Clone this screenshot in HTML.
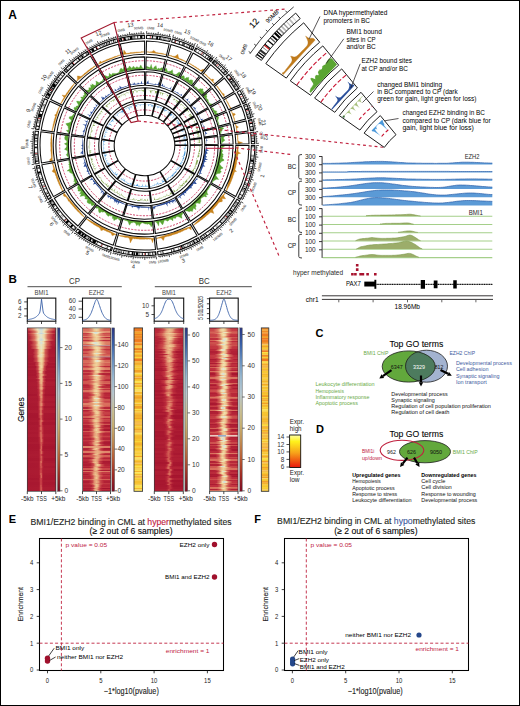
<!DOCTYPE html><html><head><meta charset="utf-8"><style>html,body{margin:0;padding:0;background:#fff}svg{display:block}</style></head><body><svg width="520" height="706" viewBox="0 0 520 706" font-family="'Liberation Sans', sans-serif"><defs><linearGradient id="a0"><stop offset="0.00" stop-color="#c0313f"/><stop offset="0.18" stop-color="#df856a"/><stop offset="0.35" stop-color="#ece3be"/><stop offset="0.48" stop-color="#c6d8de"/><stop offset="0.62" stop-color="#ece3be"/><stop offset="0.79" stop-color="#df856a"/><stop offset="1.00" stop-color="#be2e3d"/></linearGradient><linearGradient id="a1"><stop offset="0.00" stop-color="#b9293a"/><stop offset="0.01" stop-color="#ba293a"/><stop offset="0.22" stop-color="#dd7c65"/><stop offset="0.37" stop-color="#f1e2b1"/><stop offset="0.49" stop-color="#d4e0dc"/><stop offset="0.61" stop-color="#f1e2b2"/><stop offset="0.75" stop-color="#dd7e66"/><stop offset="0.97" stop-color="#bb2b3b"/><stop offset="1.00" stop-color="#ba2a3a"/></linearGradient><linearGradient id="a2"><stop offset="0.00" stop-color="#b22236"/><stop offset="0.08" stop-color="#b52437"/><stop offset="0.27" stop-color="#db7561"/><stop offset="0.39" stop-color="#f2e2b0"/><stop offset="0.49" stop-color="#d4e0dc"/><stop offset="0.59" stop-color="#f2e2b1"/><stop offset="0.71" stop-color="#db7762"/><stop offset="0.90" stop-color="#b62538"/><stop offset="1.00" stop-color="#b32336"/></linearGradient><linearGradient id="a3"><stop offset="0.00" stop-color="#b42437"/><stop offset="0.20" stop-color="#dc7a63"/><stop offset="0.36" stop-color="#ebe3bf"/><stop offset="0.49" stop-color="#c1d5df"/><stop offset="0.62" stop-color="#ebe3bf"/><stop offset="0.77" stop-color="#dc7b64"/><stop offset="1.00" stop-color="#b32336"/><stop offset="1.00" stop-color="#b32336"/></linearGradient><linearGradient id="a4"><stop offset="0.00" stop-color="#b01f35"/><stop offset="0.04" stop-color="#b12135"/><stop offset="0.23" stop-color="#d86b5a"/><stop offset="0.37" stop-color="#f1daa6"/><stop offset="0.48" stop-color="#e1e6d6"/><stop offset="0.59" stop-color="#f1d9a5"/><stop offset="0.72" stop-color="#d76859"/><stop offset="0.92" stop-color="#b01f34"/><stop offset="1.00" stop-color="#ad1d33"/></linearGradient><linearGradient id="a5"><stop offset="0.00" stop-color="#ae1e34"/><stop offset="0.07" stop-color="#b02035"/><stop offset="0.25" stop-color="#d76859"/><stop offset="0.38" stop-color="#f1d8a4"/><stop offset="0.48" stop-color="#e2e5d4"/><stop offset="0.59" stop-color="#f1d9a5"/><stop offset="0.71" stop-color="#d86b5b"/><stop offset="0.90" stop-color="#b22236"/><stop offset="1.00" stop-color="#b01f34"/></linearGradient><linearGradient id="a6"><stop offset="0.00" stop-color="#af1e34"/><stop offset="0.08" stop-color="#b12135"/><stop offset="0.26" stop-color="#d9705d"/><stop offset="0.38" stop-color="#f2e1af"/><stop offset="0.49" stop-color="#d5e0dc"/><stop offset="0.59" stop-color="#f2e1ae"/><stop offset="0.71" stop-color="#d96f5d"/><stop offset="0.90" stop-color="#b12035"/><stop offset="1.00" stop-color="#ae1e33"/></linearGradient><linearGradient id="a7"><stop offset="0.00" stop-color="#ae1d33"/><stop offset="0.04" stop-color="#af1e34"/><stop offset="0.24" stop-color="#da705e"/><stop offset="0.38" stop-color="#f0e2b4"/><stop offset="0.49" stop-color="#ccdcdd"/><stop offset="0.60" stop-color="#f0e2b5"/><stop offset="0.74" stop-color="#da725f"/><stop offset="0.94" stop-color="#b02035"/><stop offset="1.00" stop-color="#ae1d33"/></linearGradient><linearGradient id="a8"><stop offset="0.00" stop-color="#ac1b32"/><stop offset="0.12" stop-color="#ae1e33"/><stop offset="0.28" stop-color="#d56457"/><stop offset="0.39" stop-color="#f0d7a2"/><stop offset="0.48" stop-color="#e3e5d1"/><stop offset="0.57" stop-color="#f0d7a2"/><stop offset="0.67" stop-color="#d66658"/><stop offset="0.83" stop-color="#b01f34"/><stop offset="1.00" stop-color="#ad1c33"/></linearGradient><linearGradient id="a9"><stop offset="0.00" stop-color="#ab1b32"/><stop offset="0.14" stop-color="#ae1e33"/><stop offset="0.30" stop-color="#d86b5a"/><stop offset="0.40" stop-color="#f2dfac"/><stop offset="0.49" stop-color="#d7e1db"/><stop offset="0.58" stop-color="#f2dfad"/><stop offset="0.69" stop-color="#d96d5c"/><stop offset="0.85" stop-color="#b01f35"/><stop offset="1.00" stop-color="#ad1d33"/></linearGradient><linearGradient id="a10"><stop offset="0.00" stop-color="#a91830"/><stop offset="0.09" stop-color="#ab1b32"/><stop offset="0.27" stop-color="#d35d54"/><stop offset="0.38" stop-color="#f0d39d"/><stop offset="0.48" stop-color="#e6e4ca"/><stop offset="0.58" stop-color="#f0d39e"/><stop offset="0.70" stop-color="#d46155"/><stop offset="0.88" stop-color="#ae1d33"/><stop offset="1.00" stop-color="#ab1b32"/></linearGradient><linearGradient id="a11"><stop offset="0.00" stop-color="#aa1a31"/><stop offset="0.13" stop-color="#ad1c33"/><stop offset="0.29" stop-color="#d25c53"/><stop offset="0.40" stop-color="#efcf99"/><stop offset="0.49" stop-color="#eae4c2"/><stop offset="0.58" stop-color="#efcf98"/><stop offset="0.68" stop-color="#d15a52"/><stop offset="0.84" stop-color="#ac1b32"/><stop offset="1.00" stop-color="#a91830"/></linearGradient><linearGradient id="a12"><stop offset="0.00" stop-color="#a91830"/><stop offset="0.11" stop-color="#ab1a32"/><stop offset="0.28" stop-color="#d25b53"/><stop offset="0.39" stop-color="#efd19b"/><stop offset="0.49" stop-color="#e8e4c6"/><stop offset="0.58" stop-color="#efd09a"/><stop offset="0.70" stop-color="#d05851"/><stop offset="0.87" stop-color="#a91830"/><stop offset="1.00" stop-color="#a6152f"/></linearGradient><linearGradient id="a13"><stop offset="0.00" stop-color="#a91830"/><stop offset="0.21" stop-color="#ab1b32"/><stop offset="0.34" stop-color="#d05751"/><stop offset="0.42" stop-color="#eecb94"/><stop offset="0.49" stop-color="#ede3ba"/><stop offset="0.56" stop-color="#eecb93"/><stop offset="0.64" stop-color="#cf544f"/><stop offset="0.77" stop-color="#aa1931"/><stop offset="1.00" stop-color="#a7162f"/></linearGradient><linearGradient id="a14"><stop offset="0.00" stop-color="#aa1a31"/><stop offset="0.21" stop-color="#ad1c33"/><stop offset="0.33" stop-color="#d25c53"/><stop offset="0.42" stop-color="#efcf98"/><stop offset="0.49" stop-color="#eae4c1"/><stop offset="0.56" stop-color="#efce98"/><stop offset="0.64" stop-color="#d15952"/><stop offset="0.77" stop-color="#ab1a32"/><stop offset="1.00" stop-color="#a81830"/></linearGradient><linearGradient id="a15"><stop offset="0.00" stop-color="#ab1a31"/><stop offset="0.19" stop-color="#ad1c33"/><stop offset="0.32" stop-color="#d05650"/><stop offset="0.41" stop-color="#eec78f"/><stop offset="0.48" stop-color="#f1e2b2"/><stop offset="0.55" stop-color="#eec78f"/><stop offset="0.64" stop-color="#cf544f"/><stop offset="0.77" stop-color="#ac1b32"/><stop offset="1.00" stop-color="#a91931"/></linearGradient><linearGradient id="a16"><stop offset="0.00" stop-color="#ac1c32"/><stop offset="0.22" stop-color="#af1e34"/><stop offset="0.34" stop-color="#d46055"/><stop offset="0.42" stop-color="#efd19b"/><stop offset="0.49" stop-color="#e9e4c5"/><stop offset="0.56" stop-color="#efd09a"/><stop offset="0.64" stop-color="#d35e54"/><stop offset="0.76" stop-color="#ad1d33"/><stop offset="1.00" stop-color="#ab1a31"/></linearGradient><linearGradient id="a17"><stop offset="0.00" stop-color="#a91830"/><stop offset="0.19" stop-color="#ac1b32"/><stop offset="0.32" stop-color="#d15a52"/><stop offset="0.40" stop-color="#efcf98"/><stop offset="0.48" stop-color="#eae4c2"/><stop offset="0.55" stop-color="#efcf99"/><stop offset="0.64" stop-color="#d35e54"/><stop offset="0.77" stop-color="#ae1e33"/><stop offset="1.00" stop-color="#ac1b32"/></linearGradient><linearGradient id="a18"><stop offset="0.00" stop-color="#a81730"/><stop offset="0.19" stop-color="#aa1a31"/><stop offset="0.32" stop-color="#cd4e4d"/><stop offset="0.41" stop-color="#ecc08c"/><stop offset="0.48" stop-color="#f1deab"/><stop offset="0.55" stop-color="#ecc08b"/><stop offset="0.64" stop-color="#cc4d4c"/><stop offset="0.77" stop-color="#a91831"/><stop offset="1.00" stop-color="#a7162f"/></linearGradient><linearGradient id="a19"><stop offset="0.00" stop-color="#a7162f"/><stop offset="0.21" stop-color="#a91931"/><stop offset="0.33" stop-color="#ca494a"/><stop offset="0.41" stop-color="#ebb887"/><stop offset="0.48" stop-color="#f0d8a3"/><stop offset="0.55" stop-color="#ebb887"/><stop offset="0.63" stop-color="#cb4a4a"/><stop offset="0.75" stop-color="#aa1931"/><stop offset="1.00" stop-color="#a81730"/></linearGradient><linearGradient id="a20"><stop offset="0.00" stop-color="#a91830"/><stop offset="0.20" stop-color="#ab1a32"/><stop offset="0.33" stop-color="#cd4e4d"/><stop offset="0.41" stop-color="#ecbf8b"/><stop offset="0.48" stop-color="#f1dda9"/><stop offset="0.55" stop-color="#ecbf8b"/><stop offset="0.64" stop-color="#cd4f4d"/><stop offset="0.77" stop-color="#ab1b32"/><stop offset="1.00" stop-color="#a91830"/></linearGradient><linearGradient id="a21"><stop offset="0.00" stop-color="#ab1b32"/><stop offset="0.28" stop-color="#ad1d33"/><stop offset="0.37" stop-color="#cc4d4c"/><stop offset="0.44" stop-color="#eab586"/><stop offset="0.49" stop-color="#f0d49f"/><stop offset="0.55" stop-color="#eab686"/><stop offset="0.61" stop-color="#cd4f4d"/><stop offset="0.71" stop-color="#af1e34"/><stop offset="1.00" stop-color="#ad1c33"/></linearGradient><linearGradient id="a22"><stop offset="0.00" stop-color="#a81730"/><stop offset="0.25" stop-color="#aa1931"/><stop offset="0.36" stop-color="#c94649"/><stop offset="0.43" stop-color="#e9b183"/><stop offset="0.49" stop-color="#f0d29c"/><stop offset="0.55" stop-color="#e9b183"/><stop offset="0.63" stop-color="#c84447"/><stop offset="0.74" stop-color="#a81830"/><stop offset="1.00" stop-color="#a6152f"/></linearGradient><linearGradient id="a23"><stop offset="0.00" stop-color="#ac1b32"/><stop offset="0.26" stop-color="#ae1d33"/><stop offset="0.36" stop-color="#cf534f"/><stop offset="0.43" stop-color="#ecc08c"/><stop offset="0.48" stop-color="#f1ddaa"/><stop offset="0.54" stop-color="#ecc08b"/><stop offset="0.61" stop-color="#cd504e"/><stop offset="0.71" stop-color="#ac1b32"/><stop offset="1.00" stop-color="#aa1931"/></linearGradient><linearGradient id="a24"><stop offset="0.00" stop-color="#a7162f"/><stop offset="0.29" stop-color="#a91830"/><stop offset="0.38" stop-color="#cb4b4b"/><stop offset="0.44" stop-color="#ecbe8a"/><stop offset="0.49" stop-color="#f1dca9"/><stop offset="0.54" stop-color="#ecbd8a"/><stop offset="0.60" stop-color="#ca494a"/><stop offset="0.68" stop-color="#a81730"/><stop offset="1.00" stop-color="#a5142e"/></linearGradient><linearGradient id="a25"><stop offset="0.00" stop-color="#ab1a32"/><stop offset="0.28" stop-color="#ad1c33"/><stop offset="0.37" stop-color="#cb4b4b"/><stop offset="0.43" stop-color="#eab384"/><stop offset="0.48" stop-color="#f0d29c"/><stop offset="0.53" stop-color="#eab384"/><stop offset="0.59" stop-color="#cc4d4c"/><stop offset="0.67" stop-color="#ae1d33"/><stop offset="1.00" stop-color="#ac1b32"/></linearGradient><linearGradient id="a26"><stop offset="0.00" stop-color="#a7162f"/><stop offset="0.28" stop-color="#a91830"/><stop offset="0.38" stop-color="#c63e45"/><stop offset="0.44" stop-color="#e7a57d"/><stop offset="0.49" stop-color="#eec890"/><stop offset="0.54" stop-color="#e7a57d"/><stop offset="0.60" stop-color="#c63f45"/><stop offset="0.70" stop-color="#a91931"/><stop offset="1.00" stop-color="#a7172f"/></linearGradient><linearGradient id="a27"><stop offset="0.00" stop-color="#a81730"/><stop offset="0.30" stop-color="#aa1931"/><stop offset="0.38" stop-color="#ca4749"/><stop offset="0.43" stop-color="#eab385"/><stop offset="0.48" stop-color="#f0d39e"/><stop offset="0.52" stop-color="#eab384"/><stop offset="0.57" stop-color="#c94548"/><stop offset="0.65" stop-color="#a91830"/><stop offset="1.00" stop-color="#a7162f"/></linearGradient><linearGradient id="a28"><stop offset="0.00" stop-color="#a91830"/><stop offset="0.31" stop-color="#ab1a31"/><stop offset="0.39" stop-color="#c53b43"/><stop offset="0.44" stop-color="#e49976"/><stop offset="0.48" stop-color="#ebba88"/><stop offset="0.52" stop-color="#e49976"/><stop offset="0.58" stop-color="#c53b44"/><stop offset="0.65" stop-color="#ab1a32"/><stop offset="1.00" stop-color="#a91830"/></linearGradient><linearGradient id="a29"><stop offset="0.00" stop-color="#a7162f"/><stop offset="0.29" stop-color="#a91830"/><stop offset="0.38" stop-color="#c43b43"/><stop offset="0.44" stop-color="#e69e79"/><stop offset="0.49" stop-color="#ecc08b"/><stop offset="0.54" stop-color="#e69f79"/><stop offset="0.61" stop-color="#c53c44"/><stop offset="0.70" stop-color="#aa1931"/><stop offset="1.00" stop-color="#a81730"/></linearGradient><linearGradient id="a30"><stop offset="0.00" stop-color="#aa1931"/><stop offset="0.32" stop-color="#ac1b32"/><stop offset="0.39" stop-color="#c74146"/><stop offset="0.44" stop-color="#e6a27b"/><stop offset="0.48" stop-color="#edc28d"/><stop offset="0.52" stop-color="#e6a17b"/><stop offset="0.56" stop-color="#c53d44"/><stop offset="0.64" stop-color="#a91931"/><stop offset="1.00" stop-color="#a8172f"/></linearGradient><linearGradient id="a31"><stop offset="0.00" stop-color="#ab1b32"/><stop offset="0.28" stop-color="#ad1c33"/><stop offset="0.37" stop-color="#c74247"/><stop offset="0.43" stop-color="#e6a27b"/><stop offset="0.48" stop-color="#edc28d"/><stop offset="0.53" stop-color="#e6a27b"/><stop offset="0.58" stop-color="#c84347"/><stop offset="0.67" stop-color="#ae1d33"/><stop offset="1.00" stop-color="#ac1b32"/></linearGradient><linearGradient id="a32"><stop offset="0.00" stop-color="#a91830"/><stop offset="0.33" stop-color="#ab1a31"/><stop offset="0.41" stop-color="#c53d44"/><stop offset="0.45" stop-color="#e69e79"/><stop offset="0.49" stop-color="#ecbf8b"/><stop offset="0.53" stop-color="#e59d78"/><stop offset="0.58" stop-color="#c43a43"/><stop offset="0.65" stop-color="#a91830"/><stop offset="1.00" stop-color="#a7162f"/></linearGradient><linearGradient id="a33"><stop offset="0.00" stop-color="#a91831"/><stop offset="0.31" stop-color="#ab1a32"/><stop offset="0.39" stop-color="#c53c44"/><stop offset="0.44" stop-color="#e59a77"/><stop offset="0.49" stop-color="#ebbb89"/><stop offset="0.53" stop-color="#e59b77"/><stop offset="0.59" stop-color="#c63e45"/><stop offset="0.67" stop-color="#ac1b32"/><stop offset="1.00" stop-color="#aa1a31"/></linearGradient><linearGradient id="a34"><stop offset="0.00" stop-color="#ab1a31"/><stop offset="0.34" stop-color="#ac1c32"/><stop offset="0.40" stop-color="#c63f45"/><stop offset="0.45" stop-color="#e59d78"/><stop offset="0.49" stop-color="#ecbc8a"/><stop offset="0.52" stop-color="#e59e79"/><stop offset="0.57" stop-color="#c74247"/><stop offset="0.64" stop-color="#af1e34"/><stop offset="1.00" stop-color="#ad1c33"/></linearGradient><linearGradient id="a35"><stop offset="0.00" stop-color="#ab1a32"/><stop offset="0.33" stop-color="#ad1c32"/><stop offset="0.40" stop-color="#c33741"/><stop offset="0.45" stop-color="#e0886c"/><stop offset="0.49" stop-color="#e8a87f"/><stop offset="0.53" stop-color="#e0886c"/><stop offset="0.58" stop-color="#c33742"/><stop offset="0.66" stop-color="#ad1c33"/><stop offset="1.00" stop-color="#ab1b32"/></linearGradient><linearGradient id="a36"><stop offset="0.00" stop-color="#aa1931"/><stop offset="0.34" stop-color="#ab1a32"/><stop offset="0.40" stop-color="#c1333f"/><stop offset="0.45" stop-color="#de8268"/><stop offset="0.49" stop-color="#e7a47c"/><stop offset="0.52" stop-color="#de8168"/><stop offset="0.57" stop-color="#c0303e"/><stop offset="0.64" stop-color="#a91830"/><stop offset="1.00" stop-color="#a7172f"/></linearGradient><linearGradient id="a37"><stop offset="0.00" stop-color="#aa1931"/><stop offset="0.33" stop-color="#ab1b32"/><stop offset="0.40" stop-color="#c43a43"/><stop offset="0.45" stop-color="#e39473"/><stop offset="0.49" stop-color="#eab585"/><stop offset="0.53" stop-color="#e39473"/><stop offset="0.58" stop-color="#c43942"/><stop offset="0.65" stop-color="#ab1a31"/><stop offset="1.00" stop-color="#a91830"/></linearGradient><linearGradient id="a38"><stop offset="0.00" stop-color="#aa1a31"/><stop offset="0.35" stop-color="#ac1b32"/><stop offset="0.41" stop-color="#c23440"/><stop offset="0.45" stop-color="#df8369"/><stop offset="0.49" stop-color="#e7a57d"/><stop offset="0.53" stop-color="#de8269"/><stop offset="0.57" stop-color="#c0313e"/><stop offset="0.63" stop-color="#aa1931"/><stop offset="1.00" stop-color="#a81730"/></linearGradient><linearGradient id="a39"><stop offset="0.00" stop-color="#aa1a31"/><stop offset="0.34" stop-color="#ac1b32"/><stop offset="0.40" stop-color="#be2e3d"/><stop offset="0.45" stop-color="#d96e5c"/><stop offset="0.48" stop-color="#e18b6e"/><stop offset="0.52" stop-color="#d96e5c"/><stop offset="0.56" stop-color="#bd2d3c"/><stop offset="0.63" stop-color="#aa1931"/><stop offset="1.00" stop-color="#a91830"/></linearGradient><linearGradient id="a40"><stop offset="0.00" stop-color="#aa1931"/><stop offset="0.35" stop-color="#ab1b32"/><stop offset="0.41" stop-color="#c0303e"/><stop offset="0.46" stop-color="#dc7b64"/><stop offset="0.49" stop-color="#e59c77"/><stop offset="0.53" stop-color="#dc7a64"/><stop offset="0.57" stop-color="#bf2f3e"/><stop offset="0.64" stop-color="#aa1931"/><stop offset="1.00" stop-color="#a91830"/></linearGradient><linearGradient id="a41"><stop offset="0.00" stop-color="#a6152f"/><stop offset="0.33" stop-color="#a81730"/><stop offset="0.40" stop-color="#bc2c3b"/><stop offset="0.44" stop-color="#da705e"/><stop offset="0.48" stop-color="#e29070"/><stop offset="0.52" stop-color="#d96f5d"/><stop offset="0.56" stop-color="#ba2a3b"/><stop offset="0.62" stop-color="#a6152f"/><stop offset="1.00" stop-color="#a5142e"/></linearGradient><linearGradient id="a42"><stop offset="0.00" stop-color="#ab1a32"/><stop offset="0.36" stop-color="#ad1c32"/><stop offset="0.42" stop-color="#c1313f"/><stop offset="0.46" stop-color="#dc7a64"/><stop offset="0.49" stop-color="#e49a76"/><stop offset="0.52" stop-color="#dc7a63"/><stop offset="0.56" stop-color="#c0303e"/><stop offset="0.62" stop-color="#ac1b32"/><stop offset="1.00" stop-color="#aa1a31"/></linearGradient><linearGradient id="a43"><stop offset="0.00" stop-color="#aa1931"/><stop offset="0.36" stop-color="#ab1a32"/><stop offset="0.42" stop-color="#bc2c3c"/><stop offset="0.46" stop-color="#d66658"/><stop offset="0.49" stop-color="#de8167"/><stop offset="0.52" stop-color="#d76758"/><stop offset="0.56" stop-color="#be2d3d"/><stop offset="0.62" stop-color="#ad1d33"/><stop offset="1.00" stop-color="#ac1b32"/></linearGradient><linearGradient id="a44"><stop offset="0.00" stop-color="#ab1a32"/><stop offset="0.35" stop-color="#ac1b32"/><stop offset="0.41" stop-color="#bd2d3c"/><stop offset="0.45" stop-color="#d76959"/><stop offset="0.48" stop-color="#df8369"/><stop offset="0.51" stop-color="#d76859"/><stop offset="0.55" stop-color="#bc2c3c"/><stop offset="0.61" stop-color="#aa1931"/><stop offset="1.00" stop-color="#a91830"/></linearGradient><linearGradient id="a45"><stop offset="0.00" stop-color="#a91830"/><stop offset="0.35" stop-color="#aa1a31"/><stop offset="0.41" stop-color="#be2e3d"/><stop offset="0.45" stop-color="#da735f"/><stop offset="0.49" stop-color="#e29272"/><stop offset="0.52" stop-color="#db7460"/><stop offset="0.57" stop-color="#c0303e"/><stop offset="0.63" stop-color="#ad1c33"/><stop offset="1.00" stop-color="#ab1b32"/></linearGradient><linearGradient id="a46"><stop offset="0.00" stop-color="#a81730"/><stop offset="0.36" stop-color="#a91830"/><stop offset="0.41" stop-color="#b82839"/><stop offset="0.45" stop-color="#d05751"/><stop offset="0.48" stop-color="#da715e"/><stop offset="0.51" stop-color="#d05751"/><stop offset="0.55" stop-color="#b72739"/><stop offset="0.60" stop-color="#a7162f"/><stop offset="1.00" stop-color="#a6152f"/></linearGradient><linearGradient id="a47"><stop offset="0.00" stop-color="#a91830"/><stop offset="0.36" stop-color="#aa1931"/><stop offset="0.41" stop-color="#bb2b3b"/><stop offset="0.45" stop-color="#d76758"/><stop offset="0.48" stop-color="#de8369"/><stop offset="0.51" stop-color="#d76859"/><stop offset="0.55" stop-color="#bd2c3c"/><stop offset="0.60" stop-color="#ac1b32"/><stop offset="1.00" stop-color="#aa1a31"/></linearGradient><linearGradient id="a48"><stop offset="0.00" stop-color="#ac1b32"/><stop offset="0.37" stop-color="#ad1c33"/><stop offset="0.42" stop-color="#bc2c3c"/><stop offset="0.45" stop-color="#d46055"/><stop offset="0.48" stop-color="#dc7a63"/><stop offset="0.50" stop-color="#d46156"/><stop offset="0.53" stop-color="#bd2d3d"/><stop offset="0.58" stop-color="#af1e34"/><stop offset="1.00" stop-color="#ae1d33"/></linearGradient><linearGradient id="a49"><stop offset="0.00" stop-color="#a7162f"/><stop offset="0.36" stop-color="#a81730"/><stop offset="0.41" stop-color="#ba2a3a"/><stop offset="0.45" stop-color="#d66658"/><stop offset="0.48" stop-color="#de8369"/><stop offset="0.51" stop-color="#d76758"/><stop offset="0.55" stop-color="#bb2b3b"/><stop offset="0.60" stop-color="#a91831"/><stop offset="1.00" stop-color="#a81730"/></linearGradient><linearGradient id="a50"><stop offset="0.00" stop-color="#a6162f"/><stop offset="0.36" stop-color="#a7162f"/><stop offset="0.41" stop-color="#b62638"/><stop offset="0.45" stop-color="#cd504d"/><stop offset="0.48" stop-color="#d76859"/><stop offset="0.50" stop-color="#cd514e"/><stop offset="0.54" stop-color="#b72739"/><stop offset="0.59" stop-color="#a91830"/><stop offset="1.00" stop-color="#a81730"/></linearGradient><linearGradient id="a51"><stop offset="0.00" stop-color="#a81730"/><stop offset="0.39" stop-color="#a91830"/><stop offset="0.43" stop-color="#b62638"/><stop offset="0.46" stop-color="#cd4f4d"/><stop offset="0.49" stop-color="#d76758"/><stop offset="0.51" stop-color="#cd4f4d"/><stop offset="0.54" stop-color="#b62638"/><stop offset="0.59" stop-color="#a81730"/><stop offset="1.00" stop-color="#a7162f"/></linearGradient><linearGradient id="a52"><stop offset="0.00" stop-color="#aa1931"/><stop offset="0.37" stop-color="#ab1a31"/><stop offset="0.42" stop-color="#bb2b3b"/><stop offset="0.46" stop-color="#d46156"/><stop offset="0.49" stop-color="#dd7b64"/><stop offset="0.52" stop-color="#d56256"/><stop offset="0.56" stop-color="#bc2c3b"/><stop offset="0.61" stop-color="#ac1b32"/><stop offset="1.00" stop-color="#ab1a31"/></linearGradient><linearGradient id="a53"><stop offset="0.00" stop-color="#a7172f"/><stop offset="0.38" stop-color="#a81830"/><stop offset="0.42" stop-color="#b82839"/><stop offset="0.45" stop-color="#d15851"/><stop offset="0.48" stop-color="#da725f"/><stop offset="0.50" stop-color="#d15851"/><stop offset="0.53" stop-color="#b82839"/><stop offset="0.57" stop-color="#a81730"/><stop offset="1.00" stop-color="#a7162f"/></linearGradient><linearGradient id="a54"><stop offset="0.00" stop-color="#aa1931"/><stop offset="0.38" stop-color="#ab1a32"/><stop offset="0.43" stop-color="#b82739"/><stop offset="0.46" stop-color="#cc4d4c"/><stop offset="0.48" stop-color="#d56357"/><stop offset="0.51" stop-color="#cc4e4c"/><stop offset="0.54" stop-color="#b9283a"/><stop offset="0.58" stop-color="#ac1b32"/><stop offset="1.00" stop-color="#ab1b32"/></linearGradient><linearGradient id="a55"><stop offset="0.00" stop-color="#a91830"/><stop offset="0.37" stop-color="#aa1931"/><stop offset="0.42" stop-color="#ba293a"/><stop offset="0.45" stop-color="#d25b53"/><stop offset="0.48" stop-color="#db7460"/><stop offset="0.51" stop-color="#d25c53"/><stop offset="0.54" stop-color="#bb2a3b"/><stop offset="0.60" stop-color="#ac1b32"/><stop offset="1.00" stop-color="#ab1a31"/></linearGradient><linearGradient id="a56"><stop offset="0.00" stop-color="#ab1a32"/><stop offset="0.37" stop-color="#ac1b32"/><stop offset="0.42" stop-color="#b72739"/><stop offset="0.46" stop-color="#ca4849"/><stop offset="0.49" stop-color="#d25b53"/><stop offset="0.52" stop-color="#c94749"/><stop offset="0.55" stop-color="#b62638"/><stop offset="0.60" stop-color="#aa1931"/><stop offset="1.00" stop-color="#a91831"/></linearGradient><linearGradient id="a57"><stop offset="0.00" stop-color="#a91830"/><stop offset="0.37" stop-color="#aa1931"/><stop offset="0.42" stop-color="#b9293a"/><stop offset="0.45" stop-color="#d15852"/><stop offset="0.48" stop-color="#da715e"/><stop offset="0.51" stop-color="#d15952"/><stop offset="0.54" stop-color="#b9293a"/><stop offset="0.60" stop-color="#aa1931"/><stop offset="1.00" stop-color="#a91830"/></linearGradient><linearGradient id="a58"><stop offset="0.00" stop-color="#ab1a32"/><stop offset="0.37" stop-color="#ac1b32"/><stop offset="0.42" stop-color="#bb2b3b"/><stop offset="0.46" stop-color="#d35e54"/><stop offset="0.48" stop-color="#db7762"/><stop offset="0.51" stop-color="#d35f55"/><stop offset="0.55" stop-color="#bc2c3c"/><stop offset="0.60" stop-color="#ad1c33"/><stop offset="1.00" stop-color="#ac1b32"/></linearGradient><linearGradient id="a59"><stop offset="0.00" stop-color="#a7172f"/><stop offset="0.38" stop-color="#a81830"/><stop offset="0.43" stop-color="#b82839"/><stop offset="0.46" stop-color="#d15851"/><stop offset="0.49" stop-color="#da725f"/><stop offset="0.51" stop-color="#d15952"/><stop offset="0.54" stop-color="#b9293a"/><stop offset="0.59" stop-color="#aa1931"/><stop offset="1.00" stop-color="#a91830"/></linearGradient><linearGradient id="a60"><stop offset="0.00" stop-color="#a8172f"/><stop offset="0.38" stop-color="#a91830"/><stop offset="0.43" stop-color="#b9293a"/><stop offset="0.47" stop-color="#d35d54"/><stop offset="0.49" stop-color="#dc7862"/><stop offset="0.52" stop-color="#d35d54"/><stop offset="0.55" stop-color="#b9293a"/><stop offset="0.60" stop-color="#a91830"/><stop offset="1.00" stop-color="#a81730"/></linearGradient><linearGradient id="a61"><stop offset="0.00" stop-color="#ab1a31"/><stop offset="0.39" stop-color="#ab1b32"/><stop offset="0.43" stop-color="#b72739"/><stop offset="0.46" stop-color="#ca484a"/><stop offset="0.49" stop-color="#d25c53"/><stop offset="0.52" stop-color="#ca484a"/><stop offset="0.55" stop-color="#b72638"/><stop offset="0.59" stop-color="#ab1a31"/><stop offset="1.00" stop-color="#aa1931"/></linearGradient><linearGradient id="a62"><stop offset="0.00" stop-color="#a7162f"/><stop offset="0.40" stop-color="#a81730"/><stop offset="0.44" stop-color="#b52538"/><stop offset="0.47" stop-color="#cb4a4b"/><stop offset="0.49" stop-color="#d46156"/><stop offset="0.51" stop-color="#cb4a4b"/><stop offset="0.54" stop-color="#b52538"/><stop offset="0.58" stop-color="#a81730"/><stop offset="1.00" stop-color="#a7162f"/></linearGradient><linearGradient id="a63"><stop offset="0.00" stop-color="#a7162f"/><stop offset="0.41" stop-color="#a8172f"/><stop offset="0.45" stop-color="#b72739"/><stop offset="0.47" stop-color="#d05751"/><stop offset="0.49" stop-color="#da715e"/><stop offset="0.51" stop-color="#d05650"/><stop offset="0.53" stop-color="#b62638"/><stop offset="0.57" stop-color="#a6152e"/><stop offset="1.00" stop-color="#a5142e"/></linearGradient><linearGradient id="a64"><stop offset="0.00" stop-color="#a81730"/><stop offset="0.40" stop-color="#a91830"/><stop offset="0.43" stop-color="#b82839"/><stop offset="0.46" stop-color="#d05751"/><stop offset="0.48" stop-color="#d9705d"/><stop offset="0.50" stop-color="#d05751"/><stop offset="0.52" stop-color="#b82839"/><stop offset="0.56" stop-color="#a91831"/><stop offset="1.00" stop-color="#a81730"/></linearGradient><linearGradient id="a65"><stop offset="0.00" stop-color="#aa1931"/><stop offset="0.40" stop-color="#ab1a32"/><stop offset="0.44" stop-color="#ba2a3a"/><stop offset="0.47" stop-color="#d15952"/><stop offset="0.49" stop-color="#da715e"/><stop offset="0.52" stop-color="#d15952"/><stop offset="0.54" stop-color="#ba2a3a"/><stop offset="0.59" stop-color="#ab1a32"/><stop offset="1.00" stop-color="#aa1931"/></linearGradient><linearGradient id="a66"><stop offset="0.00" stop-color="#ab1b32"/><stop offset="0.40" stop-color="#ac1b32"/><stop offset="0.44" stop-color="#b62538"/><stop offset="0.46" stop-color="#c63e45"/><stop offset="0.48" stop-color="#cd4e4d"/><stop offset="0.50" stop-color="#c63d44"/><stop offset="0.53" stop-color="#b52537"/><stop offset="0.57" stop-color="#ab1a32"/><stop offset="1.00" stop-color="#aa1a31"/></linearGradient><linearGradient id="a67"><stop offset="0.00" stop-color="#aa1931"/><stop offset="0.40" stop-color="#ab1a32"/><stop offset="0.44" stop-color="#b8283a"/><stop offset="0.47" stop-color="#ce514e"/><stop offset="0.49" stop-color="#d76759"/><stop offset="0.51" stop-color="#ce514e"/><stop offset="0.54" stop-color="#b9283a"/><stop offset="0.58" stop-color="#ab1b32"/><stop offset="1.00" stop-color="#ab1a31"/></linearGradient><linearGradient id="a68"><stop offset="0.00" stop-color="#a81730"/><stop offset="0.40" stop-color="#a91830"/><stop offset="0.44" stop-color="#b52538"/><stop offset="0.47" stop-color="#c94649"/><stop offset="0.49" stop-color="#d25b53"/><stop offset="0.52" stop-color="#c94548"/><stop offset="0.54" stop-color="#b42437"/><stop offset="0.59" stop-color="#a7162f"/><stop offset="1.00" stop-color="#a6162f"/></linearGradient><linearGradient id="a69"><stop offset="0.00" stop-color="#ab1a32"/><stop offset="0.40" stop-color="#ac1b32"/><stop offset="0.44" stop-color="#bb2b3b"/><stop offset="0.46" stop-color="#d25c53"/><stop offset="0.49" stop-color="#db7560"/><stop offset="0.51" stop-color="#d25b53"/><stop offset="0.53" stop-color="#ba2a3a"/><stop offset="0.57" stop-color="#aa1a31"/><stop offset="1.00" stop-color="#a91831"/></linearGradient><linearGradient id="a70"><stop offset="0.00" stop-color="#a91831"/><stop offset="0.39" stop-color="#aa1931"/><stop offset="0.43" stop-color="#b72638"/><stop offset="0.45" stop-color="#cb4a4b"/><stop offset="0.48" stop-color="#d45f55"/><stop offset="0.50" stop-color="#cb4a4b"/><stop offset="0.52" stop-color="#b82839"/><stop offset="0.56" stop-color="#ad1c32"/><stop offset="1.00" stop-color="#ac1b32"/></linearGradient><linearGradient id="a71"><stop offset="0.00" stop-color="#a91830"/><stop offset="0.39" stop-color="#aa1931"/><stop offset="0.43" stop-color="#b62538"/><stop offset="0.46" stop-color="#c94649"/><stop offset="0.49" stop-color="#d15a52"/><stop offset="0.51" stop-color="#c94649"/><stop offset="0.54" stop-color="#b62538"/><stop offset="0.58" stop-color="#aa1931"/><stop offset="1.00" stop-color="#a91830"/></linearGradient><linearGradient id="a72"><stop offset="0.00" stop-color="#aa1931"/><stop offset="0.40" stop-color="#ab1a31"/><stop offset="0.44" stop-color="#b42437"/><stop offset="0.46" stop-color="#c43a43"/><stop offset="0.48" stop-color="#cb4a4b"/><stop offset="0.50" stop-color="#c53b43"/><stop offset="0.53" stop-color="#b62638"/><stop offset="0.57" stop-color="#ad1c33"/><stop offset="1.00" stop-color="#ad1c32"/></linearGradient><linearGradient id="a73"><stop offset="0.00" stop-color="#ab1b32"/><stop offset="0.40" stop-color="#ac1b32"/><stop offset="0.43" stop-color="#b62638"/><stop offset="0.46" stop-color="#c74146"/><stop offset="0.48" stop-color="#ce534f"/><stop offset="0.50" stop-color="#c74146"/><stop offset="0.52" stop-color="#b62638"/><stop offset="0.56" stop-color="#ac1b32"/><stop offset="1.00" stop-color="#ab1a32"/></linearGradient><linearGradient id="a74"><stop offset="0.00" stop-color="#ab1a31"/><stop offset="0.40" stop-color="#ac1b32"/><stop offset="0.44" stop-color="#ba2a3a"/><stop offset="0.46" stop-color="#d05751"/><stop offset="0.48" stop-color="#d96f5d"/><stop offset="0.50" stop-color="#d05751"/><stop offset="0.53" stop-color="#b9283a"/><stop offset="0.56" stop-color="#aa1931"/><stop offset="1.00" stop-color="#a91830"/></linearGradient><linearGradient id="a75"><stop offset="0.00" stop-color="#aa1931"/><stop offset="0.42" stop-color="#ab1a31"/><stop offset="0.45" stop-color="#b9293a"/><stop offset="0.47" stop-color="#d05751"/><stop offset="0.49" stop-color="#d9705d"/><stop offset="0.51" stop-color="#d05650"/><stop offset="0.53" stop-color="#b72739"/><stop offset="0.56" stop-color="#a81730"/><stop offset="1.00" stop-color="#a7162f"/></linearGradient><linearGradient id="a76"><stop offset="0.00" stop-color="#a7162f"/><stop offset="0.40" stop-color="#a81730"/><stop offset="0.43" stop-color="#b32336"/><stop offset="0.46" stop-color="#c53d44"/><stop offset="0.48" stop-color="#cd4f4d"/><stop offset="0.50" stop-color="#c53c44"/><stop offset="0.53" stop-color="#b32236"/><stop offset="0.57" stop-color="#a7162f"/><stop offset="1.00" stop-color="#a7162f"/></linearGradient><linearGradient id="a77"><stop offset="0.00" stop-color="#aa1931"/><stop offset="0.39" stop-color="#aa1a31"/><stop offset="0.43" stop-color="#b42337"/><stop offset="0.46" stop-color="#c43942"/><stop offset="0.48" stop-color="#ca494a"/><stop offset="0.50" stop-color="#c43942"/><stop offset="0.52" stop-color="#b42337"/><stop offset="0.56" stop-color="#aa1a31"/><stop offset="1.00" stop-color="#aa1931"/></linearGradient><linearGradient id="a78"><stop offset="0.00" stop-color="#a81730"/><stop offset="0.40" stop-color="#a81830"/><stop offset="0.44" stop-color="#b32236"/><stop offset="0.46" stop-color="#c43b43"/><stop offset="0.48" stop-color="#cc4d4c"/><stop offset="0.50" stop-color="#c43a43"/><stop offset="0.53" stop-color="#b22236"/><stop offset="0.56" stop-color="#a81730"/><stop offset="1.00" stop-color="#a7162f"/></linearGradient><linearGradient id="a79"><stop offset="0.00" stop-color="#a91830"/><stop offset="0.41" stop-color="#a91931"/><stop offset="0.44" stop-color="#b62538"/><stop offset="0.46" stop-color="#c94749"/><stop offset="0.48" stop-color="#d25c53"/><stop offset="0.50" stop-color="#c94749"/><stop offset="0.52" stop-color="#b62638"/><stop offset="0.55" stop-color="#aa1931"/><stop offset="1.00" stop-color="#a91831"/></linearGradient><linearGradient id="a80"><stop offset="0.00" stop-color="#aa1931"/><stop offset="0.40" stop-color="#ab1a31"/><stop offset="0.44" stop-color="#b62638"/><stop offset="0.46" stop-color="#c94749"/><stop offset="0.49" stop-color="#d25b53"/><stop offset="0.51" stop-color="#ca484a"/><stop offset="0.53" stop-color="#b82739"/><stop offset="0.57" stop-color="#ac1c32"/><stop offset="1.00" stop-color="#ac1b32"/></linearGradient><linearGradient id="a81"><stop offset="0.00" stop-color="#a81730"/><stop offset="0.41" stop-color="#a81830"/><stop offset="0.44" stop-color="#b62638"/><stop offset="0.47" stop-color="#cc4d4c"/><stop offset="0.49" stop-color="#d66457"/><stop offset="0.51" stop-color="#cc4d4c"/><stop offset="0.54" stop-color="#b52538"/><stop offset="0.58" stop-color="#a8172f"/><stop offset="1.00" stop-color="#a7162f"/></linearGradient><linearGradient id="b0"><stop offset="0.00" stop-color="#d35f55"/><stop offset="0.17" stop-color="#d56357"/><stop offset="0.31" stop-color="#e59d78"/><stop offset="0.41" stop-color="#f1dca9"/><stop offset="0.48" stop-color="#e6e4ca"/><stop offset="0.56" stop-color="#f1ddaa"/><stop offset="0.66" stop-color="#e7a57d"/><stop offset="0.80" stop-color="#da715e"/><stop offset="1.00" stop-color="#d96d5c"/></linearGradient><linearGradient id="b1"><stop offset="0.00" stop-color="#d96f5d"/><stop offset="0.21" stop-color="#da715e"/><stop offset="0.34" stop-color="#e39574"/><stop offset="0.42" stop-color="#eec68f"/><stop offset="0.50" stop-color="#f0d49f"/><stop offset="0.57" stop-color="#edc38d"/><stop offset="0.65" stop-color="#e18b6d"/><stop offset="0.78" stop-color="#d56256"/><stop offset="1.00" stop-color="#d45f55"/></linearGradient><linearGradient id="b2"><stop offset="0.00" stop-color="#de8167"/><stop offset="0.18" stop-color="#de8268"/><stop offset="0.32" stop-color="#e49875"/><stop offset="0.42" stop-color="#eab686"/><stop offset="0.49" stop-color="#edc38d"/><stop offset="0.57" stop-color="#ebb988"/><stop offset="0.66" stop-color="#e6a27b"/><stop offset="0.80" stop-color="#e29171"/><stop offset="1.00" stop-color="#e28f70"/></linearGradient><linearGradient id="b3"><stop offset="0.00" stop-color="#df866b"/><stop offset="0.10" stop-color="#e08a6d"/><stop offset="0.27" stop-color="#ebbb89"/><stop offset="0.38" stop-color="#e8e4c6"/><stop offset="0.47" stop-color="#d0dddc"/><stop offset="0.57" stop-color="#e8e4c6"/><stop offset="0.68" stop-color="#ebb988"/><stop offset="0.85" stop-color="#df866b"/><stop offset="1.00" stop-color="#de8369"/></linearGradient><linearGradient id="b4"><stop offset="0.00" stop-color="#c43942"/><stop offset="0.20" stop-color="#c63e45"/><stop offset="0.33" stop-color="#e18d6f"/><stop offset="0.41" stop-color="#f1e2b2"/><stop offset="0.48" stop-color="#d9e3db"/><stop offset="0.55" stop-color="#f0e2b4"/><stop offset="0.63" stop-color="#e39674"/><stop offset="0.75" stop-color="#cc4c4c"/><stop offset="1.00" stop-color="#ca4749"/></linearGradient><linearGradient id="b5"><stop offset="0.00" stop-color="#cc4d4c"/><stop offset="0.15" stop-color="#cd504e"/><stop offset="0.30" stop-color="#dd7f67"/><stop offset="0.39" stop-color="#edc18c"/><stop offset="0.47" stop-color="#f0d59f"/><stop offset="0.54" stop-color="#edc38d"/><stop offset="0.64" stop-color="#df866b"/><stop offset="0.78" stop-color="#d25b53"/><stop offset="1.00" stop-color="#d05851"/></linearGradient><linearGradient id="b6"><stop offset="0.00" stop-color="#dc7a64"/><stop offset="0.21" stop-color="#dd7c65"/><stop offset="0.34" stop-color="#e69e79"/><stop offset="0.44" stop-color="#eeca92"/><stop offset="0.51" stop-color="#f0d7a2"/><stop offset="0.59" stop-color="#eeca93"/><stop offset="0.68" stop-color="#e7a37c"/><stop offset="0.82" stop-color="#df8469"/><stop offset="1.00" stop-color="#de8268"/></linearGradient><linearGradient id="b7"><stop offset="0.00" stop-color="#c1323f"/><stop offset="0.14" stop-color="#c23540"/><stop offset="0.30" stop-color="#d76859"/><stop offset="0.41" stop-color="#eab485"/><stop offset="0.50" stop-color="#efcd96"/><stop offset="0.59" stop-color="#e9b083"/><stop offset="0.70" stop-color="#d15952"/><stop offset="0.86" stop-color="#b82839"/><stop offset="1.00" stop-color="#b72638"/></linearGradient><linearGradient id="b8"><stop offset="0.00" stop-color="#d86b5b"/><stop offset="0.18" stop-color="#d96d5c"/><stop offset="0.32" stop-color="#e29171"/><stop offset="0.41" stop-color="#edc28d"/><stop offset="0.49" stop-color="#efd29c"/><stop offset="0.57" stop-color="#edc48e"/><stop offset="0.66" stop-color="#e49976"/><stop offset="0.81" stop-color="#dc7963"/><stop offset="1.00" stop-color="#db7762"/></linearGradient><linearGradient id="b9"><stop offset="0.00" stop-color="#bf2f3d"/><stop offset="0.21" stop-color="#c0313e"/><stop offset="0.34" stop-color="#d46156"/><stop offset="0.42" stop-color="#e8ac80"/><stop offset="0.48" stop-color="#eec68f"/><stop offset="0.55" stop-color="#e8ab80"/><stop offset="0.63" stop-color="#d25c53"/><stop offset="0.75" stop-color="#bd2d3c"/><stop offset="1.00" stop-color="#bb2b3b"/></linearGradient><linearGradient id="b10"><stop offset="0.00" stop-color="#d96d5c"/><stop offset="0.21" stop-color="#d96f5d"/><stop offset="0.36" stop-color="#e18c6e"/><stop offset="0.45" stop-color="#eab686"/><stop offset="0.53" stop-color="#eec790"/><stop offset="0.61" stop-color="#eab686"/><stop offset="0.71" stop-color="#e18c6e"/><stop offset="0.85" stop-color="#d96e5d"/><stop offset="1.00" stop-color="#d96c5b"/></linearGradient><linearGradient id="b11"><stop offset="0.00" stop-color="#df876b"/><stop offset="0.10" stop-color="#e08a6d"/><stop offset="0.26" stop-color="#ebb988"/><stop offset="0.37" stop-color="#ebe4c0"/><stop offset="0.46" stop-color="#d7e2db"/><stop offset="0.56" stop-color="#ebe3be"/><stop offset="0.67" stop-color="#eab485"/><stop offset="0.83" stop-color="#de8067"/><stop offset="1.00" stop-color="#dd7c65"/></linearGradient><linearGradient id="b12"><stop offset="0.00" stop-color="#d46155"/><stop offset="0.20" stop-color="#d66557"/><stop offset="0.35" stop-color="#e69e79"/><stop offset="0.45" stop-color="#f1dda9"/><stop offset="0.53" stop-color="#e6e5cb"/><stop offset="0.62" stop-color="#f2dfac"/><stop offset="0.72" stop-color="#e8aa7f"/><stop offset="0.87" stop-color="#dc7a64"/><stop offset="1.00" stop-color="#db7762"/></linearGradient><linearGradient id="b13"><stop offset="0.00" stop-color="#d66658"/><stop offset="0.15" stop-color="#d76859"/><stop offset="0.30" stop-color="#e29272"/><stop offset="0.40" stop-color="#eec992"/><stop offset="0.48" stop-color="#f1d9a5"/><stop offset="0.56" stop-color="#eeca92"/><stop offset="0.66" stop-color="#e39372"/><stop offset="0.81" stop-color="#d86a5a"/><stop offset="1.00" stop-color="#d76758"/></linearGradient><linearGradient id="b14"><stop offset="0.00" stop-color="#c94649"/><stop offset="0.11" stop-color="#ca494a"/><stop offset="0.28" stop-color="#da735f"/><stop offset="0.39" stop-color="#eab284"/><stop offset="0.48" stop-color="#eec991"/><stop offset="0.57" stop-color="#e9b083"/><stop offset="0.67" stop-color="#d96d5c"/><stop offset="0.84" stop-color="#c63f45"/><stop offset="1.00" stop-color="#c53c44"/></linearGradient><linearGradient id="b15"><stop offset="0.00" stop-color="#d66557"/><stop offset="0.18" stop-color="#d76859"/><stop offset="0.33" stop-color="#e39473"/><stop offset="0.43" stop-color="#efcd96"/><stop offset="0.51" stop-color="#f1deab"/><stop offset="0.60" stop-color="#efcc94"/><stop offset="0.70" stop-color="#e18c6e"/><stop offset="0.85" stop-color="#d25b53"/><stop offset="1.00" stop-color="#d05851"/></linearGradient><linearGradient id="b16"><stop offset="0.00" stop-color="#c23440"/><stop offset="0.25" stop-color="#c33842"/><stop offset="0.38" stop-color="#d96f5d"/><stop offset="0.46" stop-color="#ecbe8b"/><stop offset="0.53" stop-color="#f0d5a1"/><stop offset="0.60" stop-color="#ecbe8a"/><stop offset="0.68" stop-color="#d96d5c"/><stop offset="0.80" stop-color="#c23440"/><stop offset="1.00" stop-color="#c0313e"/></linearGradient><linearGradient id="b17"><stop offset="0.00" stop-color="#c0303e"/><stop offset="0.20" stop-color="#c23440"/><stop offset="0.35" stop-color="#da725f"/><stop offset="0.45" stop-color="#eec890"/><stop offset="0.53" stop-color="#f1dfac"/><stop offset="0.61" stop-color="#eeca93"/><stop offset="0.71" stop-color="#de8067"/><stop offset="0.86" stop-color="#ca494a"/><stop offset="1.00" stop-color="#c94548"/></linearGradient><linearGradient id="b18"><stop offset="0.00" stop-color="#d15851"/><stop offset="0.16" stop-color="#d25b53"/><stop offset="0.32" stop-color="#df856a"/><stop offset="0.42" stop-color="#ecc08b"/><stop offset="0.51" stop-color="#f0d29d"/><stop offset="0.59" stop-color="#ecbf8b"/><stop offset="0.70" stop-color="#de8067"/><stop offset="0.85" stop-color="#cf544f"/><stop offset="1.00" stop-color="#ce514e"/></linearGradient><linearGradient id="b19"><stop offset="0.00" stop-color="#c33842"/><stop offset="0.16" stop-color="#c63d45"/><stop offset="0.32" stop-color="#e18d6e"/><stop offset="0.43" stop-color="#f1e2b2"/><stop offset="0.52" stop-color="#d8e2db"/><stop offset="0.61" stop-color="#f0e3b5"/><stop offset="0.72" stop-color="#e49976"/><stop offset="0.88" stop-color="#cd504d"/><stop offset="1.00" stop-color="#cb4b4b"/></linearGradient><linearGradient id="b20"><stop offset="0.00" stop-color="#d56256"/><stop offset="0.22" stop-color="#d66558"/><stop offset="0.34" stop-color="#e28f70"/><stop offset="0.42" stop-color="#eec890"/><stop offset="0.49" stop-color="#f0d8a4"/><stop offset="0.56" stop-color="#eec78f"/><stop offset="0.64" stop-color="#e0896c"/><stop offset="0.76" stop-color="#d25c53"/><stop offset="1.00" stop-color="#d15952"/></linearGradient><linearGradient id="b21"><stop offset="0.00" stop-color="#d56356"/><stop offset="0.23" stop-color="#d66558"/><stop offset="0.35" stop-color="#e08b6d"/><stop offset="0.43" stop-color="#ecbf8b"/><stop offset="0.50" stop-color="#efd09a"/><stop offset="0.57" stop-color="#ecc08c"/><stop offset="0.65" stop-color="#e29171"/><stop offset="0.77" stop-color="#d96e5c"/><stop offset="1.00" stop-color="#d86c5b"/></linearGradient><linearGradient id="b22"><stop offset="0.00" stop-color="#c33842"/><stop offset="0.14" stop-color="#c43b43"/><stop offset="0.29" stop-color="#d86c5b"/><stop offset="0.39" stop-color="#eab385"/><stop offset="0.47" stop-color="#efcc95"/><stop offset="0.56" stop-color="#e9b083"/><stop offset="0.66" stop-color="#d35e54"/><stop offset="0.81" stop-color="#bc2c3c"/><stop offset="1.00" stop-color="#bb2b3b"/></linearGradient><linearGradient id="b23"><stop offset="0.00" stop-color="#c0313e"/><stop offset="0.13" stop-color="#c23440"/><stop offset="0.29" stop-color="#d96e5c"/><stop offset="0.40" stop-color="#ecbf8b"/><stop offset="0.49" stop-color="#f0d7a2"/><stop offset="0.58" stop-color="#ecbc89"/><stop offset="0.69" stop-color="#d35f55"/><stop offset="0.85" stop-color="#b82839"/><stop offset="1.00" stop-color="#b62638"/></linearGradient><linearGradient id="b24"><stop offset="0.00" stop-color="#c63d44"/><stop offset="0.19" stop-color="#c74046"/><stop offset="0.32" stop-color="#d86b5a"/><stop offset="0.41" stop-color="#e8ab80"/><stop offset="0.48" stop-color="#edc28d"/><stop offset="0.55" stop-color="#e8aa7f"/><stop offset="0.64" stop-color="#d66558"/><stop offset="0.77" stop-color="#c33842"/><stop offset="1.00" stop-color="#c23541"/></linearGradient><linearGradient id="b25"><stop offset="0.00" stop-color="#d76859"/><stop offset="0.25" stop-color="#d86c5b"/><stop offset="0.38" stop-color="#e7a67d"/><stop offset="0.46" stop-color="#f1e2b3"/><stop offset="0.53" stop-color="#e0e6d8"/><stop offset="0.60" stop-color="#f1e2b3"/><stop offset="0.68" stop-color="#e7a67d"/><stop offset="0.81" stop-color="#d86c5b"/><stop offset="1.00" stop-color="#d76859"/></linearGradient><linearGradient id="b26"><stop offset="0.00" stop-color="#d96d5c"/><stop offset="0.22" stop-color="#d9705d"/><stop offset="0.34" stop-color="#e29272"/><stop offset="0.43" stop-color="#edc28d"/><stop offset="0.50" stop-color="#efd19c"/><stop offset="0.57" stop-color="#edc58e"/><stop offset="0.65" stop-color="#e59d78"/><stop offset="0.78" stop-color="#dd7f66"/><stop offset="1.00" stop-color="#dd7d65"/></linearGradient><linearGradient id="b27"><stop offset="0.00" stop-color="#cf5550"/><stop offset="0.22" stop-color="#d15851"/><stop offset="0.35" stop-color="#de8168"/><stop offset="0.44" stop-color="#ecbc89"/><stop offset="0.51" stop-color="#efcf99"/><stop offset="0.59" stop-color="#ecbd8a"/><stop offset="0.68" stop-color="#df866b"/><stop offset="0.81" stop-color="#d45f55"/><stop offset="1.00" stop-color="#d35d54"/></linearGradient><linearGradient id="b28"><stop offset="0.00" stop-color="#d35f55"/><stop offset="0.16" stop-color="#d56256"/><stop offset="0.31" stop-color="#e08a6d"/><stop offset="0.40" stop-color="#edc28d"/><stop offset="0.49" stop-color="#f0d39e"/><stop offset="0.57" stop-color="#edc28d"/><stop offset="0.67" stop-color="#e08a6d"/><stop offset="0.82" stop-color="#d56256"/><stop offset="1.00" stop-color="#d35f55"/></linearGradient><linearGradient id="b29"><stop offset="0.00" stop-color="#c0303e"/><stop offset="0.17" stop-color="#c13340"/><stop offset="0.31" stop-color="#d46055"/><stop offset="0.40" stop-color="#e7a77e"/><stop offset="0.48" stop-color="#ecbf8b"/><stop offset="0.56" stop-color="#e7a37c"/><stop offset="0.65" stop-color="#ce514e"/><stop offset="0.79" stop-color="#b82839"/><stop offset="1.00" stop-color="#b62638"/></linearGradient><linearGradient id="b30"><stop offset="0.00" stop-color="#ce514e"/><stop offset="0.23" stop-color="#cf544f"/><stop offset="0.37" stop-color="#df856a"/><stop offset="0.45" stop-color="#eec991"/><stop offset="0.53" stop-color="#f1dba7"/><stop offset="0.60" stop-color="#eecb93"/><stop offset="0.69" stop-color="#e29271"/><stop offset="0.82" stop-color="#d66658"/><stop offset="1.00" stop-color="#d56357"/></linearGradient><linearGradient id="b31"><stop offset="0.00" stop-color="#db7762"/><stop offset="0.16" stop-color="#dc7963"/><stop offset="0.31" stop-color="#e59d78"/><stop offset="0.41" stop-color="#eeca93"/><stop offset="0.49" stop-color="#f0d8a4"/><stop offset="0.58" stop-color="#eecb94"/><stop offset="0.68" stop-color="#e6a17a"/><stop offset="0.83" stop-color="#dd7e66"/><stop offset="1.00" stop-color="#dd7c65"/></linearGradient><linearGradient id="b32"><stop offset="0.00" stop-color="#bc2c3c"/><stop offset="0.23" stop-color="#be2d3d"/><stop offset="0.36" stop-color="#d35f55"/><stop offset="0.45" stop-color="#e9ae82"/><stop offset="0.52" stop-color="#eec992"/><stop offset="0.60" stop-color="#e8ab80"/><stop offset="0.68" stop-color="#cf544f"/><stop offset="0.81" stop-color="#b72638"/><stop offset="1.00" stop-color="#b52437"/></linearGradient><linearGradient id="b33"><stop offset="0.00" stop-color="#ba2a3a"/><stop offset="0.27" stop-color="#bc2c3b"/><stop offset="0.38" stop-color="#d76859"/><stop offset="0.46" stop-color="#edc38d"/><stop offset="0.52" stop-color="#f1dca8"/><stop offset="0.59" stop-color="#eec68f"/><stop offset="0.66" stop-color="#da735f"/><stop offset="0.78" stop-color="#c33842"/><stop offset="1.00" stop-color="#c23440"/></linearGradient><linearGradient id="b34"><stop offset="0.00" stop-color="#cd4f4d"/><stop offset="0.26" stop-color="#ce524e"/><stop offset="0.38" stop-color="#de8067"/><stop offset="0.46" stop-color="#edc18c"/><stop offset="0.53" stop-color="#f0d49f"/><stop offset="0.59" stop-color="#edc38d"/><stop offset="0.67" stop-color="#e08a6d"/><stop offset="0.79" stop-color="#d46156"/><stop offset="1.00" stop-color="#d35f54"/></linearGradient><linearGradient id="b35"><stop offset="0.00" stop-color="#ba293a"/><stop offset="0.23" stop-color="#bb2b3b"/><stop offset="0.34" stop-color="#cf534f"/><stop offset="0.41" stop-color="#e69f79"/><stop offset="0.48" stop-color="#ebb887"/><stop offset="0.54" stop-color="#e59c77"/><stop offset="0.61" stop-color="#ca484a"/><stop offset="0.73" stop-color="#b42337"/><stop offset="1.00" stop-color="#b22236"/></linearGradient><linearGradient id="b36"><stop offset="0.00" stop-color="#c94649"/><stop offset="0.17" stop-color="#cb4b4b"/><stop offset="0.32" stop-color="#e29171"/><stop offset="0.42" stop-color="#f1deac"/><stop offset="0.51" stop-color="#e2e5d4"/><stop offset="0.59" stop-color="#f1dda9"/><stop offset="0.69" stop-color="#df846a"/><stop offset="0.85" stop-color="#c43942"/><stop offset="1.00" stop-color="#c23440"/></linearGradient><linearGradient id="b37"><stop offset="0.00" stop-color="#c84347"/><stop offset="0.21" stop-color="#c94649"/><stop offset="0.35" stop-color="#da735f"/><stop offset="0.44" stop-color="#eab485"/><stop offset="0.52" stop-color="#eecb93"/><stop offset="0.60" stop-color="#eab485"/><stop offset="0.69" stop-color="#da735f"/><stop offset="0.84" stop-color="#c94649"/><stop offset="1.00" stop-color="#c84347"/></linearGradient><linearGradient id="b38"><stop offset="0.00" stop-color="#c63f45"/><stop offset="0.21" stop-color="#c84247"/><stop offset="0.34" stop-color="#da7360"/><stop offset="0.43" stop-color="#ebba88"/><stop offset="0.50" stop-color="#efd09a"/><stop offset="0.57" stop-color="#ebbb89"/><stop offset="0.66" stop-color="#dc7a63"/><stop offset="0.79" stop-color="#cc4c4c"/><stop offset="1.00" stop-color="#ca494a"/></linearGradient><linearGradient id="b39"><stop offset="0.00" stop-color="#bb2b3b"/><stop offset="0.21" stop-color="#bd2c3c"/><stop offset="0.36" stop-color="#d35f55"/><stop offset="0.45" stop-color="#e9b083"/><stop offset="0.53" stop-color="#efcc95"/><stop offset="0.61" stop-color="#eab284"/><stop offset="0.71" stop-color="#d66557"/><stop offset="0.85" stop-color="#c0313e"/><stop offset="1.00" stop-color="#bf2f3d"/></linearGradient><linearGradient id="b40"><stop offset="0.00" stop-color="#c0303e"/><stop offset="0.14" stop-color="#c1333f"/><stop offset="0.29" stop-color="#d76859"/><stop offset="0.39" stop-color="#eab686"/><stop offset="0.47" stop-color="#efcf99"/><stop offset="0.56" stop-color="#eab384"/><stop offset="0.66" stop-color="#d15a52"/><stop offset="0.81" stop-color="#b82839"/><stop offset="1.00" stop-color="#b62638"/></linearGradient><linearGradient id="b41"><stop offset="0.00" stop-color="#d05650"/><stop offset="0.26" stop-color="#d15851"/><stop offset="0.37" stop-color="#db7661"/><stop offset="0.45" stop-color="#e7a57d"/><stop offset="0.51" stop-color="#eab686"/><stop offset="0.58" stop-color="#e7a67d"/><stop offset="0.65" stop-color="#dc7963"/><stop offset="0.77" stop-color="#d35d54"/><stop offset="1.00" stop-color="#d25b53"/></linearGradient><linearGradient id="b42"><stop offset="0.00" stop-color="#cf544f"/><stop offset="0.23" stop-color="#d05751"/><stop offset="0.34" stop-color="#de8369"/><stop offset="0.42" stop-color="#ecc08c"/><stop offset="0.48" stop-color="#f0d39e"/><stop offset="0.54" stop-color="#edc38d"/><stop offset="0.62" stop-color="#e28f70"/><stop offset="0.73" stop-color="#d86a5a"/><stop offset="1.00" stop-color="#d76759"/></linearGradient><linearGradient id="b43"><stop offset="0.00" stop-color="#c0313f"/><stop offset="0.19" stop-color="#c23540"/><stop offset="0.32" stop-color="#d96c5b"/><stop offset="0.41" stop-color="#ebbb89"/><stop offset="0.49" stop-color="#f0d39e"/><stop offset="0.56" stop-color="#ebb988"/><stop offset="0.65" stop-color="#d56457"/><stop offset="0.79" stop-color="#bd2d3c"/><stop offset="1.00" stop-color="#bb2b3b"/></linearGradient><linearGradient id="b44"><stop offset="0.00" stop-color="#b42337"/><stop offset="0.21" stop-color="#b62638"/><stop offset="0.35" stop-color="#d35d54"/><stop offset="0.45" stop-color="#ecbe8b"/><stop offset="0.53" stop-color="#f1d9a5"/><stop offset="0.61" stop-color="#ecbd8a"/><stop offset="0.71" stop-color="#d15952"/><stop offset="0.85" stop-color="#b32236"/><stop offset="1.00" stop-color="#b12035"/></linearGradient><linearGradient id="b45"><stop offset="0.00" stop-color="#ba2a3b"/><stop offset="0.24" stop-color="#bc2c3c"/><stop offset="0.35" stop-color="#d46055"/><stop offset="0.42" stop-color="#eab384"/><stop offset="0.48" stop-color="#efce97"/><stop offset="0.54" stop-color="#eab384"/><stop offset="0.61" stop-color="#d35f55"/><stop offset="0.72" stop-color="#bc2c3b"/><stop offset="1.00" stop-color="#ba2a3a"/></linearGradient><linearGradient id="b46"><stop offset="0.00" stop-color="#c74146"/><stop offset="0.25" stop-color="#c84448"/><stop offset="0.37" stop-color="#db7661"/><stop offset="0.46" stop-color="#ecbd8a"/><stop offset="0.53" stop-color="#f0d39d"/><stop offset="0.60" stop-color="#ecc08c"/><stop offset="0.68" stop-color="#df856a"/><stop offset="0.81" stop-color="#d25b53"/><stop offset="1.00" stop-color="#d05851"/></linearGradient><linearGradient id="b47"><stop offset="0.00" stop-color="#c0303e"/><stop offset="0.20" stop-color="#c13340"/><stop offset="0.33" stop-color="#d76859"/><stop offset="0.41" stop-color="#eab586"/><stop offset="0.48" stop-color="#efcf98"/><stop offset="0.55" stop-color="#eab485"/><stop offset="0.63" stop-color="#d66457"/><stop offset="0.76" stop-color="#bf2f3d"/><stop offset="1.00" stop-color="#bd2d3c"/></linearGradient><linearGradient id="b48"><stop offset="0.00" stop-color="#da725f"/><stop offset="0.23" stop-color="#db7460"/><stop offset="0.35" stop-color="#e49a76"/><stop offset="0.43" stop-color="#eeca93"/><stop offset="0.49" stop-color="#f1d9a4"/><stop offset="0.56" stop-color="#eec890"/><stop offset="0.64" stop-color="#e18e6f"/><stop offset="0.76" stop-color="#d56356"/><stop offset="1.00" stop-color="#d46055"/></linearGradient><linearGradient id="b49"><stop offset="0.00" stop-color="#c64046"/><stop offset="0.21" stop-color="#c84247"/><stop offset="0.34" stop-color="#d86a5a"/><stop offset="0.43" stop-color="#e7a67d"/><stop offset="0.51" stop-color="#ecbc89"/><stop offset="0.58" stop-color="#e7a57d"/><stop offset="0.67" stop-color="#d66658"/><stop offset="0.81" stop-color="#c53d44"/><stop offset="1.00" stop-color="#c43a43"/></linearGradient><linearGradient id="b50"><stop offset="0.00" stop-color="#ba2a3a"/><stop offset="0.21" stop-color="#bc2c3c"/><stop offset="0.34" stop-color="#d66658"/><stop offset="0.42" stop-color="#edc18c"/><stop offset="0.50" stop-color="#f1daa6"/><stop offset="0.57" stop-color="#ecbe8b"/><stop offset="0.66" stop-color="#d25c53"/><stop offset="0.79" stop-color="#b52437"/><stop offset="1.00" stop-color="#b32236"/></linearGradient><linearGradient id="b51"><stop offset="0.00" stop-color="#bc2c3c"/><stop offset="0.26" stop-color="#be2e3d"/><stop offset="0.38" stop-color="#d25c53"/><stop offset="0.46" stop-color="#e8a87e"/><stop offset="0.53" stop-color="#edc28d"/><stop offset="0.60" stop-color="#e7a77e"/><stop offset="0.68" stop-color="#d05550"/><stop offset="0.80" stop-color="#ba293a"/><stop offset="1.00" stop-color="#b82839"/></linearGradient><linearGradient id="b52"><stop offset="0.00" stop-color="#ba2a3b"/><stop offset="0.17" stop-color="#bc2c3b"/><stop offset="0.30" stop-color="#d15a52"/><stop offset="0.39" stop-color="#e8aa7f"/><stop offset="0.47" stop-color="#eec68f"/><stop offset="0.55" stop-color="#e8ab80"/><stop offset="0.64" stop-color="#d46055"/><stop offset="0.77" stop-color="#bf2f3e"/><stop offset="1.00" stop-color="#be2e3d"/></linearGradient><linearGradient id="b53"><stop offset="0.00" stop-color="#b32336"/><stop offset="0.17" stop-color="#b52537"/><stop offset="0.31" stop-color="#d05851"/><stop offset="0.40" stop-color="#ebb786"/><stop offset="0.48" stop-color="#f0d39e"/><stop offset="0.55" stop-color="#eab686"/><stop offset="0.64" stop-color="#d05650"/><stop offset="0.78" stop-color="#b42337"/><stop offset="1.00" stop-color="#b22136"/></linearGradient><linearGradient id="b54"><stop offset="0.00" stop-color="#b82839"/><stop offset="0.21" stop-color="#bb2b3b"/><stop offset="0.34" stop-color="#dd7c64"/><stop offset="0.43" stop-color="#f2e0ad"/><stop offset="0.51" stop-color="#dbe4db"/><stop offset="0.58" stop-color="#f2e0ad"/><stop offset="0.67" stop-color="#dc7b64"/><stop offset="0.81" stop-color="#bb2a3b"/><stop offset="1.00" stop-color="#b82839"/></linearGradient><linearGradient id="b55"><stop offset="0.00" stop-color="#cb4b4b"/><stop offset="0.21" stop-color="#cc4e4c"/><stop offset="0.33" stop-color="#dd7f66"/><stop offset="0.42" stop-color="#edc38d"/><stop offset="0.49" stop-color="#f0d7a2"/><stop offset="0.56" stop-color="#edc58e"/><stop offset="0.65" stop-color="#df856a"/><stop offset="0.77" stop-color="#d05851"/><stop offset="1.00" stop-color="#cf5450"/></linearGradient><linearGradient id="b56"><stop offset="0.00" stop-color="#c53d44"/><stop offset="0.23" stop-color="#c64046"/><stop offset="0.35" stop-color="#d96e5c"/><stop offset="0.44" stop-color="#eab284"/><stop offset="0.51" stop-color="#eeca92"/><stop offset="0.58" stop-color="#eab384"/><stop offset="0.67" stop-color="#da715e"/><stop offset="0.80" stop-color="#c94548"/><stop offset="1.00" stop-color="#c74247"/></linearGradient><linearGradient id="b57"><stop offset="0.00" stop-color="#c43a43"/><stop offset="0.18" stop-color="#c63f45"/><stop offset="0.32" stop-color="#e29070"/><stop offset="0.41" stop-color="#efe3b7"/><stop offset="0.49" stop-color="#d3dfdc"/><stop offset="0.57" stop-color="#ede3bb"/><stop offset="0.66" stop-color="#e59e79"/><stop offset="0.80" stop-color="#cf5450"/><stop offset="1.00" stop-color="#cd4f4d"/></linearGradient><linearGradient id="b58"><stop offset="0.00" stop-color="#de8268"/><stop offset="0.23" stop-color="#de8369"/><stop offset="0.35" stop-color="#e49a76"/><stop offset="0.43" stop-color="#ebb887"/><stop offset="0.49" stop-color="#edc58f"/><stop offset="0.56" stop-color="#eab586"/><stop offset="0.64" stop-color="#e18c6e"/><stop offset="0.75" stop-color="#da705e"/><stop offset="1.00" stop-color="#d96e5c"/></linearGradient><linearGradient id="b59"><stop offset="0.00" stop-color="#d66557"/><stop offset="0.23" stop-color="#d8695a"/><stop offset="0.35" stop-color="#e8a87f"/><stop offset="0.43" stop-color="#ece3bd"/><stop offset="0.50" stop-color="#d5e0dc"/><stop offset="0.57" stop-color="#ece3bd"/><stop offset="0.65" stop-color="#e8ab80"/><stop offset="0.77" stop-color="#d96e5c"/><stop offset="1.00" stop-color="#d8695a"/></linearGradient><linearGradient id="b60"><stop offset="0.00" stop-color="#d46055"/><stop offset="0.18" stop-color="#d56357"/><stop offset="0.32" stop-color="#e18b6e"/><stop offset="0.42" stop-color="#edc38d"/><stop offset="0.50" stop-color="#f0d49e"/><stop offset="0.58" stop-color="#edc28d"/><stop offset="0.68" stop-color="#df876b"/><stop offset="0.83" stop-color="#d35d54"/><stop offset="1.00" stop-color="#d15a52"/></linearGradient><linearGradient id="b61"><stop offset="0.00" stop-color="#b42437"/><stop offset="0.17" stop-color="#b62638"/><stop offset="0.31" stop-color="#d15851"/><stop offset="0.41" stop-color="#eab485"/><stop offset="0.48" stop-color="#efd19b"/><stop offset="0.56" stop-color="#eab485"/><stop offset="0.65" stop-color="#d15952"/><stop offset="0.79" stop-color="#b72739"/><stop offset="1.00" stop-color="#b52538"/></linearGradient><linearGradient id="b62"><stop offset="0.00" stop-color="#db7661"/><stop offset="0.20" stop-color="#db7762"/><stop offset="0.34" stop-color="#e18c6e"/><stop offset="0.43" stop-color="#e9ad81"/><stop offset="0.51" stop-color="#ebb988"/><stop offset="0.59" stop-color="#e8ac81"/><stop offset="0.68" stop-color="#e08b6d"/><stop offset="0.82" stop-color="#db7460"/><stop offset="1.00" stop-color="#da735f"/></linearGradient><linearGradient id="b63"><stop offset="0.00" stop-color="#af1f34"/><stop offset="0.20" stop-color="#b12135"/><stop offset="0.32" stop-color="#ca484a"/><stop offset="0.40" stop-color="#e7a37b"/><stop offset="0.47" stop-color="#edc18c"/><stop offset="0.54" stop-color="#e7a67d"/><stop offset="0.62" stop-color="#d05650"/><stop offset="0.74" stop-color="#ba2a3a"/><stop offset="1.00" stop-color="#b8283a"/></linearGradient><linearGradient id="b64"><stop offset="0.00" stop-color="#bd2d3c"/><stop offset="0.19" stop-color="#bf2f3d"/><stop offset="0.33" stop-color="#d76759"/><stop offset="0.42" stop-color="#ebb988"/><stop offset="0.50" stop-color="#f0d29d"/><stop offset="0.58" stop-color="#ebb988"/><stop offset="0.68" stop-color="#d76859"/><stop offset="0.82" stop-color="#c0303e"/><stop offset="1.00" stop-color="#be2e3d"/></linearGradient><linearGradient id="b65"><stop offset="0.00" stop-color="#c63d44"/><stop offset="0.29" stop-color="#c74146"/><stop offset="0.39" stop-color="#db7560"/><stop offset="0.46" stop-color="#ecbe8b"/><stop offset="0.52" stop-color="#f0d49f"/><stop offset="0.58" stop-color="#ecbe8b"/><stop offset="0.65" stop-color="#db7561"/><stop offset="0.75" stop-color="#c74247"/><stop offset="1.00" stop-color="#c63f45"/></linearGradient><linearGradient id="b66"><stop offset="0.00" stop-color="#c0303e"/><stop offset="0.25" stop-color="#c1323f"/><stop offset="0.37" stop-color="#d35d54"/><stop offset="0.45" stop-color="#e6a27b"/><stop offset="0.52" stop-color="#ebba88"/><stop offset="0.59" stop-color="#e7a47c"/><stop offset="0.67" stop-color="#d66558"/><stop offset="0.79" stop-color="#c63d45"/><stop offset="1.00" stop-color="#c43b43"/></linearGradient><linearGradient id="b67"><stop offset="0.00" stop-color="#bd2d3c"/><stop offset="0.20" stop-color="#be2e3d"/><stop offset="0.34" stop-color="#d56256"/><stop offset="0.43" stop-color="#eab284"/><stop offset="0.51" stop-color="#efcd96"/><stop offset="0.59" stop-color="#e9b183"/><stop offset="0.68" stop-color="#d35e54"/><stop offset="0.82" stop-color="#bc2b3b"/><stop offset="1.00" stop-color="#ba2a3a"/></linearGradient><linearGradient id="b68"><stop offset="0.00" stop-color="#d15a52"/><stop offset="0.15" stop-color="#d25c53"/><stop offset="0.30" stop-color="#db7661"/><stop offset="0.39" stop-color="#e6a27b"/><stop offset="0.47" stop-color="#e9b183"/><stop offset="0.55" stop-color="#e6a27b"/><stop offset="0.65" stop-color="#dc7963"/><stop offset="0.80" stop-color="#d46055"/><stop offset="1.00" stop-color="#d35f55"/></linearGradient><linearGradient id="b69"><stop offset="0.00" stop-color="#b22136"/><stop offset="0.28" stop-color="#b42337"/><stop offset="0.39" stop-color="#cd4e4d"/><stop offset="0.46" stop-color="#e8a97f"/><stop offset="0.52" stop-color="#eec890"/><stop offset="0.58" stop-color="#e8ab80"/><stop offset="0.66" stop-color="#d15a52"/><stop offset="0.77" stop-color="#bb2b3b"/><stop offset="1.00" stop-color="#ba293a"/></linearGradient><linearGradient id="b70"><stop offset="0.00" stop-color="#c74247"/><stop offset="0.20" stop-color="#c94548"/><stop offset="0.33" stop-color="#d96d5c"/><stop offset="0.41" stop-color="#e8ab80"/><stop offset="0.48" stop-color="#edc28c"/><stop offset="0.56" stop-color="#e8ac80"/><stop offset="0.64" stop-color="#d9705d"/><stop offset="0.77" stop-color="#ca484a"/><stop offset="1.00" stop-color="#c94548"/></linearGradient><linearGradient id="b71"><stop offset="0.00" stop-color="#c1323f"/><stop offset="0.19" stop-color="#c23540"/><stop offset="0.32" stop-color="#d86b5a"/><stop offset="0.41" stop-color="#ebb887"/><stop offset="0.48" stop-color="#efd19b"/><stop offset="0.56" stop-color="#ebba88"/><stop offset="0.65" stop-color="#da725f"/><stop offset="0.78" stop-color="#c74146"/><stop offset="1.00" stop-color="#c63d44"/></linearGradient><linearGradient id="b72"><stop offset="0.00" stop-color="#b9293a"/><stop offset="0.21" stop-color="#bb2a3b"/><stop offset="0.33" stop-color="#cd4f4d"/><stop offset="0.42" stop-color="#e39573"/><stop offset="0.49" stop-color="#e9af82"/><stop offset="0.56" stop-color="#e29171"/><stop offset="0.65" stop-color="#c74247"/><stop offset="0.77" stop-color="#b22236"/><stop offset="1.00" stop-color="#b12035"/></linearGradient><linearGradient id="b73"><stop offset="0.00" stop-color="#bb2a3b"/><stop offset="0.23" stop-color="#bc2c3c"/><stop offset="0.35" stop-color="#d05751"/><stop offset="0.43" stop-color="#e7a37c"/><stop offset="0.50" stop-color="#ecbd8a"/><stop offset="0.57" stop-color="#e7a37c"/><stop offset="0.66" stop-color="#d15851"/><stop offset="0.78" stop-color="#bd2d3c"/><stop offset="1.00" stop-color="#bb2b3b"/></linearGradient><linearGradient id="b74"><stop offset="0.00" stop-color="#c74046"/><stop offset="0.18" stop-color="#c84347"/><stop offset="0.32" stop-color="#d86a5a"/><stop offset="0.41" stop-color="#e7a67d"/><stop offset="0.49" stop-color="#ebbb89"/><stop offset="0.56" stop-color="#e8a97f"/><stop offset="0.65" stop-color="#db7762"/><stop offset="0.79" stop-color="#d05751"/><stop offset="1.00" stop-color="#cf5450"/></linearGradient><linearGradient id="b75"><stop offset="0.00" stop-color="#af1e34"/><stop offset="0.23" stop-color="#b12035"/><stop offset="0.36" stop-color="#ce524e"/><stop offset="0.44" stop-color="#eab686"/><stop offset="0.51" stop-color="#f0d39e"/><stop offset="0.59" stop-color="#eab485"/><stop offset="0.67" stop-color="#ca484a"/><stop offset="0.80" stop-color="#ab1a31"/><stop offset="1.00" stop-color="#a91830"/></linearGradient><linearGradient id="b76"><stop offset="0.00" stop-color="#b12035"/><stop offset="0.26" stop-color="#b22136"/><stop offset="0.36" stop-color="#c74247"/><stop offset="0.44" stop-color="#e29272"/><stop offset="0.50" stop-color="#e9b083"/><stop offset="0.55" stop-color="#e39573"/><stop offset="0.63" stop-color="#cc4d4c"/><stop offset="0.73" stop-color="#b9293a"/><stop offset="1.00" stop-color="#b72739"/></linearGradient><linearGradient id="b77"><stop offset="0.00" stop-color="#bf2f3d"/><stop offset="0.27" stop-color="#c0313e"/><stop offset="0.39" stop-color="#d66658"/><stop offset="0.46" stop-color="#eab585"/><stop offset="0.53" stop-color="#efce98"/><stop offset="0.59" stop-color="#eab385"/><stop offset="0.67" stop-color="#d46055"/><stop offset="0.79" stop-color="#bc2c3c"/><stop offset="1.00" stop-color="#bb2b3b"/></linearGradient><linearGradient id="b78"><stop offset="0.00" stop-color="#ae1e34"/><stop offset="0.22" stop-color="#b02035"/><stop offset="0.34" stop-color="#cd504d"/><stop offset="0.43" stop-color="#eab384"/><stop offset="0.50" stop-color="#efd19c"/><stop offset="0.57" stop-color="#e9b183"/><stop offset="0.65" stop-color="#c94649"/><stop offset="0.78" stop-color="#aa1931"/><stop offset="1.00" stop-color="#a81730"/></linearGradient><linearGradient id="b79"><stop offset="0.00" stop-color="#d15851"/><stop offset="0.23" stop-color="#d25b53"/><stop offset="0.36" stop-color="#dd7d65"/><stop offset="0.46" stop-color="#e9b083"/><stop offset="0.53" stop-color="#edc38d"/><stop offset="0.61" stop-color="#e9b083"/><stop offset="0.70" stop-color="#dd7d65"/><stop offset="0.83" stop-color="#d25b53"/><stop offset="1.00" stop-color="#d15952"/></linearGradient><linearGradient id="b80"><stop offset="0.00" stop-color="#be2e3d"/><stop offset="0.25" stop-color="#bf2f3e"/><stop offset="0.38" stop-color="#d66457"/><stop offset="0.46" stop-color="#eab485"/><stop offset="0.53" stop-color="#efce97"/><stop offset="0.61" stop-color="#eab686"/><stop offset="0.69" stop-color="#d96f5d"/><stop offset="0.82" stop-color="#c63f45"/><stop offset="1.00" stop-color="#c53b43"/></linearGradient><linearGradient id="b81"><stop offset="0.00" stop-color="#be2e3d"/><stop offset="0.23" stop-color="#bf2f3d"/><stop offset="0.35" stop-color="#d05851"/><stop offset="0.43" stop-color="#e59c77"/><stop offset="0.50" stop-color="#eab385"/><stop offset="0.56" stop-color="#e49875"/><stop offset="0.64" stop-color="#cc4c4c"/><stop offset="0.76" stop-color="#b82739"/><stop offset="1.00" stop-color="#b62638"/></linearGradient><linearGradient id="b82"><stop offset="0.00" stop-color="#b22136"/><stop offset="0.21" stop-color="#b32336"/><stop offset="0.34" stop-color="#c94648"/><stop offset="0.42" stop-color="#e49674"/><stop offset="0.49" stop-color="#eab485"/><stop offset="0.56" stop-color="#e59b77"/><stop offset="0.64" stop-color="#cf5550"/><stop offset="0.76" stop-color="#be2d3d"/><stop offset="1.00" stop-color="#bc2c3c"/></linearGradient><linearGradient id="b83"><stop offset="0.00" stop-color="#bd2d3c"/><stop offset="0.23" stop-color="#bf2f3d"/><stop offset="0.34" stop-color="#d25c53"/><stop offset="0.42" stop-color="#e7a67d"/><stop offset="0.48" stop-color="#ecc08b"/><stop offset="0.54" stop-color="#e8a97f"/><stop offset="0.62" stop-color="#d86b5b"/><stop offset="0.73" stop-color="#c84347"/><stop offset="1.00" stop-color="#c74046"/></linearGradient><linearGradient id="b84"><stop offset="0.00" stop-color="#c23641"/><stop offset="0.27" stop-color="#c43942"/><stop offset="0.38" stop-color="#d76959"/><stop offset="0.45" stop-color="#e9b083"/><stop offset="0.50" stop-color="#eec991"/><stop offset="0.56" stop-color="#e9ad81"/><stop offset="0.63" stop-color="#d35e54"/><stop offset="0.73" stop-color="#bd2d3c"/><stop offset="1.00" stop-color="#bc2b3b"/></linearGradient><linearGradient id="b85"><stop offset="0.00" stop-color="#b42437"/><stop offset="0.28" stop-color="#b62538"/><stop offset="0.39" stop-color="#ca494a"/><stop offset="0.46" stop-color="#e49674"/><stop offset="0.52" stop-color="#eab384"/><stop offset="0.58" stop-color="#e39674"/><stop offset="0.65" stop-color="#ca484a"/><stop offset="0.75" stop-color="#b52538"/><stop offset="1.00" stop-color="#b42337"/></linearGradient><linearGradient id="b86"><stop offset="0.00" stop-color="#c13340"/><stop offset="0.21" stop-color="#c23641"/><stop offset="0.34" stop-color="#d25b53"/><stop offset="0.43" stop-color="#e49875"/><stop offset="0.51" stop-color="#e9ae82"/><stop offset="0.58" stop-color="#e49a76"/><stop offset="0.67" stop-color="#d46156"/><stop offset="0.81" stop-color="#c63f45"/><stop offset="1.00" stop-color="#c53c44"/></linearGradient><linearGradient id="b87"><stop offset="0.00" stop-color="#b9293a"/><stop offset="0.27" stop-color="#bb2b3b"/><stop offset="0.39" stop-color="#d46156"/><stop offset="0.46" stop-color="#ebb887"/><stop offset="0.53" stop-color="#f0d39d"/><stop offset="0.59" stop-color="#eab686"/><stop offset="0.67" stop-color="#d05650"/><stop offset="0.79" stop-color="#b42337"/><stop offset="1.00" stop-color="#b22136"/></linearGradient><linearGradient id="b88"><stop offset="0.00" stop-color="#b32236"/><stop offset="0.19" stop-color="#b42437"/><stop offset="0.32" stop-color="#ca4849"/><stop offset="0.41" stop-color="#e49976"/><stop offset="0.48" stop-color="#eab586"/><stop offset="0.56" stop-color="#e39573"/><stop offset="0.64" stop-color="#c43a43"/><stop offset="0.77" stop-color="#ab1a32"/><stop offset="1.00" stop-color="#aa1931"/></linearGradient><linearGradient id="b89"><stop offset="0.00" stop-color="#b01f34"/><stop offset="0.22" stop-color="#b22136"/><stop offset="0.35" stop-color="#ce524e"/><stop offset="0.44" stop-color="#eab485"/><stop offset="0.51" stop-color="#efd29c"/><stop offset="0.59" stop-color="#eab385"/><stop offset="0.67" stop-color="#cd504d"/><stop offset="0.80" stop-color="#b02035"/><stop offset="1.00" stop-color="#ae1e33"/></linearGradient><linearGradient id="b90"><stop offset="0.00" stop-color="#ad1c33"/><stop offset="0.26" stop-color="#ae1e34"/><stop offset="0.37" stop-color="#c53c44"/><stop offset="0.44" stop-color="#e29070"/><stop offset="0.50" stop-color="#e9af82"/><stop offset="0.55" stop-color="#e39372"/><stop offset="0.62" stop-color="#ca484a"/><stop offset="0.73" stop-color="#b62638"/><stop offset="1.00" stop-color="#b52437"/></linearGradient><linearGradient id="b91"><stop offset="0.00" stop-color="#df856a"/><stop offset="0.20" stop-color="#df866b"/><stop offset="0.32" stop-color="#e29171"/><stop offset="0.40" stop-color="#e7a37c"/><stop offset="0.47" stop-color="#e8a97f"/><stop offset="0.54" stop-color="#e6a17b"/><stop offset="0.63" stop-color="#e18b6e"/><stop offset="0.75" stop-color="#dd7e66"/><stop offset="1.00" stop-color="#dd7d65"/></linearGradient><linearGradient id="b92"><stop offset="0.00" stop-color="#b02035"/><stop offset="0.22" stop-color="#b22236"/><stop offset="0.34" stop-color="#ce524e"/><stop offset="0.43" stop-color="#eab284"/><stop offset="0.50" stop-color="#efd09a"/><stop offset="0.57" stop-color="#e9af82"/><stop offset="0.66" stop-color="#c84548"/><stop offset="0.79" stop-color="#aa1931"/><stop offset="1.00" stop-color="#a81730"/></linearGradient><linearGradient id="b93"><stop offset="0.00" stop-color="#b01f34"/><stop offset="0.17" stop-color="#b12135"/><stop offset="0.31" stop-color="#cc4e4c"/><stop offset="0.39" stop-color="#e9ad81"/><stop offset="0.47" stop-color="#efcc95"/><stop offset="0.54" stop-color="#e8ac81"/><stop offset="0.63" stop-color="#ca494a"/><stop offset="0.76" stop-color="#ae1d33"/><stop offset="1.00" stop-color="#ac1b32"/></linearGradient><linearGradient id="b94"><stop offset="0.00" stop-color="#c1323f"/><stop offset="0.29" stop-color="#c23440"/><stop offset="0.40" stop-color="#d15952"/><stop offset="0.47" stop-color="#e39574"/><stop offset="0.53" stop-color="#e8ac81"/><stop offset="0.59" stop-color="#e39372"/><stop offset="0.66" stop-color="#ce514e"/><stop offset="0.76" stop-color="#bd2d3c"/><stop offset="1.00" stop-color="#bc2c3c"/></linearGradient><linearGradient id="b95"><stop offset="0.00" stop-color="#dc7862"/><stop offset="0.25" stop-color="#dc7963"/><stop offset="0.37" stop-color="#e08a6d"/><stop offset="0.45" stop-color="#e7a67d"/><stop offset="0.52" stop-color="#e9b083"/><stop offset="0.58" stop-color="#e8a97f"/><stop offset="0.66" stop-color="#e39674"/><stop offset="0.78" stop-color="#e0896c"/><stop offset="1.00" stop-color="#e0886c"/></linearGradient><linearGradient id="b96"><stop offset="0.00" stop-color="#b52437"/><stop offset="0.24" stop-color="#b62638"/><stop offset="0.37" stop-color="#cc4e4c"/><stop offset="0.46" stop-color="#e6a07a"/><stop offset="0.53" stop-color="#ebbb89"/><stop offset="0.60" stop-color="#e7a37c"/><stop offset="0.69" stop-color="#d35e54"/><stop offset="0.82" stop-color="#c1323f"/><stop offset="1.00" stop-color="#c0303e"/></linearGradient><linearGradient id="b97"><stop offset="0.00" stop-color="#ae1d33"/><stop offset="0.20" stop-color="#af1f34"/><stop offset="0.33" stop-color="#ca484a"/><stop offset="0.41" stop-color="#e8a87e"/><stop offset="0.48" stop-color="#eec891"/><stop offset="0.55" stop-color="#e8aa7f"/><stop offset="0.64" stop-color="#ce514e"/><stop offset="0.77" stop-color="#b52537"/><stop offset="1.00" stop-color="#b32336"/></linearGradient><linearGradient id="b98"><stop offset="0.00" stop-color="#d05851"/><stop offset="0.30" stop-color="#d15952"/><stop offset="0.41" stop-color="#da715e"/><stop offset="0.47" stop-color="#e49875"/><stop offset="0.53" stop-color="#e7a77e"/><stop offset="0.59" stop-color="#e49a76"/><stop offset="0.66" stop-color="#db7761"/><stop offset="0.76" stop-color="#d46156"/><stop offset="1.00" stop-color="#d46055"/></linearGradient><linearGradient id="b99"><stop offset="0.00" stop-color="#bd2d3c"/><stop offset="0.24" stop-color="#bf2f3d"/><stop offset="0.36" stop-color="#d15a52"/><stop offset="0.44" stop-color="#e6a17b"/><stop offset="0.51" stop-color="#ebba88"/><stop offset="0.58" stop-color="#e7a37c"/><stop offset="0.66" stop-color="#d46055"/><stop offset="0.78" stop-color="#c33641"/><stop offset="1.00" stop-color="#c13340"/></linearGradient><linearGradient id="b100"><stop offset="0.00" stop-color="#ad1c33"/><stop offset="0.27" stop-color="#ae1e34"/><stop offset="0.38" stop-color="#c53c44"/><stop offset="0.45" stop-color="#e18e70"/><stop offset="0.51" stop-color="#e9ae82"/><stop offset="0.57" stop-color="#e29171"/><stop offset="0.65" stop-color="#c84448"/><stop offset="0.76" stop-color="#b42337"/><stop offset="1.00" stop-color="#b22236"/></linearGradient><linearGradient id="b101"><stop offset="0.00" stop-color="#bc2c3c"/><stop offset="0.20" stop-color="#bd2d3c"/><stop offset="0.32" stop-color="#d05650"/><stop offset="0.40" stop-color="#e59c78"/><stop offset="0.47" stop-color="#eab585"/><stop offset="0.53" stop-color="#e6a07a"/><stop offset="0.62" stop-color="#d56256"/><stop offset="0.74" stop-color="#c53c44"/><stop offset="1.00" stop-color="#c43942"/></linearGradient><linearGradient id="b102"><stop offset="0.00" stop-color="#b12135"/><stop offset="0.21" stop-color="#b32236"/><stop offset="0.33" stop-color="#c94548"/><stop offset="0.41" stop-color="#e49875"/><stop offset="0.48" stop-color="#eab586"/><stop offset="0.54" stop-color="#e39473"/><stop offset="0.62" stop-color="#c43a43"/><stop offset="0.74" stop-color="#ab1a32"/><stop offset="1.00" stop-color="#a91931"/></linearGradient><linearGradient id="b103"><stop offset="0.00" stop-color="#ac1b32"/><stop offset="0.17" stop-color="#ae1d33"/><stop offset="0.31" stop-color="#c84448"/><stop offset="0.39" stop-color="#e7a47c"/><stop offset="0.46" stop-color="#edc48e"/><stop offset="0.54" stop-color="#e7a37c"/><stop offset="0.62" stop-color="#c84347"/><stop offset="0.75" stop-color="#ad1c33"/><stop offset="1.00" stop-color="#ab1a32"/></linearGradient><linearGradient id="b104"><stop offset="0.00" stop-color="#b22136"/><stop offset="0.28" stop-color="#b32336"/><stop offset="0.38" stop-color="#c94749"/><stop offset="0.44" stop-color="#e49976"/><stop offset="0.49" stop-color="#eab686"/><stop offset="0.55" stop-color="#e49774"/><stop offset="0.61" stop-color="#c63f45"/><stop offset="0.71" stop-color="#ae1e34"/><stop offset="1.00" stop-color="#ad1c33"/></linearGradient><linearGradient id="b105"><stop offset="0.00" stop-color="#ac1b32"/><stop offset="0.27" stop-color="#ae1d33"/><stop offset="0.39" stop-color="#ca494a"/><stop offset="0.47" stop-color="#e9ae82"/><stop offset="0.53" stop-color="#efce98"/><stop offset="0.60" stop-color="#e9b183"/><stop offset="0.68" stop-color="#cf544f"/><stop offset="0.80" stop-color="#b42437"/><stop offset="1.00" stop-color="#b22236"/></linearGradient><linearGradient id="b106"><stop offset="0.00" stop-color="#b9293a"/><stop offset="0.23" stop-color="#ba2a3b"/><stop offset="0.36" stop-color="#cc4d4c"/><stop offset="0.44" stop-color="#e29070"/><stop offset="0.51" stop-color="#e8aa80"/><stop offset="0.58" stop-color="#e29272"/><stop offset="0.67" stop-color="#cf544f"/><stop offset="0.80" stop-color="#bf2f3d"/><stop offset="1.00" stop-color="#be2e3d"/></linearGradient><linearGradient id="b107"><stop offset="0.00" stop-color="#ad1c33"/><stop offset="0.27" stop-color="#af1e34"/><stop offset="0.36" stop-color="#c84347"/><stop offset="0.43" stop-color="#e6a07a"/><stop offset="0.48" stop-color="#ecbe8b"/><stop offset="0.53" stop-color="#e7a37c"/><stop offset="0.59" stop-color="#ce524f"/><stop offset="0.69" stop-color="#b9283a"/><stop offset="1.00" stop-color="#b72739"/></linearGradient><linearGradient id="b108"><stop offset="0.00" stop-color="#d05751"/><stop offset="0.27" stop-color="#d15a52"/><stop offset="0.37" stop-color="#dd7e66"/><stop offset="0.44" stop-color="#eab485"/><stop offset="0.50" stop-color="#eec890"/><stop offset="0.56" stop-color="#e9b184"/><stop offset="0.63" stop-color="#da7360"/><stop offset="0.73" stop-color="#cb494a"/><stop offset="1.00" stop-color="#c94749"/></linearGradient><linearGradient id="b109"><stop offset="0.00" stop-color="#ad1d33"/><stop offset="0.26" stop-color="#af1e34"/><stop offset="0.36" stop-color="#c74146"/><stop offset="0.42" stop-color="#e49a76"/><stop offset="0.48" stop-color="#ebb988"/><stop offset="0.53" stop-color="#e49976"/><stop offset="0.59" stop-color="#c63f45"/><stop offset="0.69" stop-color="#ae1d33"/><stop offset="1.00" stop-color="#ac1c32"/></linearGradient><linearGradient id="b110"><stop offset="0.00" stop-color="#d96e5c"/><stop offset="0.26" stop-color="#d96f5d"/><stop offset="0.38" stop-color="#de7f67"/><stop offset="0.45" stop-color="#e59c77"/><stop offset="0.52" stop-color="#e7a67e"/><stop offset="0.58" stop-color="#e59e79"/><stop offset="0.66" stop-color="#df866a"/><stop offset="0.78" stop-color="#dc7862"/><stop offset="1.00" stop-color="#db7762"/></linearGradient><linearGradient id="b111"><stop offset="0.00" stop-color="#bc2c3c"/><stop offset="0.24" stop-color="#bd2d3c"/><stop offset="0.34" stop-color="#d05751"/><stop offset="0.41" stop-color="#e6a07a"/><stop offset="0.47" stop-color="#ebb887"/><stop offset="0.53" stop-color="#e6a27b"/><stop offset="0.60" stop-color="#d56256"/><stop offset="0.70" stop-color="#c43a43"/><stop offset="1.00" stop-color="#c33842"/></linearGradient><linearGradient id="b112"><stop offset="0.00" stop-color="#aa1a31"/><stop offset="0.19" stop-color="#ac1c32"/><stop offset="0.31" stop-color="#c74246"/><stop offset="0.40" stop-color="#e7a37c"/><stop offset="0.47" stop-color="#edc48e"/><stop offset="0.54" stop-color="#e7a67d"/><stop offset="0.62" stop-color="#cd4e4d"/><stop offset="0.75" stop-color="#b52437"/><stop offset="1.00" stop-color="#b32236"/></linearGradient><linearGradient id="b113"><stop offset="0.00" stop-color="#bc2b3b"/><stop offset="0.25" stop-color="#bd2d3c"/><stop offset="0.36" stop-color="#d15952"/><stop offset="0.44" stop-color="#e7a57d"/><stop offset="0.50" stop-color="#ecbf8b"/><stop offset="0.56" stop-color="#e8a87e"/><stop offset="0.64" stop-color="#d66557"/><stop offset="0.75" stop-color="#c43a43"/><stop offset="1.00" stop-color="#c33741"/></linearGradient><linearGradient id="b114"><stop offset="0.00" stop-color="#b42437"/><stop offset="0.26" stop-color="#b62538"/><stop offset="0.37" stop-color="#cb4a4b"/><stop offset="0.44" stop-color="#e59a77"/><stop offset="0.51" stop-color="#eab686"/><stop offset="0.57" stop-color="#e69f79"/><stop offset="0.64" stop-color="#d15952"/><stop offset="0.76" stop-color="#bf2f3d"/><stop offset="1.00" stop-color="#be2e3d"/></linearGradient><linearGradient id="b115"><stop offset="0.00" stop-color="#b72739"/><stop offset="0.28" stop-color="#b9293a"/><stop offset="0.38" stop-color="#d05650"/><stop offset="0.44" stop-color="#e8a97f"/><stop offset="0.50" stop-color="#edc58f"/><stop offset="0.55" stop-color="#e8a97f"/><stop offset="0.62" stop-color="#d05751"/><stop offset="0.71" stop-color="#ba293a"/><stop offset="1.00" stop-color="#b82839"/></linearGradient><linearGradient id="b116"><stop offset="0.00" stop-color="#d25b53"/><stop offset="0.23" stop-color="#d35d54"/><stop offset="0.34" stop-color="#db7561"/><stop offset="0.41" stop-color="#e59d78"/><stop offset="0.48" stop-color="#e8ab80"/><stop offset="0.54" stop-color="#e59d78"/><stop offset="0.61" stop-color="#db7762"/><stop offset="0.72" stop-color="#d46055"/><stop offset="1.00" stop-color="#d35e54"/></linearGradient><linearGradient id="b117"><stop offset="0.00" stop-color="#b9293a"/><stop offset="0.25" stop-color="#ba2a3b"/><stop offset="0.36" stop-color="#cc4d4c"/><stop offset="0.43" stop-color="#e39372"/><stop offset="0.49" stop-color="#e9ad81"/><stop offset="0.55" stop-color="#e29272"/><stop offset="0.63" stop-color="#cb4b4b"/><stop offset="0.74" stop-color="#b9293a"/><stop offset="1.00" stop-color="#b82739"/></linearGradient><linearGradient id="b118"><stop offset="0.00" stop-color="#ac1b32"/><stop offset="0.22" stop-color="#ae1d33"/><stop offset="0.35" stop-color="#c53d44"/><stop offset="0.43" stop-color="#e39372"/><stop offset="0.50" stop-color="#eab384"/><stop offset="0.57" stop-color="#e39573"/><stop offset="0.65" stop-color="#c84347"/><stop offset="0.78" stop-color="#b22135"/><stop offset="1.00" stop-color="#b02035"/></linearGradient><linearGradient id="b119"><stop offset="0.00" stop-color="#b9293a"/><stop offset="0.20" stop-color="#ba2a3b"/><stop offset="0.32" stop-color="#ca494a"/><stop offset="0.40" stop-color="#e0886c"/><stop offset="0.47" stop-color="#e7a37b"/><stop offset="0.54" stop-color="#e18c6e"/><stop offset="0.62" stop-color="#d15851"/><stop offset="0.74" stop-color="#c33842"/><stop offset="1.00" stop-color="#c23641"/></linearGradient><linearGradient id="b120"><stop offset="0.00" stop-color="#b62638"/><stop offset="0.26" stop-color="#b82839"/><stop offset="0.36" stop-color="#cf544f"/><stop offset="0.44" stop-color="#e7a77e"/><stop offset="0.50" stop-color="#edc48e"/><stop offset="0.56" stop-color="#e8a87e"/><stop offset="0.63" stop-color="#d05851"/><stop offset="0.74" stop-color="#bb2b3b"/><stop offset="1.00" stop-color="#b9293a"/></linearGradient><linearGradient id="b121"><stop offset="0.00" stop-color="#b12035"/><stop offset="0.32" stop-color="#b22236"/><stop offset="0.40" stop-color="#cb4a4b"/><stop offset="0.46" stop-color="#e7a47c"/><stop offset="0.51" stop-color="#edc38d"/><stop offset="0.56" stop-color="#e7a67d"/><stop offset="0.62" stop-color="#ce514e"/><stop offset="0.70" stop-color="#b72638"/><stop offset="1.00" stop-color="#b52537"/></linearGradient><linearGradient id="b122"><stop offset="0.00" stop-color="#b72739"/><stop offset="0.27" stop-color="#b9283a"/><stop offset="0.37" stop-color="#ce514e"/><stop offset="0.43" stop-color="#e6a07a"/><stop offset="0.48" stop-color="#ebbb89"/><stop offset="0.53" stop-color="#e7a37c"/><stop offset="0.59" stop-color="#d35e54"/><stop offset="0.68" stop-color="#c1323f"/><stop offset="1.00" stop-color="#c0303e"/></linearGradient><linearGradient id="b123"><stop offset="0.00" stop-color="#aa1931"/><stop offset="0.29" stop-color="#ab1a32"/><stop offset="0.39" stop-color="#c13440"/><stop offset="0.45" stop-color="#df856a"/><stop offset="0.51" stop-color="#e7a77e"/><stop offset="0.56" stop-color="#de8167"/><stop offset="0.63" stop-color="#bb2a3b"/><stop offset="0.73" stop-color="#a5142e"/><stop offset="1.00" stop-color="#a5142e"/></linearGradient><linearGradient id="b124"><stop offset="0.00" stop-color="#b01f34"/><stop offset="0.26" stop-color="#b12135"/><stop offset="0.36" stop-color="#c84247"/><stop offset="0.42" stop-color="#e39573"/><stop offset="0.47" stop-color="#eab384"/><stop offset="0.52" stop-color="#e49976"/><stop offset="0.58" stop-color="#ce514e"/><stop offset="0.67" stop-color="#bb2b3b"/><stop offset="1.00" stop-color="#b9293a"/></linearGradient><linearGradient id="b125"><stop offset="0.00" stop-color="#aa1931"/><stop offset="0.29" stop-color="#ac1b32"/><stop offset="0.39" stop-color="#c63f45"/><stop offset="0.45" stop-color="#e69f79"/><stop offset="0.50" stop-color="#ecbf8b"/><stop offset="0.56" stop-color="#e6a07a"/><stop offset="0.62" stop-color="#c94548"/><stop offset="0.72" stop-color="#b01f34"/><stop offset="1.00" stop-color="#ae1d33"/></linearGradient><linearGradient id="c0"><stop offset="0.00" stop-color="#b9293a"/><stop offset="0.05" stop-color="#ba2a3a"/><stop offset="0.27" stop-color="#d46055"/><stop offset="0.42" stop-color="#ebba88"/><stop offset="0.54" stop-color="#f0d5a0"/><stop offset="0.67" stop-color="#ebb988"/><stop offset="0.82" stop-color="#d25c53"/><stop offset="1.00" stop-color="#b9293a"/></linearGradient><linearGradient id="c1"><stop offset="0.00" stop-color="#b62638"/><stop offset="0.17" stop-color="#b82839"/><stop offset="0.33" stop-color="#ce514e"/><stop offset="0.44" stop-color="#e7a37b"/><stop offset="0.54" stop-color="#ecbe8b"/><stop offset="0.63" stop-color="#e6a27b"/><stop offset="0.74" stop-color="#cc4d4c"/><stop offset="0.91" stop-color="#b52538"/><stop offset="1.00" stop-color="#b42337"/></linearGradient><linearGradient id="c2"><stop offset="0.00" stop-color="#b9283a"/><stop offset="0.13" stop-color="#ba2a3a"/><stop offset="0.30" stop-color="#cf5550"/><stop offset="0.42" stop-color="#e7a57d"/><stop offset="0.51" stop-color="#ecc08c"/><stop offset="0.61" stop-color="#e7a67d"/><stop offset="0.72" stop-color="#d15952"/><stop offset="0.90" stop-color="#bd2d3c"/><stop offset="1.00" stop-color="#bb2b3b"/></linearGradient><linearGradient id="c3"><stop offset="0.00" stop-color="#b82839"/><stop offset="0.12" stop-color="#ba293a"/><stop offset="0.29" stop-color="#cd504d"/><stop offset="0.40" stop-color="#e49a76"/><stop offset="0.49" stop-color="#eab485"/><stop offset="0.59" stop-color="#e59b77"/><stop offset="0.70" stop-color="#cf544f"/><stop offset="0.87" stop-color="#bd2d3c"/><stop offset="1.00" stop-color="#bb2b3b"/></linearGradient><linearGradient id="c4"><stop offset="0.00" stop-color="#bb2b3b"/><stop offset="0.03" stop-color="#bb2b3b"/><stop offset="0.26" stop-color="#d56356"/><stop offset="0.41" stop-color="#ebbb89"/><stop offset="0.54" stop-color="#f0d5a0"/><stop offset="0.66" stop-color="#ecbc89"/><stop offset="0.82" stop-color="#d76859"/><stop offset="1.00" stop-color="#c1323f"/></linearGradient><linearGradient id="c5"><stop offset="0.00" stop-color="#ba2a3a"/><stop offset="0.01" stop-color="#ba2a3a"/><stop offset="0.24" stop-color="#cf544f"/><stop offset="0.39" stop-color="#e7a37b"/><stop offset="0.52" stop-color="#ecbd8a"/><stop offset="0.65" stop-color="#e7a37c"/><stop offset="0.80" stop-color="#d05751"/><stop offset="1.00" stop-color="#bd2d3c"/></linearGradient><linearGradient id="c6"><stop offset="0.00" stop-color="#b52538"/><stop offset="0.13" stop-color="#b72639"/><stop offset="0.30" stop-color="#ce524e"/><stop offset="0.42" stop-color="#e7a77e"/><stop offset="0.51" stop-color="#edc58e"/><stop offset="0.61" stop-color="#e7a77e"/><stop offset="0.72" stop-color="#cd504d"/><stop offset="0.90" stop-color="#b52538"/><stop offset="1.00" stop-color="#b42337"/></linearGradient><linearGradient id="c7"><stop offset="0.00" stop-color="#b02035"/><stop offset="0.07" stop-color="#b22135"/><stop offset="0.29" stop-color="#ce524e"/><stop offset="0.43" stop-color="#eab485"/><stop offset="0.55" stop-color="#f0d29c"/><stop offset="0.67" stop-color="#eab585"/><stop offset="0.82" stop-color="#cf544f"/><stop offset="1.00" stop-color="#b52437"/></linearGradient><linearGradient id="c8"><stop offset="0.00" stop-color="#b42337"/><stop offset="0.22" stop-color="#b52538"/><stop offset="0.36" stop-color="#d05650"/><stop offset="0.45" stop-color="#e9b184"/><stop offset="0.53" stop-color="#efcf98"/><stop offset="0.61" stop-color="#e9b183"/><stop offset="0.71" stop-color="#cf5550"/><stop offset="0.85" stop-color="#b52537"/><stop offset="1.00" stop-color="#b32336"/></linearGradient><linearGradient id="c9"><stop offset="0.00" stop-color="#af1e34"/><stop offset="0.10" stop-color="#b02035"/><stop offset="0.28" stop-color="#c74146"/><stop offset="0.40" stop-color="#e39674"/><stop offset="0.50" stop-color="#eab485"/><stop offset="0.60" stop-color="#e39674"/><stop offset="0.72" stop-color="#c74146"/><stop offset="0.91" stop-color="#b01f35"/><stop offset="1.00" stop-color="#af1e34"/></linearGradient><linearGradient id="c10"><stop offset="0.00" stop-color="#b32236"/><stop offset="0.21" stop-color="#b42437"/><stop offset="0.35" stop-color="#cb4b4b"/><stop offset="0.44" stop-color="#e6a07a"/><stop offset="0.52" stop-color="#ecbd8a"/><stop offset="0.59" stop-color="#e69f7a"/><stop offset="0.69" stop-color="#ca484a"/><stop offset="0.82" stop-color="#b22236"/><stop offset="1.00" stop-color="#b12035"/></linearGradient><linearGradient id="c11"><stop offset="0.00" stop-color="#ae1e34"/><stop offset="0.13" stop-color="#b01f34"/><stop offset="0.29" stop-color="#c63f45"/><stop offset="0.40" stop-color="#e29272"/><stop offset="0.49" stop-color="#e9b183"/><stop offset="0.58" stop-color="#e29272"/><stop offset="0.68" stop-color="#c74146"/><stop offset="0.84" stop-color="#b12035"/><stop offset="1.00" stop-color="#b01f34"/></linearGradient><linearGradient id="c12"><stop offset="0.00" stop-color="#b62538"/><stop offset="0.12" stop-color="#b72739"/><stop offset="0.31" stop-color="#cc4e4c"/><stop offset="0.44" stop-color="#e59e79"/><stop offset="0.55" stop-color="#ebb988"/><stop offset="0.66" stop-color="#e59c78"/><stop offset="0.79" stop-color="#ca484a"/><stop offset="0.98" stop-color="#b32337"/><stop offset="1.00" stop-color="#b32236"/></linearGradient><linearGradient id="c13"><stop offset="0.00" stop-color="#ad1c33"/><stop offset="0.07" stop-color="#ae1e33"/><stop offset="0.28" stop-color="#ca484a"/><stop offset="0.42" stop-color="#e8ab80"/><stop offset="0.53" stop-color="#efcb94"/><stop offset="0.64" stop-color="#e8aa80"/><stop offset="0.78" stop-color="#c84448"/><stop offset="0.98" stop-color="#ab1b32"/><stop offset="1.00" stop-color="#ab1a32"/></linearGradient><linearGradient id="c14"><stop offset="0.00" stop-color="#af1f34"/><stop offset="0.08" stop-color="#b12035"/><stop offset="0.29" stop-color="#cc4d4c"/><stop offset="0.43" stop-color="#e9ad81"/><stop offset="0.54" stop-color="#efcd96"/><stop offset="0.66" stop-color="#e9ad81"/><stop offset="0.79" stop-color="#cb494a"/><stop offset="1.00" stop-color="#ae1e34"/></linearGradient><linearGradient id="c15"><stop offset="0.00" stop-color="#b32337"/><stop offset="0.08" stop-color="#b52437"/><stop offset="0.26" stop-color="#ca484a"/><stop offset="0.39" stop-color="#e49775"/><stop offset="0.49" stop-color="#eab485"/><stop offset="0.60" stop-color="#e49976"/><stop offset="0.72" stop-color="#cc4e4c"/><stop offset="0.91" stop-color="#b82839"/><stop offset="1.00" stop-color="#b72739"/></linearGradient><linearGradient id="c16"><stop offset="0.00" stop-color="#b01f35"/><stop offset="0.23" stop-color="#b22136"/><stop offset="0.36" stop-color="#cb4a4b"/><stop offset="0.45" stop-color="#e7a67d"/><stop offset="0.53" stop-color="#edc58e"/><stop offset="0.60" stop-color="#e7a67d"/><stop offset="0.69" stop-color="#cb4b4b"/><stop offset="0.83" stop-color="#b22236"/><stop offset="1.00" stop-color="#b12035"/></linearGradient><linearGradient id="c17"><stop offset="0.00" stop-color="#b01f34"/><stop offset="0.10" stop-color="#b12135"/><stop offset="0.28" stop-color="#c74146"/><stop offset="0.40" stop-color="#e29272"/><stop offset="0.51" stop-color="#e9b083"/><stop offset="0.61" stop-color="#e29171"/><stop offset="0.73" stop-color="#c63e45"/><stop offset="0.92" stop-color="#af1f34"/><stop offset="1.00" stop-color="#ae1e33"/></linearGradient><linearGradient id="c18"><stop offset="0.00" stop-color="#ab1a31"/><stop offset="0.23" stop-color="#ac1c32"/><stop offset="0.35" stop-color="#c74046"/><stop offset="0.43" stop-color="#e6a07a"/><stop offset="0.50" stop-color="#ecc08b"/><stop offset="0.57" stop-color="#e69f79"/><stop offset="0.65" stop-color="#c53b43"/><stop offset="0.77" stop-color="#a91830"/><stop offset="1.00" stop-color="#a7162f"/></linearGradient><linearGradient id="c19"><stop offset="0.00" stop-color="#b01f34"/><stop offset="0.12" stop-color="#b12135"/><stop offset="0.29" stop-color="#c84448"/><stop offset="0.40" stop-color="#e49a76"/><stop offset="0.49" stop-color="#ebb887"/><stop offset="0.58" stop-color="#e49a76"/><stop offset="0.68" stop-color="#c84347"/><stop offset="0.85" stop-color="#b12035"/><stop offset="1.00" stop-color="#af1e34"/></linearGradient><linearGradient id="c20"><stop offset="0.00" stop-color="#ac1b32"/><stop offset="0.31" stop-color="#ad1d33"/><stop offset="0.42" stop-color="#c23440"/><stop offset="0.49" stop-color="#dd7d65"/><stop offset="0.56" stop-color="#e59e79"/><stop offset="0.62" stop-color="#dd7c65"/><stop offset="0.69" stop-color="#c0303e"/><stop offset="0.80" stop-color="#aa1a31"/><stop offset="1.00" stop-color="#a91830"/></linearGradient><linearGradient id="c21"><stop offset="0.00" stop-color="#ab1b32"/><stop offset="0.12" stop-color="#ad1c33"/><stop offset="0.29" stop-color="#c23641"/><stop offset="0.40" stop-color="#df856a"/><stop offset="0.49" stop-color="#e7a67d"/><stop offset="0.58" stop-color="#df856a"/><stop offset="0.69" stop-color="#c23641"/><stop offset="0.85" stop-color="#ad1c32"/><stop offset="1.00" stop-color="#ab1a32"/></linearGradient><linearGradient id="c22"><stop offset="0.00" stop-color="#ac1b32"/><stop offset="0.27" stop-color="#ae1d33"/><stop offset="0.38" stop-color="#c84347"/><stop offset="0.45" stop-color="#e6a27b"/><stop offset="0.51" stop-color="#edc28d"/><stop offset="0.57" stop-color="#e6a27b"/><stop offset="0.64" stop-color="#c84347"/><stop offset="0.75" stop-color="#ae1d33"/><stop offset="1.00" stop-color="#ac1b32"/></linearGradient><linearGradient id="c23"><stop offset="0.00" stop-color="#b22236"/><stop offset="0.20" stop-color="#b42337"/><stop offset="0.35" stop-color="#c84448"/><stop offset="0.45" stop-color="#e39372"/><stop offset="0.53" stop-color="#e9b083"/><stop offset="0.61" stop-color="#e29272"/><stop offset="0.71" stop-color="#c74247"/><stop offset="0.86" stop-color="#b22136"/><stop offset="1.00" stop-color="#b02035"/></linearGradient><linearGradient id="c24"><stop offset="0.00" stop-color="#a81730"/><stop offset="0.12" stop-color="#a91931"/><stop offset="0.31" stop-color="#c23440"/><stop offset="0.43" stop-color="#e18c6e"/><stop offset="0.54" stop-color="#e9ae82"/><stop offset="0.64" stop-color="#e18b6e"/><stop offset="0.76" stop-color="#c0313e"/><stop offset="0.95" stop-color="#a7172f"/><stop offset="1.00" stop-color="#a6152f"/></linearGradient><linearGradient id="c25"><stop offset="0.00" stop-color="#af1e34"/><stop offset="0.24" stop-color="#b02035"/><stop offset="0.37" stop-color="#c94548"/><stop offset="0.46" stop-color="#e6a07a"/><stop offset="0.53" stop-color="#ecbe8b"/><stop offset="0.60" stop-color="#e6a07a"/><stop offset="0.68" stop-color="#c84448"/><stop offset="0.81" stop-color="#af1f34"/><stop offset="1.00" stop-color="#ad1d33"/></linearGradient><linearGradient id="c26"><stop offset="0.00" stop-color="#aa1931"/><stop offset="0.24" stop-color="#ab1a32"/><stop offset="0.36" stop-color="#c0313e"/><stop offset="0.44" stop-color="#dd7e66"/><stop offset="0.51" stop-color="#e6a07a"/><stop offset="0.57" stop-color="#dd7c65"/><stop offset="0.65" stop-color="#be2e3d"/><stop offset="0.77" stop-color="#a7162f"/><stop offset="1.00" stop-color="#a6152f"/></linearGradient><linearGradient id="c27"><stop offset="0.00" stop-color="#ab1a32"/><stop offset="0.16" stop-color="#ac1c32"/><stop offset="0.32" stop-color="#bf2f3d"/><stop offset="0.43" stop-color="#da725f"/><stop offset="0.53" stop-color="#e29070"/><stop offset="0.62" stop-color="#da705e"/><stop offset="0.73" stop-color="#bc2c3c"/><stop offset="0.90" stop-color="#a81830"/><stop offset="1.00" stop-color="#a7162f"/></linearGradient><linearGradient id="c28"><stop offset="0.00" stop-color="#af1e34"/><stop offset="0.21" stop-color="#b02035"/><stop offset="0.35" stop-color="#c23641"/><stop offset="0.44" stop-color="#dc7862"/><stop offset="0.52" stop-color="#e39573"/><stop offset="0.60" stop-color="#db7762"/><stop offset="0.69" stop-color="#c13440"/><stop offset="0.84" stop-color="#af1e34"/><stop offset="1.00" stop-color="#ae1d33"/></linearGradient><linearGradient id="c29"><stop offset="0.00" stop-color="#aa1931"/><stop offset="0.30" stop-color="#ab1a32"/><stop offset="0.41" stop-color="#c1323f"/><stop offset="0.48" stop-color="#de8268"/><stop offset="0.55" stop-color="#e7a37c"/><stop offset="0.61" stop-color="#de8067"/><stop offset="0.68" stop-color="#bf2f3d"/><stop offset="0.79" stop-color="#a81730"/><stop offset="1.00" stop-color="#a7162f"/></linearGradient><linearGradient id="c30"><stop offset="0.00" stop-color="#af1f34"/><stop offset="0.24" stop-color="#b12035"/><stop offset="0.36" stop-color="#c23541"/><stop offset="0.44" stop-color="#db7761"/><stop offset="0.51" stop-color="#e39372"/><stop offset="0.58" stop-color="#db7561"/><stop offset="0.66" stop-color="#c0303e"/><stop offset="0.78" stop-color="#ad1c33"/><stop offset="1.00" stop-color="#ac1b32"/></linearGradient><linearGradient id="c31"><stop offset="0.00" stop-color="#a81730"/><stop offset="0.25" stop-color="#a91830"/><stop offset="0.39" stop-color="#be2e3d"/><stop offset="0.47" stop-color="#dc7a63"/><stop offset="0.55" stop-color="#e59b77"/><stop offset="0.62" stop-color="#dc7b64"/><stop offset="0.71" stop-color="#c1323f"/><stop offset="0.84" stop-color="#ad1c33"/><stop offset="1.00" stop-color="#ac1b32"/></linearGradient><linearGradient id="c32"><stop offset="0.00" stop-color="#a7162f"/><stop offset="0.31" stop-color="#a81730"/><stop offset="0.41" stop-color="#bf2f3e"/><stop offset="0.48" stop-color="#de8168"/><stop offset="0.54" stop-color="#e7a47c"/><stop offset="0.60" stop-color="#de8167"/><stop offset="0.67" stop-color="#be2e3d"/><stop offset="0.77" stop-color="#a7162f"/><stop offset="1.00" stop-color="#a5142e"/></linearGradient><linearGradient id="c33"><stop offset="0.00" stop-color="#b01f34"/><stop offset="0.25" stop-color="#b12135"/><stop offset="0.36" stop-color="#c53c44"/><stop offset="0.43" stop-color="#df846a"/><stop offset="0.48" stop-color="#e7a37c"/><stop offset="0.54" stop-color="#df8369"/><stop offset="0.61" stop-color="#c43842"/><stop offset="0.71" stop-color="#af1f34"/><stop offset="1.00" stop-color="#ae1d33"/></linearGradient><linearGradient id="c34"><stop offset="0.00" stop-color="#af1f34"/><stop offset="0.22" stop-color="#b12035"/><stop offset="0.35" stop-color="#c1313f"/><stop offset="0.44" stop-color="#d96d5c"/><stop offset="0.51" stop-color="#df866b"/><stop offset="0.58" stop-color="#d96c5b"/><stop offset="0.67" stop-color="#c0303e"/><stop offset="0.80" stop-color="#af1f34"/><stop offset="1.00" stop-color="#ae1e33"/></linearGradient><linearGradient id="c35"><stop offset="0.00" stop-color="#af1e34"/><stop offset="0.21" stop-color="#b01f34"/><stop offset="0.35" stop-color="#c0313f"/><stop offset="0.45" stop-color="#d96f5d"/><stop offset="0.53" stop-color="#e0896c"/><stop offset="0.61" stop-color="#da705e"/><stop offset="0.71" stop-color="#c33641"/><stop offset="0.86" stop-color="#b32336"/><stop offset="1.00" stop-color="#b22236"/></linearGradient><linearGradient id="c36"><stop offset="0.00" stop-color="#ac1b32"/><stop offset="0.25" stop-color="#ad1c33"/><stop offset="0.37" stop-color="#c53c44"/><stop offset="0.46" stop-color="#e29272"/><stop offset="0.52" stop-color="#eab284"/><stop offset="0.59" stop-color="#e39372"/><stop offset="0.67" stop-color="#c53d44"/><stop offset="0.80" stop-color="#ae1d33"/><stop offset="1.00" stop-color="#ad1c32"/></linearGradient><linearGradient id="c37"><stop offset="0.00" stop-color="#af1e34"/><stop offset="0.28" stop-color="#b02035"/><stop offset="0.37" stop-color="#c64046"/><stop offset="0.44" stop-color="#e29171"/><stop offset="0.49" stop-color="#e9b083"/><stop offset="0.55" stop-color="#e29171"/><stop offset="0.61" stop-color="#c74046"/><stop offset="0.71" stop-color="#b12035"/><stop offset="1.00" stop-color="#af1f34"/></linearGradient><linearGradient id="c38"><stop offset="0.00" stop-color="#af1e34"/><stop offset="0.31" stop-color="#b01f34"/><stop offset="0.42" stop-color="#c33641"/><stop offset="0.49" stop-color="#dd7c64"/><stop offset="0.55" stop-color="#e49a76"/><stop offset="0.61" stop-color="#dc7b64"/><stop offset="0.69" stop-color="#c23440"/><stop offset="0.79" stop-color="#ae1e33"/><stop offset="1.00" stop-color="#ad1c33"/></linearGradient><linearGradient id="c39"><stop offset="0.00" stop-color="#a7162f"/><stop offset="0.34" stop-color="#a81730"/><stop offset="0.43" stop-color="#b82839"/><stop offset="0.49" stop-color="#d25c53"/><stop offset="0.54" stop-color="#db7762"/><stop offset="0.58" stop-color="#d25a52"/><stop offset="0.64" stop-color="#b62638"/><stop offset="0.73" stop-color="#a5142e"/><stop offset="1.00" stop-color="#a5142e"/></linearGradient><linearGradient id="c40"><stop offset="0.00" stop-color="#ad1d33"/><stop offset="0.19" stop-color="#af1e34"/><stop offset="0.35" stop-color="#c53b43"/><stop offset="0.45" stop-color="#e18b6e"/><stop offset="0.54" stop-color="#e8ab80"/><stop offset="0.63" stop-color="#e18b6e"/><stop offset="0.73" stop-color="#c43a43"/><stop offset="0.89" stop-color="#ae1e33"/><stop offset="1.00" stop-color="#ad1c33"/></linearGradient><linearGradient id="c41"><stop offset="0.00" stop-color="#ac1c32"/><stop offset="0.20" stop-color="#ae1d33"/><stop offset="0.34" stop-color="#c43842"/><stop offset="0.43" stop-color="#e0886c"/><stop offset="0.50" stop-color="#e8a87e"/><stop offset="0.58" stop-color="#e0896c"/><stop offset="0.67" stop-color="#c53c44"/><stop offset="0.81" stop-color="#b01f34"/><stop offset="1.00" stop-color="#ae1e34"/></linearGradient><linearGradient id="c42"><stop offset="0.00" stop-color="#a7162f"/><stop offset="0.17" stop-color="#a81730"/><stop offset="0.33" stop-color="#ba2a3b"/><stop offset="0.43" stop-color="#d76859"/><stop offset="0.52" stop-color="#df856a"/><stop offset="0.60" stop-color="#d76758"/><stop offset="0.71" stop-color="#b9293a"/><stop offset="0.86" stop-color="#a6152f"/><stop offset="1.00" stop-color="#a5142e"/></linearGradient><linearGradient id="c43"><stop offset="0.00" stop-color="#ae1d33"/><stop offset="0.30" stop-color="#af1f34"/><stop offset="0.38" stop-color="#c1323f"/><stop offset="0.44" stop-color="#da725f"/><stop offset="0.48" stop-color="#e18e6f"/><stop offset="0.53" stop-color="#da715e"/><stop offset="0.59" stop-color="#bf2f3e"/><stop offset="0.67" stop-color="#ad1d33"/><stop offset="1.00" stop-color="#ac1b32"/></linearGradient><linearGradient id="c44"><stop offset="0.00" stop-color="#a91830"/><stop offset="0.32" stop-color="#ab1a31"/><stop offset="0.42" stop-color="#c23540"/><stop offset="0.49" stop-color="#e0896d"/><stop offset="0.54" stop-color="#e8ab80"/><stop offset="0.60" stop-color="#e08b6d"/><stop offset="0.67" stop-color="#c43942"/><stop offset="0.76" stop-color="#ad1d33"/><stop offset="1.00" stop-color="#ac1b32"/></linearGradient><linearGradient id="c45"><stop offset="0.00" stop-color="#aa1931"/><stop offset="0.22" stop-color="#ab1b32"/><stop offset="0.35" stop-color="#c33741"/><stop offset="0.44" stop-color="#e18c6e"/><stop offset="0.52" stop-color="#e9ad81"/><stop offset="0.59" stop-color="#e18b6d"/><stop offset="0.68" stop-color="#c23440"/><stop offset="0.82" stop-color="#aa1931"/><stop offset="1.00" stop-color="#a81730"/></linearGradient><linearGradient id="c46"><stop offset="0.00" stop-color="#aa1a31"/><stop offset="0.24" stop-color="#ac1b32"/><stop offset="0.35" stop-color="#c23540"/><stop offset="0.43" stop-color="#df866b"/><stop offset="0.50" stop-color="#e7a77e"/><stop offset="0.56" stop-color="#df856a"/><stop offset="0.64" stop-color="#c13440"/><stop offset="0.76" stop-color="#ab1a31"/><stop offset="1.00" stop-color="#a91931"/></linearGradient><linearGradient id="c47"><stop offset="0.00" stop-color="#ab1a31"/><stop offset="0.22" stop-color="#ac1b32"/><stop offset="0.34" stop-color="#bb2b3b"/><stop offset="0.42" stop-color="#d35d54"/><stop offset="0.49" stop-color="#db7661"/><stop offset="0.55" stop-color="#d35e54"/><stop offset="0.63" stop-color="#bd2d3c"/><stop offset="0.75" stop-color="#ae1d33"/><stop offset="1.00" stop-color="#ad1c33"/></linearGradient><linearGradient id="c48"><stop offset="0.00" stop-color="#a7162f"/><stop offset="0.24" stop-color="#a81730"/><stop offset="0.36" stop-color="#b72739"/><stop offset="0.44" stop-color="#cf5550"/><stop offset="0.51" stop-color="#d96f5d"/><stop offset="0.57" stop-color="#d05751"/><stop offset="0.65" stop-color="#ba293a"/><stop offset="0.77" stop-color="#ab1b32"/><stop offset="1.00" stop-color="#aa1a31"/></linearGradient><linearGradient id="c49"><stop offset="0.00" stop-color="#ab1a31"/><stop offset="0.20" stop-color="#ac1b32"/><stop offset="0.34" stop-color="#be2e3d"/><stop offset="0.42" stop-color="#d96e5c"/><stop offset="0.50" stop-color="#e18b6d"/><stop offset="0.57" stop-color="#d96f5d"/><stop offset="0.66" stop-color="#bf2f3e"/><stop offset="0.79" stop-color="#ae1d33"/><stop offset="1.00" stop-color="#ad1c33"/></linearGradient><linearGradient id="c50"><stop offset="0.00" stop-color="#ac1c32"/><stop offset="0.17" stop-color="#ad1d33"/><stop offset="0.31" stop-color="#be2e3d"/><stop offset="0.41" stop-color="#d76959"/><stop offset="0.48" stop-color="#de8369"/><stop offset="0.56" stop-color="#d86a5a"/><stop offset="0.66" stop-color="#c0303e"/><stop offset="0.80" stop-color="#b02035"/><stop offset="1.00" stop-color="#af1f34"/></linearGradient><linearGradient id="c51"><stop offset="0.00" stop-color="#a7162f"/><stop offset="0.30" stop-color="#a81730"/><stop offset="0.38" stop-color="#be2e3d"/><stop offset="0.44" stop-color="#dd7c65"/><stop offset="0.49" stop-color="#e69f79"/><stop offset="0.53" stop-color="#dd7c65"/><stop offset="0.59" stop-color="#be2e3d"/><stop offset="0.68" stop-color="#a81730"/><stop offset="1.00" stop-color="#a7162f"/></linearGradient><linearGradient id="c52"><stop offset="0.00" stop-color="#af1f34"/><stop offset="0.29" stop-color="#b02035"/><stop offset="0.40" stop-color="#be2e3d"/><stop offset="0.47" stop-color="#d35e54"/><stop offset="0.53" stop-color="#db7460"/><stop offset="0.59" stop-color="#d35d54"/><stop offset="0.66" stop-color="#bc2c3c"/><stop offset="0.76" stop-color="#ae1d33"/><stop offset="1.00" stop-color="#ad1c33"/></linearGradient><linearGradient id="c53"><stop offset="0.00" stop-color="#ab1a32"/><stop offset="0.31" stop-color="#ac1b32"/><stop offset="0.41" stop-color="#b82839"/><stop offset="0.48" stop-color="#cc4c4c"/><stop offset="0.54" stop-color="#d46156"/><stop offset="0.60" stop-color="#cb4c4b"/><stop offset="0.66" stop-color="#b72739"/><stop offset="0.77" stop-color="#aa1a31"/><stop offset="1.00" stop-color="#aa1931"/></linearGradient><linearGradient id="c54"><stop offset="0.00" stop-color="#a81730"/><stop offset="0.25" stop-color="#a81830"/><stop offset="0.37" stop-color="#b62638"/><stop offset="0.45" stop-color="#cc4c4c"/><stop offset="0.51" stop-color="#d56357"/><stop offset="0.58" stop-color="#cc4e4c"/><stop offset="0.66" stop-color="#b82839"/><stop offset="0.78" stop-color="#ac1b32"/><stop offset="1.00" stop-color="#ab1a32"/></linearGradient><linearGradient id="c55"><stop offset="0.00" stop-color="#ad1d33"/><stop offset="0.26" stop-color="#ae1d33"/><stop offset="0.39" stop-color="#ba2a3b"/><stop offset="0.48" stop-color="#cd514e"/><stop offset="0.55" stop-color="#d66558"/><stop offset="0.62" stop-color="#ce524e"/><stop offset="0.71" stop-color="#bc2c3c"/><stop offset="0.84" stop-color="#b12035"/><stop offset="1.00" stop-color="#b01f34"/></linearGradient><linearGradient id="c56"><stop offset="0.00" stop-color="#ae1e33"/><stop offset="0.27" stop-color="#af1f34"/><stop offset="0.39" stop-color="#c1323f"/><stop offset="0.47" stop-color="#da715e"/><stop offset="0.53" stop-color="#e18d6f"/><stop offset="0.60" stop-color="#da725f"/><stop offset="0.67" stop-color="#c1333f"/><stop offset="0.79" stop-color="#b01f35"/><stop offset="1.00" stop-color="#af1e34"/></linearGradient><linearGradient id="c57"><stop offset="0.00" stop-color="#a81730"/><stop offset="0.27" stop-color="#a91830"/><stop offset="0.38" stop-color="#b62638"/><stop offset="0.46" stop-color="#cc4e4c"/><stop offset="0.53" stop-color="#d66558"/><stop offset="0.59" stop-color="#cc4c4c"/><stop offset="0.67" stop-color="#b42437"/><stop offset="0.78" stop-color="#a5142e"/><stop offset="1.00" stop-color="#a5142e"/></linearGradient><linearGradient id="c58"><stop offset="0.00" stop-color="#ac1b32"/><stop offset="0.31" stop-color="#ad1d33"/><stop offset="0.41" stop-color="#be2e3d"/><stop offset="0.48" stop-color="#d86b5a"/><stop offset="0.54" stop-color="#df856a"/><stop offset="0.60" stop-color="#d96c5b"/><stop offset="0.66" stop-color="#c0313e"/><stop offset="0.76" stop-color="#b02035"/><stop offset="1.00" stop-color="#af1f34"/></linearGradient><linearGradient id="c59"><stop offset="0.00" stop-color="#a91831"/><stop offset="0.30" stop-color="#ab1a31"/><stop offset="0.40" stop-color="#be2e3d"/><stop offset="0.47" stop-color="#da7460"/><stop offset="0.52" stop-color="#e39372"/><stop offset="0.58" stop-color="#da735f"/><stop offset="0.65" stop-color="#be2e3d"/><stop offset="0.75" stop-color="#aa1931"/><stop offset="1.00" stop-color="#a91830"/></linearGradient><linearGradient id="c60"><stop offset="0.00" stop-color="#af1f34"/><stop offset="0.23" stop-color="#b02035"/><stop offset="0.35" stop-color="#be2e3d"/><stop offset="0.44" stop-color="#d46055"/><stop offset="0.51" stop-color="#db7762"/><stop offset="0.58" stop-color="#d46156"/><stop offset="0.66" stop-color="#bf2f3e"/><stop offset="0.79" stop-color="#b22135"/><stop offset="1.00" stop-color="#b12035"/></linearGradient><linearGradient id="c61"><stop offset="0.00" stop-color="#af1e34"/><stop offset="0.29" stop-color="#b01f35"/><stop offset="0.38" stop-color="#c0313e"/><stop offset="0.44" stop-color="#d96d5c"/><stop offset="0.49" stop-color="#df876b"/><stop offset="0.54" stop-color="#d96d5c"/><stop offset="0.60" stop-color="#c0313e"/><stop offset="0.69" stop-color="#b01f34"/><stop offset="1.00" stop-color="#af1e34"/></linearGradient><linearGradient id="c62"><stop offset="0.00" stop-color="#aa1931"/><stop offset="0.30" stop-color="#ab1a31"/><stop offset="0.42" stop-color="#be2e3d"/><stop offset="0.49" stop-color="#da715e"/><stop offset="0.55" stop-color="#e18f70"/><stop offset="0.62" stop-color="#da705e"/><stop offset="0.69" stop-color="#bd2d3d"/><stop offset="0.80" stop-color="#aa1a31"/><stop offset="1.00" stop-color="#a91830"/></linearGradient><linearGradient id="c63"><stop offset="0.00" stop-color="#aa1931"/><stop offset="0.25" stop-color="#ab1a31"/><stop offset="0.36" stop-color="#bb2b3b"/><stop offset="0.43" stop-color="#d46156"/><stop offset="0.49" stop-color="#dd7c65"/><stop offset="0.55" stop-color="#d46055"/><stop offset="0.62" stop-color="#b9293a"/><stop offset="0.73" stop-color="#a81730"/><stop offset="1.00" stop-color="#a7162f"/></linearGradient><linearGradient id="c64"><stop offset="0.00" stop-color="#a7162f"/><stop offset="0.37" stop-color="#a81730"/><stop offset="0.45" stop-color="#b62638"/><stop offset="0.51" stop-color="#cd4f4d"/><stop offset="0.55" stop-color="#d8695a"/><stop offset="0.60" stop-color="#cd4f4d"/><stop offset="0.65" stop-color="#b42437"/><stop offset="0.74" stop-color="#a5142e"/><stop offset="1.00" stop-color="#a5142e"/></linearGradient><linearGradient id="c65"><stop offset="0.00" stop-color="#af1f34"/><stop offset="0.39" stop-color="#b01f34"/><stop offset="0.46" stop-color="#bc2b3b"/><stop offset="0.51" stop-color="#cd504d"/><stop offset="0.55" stop-color="#d66558"/><stop offset="0.60" stop-color="#cd504d"/><stop offset="0.65" stop-color="#b9293a"/><stop offset="0.72" stop-color="#ad1c33"/><stop offset="1.00" stop-color="#ac1b32"/></linearGradient><linearGradient id="c66"><stop offset="0.00" stop-color="#a6152f"/><stop offset="0.36" stop-color="#a7162f"/><stop offset="0.43" stop-color="#b32336"/><stop offset="0.47" stop-color="#c74247"/><stop offset="0.51" stop-color="#d05751"/><stop offset="0.55" stop-color="#c74146"/><stop offset="0.59" stop-color="#b22136"/><stop offset="0.66" stop-color="#a5142e"/><stop offset="1.00" stop-color="#a5142e"/></linearGradient><linearGradient id="c67"><stop offset="0.00" stop-color="#a7162f"/><stop offset="0.27" stop-color="#a7172f"/><stop offset="0.37" stop-color="#b22236"/><stop offset="0.43" stop-color="#c43a43"/><stop offset="0.49" stop-color="#cc4c4c"/><stop offset="0.54" stop-color="#c43942"/><stop offset="0.61" stop-color="#b12035"/><stop offset="0.71" stop-color="#a5142e"/><stop offset="1.00" stop-color="#a5142e"/></linearGradient><linearGradient id="c68"><stop offset="0.00" stop-color="#ab1a32"/><stop offset="0.32" stop-color="#ac1c32"/><stop offset="0.42" stop-color="#be2e3d"/><stop offset="0.48" stop-color="#d96d5c"/><stop offset="0.53" stop-color="#e0896d"/><stop offset="0.59" stop-color="#d96e5c"/><stop offset="0.65" stop-color="#bf2f3e"/><stop offset="0.75" stop-color="#ae1d33"/><stop offset="1.00" stop-color="#ad1c33"/></linearGradient><linearGradient id="c69"><stop offset="0.00" stop-color="#ae1d33"/><stop offset="0.34" stop-color="#af1e34"/><stop offset="0.40" stop-color="#bf2f3e"/><stop offset="0.45" stop-color="#d86b5b"/><stop offset="0.49" stop-color="#df856a"/><stop offset="0.52" stop-color="#d86c5b"/><stop offset="0.57" stop-color="#c0303e"/><stop offset="0.64" stop-color="#b01f34"/><stop offset="1.00" stop-color="#af1e34"/></linearGradient><linearGradient id="c70"><stop offset="0.00" stop-color="#ab1a31"/><stop offset="0.28" stop-color="#ac1b32"/><stop offset="0.38" stop-color="#b9293a"/><stop offset="0.44" stop-color="#cf5550"/><stop offset="0.50" stop-color="#d96c5b"/><stop offset="0.55" stop-color="#d05650"/><stop offset="0.62" stop-color="#bb2a3b"/><stop offset="0.71" stop-color="#ad1d33"/><stop offset="1.00" stop-color="#ac1c32"/></linearGradient><linearGradient id="c71"><stop offset="0.00" stop-color="#aa1931"/><stop offset="0.35" stop-color="#aa1a31"/><stop offset="0.42" stop-color="#b72739"/><stop offset="0.46" stop-color="#cc4d4c"/><stop offset="0.50" stop-color="#d56357"/><stop offset="0.54" stop-color="#cc4d4c"/><stop offset="0.59" stop-color="#b82839"/><stop offset="0.66" stop-color="#ab1a32"/><stop offset="1.00" stop-color="#aa1931"/></linearGradient><linearGradient id="c72"><stop offset="0.00" stop-color="#ab1a32"/><stop offset="0.38" stop-color="#ac1b32"/><stop offset="0.45" stop-color="#bd2d3c"/><stop offset="0.50" stop-color="#d86959"/><stop offset="0.53" stop-color="#df8469"/><stop offset="0.57" stop-color="#d76759"/><stop offset="0.62" stop-color="#bb2b3b"/><stop offset="0.69" stop-color="#a91830"/><stop offset="1.00" stop-color="#a81730"/></linearGradient><linearGradient id="c73"><stop offset="0.00" stop-color="#ac1b32"/><stop offset="0.34" stop-color="#ad1c33"/><stop offset="0.43" stop-color="#b62638"/><stop offset="0.50" stop-color="#c53d44"/><stop offset="0.55" stop-color="#cc4d4c"/><stop offset="0.61" stop-color="#c53c44"/><stop offset="0.67" stop-color="#b52437"/><stop offset="0.77" stop-color="#ab1a31"/><stop offset="1.00" stop-color="#aa1931"/></linearGradient><linearGradient id="c74"><stop offset="0.00" stop-color="#ae1d33"/><stop offset="0.33" stop-color="#ae1e34"/><stop offset="0.40" stop-color="#b82739"/><stop offset="0.45" stop-color="#c74146"/><stop offset="0.49" stop-color="#cd504e"/><stop offset="0.53" stop-color="#c74046"/><stop offset="0.58" stop-color="#b72739"/><stop offset="0.65" stop-color="#ae1d33"/><stop offset="1.00" stop-color="#ad1d33"/></linearGradient><linearGradient id="c75"><stop offset="0.00" stop-color="#a6152f"/><stop offset="0.33" stop-color="#a7162f"/><stop offset="0.41" stop-color="#b72739"/><stop offset="0.47" stop-color="#d15952"/><stop offset="0.51" stop-color="#da7360"/><stop offset="0.56" stop-color="#d15a52"/><stop offset="0.61" stop-color="#b9283a"/><stop offset="0.70" stop-color="#a91830"/><stop offset="1.00" stop-color="#a81730"/></linearGradient><linearGradient id="c76"><stop offset="0.00" stop-color="#a81730"/><stop offset="0.32" stop-color="#a81730"/><stop offset="0.40" stop-color="#b42437"/><stop offset="0.44" stop-color="#c84347"/><stop offset="0.48" stop-color="#d05751"/><stop offset="0.52" stop-color="#c84448"/><stop offset="0.57" stop-color="#b62638"/><stop offset="0.64" stop-color="#ab1b32"/><stop offset="1.00" stop-color="#ab1a31"/></linearGradient><linearGradient id="c77"><stop offset="0.00" stop-color="#a6152f"/><stop offset="0.34" stop-color="#a7162f"/><stop offset="0.43" stop-color="#b12035"/><stop offset="0.49" stop-color="#c23440"/><stop offset="0.54" stop-color="#c94548"/><stop offset="0.59" stop-color="#c23440"/><stop offset="0.65" stop-color="#b02035"/><stop offset="0.74" stop-color="#a6152f"/><stop offset="1.00" stop-color="#a6152e"/></linearGradient><linearGradient id="c78"><stop offset="0.00" stop-color="#aa1931"/><stop offset="0.40" stop-color="#aa1931"/><stop offset="0.46" stop-color="#b32337"/><stop offset="0.49" stop-color="#c33742"/><stop offset="0.52" stop-color="#ca4749"/><stop offset="0.55" stop-color="#c33641"/><stop offset="0.59" stop-color="#b22136"/><stop offset="0.64" stop-color="#a81730"/><stop offset="1.00" stop-color="#a7172f"/></linearGradient><linearGradient id="c79"><stop offset="0.00" stop-color="#a7162f"/><stop offset="0.39" stop-color="#a81730"/><stop offset="0.44" stop-color="#b9293a"/><stop offset="0.48" stop-color="#d56256"/><stop offset="0.51" stop-color="#dd7f66"/><stop offset="0.54" stop-color="#d56357"/><stop offset="0.57" stop-color="#bb2b3b"/><stop offset="0.63" stop-color="#aa1931"/><stop offset="1.00" stop-color="#a91830"/></linearGradient><linearGradient id="c80"><stop offset="0.00" stop-color="#ad1c33"/><stop offset="0.33" stop-color="#ae1d33"/><stop offset="0.42" stop-color="#b52538"/><stop offset="0.48" stop-color="#c23641"/><stop offset="0.52" stop-color="#c84347"/><stop offset="0.57" stop-color="#c33641"/><stop offset="0.63" stop-color="#b62638"/><stop offset="0.71" stop-color="#af1e34"/><stop offset="1.00" stop-color="#ae1d33"/></linearGradient><linearGradient id="c81"><stop offset="0.00" stop-color="#af1f34"/><stop offset="0.36" stop-color="#b02035"/><stop offset="0.44" stop-color="#be2e3d"/><stop offset="0.50" stop-color="#d35f55"/><stop offset="0.54" stop-color="#db7661"/><stop offset="0.58" stop-color="#d35f55"/><stop offset="0.63" stop-color="#be2e3d"/><stop offset="0.71" stop-color="#b01f35"/><stop offset="1.00" stop-color="#af1f34"/></linearGradient><linearGradient id="c82"><stop offset="0.00" stop-color="#ab1a32"/><stop offset="0.34" stop-color="#ac1b32"/><stop offset="0.41" stop-color="#bb2b3b"/><stop offset="0.47" stop-color="#d35d54"/><stop offset="0.51" stop-color="#db7661"/><stop offset="0.55" stop-color="#d25b53"/><stop offset="0.61" stop-color="#b82839"/><stop offset="0.68" stop-color="#a81730"/><stop offset="1.00" stop-color="#a7162f"/></linearGradient><linearGradient id="c83"><stop offset="0.00" stop-color="#ae1d33"/><stop offset="0.35" stop-color="#ae1e33"/><stop offset="0.42" stop-color="#b82739"/><stop offset="0.47" stop-color="#c74247"/><stop offset="0.50" stop-color="#ce524f"/><stop offset="0.54" stop-color="#c74247"/><stop offset="0.59" stop-color="#b82839"/><stop offset="0.66" stop-color="#af1e34"/><stop offset="1.00" stop-color="#ae1d33"/></linearGradient><linearGradient id="c84"><stop offset="0.00" stop-color="#a91931"/><stop offset="0.36" stop-color="#aa1a31"/><stop offset="0.43" stop-color="#ba2a3a"/><stop offset="0.48" stop-color="#d25c53"/><stop offset="0.52" stop-color="#db7661"/><stop offset="0.57" stop-color="#d35d54"/><stop offset="0.62" stop-color="#bc2b3b"/><stop offset="0.69" stop-color="#ad1c33"/><stop offset="1.00" stop-color="#ac1b32"/></linearGradient><linearGradient id="c85"><stop offset="0.00" stop-color="#aa1931"/><stop offset="0.35" stop-color="#ab1a31"/><stop offset="0.44" stop-color="#b72739"/><stop offset="0.49" stop-color="#cb4a4b"/><stop offset="0.54" stop-color="#d45f55"/><stop offset="0.58" stop-color="#cb4b4b"/><stop offset="0.63" stop-color="#b82839"/><stop offset="0.72" stop-color="#ad1c32"/><stop offset="1.00" stop-color="#ac1b32"/></linearGradient><linearGradient id="c86"><stop offset="0.00" stop-color="#af1e34"/><stop offset="0.34" stop-color="#af1f34"/><stop offset="0.41" stop-color="#bb2a3b"/><stop offset="0.46" stop-color="#cc4d4c"/><stop offset="0.50" stop-color="#d46055"/><stop offset="0.54" stop-color="#cc4c4c"/><stop offset="0.58" stop-color="#b9293a"/><stop offset="0.66" stop-color="#ad1d33"/><stop offset="1.00" stop-color="#ad1c32"/></linearGradient><linearGradient id="c87"><stop offset="0.00" stop-color="#aa1931"/><stop offset="0.30" stop-color="#aa1a31"/><stop offset="0.38" stop-color="#b62638"/><stop offset="0.44" stop-color="#c94749"/><stop offset="0.49" stop-color="#d25b53"/><stop offset="0.53" stop-color="#c94649"/><stop offset="0.59" stop-color="#b52538"/><stop offset="0.68" stop-color="#a91831"/><stop offset="1.00" stop-color="#a81830"/></linearGradient><linearGradient id="c88"><stop offset="0.00" stop-color="#ad1c33"/><stop offset="0.31" stop-color="#ae1d33"/><stop offset="0.39" stop-color="#b82839"/><stop offset="0.45" stop-color="#c94648"/><stop offset="0.49" stop-color="#d05751"/><stop offset="0.54" stop-color="#c94749"/><stop offset="0.60" stop-color="#ba293a"/><stop offset="0.68" stop-color="#b01f34"/><stop offset="1.00" stop-color="#af1f34"/></linearGradient><linearGradient id="c89"><stop offset="0.00" stop-color="#aa1931"/><stop offset="0.40" stop-color="#aa1a31"/><stop offset="0.45" stop-color="#b72639"/><stop offset="0.48" stop-color="#cb4a4a"/><stop offset="0.51" stop-color="#d35f54"/><stop offset="0.54" stop-color="#cb4b4b"/><stop offset="0.57" stop-color="#b9283a"/><stop offset="0.62" stop-color="#ad1c33"/><stop offset="1.00" stop-color="#ac1b32"/></linearGradient><linearGradient id="c90"><stop offset="0.00" stop-color="#ad1c33"/><stop offset="0.34" stop-color="#ae1d33"/><stop offset="0.41" stop-color="#b9293a"/><stop offset="0.45" stop-color="#cb4a4b"/><stop offset="0.49" stop-color="#d35e54"/><stop offset="0.52" stop-color="#cb4b4b"/><stop offset="0.56" stop-color="#ba2a3a"/><stop offset="0.63" stop-color="#af1f34"/><stop offset="1.00" stop-color="#af1e34"/></linearGradient><linearGradient id="c91"><stop offset="0.00" stop-color="#aa1931"/><stop offset="0.36" stop-color="#ab1a31"/><stop offset="0.43" stop-color="#b82839"/><stop offset="0.47" stop-color="#ce524e"/><stop offset="0.51" stop-color="#d86959"/><stop offset="0.55" stop-color="#cf534f"/><stop offset="0.60" stop-color="#ba2a3b"/><stop offset="0.67" stop-color="#ae1d33"/><stop offset="1.00" stop-color="#ad1c33"/></linearGradient><linearGradient id="c92"><stop offset="0.00" stop-color="#a6152f"/><stop offset="0.44" stop-color="#a8172f"/><stop offset="0.49" stop-color="#b82839"/><stop offset="0.53" stop-color="#d35e54"/><stop offset="0.55" stop-color="#dc7963"/><stop offset="0.58" stop-color="#d35e54"/><stop offset="0.61" stop-color="#b9293a"/><stop offset="0.66" stop-color="#a81730"/><stop offset="1.00" stop-color="#a7162f"/></linearGradient><linearGradient id="c93"><stop offset="0.00" stop-color="#aa1931"/><stop offset="0.38" stop-color="#ab1a31"/><stop offset="0.44" stop-color="#ba2a3b"/><stop offset="0.48" stop-color="#d35d54"/><stop offset="0.52" stop-color="#db7661"/><stop offset="0.56" stop-color="#d25b53"/><stop offset="0.60" stop-color="#b82839"/><stop offset="0.66" stop-color="#a7162f"/><stop offset="1.00" stop-color="#a6152f"/></linearGradient><linearGradient id="c94"><stop offset="0.00" stop-color="#ae1d33"/><stop offset="0.37" stop-color="#ae1e34"/><stop offset="0.43" stop-color="#ba2a3a"/><stop offset="0.46" stop-color="#cc4d4c"/><stop offset="0.49" stop-color="#d46055"/><stop offset="0.52" stop-color="#cc4c4c"/><stop offset="0.56" stop-color="#b9293a"/><stop offset="0.61" stop-color="#ae1d33"/><stop offset="1.00" stop-color="#ad1c33"/></linearGradient><linearGradient id="c95"><stop offset="0.00" stop-color="#af1e34"/><stop offset="0.35" stop-color="#b01f34"/><stop offset="0.41" stop-color="#bd2d3c"/><stop offset="0.45" stop-color="#d25a52"/><stop offset="0.49" stop-color="#da705e"/><stop offset="0.52" stop-color="#d25c53"/><stop offset="0.56" stop-color="#bf2f3d"/><stop offset="0.62" stop-color="#b32236"/><stop offset="1.00" stop-color="#b22136"/></linearGradient><linearGradient id="c96"><stop offset="0.00" stop-color="#a7162f"/><stop offset="0.41" stop-color="#a81730"/><stop offset="0.48" stop-color="#b62638"/><stop offset="0.52" stop-color="#cc4c4c"/><stop offset="0.55" stop-color="#d66558"/><stop offset="0.59" stop-color="#cc4c4c"/><stop offset="0.63" stop-color="#b42437"/><stop offset="0.69" stop-color="#a5142e"/><stop offset="1.00" stop-color="#a5142e"/></linearGradient><linearGradient id="c97"><stop offset="0.00" stop-color="#ae1d33"/><stop offset="0.43" stop-color="#ae1e34"/><stop offset="0.47" stop-color="#ba2a3b"/><stop offset="0.50" stop-color="#cd504d"/><stop offset="0.52" stop-color="#d56457"/><stop offset="0.55" stop-color="#cd4f4d"/><stop offset="0.58" stop-color="#b9293a"/><stop offset="0.62" stop-color="#ad1c33"/><stop offset="1.00" stop-color="#ac1b32"/></linearGradient><linearGradient id="c98"><stop offset="0.00" stop-color="#ad1c32"/><stop offset="0.37" stop-color="#ad1d33"/><stop offset="0.44" stop-color="#bc2c3c"/><stop offset="0.48" stop-color="#d25d54"/><stop offset="0.52" stop-color="#db7460"/><stop offset="0.56" stop-color="#d35d54"/><stop offset="0.60" stop-color="#bd2c3c"/><stop offset="0.67" stop-color="#ae1e34"/><stop offset="1.00" stop-color="#ad1d33"/></linearGradient><linearGradient id="c99"><stop offset="0.00" stop-color="#a81730"/><stop offset="0.43" stop-color="#a81830"/><stop offset="0.48" stop-color="#b32336"/><stop offset="0.51" stop-color="#c53b43"/><stop offset="0.53" stop-color="#cd4f4d"/><stop offset="0.56" stop-color="#c53b43"/><stop offset="0.59" stop-color="#b12035"/><stop offset="0.64" stop-color="#a5142e"/><stop offset="1.00" stop-color="#a5142e"/></linearGradient><linearGradient id="c100"><stop offset="0.00" stop-color="#ab1a31"/><stop offset="0.35" stop-color="#ab1a32"/><stop offset="0.41" stop-color="#b22236"/><stop offset="0.45" stop-color="#be2e3d"/><stop offset="0.49" stop-color="#c43942"/><stop offset="0.52" stop-color="#be2d3d"/><stop offset="0.56" stop-color="#b01f34"/><stop offset="0.62" stop-color="#a7162f"/><stop offset="1.00" stop-color="#a7162f"/></linearGradient><linearGradient id="c101"><stop offset="0.00" stop-color="#ac1b32"/><stop offset="0.37" stop-color="#ad1c32"/><stop offset="0.44" stop-color="#b9283a"/><stop offset="0.49" stop-color="#cc4c4c"/><stop offset="0.53" stop-color="#d46055"/><stop offset="0.57" stop-color="#cc4e4c"/><stop offset="0.62" stop-color="#bb2b3b"/><stop offset="0.69" stop-color="#b02035"/><stop offset="1.00" stop-color="#b01f34"/></linearGradient><linearGradient id="c102"><stop offset="0.00" stop-color="#a7162f"/><stop offset="0.36" stop-color="#a7162f"/><stop offset="0.42" stop-color="#b42337"/><stop offset="0.46" stop-color="#c84448"/><stop offset="0.50" stop-color="#d15952"/><stop offset="0.53" stop-color="#c84247"/><stop offset="0.57" stop-color="#b22136"/><stop offset="0.63" stop-color="#a5142e"/><stop offset="1.00" stop-color="#a5142e"/></linearGradient><linearGradient id="c103"><stop offset="0.00" stop-color="#a81730"/><stop offset="0.39" stop-color="#a81730"/><stop offset="0.45" stop-color="#b32336"/><stop offset="0.50" stop-color="#c63d44"/><stop offset="0.53" stop-color="#cd504d"/><stop offset="0.57" stop-color="#c63e45"/><stop offset="0.62" stop-color="#b42337"/><stop offset="0.68" stop-color="#a91830"/><stop offset="1.00" stop-color="#a81730"/></linearGradient><linearGradient id="c104"><stop offset="0.00" stop-color="#a6152e"/><stop offset="0.37" stop-color="#a7162f"/><stop offset="0.43" stop-color="#b42437"/><stop offset="0.46" stop-color="#ca4849"/><stop offset="0.50" stop-color="#d35e54"/><stop offset="0.53" stop-color="#ca484a"/><stop offset="0.56" stop-color="#b52437"/><stop offset="0.62" stop-color="#a81730"/><stop offset="1.00" stop-color="#a7162f"/></linearGradient><linearGradient id="c105"><stop offset="0.00" stop-color="#a81730"/><stop offset="0.42" stop-color="#a81730"/><stop offset="0.47" stop-color="#b12035"/><stop offset="0.51" stop-color="#bf2f3d"/><stop offset="0.54" stop-color="#c63e45"/><stop offset="0.57" stop-color="#bf2f3d"/><stop offset="0.60" stop-color="#af1e34"/><stop offset="0.66" stop-color="#a5142e"/><stop offset="1.00" stop-color="#a5142e"/></linearGradient><linearGradient id="c106"><stop offset="0.00" stop-color="#aa1931"/><stop offset="0.41" stop-color="#aa1931"/><stop offset="0.47" stop-color="#b22135"/><stop offset="0.51" stop-color="#be2d3d"/><stop offset="0.54" stop-color="#c33842"/><stop offset="0.58" stop-color="#be2d3d"/><stop offset="0.62" stop-color="#b02035"/><stop offset="0.68" stop-color="#a81830"/><stop offset="1.00" stop-color="#a81730"/></linearGradient><linearGradient id="c107"><stop offset="0.00" stop-color="#ad1c33"/><stop offset="0.40" stop-color="#ad1d33"/><stop offset="0.45" stop-color="#b62638"/><stop offset="0.48" stop-color="#c43a43"/><stop offset="0.50" stop-color="#ca484a"/><stop offset="0.53" stop-color="#c43a43"/><stop offset="0.56" stop-color="#b62638"/><stop offset="0.60" stop-color="#ae1d33"/><stop offset="1.00" stop-color="#ad1c33"/></linearGradient><linearGradient id="c108"><stop offset="0.00" stop-color="#ae1d33"/><stop offset="0.46" stop-color="#ae1e34"/><stop offset="0.49" stop-color="#b82839"/><stop offset="0.52" stop-color="#c74247"/><stop offset="0.54" stop-color="#ce524e"/><stop offset="0.56" stop-color="#c74247"/><stop offset="0.58" stop-color="#b82839"/><stop offset="0.62" stop-color="#af1e34"/><stop offset="1.00" stop-color="#ae1e34"/></linearGradient><linearGradient id="d0"><stop offset="0.00" stop-color="#bb2b3b"/><stop offset="0.21" stop-color="#bd2d3c"/><stop offset="0.33" stop-color="#d86a5a"/><stop offset="0.41" stop-color="#edc48e"/><stop offset="0.48" stop-color="#f1dca9"/><stop offset="0.54" stop-color="#edc58e"/><stop offset="0.63" stop-color="#d96e5d"/><stop offset="0.75" stop-color="#c0303e"/><stop offset="1.00" stop-color="#be2e3d"/></linearGradient><linearGradient id="d1"><stop offset="0.00" stop-color="#c94548"/><stop offset="0.14" stop-color="#ca494a"/><stop offset="0.29" stop-color="#de7f67"/><stop offset="0.38" stop-color="#eec992"/><stop offset="0.47" stop-color="#f1ddaa"/><stop offset="0.55" stop-color="#eec890"/><stop offset="0.64" stop-color="#db7661"/><stop offset="0.79" stop-color="#c53b43"/><stop offset="1.00" stop-color="#c33741"/></linearGradient><linearGradient id="d2"><stop offset="0.00" stop-color="#ce524e"/><stop offset="0.16" stop-color="#cf5550"/><stop offset="0.30" stop-color="#de7f67"/><stop offset="0.39" stop-color="#ecbc8a"/><stop offset="0.47" stop-color="#efd09a"/><stop offset="0.54" stop-color="#ecbc8a"/><stop offset="0.64" stop-color="#dd7f66"/><stop offset="0.77" stop-color="#cf544f"/><stop offset="1.00" stop-color="#ce514e"/></linearGradient><linearGradient id="d3"><stop offset="0.00" stop-color="#d46156"/><stop offset="0.28" stop-color="#d66558"/><stop offset="0.40" stop-color="#e6a07a"/><stop offset="0.48" stop-color="#f1deab"/><stop offset="0.54" stop-color="#e5e5cd"/><stop offset="0.61" stop-color="#f1ddaa"/><stop offset="0.69" stop-color="#e59b77"/><stop offset="0.80" stop-color="#d35f55"/><stop offset="1.00" stop-color="#d25b53"/></linearGradient><linearGradient id="d4"><stop offset="0.00" stop-color="#ce524f"/><stop offset="0.15" stop-color="#d05650"/><stop offset="0.29" stop-color="#df876b"/><stop offset="0.39" stop-color="#eec991"/><stop offset="0.46" stop-color="#f1dba7"/><stop offset="0.54" stop-color="#eec991"/><stop offset="0.63" stop-color="#e0876b"/><stop offset="0.77" stop-color="#d05651"/><stop offset="1.00" stop-color="#cf534f"/></linearGradient><linearGradient id="d5"><stop offset="0.00" stop-color="#c74146"/><stop offset="0.24" stop-color="#c94548"/><stop offset="0.35" stop-color="#de8067"/><stop offset="0.43" stop-color="#efce97"/><stop offset="0.50" stop-color="#f1e2b2"/><stop offset="0.56" stop-color="#efcc95"/><stop offset="0.64" stop-color="#db7762"/><stop offset="0.75" stop-color="#c33741"/><stop offset="1.00" stop-color="#c1333f"/></linearGradient><linearGradient id="d6"><stop offset="0.00" stop-color="#c74247"/><stop offset="0.23" stop-color="#c94548"/><stop offset="0.34" stop-color="#da725f"/><stop offset="0.42" stop-color="#eab485"/><stop offset="0.48" stop-color="#eecb94"/><stop offset="0.54" stop-color="#e9b183"/><stop offset="0.62" stop-color="#d56357"/><stop offset="0.73" stop-color="#c0303e"/><stop offset="1.00" stop-color="#be2e3d"/></linearGradient><linearGradient id="d7"><stop offset="0.00" stop-color="#d15a52"/><stop offset="0.19" stop-color="#d25d54"/><stop offset="0.33" stop-color="#de8268"/><stop offset="0.43" stop-color="#ebb787"/><stop offset="0.50" stop-color="#eecb94"/><stop offset="0.58" stop-color="#ebb786"/><stop offset="0.67" stop-color="#dd7f66"/><stop offset="0.81" stop-color="#d15851"/><stop offset="1.00" stop-color="#cf5550"/></linearGradient><linearGradient id="d8"><stop offset="0.00" stop-color="#bd2d3c"/><stop offset="0.27" stop-color="#c0303e"/><stop offset="0.39" stop-color="#de8268"/><stop offset="0.47" stop-color="#f2e0ae"/><stop offset="0.53" stop-color="#dce4da"/><stop offset="0.60" stop-color="#f2e2b0"/><stop offset="0.68" stop-color="#e18c6e"/><stop offset="0.79" stop-color="#c63f45"/><stop offset="1.00" stop-color="#c43943"/></linearGradient><linearGradient id="d9"><stop offset="0.00" stop-color="#d66457"/><stop offset="0.16" stop-color="#d8695a"/><stop offset="0.31" stop-color="#e8a97f"/><stop offset="0.41" stop-color="#ece3be"/><stop offset="0.49" stop-color="#d3dfdc"/><stop offset="0.58" stop-color="#ece3bc"/><stop offset="0.68" stop-color="#e7a47c"/><stop offset="0.83" stop-color="#d46055"/><stop offset="1.00" stop-color="#d25b53"/></linearGradient><linearGradient id="d10"><stop offset="0.00" stop-color="#bf2f3d"/><stop offset="0.20" stop-color="#c1323f"/><stop offset="0.33" stop-color="#dd7f67"/><stop offset="0.42" stop-color="#f1dba7"/><stop offset="0.50" stop-color="#e3e5d1"/><stop offset="0.57" stop-color="#f1d9a5"/><stop offset="0.66" stop-color="#db7762"/><stop offset="0.80" stop-color="#bb2b3b"/><stop offset="1.00" stop-color="#b9283a"/></linearGradient><linearGradient id="d11"><stop offset="0.00" stop-color="#cc4e4c"/><stop offset="0.28" stop-color="#ce524e"/><stop offset="0.39" stop-color="#e08b6d"/><stop offset="0.47" stop-color="#efd29c"/><stop offset="0.54" stop-color="#efe3b8"/><stop offset="0.61" stop-color="#efd19b"/><stop offset="0.69" stop-color="#df856a"/><stop offset="0.80" stop-color="#ca494a"/><stop offset="1.00" stop-color="#c94548"/></linearGradient><linearGradient id="d12"><stop offset="0.00" stop-color="#c84448"/><stop offset="0.21" stop-color="#cb4a4a"/><stop offset="0.33" stop-color="#e49976"/><stop offset="0.41" stop-color="#ece3be"/><stop offset="0.48" stop-color="#cddcdd"/><stop offset="0.54" stop-color="#ebe3be"/><stop offset="0.62" stop-color="#e49a77"/><stop offset="0.74" stop-color="#cb4b4b"/><stop offset="1.00" stop-color="#c94548"/></linearGradient><linearGradient id="d13"><stop offset="0.00" stop-color="#c74046"/><stop offset="0.22" stop-color="#c84448"/><stop offset="0.35" stop-color="#dd7d65"/><stop offset="0.44" stop-color="#eecb93"/><stop offset="0.51" stop-color="#f2e0ad"/><stop offset="0.58" stop-color="#efcc95"/><stop offset="0.67" stop-color="#e0876b"/><stop offset="0.80" stop-color="#ce534f"/><stop offset="1.00" stop-color="#cd4f4d"/></linearGradient><linearGradient id="d14"><stop offset="0.00" stop-color="#c23540"/><stop offset="0.27" stop-color="#c43942"/><stop offset="0.39" stop-color="#dc7862"/><stop offset="0.47" stop-color="#efcc95"/><stop offset="0.54" stop-color="#f2e2b0"/><stop offset="0.61" stop-color="#efcc94"/><stop offset="0.69" stop-color="#db7762"/><stop offset="0.82" stop-color="#c33842"/><stop offset="1.00" stop-color="#c23440"/></linearGradient><linearGradient id="d15"><stop offset="0.00" stop-color="#c23540"/><stop offset="0.28" stop-color="#c43942"/><stop offset="0.40" stop-color="#dc7963"/><stop offset="0.47" stop-color="#efcd97"/><stop offset="0.54" stop-color="#f0e2b4"/><stop offset="0.60" stop-color="#efcd96"/><stop offset="0.68" stop-color="#db7761"/><stop offset="0.80" stop-color="#c23540"/><stop offset="1.00" stop-color="#c0313e"/></linearGradient><linearGradient id="d16"><stop offset="0.00" stop-color="#b52538"/><stop offset="0.23" stop-color="#b82839"/><stop offset="0.34" stop-color="#dc7a63"/><stop offset="0.42" stop-color="#f1e2b1"/><stop offset="0.48" stop-color="#d4e0dc"/><stop offset="0.54" stop-color="#f2e2b1"/><stop offset="0.61" stop-color="#db7761"/><stop offset="0.73" stop-color="#b62538"/><stop offset="1.00" stop-color="#b32236"/></linearGradient><linearGradient id="d17"><stop offset="0.00" stop-color="#bb2b3b"/><stop offset="0.19" stop-color="#bd2d3c"/><stop offset="0.31" stop-color="#dd7d65"/><stop offset="0.40" stop-color="#f1deaa"/><stop offset="0.47" stop-color="#e0e6d9"/><stop offset="0.54" stop-color="#f1dca9"/><stop offset="0.62" stop-color="#da7460"/><stop offset="0.74" stop-color="#b72739"/><stop offset="1.00" stop-color="#b42437"/></linearGradient><linearGradient id="d18"><stop offset="0.00" stop-color="#af1e34"/><stop offset="0.26" stop-color="#b12035"/><stop offset="0.37" stop-color="#cc4d4c"/><stop offset="0.45" stop-color="#e9ad81"/><stop offset="0.51" stop-color="#efcd96"/><stop offset="0.58" stop-color="#e9ae82"/><stop offset="0.65" stop-color="#cd4f4d"/><stop offset="0.77" stop-color="#b22236"/><stop offset="1.00" stop-color="#b02035"/></linearGradient><linearGradient id="d19"><stop offset="0.00" stop-color="#b52437"/><stop offset="0.25" stop-color="#b72639"/><stop offset="0.36" stop-color="#d46055"/><stop offset="0.43" stop-color="#edc28d"/><stop offset="0.49" stop-color="#f1dca9"/><stop offset="0.55" stop-color="#ecc08c"/><stop offset="0.62" stop-color="#d05851"/><stop offset="0.73" stop-color="#b12135"/><stop offset="1.00" stop-color="#af1e34"/></linearGradient><linearGradient id="d20"><stop offset="0.00" stop-color="#b82839"/><stop offset="0.18" stop-color="#bb2a3b"/><stop offset="0.32" stop-color="#dd7e66"/><stop offset="0.42" stop-color="#f1e2b2"/><stop offset="0.50" stop-color="#d4e0dc"/><stop offset="0.59" stop-color="#f2e1af"/><stop offset="0.68" stop-color="#da715e"/><stop offset="0.83" stop-color="#b22136"/><stop offset="1.00" stop-color="#af1e34"/></linearGradient><linearGradient id="d21"><stop offset="0.00" stop-color="#c33742"/><stop offset="0.22" stop-color="#c53c44"/><stop offset="0.37" stop-color="#dd7c65"/><stop offset="0.46" stop-color="#efcf99"/><stop offset="0.54" stop-color="#efe3b7"/><stop offset="0.62" stop-color="#efcd96"/><stop offset="0.71" stop-color="#d96f5d"/><stop offset="0.86" stop-color="#bc2c3c"/><stop offset="1.00" stop-color="#ba2a3a"/></linearGradient><linearGradient id="d22"><stop offset="0.00" stop-color="#c1323f"/><stop offset="0.16" stop-color="#c23641"/><stop offset="0.29" stop-color="#d76859"/><stop offset="0.38" stop-color="#eab384"/><stop offset="0.45" stop-color="#efcc95"/><stop offset="0.53" stop-color="#eab284"/><stop offset="0.61" stop-color="#d66558"/><stop offset="0.75" stop-color="#c0313e"/><stop offset="1.00" stop-color="#bf2f3d"/></linearGradient><linearGradient id="d23"><stop offset="0.00" stop-color="#c1313f"/><stop offset="0.26" stop-color="#c33742"/><stop offset="0.38" stop-color="#e18f70"/><stop offset="0.45" stop-color="#ebe3be"/><stop offset="0.52" stop-color="#c9d9dd"/><stop offset="0.58" stop-color="#ebe3bf"/><stop offset="0.66" stop-color="#e29171"/><stop offset="0.77" stop-color="#c43a43"/><stop offset="1.00" stop-color="#c23440"/></linearGradient><linearGradient id="d24"><stop offset="0.00" stop-color="#a91830"/><stop offset="0.21" stop-color="#ab1a32"/><stop offset="0.36" stop-color="#c94649"/><stop offset="0.46" stop-color="#e9af82"/><stop offset="0.54" stop-color="#efcf99"/><stop offset="0.62" stop-color="#e9b183"/><stop offset="0.72" stop-color="#cd4e4d"/><stop offset="0.86" stop-color="#b12035"/><stop offset="1.00" stop-color="#af1e34"/></linearGradient><linearGradient id="d25"><stop offset="0.00" stop-color="#b52437"/><stop offset="0.23" stop-color="#b72639"/><stop offset="0.34" stop-color="#d15a52"/><stop offset="0.41" stop-color="#ebb787"/><stop offset="0.47" stop-color="#f0d39d"/><stop offset="0.52" stop-color="#ebb988"/><stop offset="0.59" stop-color="#d66558"/><stop offset="0.70" stop-color="#be2e3d"/><stop offset="1.00" stop-color="#bc2c3c"/></linearGradient><linearGradient id="d26"><stop offset="0.00" stop-color="#c1323f"/><stop offset="0.18" stop-color="#c33641"/><stop offset="0.32" stop-color="#dc7862"/><stop offset="0.42" stop-color="#efce98"/><stop offset="0.49" stop-color="#efe3b7"/><stop offset="0.57" stop-color="#efd09a"/><stop offset="0.67" stop-color="#de8168"/><stop offset="0.81" stop-color="#c84347"/><stop offset="1.00" stop-color="#c63f45"/></linearGradient><linearGradient id="d27"><stop offset="0.00" stop-color="#ab1a31"/><stop offset="0.24" stop-color="#ad1c33"/><stop offset="0.37" stop-color="#cd504d"/><stop offset="0.45" stop-color="#ecbc89"/><stop offset="0.52" stop-color="#f1daa6"/><stop offset="0.58" stop-color="#ecbf8b"/><stop offset="0.67" stop-color="#d25b53"/><stop offset="0.79" stop-color="#b42437"/><stop offset="1.00" stop-color="#b22236"/></linearGradient><linearGradient id="d28"><stop offset="0.00" stop-color="#c63d44"/><stop offset="0.23" stop-color="#c74146"/><stop offset="0.35" stop-color="#dd7e66"/><stop offset="0.43" stop-color="#efcd96"/><stop offset="0.50" stop-color="#f1e2b1"/><stop offset="0.57" stop-color="#eecb94"/><stop offset="0.65" stop-color="#da725f"/><stop offset="0.77" stop-color="#c0303e"/><stop offset="1.00" stop-color="#be2e3d"/></linearGradient><linearGradient id="d29"><stop offset="0.00" stop-color="#af1f34"/><stop offset="0.21" stop-color="#b12135"/><stop offset="0.32" stop-color="#cd504d"/><stop offset="0.40" stop-color="#e9b184"/><stop offset="0.46" stop-color="#efd09a"/><stop offset="0.53" stop-color="#eab385"/><stop offset="0.60" stop-color="#d15851"/><stop offset="0.72" stop-color="#b72638"/><stop offset="1.00" stop-color="#b52437"/></linearGradient><linearGradient id="d30"><stop offset="0.00" stop-color="#d56357"/><stop offset="0.19" stop-color="#d66658"/><stop offset="0.32" stop-color="#e39372"/><stop offset="0.42" stop-color="#efcc95"/><stop offset="0.49" stop-color="#f1ddaa"/><stop offset="0.57" stop-color="#eecb94"/><stop offset="0.66" stop-color="#e08a6d"/><stop offset="0.80" stop-color="#d15851"/><stop offset="1.00" stop-color="#cf5550"/></linearGradient><linearGradient id="d31"><stop offset="0.00" stop-color="#bf2e3d"/><stop offset="0.19" stop-color="#c1323f"/><stop offset="0.33" stop-color="#de8268"/><stop offset="0.42" stop-color="#f1deac"/><stop offset="0.49" stop-color="#e0e6d9"/><stop offset="0.56" stop-color="#f1dfac"/><stop offset="0.65" stop-color="#de8369"/><stop offset="0.79" stop-color="#c13340"/><stop offset="1.00" stop-color="#bf2f3d"/></linearGradient><linearGradient id="d32"><stop offset="0.00" stop-color="#b62638"/><stop offset="0.17" stop-color="#b82839"/><stop offset="0.31" stop-color="#d25d54"/><stop offset="0.41" stop-color="#ebb787"/><stop offset="0.48" stop-color="#f0d39d"/><stop offset="0.56" stop-color="#eab585"/><stop offset="0.65" stop-color="#ce514e"/><stop offset="0.79" stop-color="#b12035"/><stop offset="1.00" stop-color="#af1e34"/></linearGradient><linearGradient id="d33"><stop offset="0.00" stop-color="#d96d5c"/><stop offset="0.19" stop-color="#d96f5d"/><stop offset="0.31" stop-color="#e29272"/><stop offset="0.40" stop-color="#edc18c"/><stop offset="0.47" stop-color="#efd19b"/><stop offset="0.54" stop-color="#edc18c"/><stop offset="0.62" stop-color="#e29071"/><stop offset="0.75" stop-color="#d96d5c"/><stop offset="1.00" stop-color="#d86b5b"/></linearGradient><linearGradient id="d34"><stop offset="0.00" stop-color="#bd2c3c"/><stop offset="0.15" stop-color="#be2e3d"/><stop offset="0.29" stop-color="#d86c5b"/><stop offset="0.39" stop-color="#edc48e"/><stop offset="0.47" stop-color="#f1dca8"/><stop offset="0.55" stop-color="#edc58f"/><stop offset="0.65" stop-color="#da725f"/><stop offset="0.79" stop-color="#c23641"/><stop offset="1.00" stop-color="#c1323f"/></linearGradient><linearGradient id="d35"><stop offset="0.00" stop-color="#a91830"/><stop offset="0.17" stop-color="#ac1b32"/><stop offset="0.31" stop-color="#d76759"/><stop offset="0.40" stop-color="#f1deab"/><stop offset="0.48" stop-color="#d8e2db"/><stop offset="0.56" stop-color="#f1ddaa"/><stop offset="0.66" stop-color="#d56256"/><stop offset="0.80" stop-color="#a91830"/><stop offset="1.00" stop-color="#a6152e"/></linearGradient><linearGradient id="d36"><stop offset="0.00" stop-color="#b62638"/><stop offset="0.19" stop-color="#b82839"/><stop offset="0.33" stop-color="#d25d53"/><stop offset="0.43" stop-color="#ebb787"/><stop offset="0.51" stop-color="#f0d39d"/><stop offset="0.58" stop-color="#eab686"/><stop offset="0.68" stop-color="#d05650"/><stop offset="0.82" stop-color="#b42437"/><stop offset="1.00" stop-color="#b22236"/></linearGradient><linearGradient id="d37"><stop offset="0.00" stop-color="#c0313e"/><stop offset="0.16" stop-color="#c33641"/><stop offset="0.30" stop-color="#df8469"/><stop offset="0.39" stop-color="#f1ddaa"/><stop offset="0.47" stop-color="#e1e6d6"/><stop offset="0.55" stop-color="#f1dca9"/><stop offset="0.64" stop-color="#dc7a63"/><stop offset="0.78" stop-color="#bc2c3c"/><stop offset="1.00" stop-color="#b9293a"/></linearGradient><linearGradient id="d38"><stop offset="0.00" stop-color="#d96d5c"/><stop offset="0.18" stop-color="#d96f5d"/><stop offset="0.31" stop-color="#e29071"/><stop offset="0.39" stop-color="#ecbf8b"/><stop offset="0.46" stop-color="#efcf99"/><stop offset="0.54" stop-color="#ecc08c"/><stop offset="0.62" stop-color="#e39674"/><stop offset="0.75" stop-color="#db7661"/><stop offset="1.00" stop-color="#db7460"/></linearGradient><linearGradient id="d39"><stop offset="0.00" stop-color="#b52538"/><stop offset="0.17" stop-color="#b82839"/><stop offset="0.31" stop-color="#dd7c65"/><stop offset="0.40" stop-color="#efe3b6"/><stop offset="0.48" stop-color="#cfdddd"/><stop offset="0.55" stop-color="#efe3b6"/><stop offset="0.64" stop-color="#dd7c65"/><stop offset="0.78" stop-color="#b82839"/><stop offset="1.00" stop-color="#b52538"/></linearGradient><linearGradient id="d40"><stop offset="0.00" stop-color="#ae1d33"/><stop offset="0.19" stop-color="#b02035"/><stop offset="0.31" stop-color="#d15952"/><stop offset="0.40" stop-color="#edc48e"/><stop offset="0.47" stop-color="#f2dfad"/><stop offset="0.54" stop-color="#eec68f"/><stop offset="0.62" stop-color="#d46156"/><stop offset="0.74" stop-color="#b62538"/><stop offset="1.00" stop-color="#b42337"/></linearGradient><linearGradient id="d41"><stop offset="0.00" stop-color="#bb2a3b"/><stop offset="0.27" stop-color="#bc2c3c"/><stop offset="0.38" stop-color="#d35d54"/><stop offset="0.45" stop-color="#e9af82"/><stop offset="0.51" stop-color="#eecb93"/><stop offset="0.56" stop-color="#e9ad81"/><stop offset="0.63" stop-color="#cf544f"/><stop offset="0.74" stop-color="#b62638"/><stop offset="1.00" stop-color="#b42437"/></linearGradient><linearGradient id="d42"><stop offset="0.00" stop-color="#d05751"/><stop offset="0.29" stop-color="#d15a52"/><stop offset="0.39" stop-color="#df876b"/><stop offset="0.46" stop-color="#edc58e"/><stop offset="0.52" stop-color="#f0d7a2"/><stop offset="0.57" stop-color="#eec790"/><stop offset="0.64" stop-color="#e29271"/><stop offset="0.75" stop-color="#d86a5a"/><stop offset="1.00" stop-color="#d76759"/></linearGradient><linearGradient id="d43"><stop offset="0.00" stop-color="#b32236"/><stop offset="0.21" stop-color="#b52538"/><stop offset="0.35" stop-color="#da735f"/><stop offset="0.45" stop-color="#f1deaa"/><stop offset="0.53" stop-color="#dde5da"/><stop offset="0.61" stop-color="#f1deab"/><stop offset="0.70" stop-color="#db7460"/><stop offset="0.84" stop-color="#b72638"/><stop offset="1.00" stop-color="#b42337"/></linearGradient><linearGradient id="d44"><stop offset="0.00" stop-color="#a91830"/><stop offset="0.22" stop-color="#ac1b32"/><stop offset="0.33" stop-color="#d56457"/><stop offset="0.40" stop-color="#f1daa6"/><stop offset="0.46" stop-color="#dfe6d9"/><stop offset="0.53" stop-color="#f1daa6"/><stop offset="0.60" stop-color="#d56256"/><stop offset="0.71" stop-color="#ab1a31"/><stop offset="1.00" stop-color="#a81730"/></linearGradient><linearGradient id="d45"><stop offset="0.00" stop-color="#bf2f3d"/><stop offset="0.30" stop-color="#c1333f"/><stop offset="0.41" stop-color="#db7560"/><stop offset="0.48" stop-color="#efcd96"/><stop offset="0.54" stop-color="#f0e2b4"/><stop offset="0.60" stop-color="#efcc95"/><stop offset="0.67" stop-color="#da715e"/><stop offset="0.78" stop-color="#be2e3d"/><stop offset="1.00" stop-color="#bc2c3c"/></linearGradient><linearGradient id="d46"><stop offset="0.00" stop-color="#b22236"/><stop offset="0.25" stop-color="#b42437"/><stop offset="0.38" stop-color="#d25a52"/><stop offset="0.47" stop-color="#ecbe8a"/><stop offset="0.54" stop-color="#f1d9a5"/><stop offset="0.61" stop-color="#ebbb89"/><stop offset="0.70" stop-color="#cd4f4d"/><stop offset="0.83" stop-color="#ac1c32"/><stop offset="1.00" stop-color="#aa1931"/></linearGradient><linearGradient id="d47"><stop offset="0.00" stop-color="#c33842"/><stop offset="0.24" stop-color="#c53c44"/><stop offset="0.35" stop-color="#db7762"/><stop offset="0.42" stop-color="#eec891"/><stop offset="0.48" stop-color="#f1deab"/><stop offset="0.54" stop-color="#eec68f"/><stop offset="0.62" stop-color="#d96d5c"/><stop offset="0.73" stop-color="#be2e3d"/><stop offset="1.00" stop-color="#bc2c3c"/></linearGradient><linearGradient id="d48"><stop offset="0.00" stop-color="#cb4a4a"/><stop offset="0.23" stop-color="#cd4e4d"/><stop offset="0.34" stop-color="#e29272"/><stop offset="0.41" stop-color="#f1deab"/><stop offset="0.48" stop-color="#e3e5d2"/><stop offset="0.54" stop-color="#f1dca8"/><stop offset="0.61" stop-color="#df8369"/><stop offset="0.72" stop-color="#c33842"/><stop offset="1.00" stop-color="#c1333f"/></linearGradient><linearGradient id="d49"><stop offset="0.00" stop-color="#be2e3d"/><stop offset="0.20" stop-color="#c02f3e"/><stop offset="0.32" stop-color="#d76759"/><stop offset="0.41" stop-color="#ebb887"/><stop offset="0.47" stop-color="#efd29c"/><stop offset="0.54" stop-color="#ebbb89"/><stop offset="0.63" stop-color="#da725f"/><stop offset="0.75" stop-color="#c63f45"/><stop offset="1.00" stop-color="#c53b43"/></linearGradient><linearGradient id="d50"><stop offset="0.00" stop-color="#af1e34"/><stop offset="0.24" stop-color="#b22135"/><stop offset="0.36" stop-color="#da7360"/><stop offset="0.43" stop-color="#f0e2b4"/><stop offset="0.50" stop-color="#cedcdd"/><stop offset="0.57" stop-color="#efe3b7"/><stop offset="0.64" stop-color="#dd7d65"/><stop offset="0.76" stop-color="#b9283a"/><stop offset="1.00" stop-color="#b62538"/></linearGradient><linearGradient id="d51"><stop offset="0.00" stop-color="#b52538"/><stop offset="0.26" stop-color="#b72739"/><stop offset="0.37" stop-color="#cf5550"/><stop offset="0.45" stop-color="#e8ac80"/><stop offset="0.52" stop-color="#eeca92"/><stop offset="0.59" stop-color="#e8ac81"/><stop offset="0.66" stop-color="#d05751"/><stop offset="0.78" stop-color="#b82839"/><stop offset="1.00" stop-color="#b72638"/></linearGradient><linearGradient id="d52"><stop offset="0.00" stop-color="#c43b43"/><stop offset="0.17" stop-color="#c63f45"/><stop offset="0.31" stop-color="#dd7d65"/><stop offset="0.41" stop-color="#efcf98"/><stop offset="0.48" stop-color="#f0e2b5"/><stop offset="0.56" stop-color="#efcd96"/><stop offset="0.65" stop-color="#da715e"/><stop offset="0.79" stop-color="#bf2e3d"/><stop offset="1.00" stop-color="#bc2c3c"/></linearGradient><linearGradient id="d53"><stop offset="0.00" stop-color="#da7360"/><stop offset="0.24" stop-color="#db7561"/><stop offset="0.35" stop-color="#e49775"/><stop offset="0.42" stop-color="#edc48e"/><stop offset="0.48" stop-color="#f0d29c"/><stop offset="0.55" stop-color="#edc48e"/><stop offset="0.62" stop-color="#e39674"/><stop offset="0.73" stop-color="#db7460"/><stop offset="1.00" stop-color="#da725f"/></linearGradient><linearGradient id="d54"><stop offset="0.00" stop-color="#cd504d"/><stop offset="0.23" stop-color="#ce524f"/><stop offset="0.35" stop-color="#dd7e66"/><stop offset="0.43" stop-color="#ebbb89"/><stop offset="0.49" stop-color="#efd099"/><stop offset="0.56" stop-color="#ecbe8a"/><stop offset="0.64" stop-color="#e0876b"/><stop offset="0.76" stop-color="#d46156"/><stop offset="1.00" stop-color="#d35e54"/></linearGradient><linearGradient id="d55"><stop offset="0.00" stop-color="#b32336"/><stop offset="0.25" stop-color="#b62638"/><stop offset="0.37" stop-color="#dc7862"/><stop offset="0.44" stop-color="#f1e2b1"/><stop offset="0.50" stop-color="#d3dfdc"/><stop offset="0.56" stop-color="#f1e2b1"/><stop offset="0.64" stop-color="#dc7862"/><stop offset="0.75" stop-color="#b62638"/><stop offset="1.00" stop-color="#b32336"/></linearGradient><linearGradient id="d56"><stop offset="0.00" stop-color="#bf2e3d"/><stop offset="0.23" stop-color="#c0313e"/><stop offset="0.37" stop-color="#d86c5b"/><stop offset="0.46" stop-color="#ecbf8b"/><stop offset="0.54" stop-color="#f0d7a2"/><stop offset="0.62" stop-color="#ecc08c"/><stop offset="0.71" stop-color="#d96f5d"/><stop offset="0.85" stop-color="#c33641"/><stop offset="1.00" stop-color="#c1333f"/></linearGradient><linearGradient id="d57"><stop offset="0.00" stop-color="#b52538"/><stop offset="0.20" stop-color="#b72739"/><stop offset="0.33" stop-color="#d66658"/><stop offset="0.42" stop-color="#eec992"/><stop offset="0.49" stop-color="#f1e2b1"/><stop offset="0.56" stop-color="#eec991"/><stop offset="0.65" stop-color="#d46055"/><stop offset="0.78" stop-color="#b42337"/><stop offset="1.00" stop-color="#b12135"/></linearGradient><linearGradient id="d58"><stop offset="0.00" stop-color="#a81730"/><stop offset="0.24" stop-color="#aa1a31"/><stop offset="0.37" stop-color="#c94649"/><stop offset="0.46" stop-color="#e9b183"/><stop offset="0.53" stop-color="#efd19b"/><stop offset="0.60" stop-color="#eab384"/><stop offset="0.69" stop-color="#ce514e"/><stop offset="0.82" stop-color="#b12135"/><stop offset="1.00" stop-color="#af1f34"/></linearGradient><linearGradient id="d59"><stop offset="0.00" stop-color="#bb2b3b"/><stop offset="0.23" stop-color="#be2e3d"/><stop offset="0.36" stop-color="#dd7e66"/><stop offset="0.46" stop-color="#f1dfac"/><stop offset="0.53" stop-color="#dfe6da"/><stop offset="0.61" stop-color="#f1dfac"/><stop offset="0.70" stop-color="#dd7f66"/><stop offset="0.84" stop-color="#be2e3d"/><stop offset="1.00" stop-color="#bc2c3c"/></linearGradient><linearGradient id="d60"><stop offset="0.00" stop-color="#c63e45"/><stop offset="0.26" stop-color="#c74146"/><stop offset="0.36" stop-color="#da735f"/><stop offset="0.43" stop-color="#ebbb89"/><stop offset="0.48" stop-color="#efd19b"/><stop offset="0.54" stop-color="#ebba88"/><stop offset="0.61" stop-color="#da715e"/><stop offset="0.70" stop-color="#c63f45"/><stop offset="1.00" stop-color="#c53b43"/></linearGradient><linearGradient id="d61"><stop offset="0.00" stop-color="#ae1d33"/><stop offset="0.26" stop-color="#b12035"/><stop offset="0.36" stop-color="#db7560"/><stop offset="0.42" stop-color="#eee3b9"/><stop offset="0.47" stop-color="#c8d9de"/><stop offset="0.53" stop-color="#eee3b8"/><stop offset="0.59" stop-color="#da705e"/><stop offset="0.69" stop-color="#ae1d33"/><stop offset="1.00" stop-color="#ab1a31"/></linearGradient><linearGradient id="d62"><stop offset="0.00" stop-color="#c23440"/><stop offset="0.26" stop-color="#c33842"/><stop offset="0.38" stop-color="#da725f"/><stop offset="0.46" stop-color="#edc38d"/><stop offset="0.53" stop-color="#f1daa6"/><stop offset="0.60" stop-color="#ecc08c"/><stop offset="0.68" stop-color="#d56356"/><stop offset="0.80" stop-color="#b9293a"/><stop offset="1.00" stop-color="#b72739"/></linearGradient><linearGradient id="d63"><stop offset="0.00" stop-color="#d96d5c"/><stop offset="0.18" stop-color="#da715e"/><stop offset="0.30" stop-color="#e8aa7f"/><stop offset="0.39" stop-color="#efe3b6"/><stop offset="0.46" stop-color="#dee5da"/><stop offset="0.52" stop-color="#efe3b7"/><stop offset="0.61" stop-color="#e8ab80"/><stop offset="0.73" stop-color="#da7360"/><stop offset="1.00" stop-color="#d96f5d"/></linearGradient><linearGradient id="d64"><stop offset="0.00" stop-color="#ab1a31"/><stop offset="0.23" stop-color="#ad1c33"/><stop offset="0.36" stop-color="#c94548"/><stop offset="0.45" stop-color="#e8a87e"/><stop offset="0.52" stop-color="#eec992"/><stop offset="0.60" stop-color="#e7a77e"/><stop offset="0.69" stop-color="#c63e45"/><stop offset="0.82" stop-color="#a81730"/><stop offset="1.00" stop-color="#a6152f"/></linearGradient><linearGradient id="d65"><stop offset="0.00" stop-color="#af1f34"/><stop offset="0.28" stop-color="#b12135"/><stop offset="0.40" stop-color="#d25b53"/><stop offset="0.47" stop-color="#eec68f"/><stop offset="0.53" stop-color="#f2e1af"/><stop offset="0.60" stop-color="#eec790"/><stop offset="0.67" stop-color="#d35e54"/><stop offset="0.79" stop-color="#b32337"/><stop offset="1.00" stop-color="#b12135"/></linearGradient><linearGradient id="d66"><stop offset="0.00" stop-color="#bf2f3d"/><stop offset="0.26" stop-color="#c1323f"/><stop offset="0.37" stop-color="#da725f"/><stop offset="0.44" stop-color="#eeca92"/><stop offset="0.50" stop-color="#f2e0ae"/><stop offset="0.56" stop-color="#eec790"/><stop offset="0.63" stop-color="#d56457"/><stop offset="0.74" stop-color="#b72739"/><stop offset="1.00" stop-color="#b52538"/></linearGradient><linearGradient id="d67"><stop offset="0.00" stop-color="#bc2c3b"/><stop offset="0.22" stop-color="#bd2d3c"/><stop offset="0.34" stop-color="#d46156"/><stop offset="0.42" stop-color="#eab384"/><stop offset="0.48" stop-color="#efce97"/><stop offset="0.55" stop-color="#eab586"/><stop offset="0.63" stop-color="#d86b5b"/><stop offset="0.75" stop-color="#c33842"/><stop offset="1.00" stop-color="#c23540"/></linearGradient><linearGradient id="d68"><stop offset="0.00" stop-color="#c33842"/><stop offset="0.19" stop-color="#c53d44"/><stop offset="0.33" stop-color="#e0896c"/><stop offset="0.42" stop-color="#f2dfac"/><stop offset="0.50" stop-color="#e0e6d8"/><stop offset="0.58" stop-color="#f2e1af"/><stop offset="0.67" stop-color="#e39473"/><stop offset="0.81" stop-color="#cc4e4c"/><stop offset="1.00" stop-color="#ca494a"/></linearGradient><linearGradient id="d69"><stop offset="0.00" stop-color="#c63f45"/><stop offset="0.22" stop-color="#c84247"/><stop offset="0.36" stop-color="#d9705d"/><stop offset="0.45" stop-color="#eab384"/><stop offset="0.52" stop-color="#eeca93"/><stop offset="0.60" stop-color="#eab384"/><stop offset="0.69" stop-color="#da715e"/><stop offset="0.83" stop-color="#c84447"/><stop offset="1.00" stop-color="#c74146"/></linearGradient><linearGradient id="d70"><stop offset="0.00" stop-color="#b32336"/><stop offset="0.30" stop-color="#b52437"/><stop offset="0.41" stop-color="#cf534f"/><stop offset="0.47" stop-color="#e9ae82"/><stop offset="0.53" stop-color="#efcc95"/><stop offset="0.58" stop-color="#e9ae82"/><stop offset="0.65" stop-color="#ce524e"/><stop offset="0.75" stop-color="#b42437"/><stop offset="1.00" stop-color="#b22236"/></linearGradient><linearGradient id="d71"><stop offset="0.00" stop-color="#b32236"/><stop offset="0.23" stop-color="#b52437"/><stop offset="0.36" stop-color="#d05651"/><stop offset="0.44" stop-color="#eab485"/><stop offset="0.51" stop-color="#efd19c"/><stop offset="0.58" stop-color="#eab585"/><stop offset="0.67" stop-color="#d05751"/><stop offset="0.79" stop-color="#b52538"/><stop offset="1.00" stop-color="#b32337"/></linearGradient><linearGradient id="d72"><stop offset="0.00" stop-color="#bb2a3b"/><stop offset="0.17" stop-color="#bd2d3c"/><stop offset="0.31" stop-color="#da705d"/><stop offset="0.40" stop-color="#efce97"/><stop offset="0.48" stop-color="#eee3b8"/><stop offset="0.55" stop-color="#efcf99"/><stop offset="0.64" stop-color="#dc7963"/><stop offset="0.78" stop-color="#c33741"/><stop offset="1.00" stop-color="#c1333f"/></linearGradient><linearGradient id="d73"><stop offset="0.00" stop-color="#c23440"/><stop offset="0.24" stop-color="#c33742"/><stop offset="0.35" stop-color="#d8695a"/><stop offset="0.42" stop-color="#eab284"/><stop offset="0.48" stop-color="#efcb94"/><stop offset="0.55" stop-color="#eab585"/><stop offset="0.62" stop-color="#da735f"/><stop offset="0.73" stop-color="#c94749"/><stop offset="1.00" stop-color="#c84447"/></linearGradient><linearGradient id="d74"><stop offset="0.00" stop-color="#aa1a31"/><stop offset="0.23" stop-color="#ac1c32"/><stop offset="0.34" stop-color="#ca484a"/><stop offset="0.41" stop-color="#e9af82"/><stop offset="0.46" stop-color="#efcf99"/><stop offset="0.52" stop-color="#e9ae82"/><stop offset="0.59" stop-color="#c94548"/><stop offset="0.70" stop-color="#ab1a31"/><stop offset="1.00" stop-color="#a91830"/></linearGradient><linearGradient id="d75"><stop offset="0.00" stop-color="#b52538"/><stop offset="0.27" stop-color="#b72739"/><stop offset="0.37" stop-color="#d15a52"/><stop offset="0.45" stop-color="#eab485"/><stop offset="0.50" stop-color="#efd19b"/><stop offset="0.56" stop-color="#eab284"/><stop offset="0.64" stop-color="#cc4d4c"/><stop offset="0.74" stop-color="#af1e34"/><stop offset="1.00" stop-color="#ad1c33"/></linearGradient><linearGradient id="d76"><stop offset="0.00" stop-color="#b82839"/><stop offset="0.21" stop-color="#ba2a3b"/><stop offset="0.32" stop-color="#d76758"/><stop offset="0.40" stop-color="#edc58e"/><stop offset="0.46" stop-color="#f1ddaa"/><stop offset="0.53" stop-color="#edc48e"/><stop offset="0.60" stop-color="#d56457"/><stop offset="0.72" stop-color="#b9283a"/><stop offset="1.00" stop-color="#b62638"/></linearGradient><linearGradient id="d77"><stop offset="0.00" stop-color="#d46156"/><stop offset="0.28" stop-color="#d66557"/><stop offset="0.38" stop-color="#e39674"/><stop offset="0.46" stop-color="#f0d29c"/><stop offset="0.52" stop-color="#f0e2b4"/><stop offset="0.58" stop-color="#efd09a"/><stop offset="0.65" stop-color="#e18b6e"/><stop offset="0.76" stop-color="#cf544f"/><stop offset="1.00" stop-color="#cd504e"/></linearGradient><linearGradient id="d78"><stop offset="0.00" stop-color="#b01f34"/><stop offset="0.28" stop-color="#b22236"/><stop offset="0.39" stop-color="#d86a5a"/><stop offset="0.47" stop-color="#f0d8a3"/><stop offset="0.53" stop-color="#e3e5d2"/><stop offset="0.60" stop-color="#f0d6a1"/><stop offset="0.67" stop-color="#d46055"/><stop offset="0.79" stop-color="#ab1b32"/><stop offset="1.00" stop-color="#a91830"/></linearGradient><linearGradient id="d79"><stop offset="0.00" stop-color="#bc2c3c"/><stop offset="0.18" stop-color="#be2e3d"/><stop offset="0.31" stop-color="#d56457"/><stop offset="0.39" stop-color="#ebb786"/><stop offset="0.46" stop-color="#efd19b"/><stop offset="0.53" stop-color="#eab686"/><stop offset="0.62" stop-color="#d56357"/><stop offset="0.75" stop-color="#bd2d3c"/><stop offset="1.00" stop-color="#bc2b3b"/></linearGradient><linearGradient id="d80"><stop offset="0.00" stop-color="#cf544f"/><stop offset="0.29" stop-color="#d05651"/><stop offset="0.39" stop-color="#dd7f66"/><stop offset="0.45" stop-color="#ebb988"/><stop offset="0.51" stop-color="#efcd97"/><stop offset="0.56" stop-color="#ebbb89"/><stop offset="0.62" stop-color="#df856a"/><stop offset="0.72" stop-color="#d46055"/><stop offset="1.00" stop-color="#d35d54"/></linearGradient><linearGradient id="d81"><stop offset="0.00" stop-color="#c13440"/><stop offset="0.28" stop-color="#c33741"/><stop offset="0.39" stop-color="#d86b5b"/><stop offset="0.46" stop-color="#ebb787"/><stop offset="0.52" stop-color="#efd09a"/><stop offset="0.58" stop-color="#ebb787"/><stop offset="0.65" stop-color="#d76959"/><stop offset="0.76" stop-color="#c1333f"/><stop offset="1.00" stop-color="#c0303e"/></linearGradient><linearGradient id="d82"><stop offset="0.00" stop-color="#be2e3d"/><stop offset="0.19" stop-color="#c0303e"/><stop offset="0.32" stop-color="#db7460"/><stop offset="0.40" stop-color="#efce97"/><stop offset="0.47" stop-color="#efe3b6"/><stop offset="0.54" stop-color="#efce98"/><stop offset="0.63" stop-color="#dc7862"/><stop offset="0.75" stop-color="#c23641"/><stop offset="1.00" stop-color="#c1323f"/></linearGradient><linearGradient id="d83"><stop offset="0.00" stop-color="#ae1d33"/><stop offset="0.22" stop-color="#b01f35"/><stop offset="0.34" stop-color="#cd514e"/><stop offset="0.41" stop-color="#eab686"/><stop offset="0.48" stop-color="#f0d49f"/><stop offset="0.54" stop-color="#ebb887"/><stop offset="0.62" stop-color="#d25b53"/><stop offset="0.74" stop-color="#b72638"/><stop offset="1.00" stop-color="#b52437"/></linearGradient><linearGradient id="d84"><stop offset="0.00" stop-color="#a91830"/><stop offset="0.16" stop-color="#ac1b32"/><stop offset="0.29" stop-color="#d46155"/><stop offset="0.38" stop-color="#f0d7a2"/><stop offset="0.46" stop-color="#e2e5d2"/><stop offset="0.53" stop-color="#f0d7a3"/><stop offset="0.62" stop-color="#d66557"/><stop offset="0.75" stop-color="#ae1e34"/><stop offset="1.00" stop-color="#ac1b32"/></linearGradient><linearGradient id="d85"><stop offset="0.00" stop-color="#b9293a"/><stop offset="0.25" stop-color="#bc2c3b"/><stop offset="0.34" stop-color="#de8369"/><stop offset="0.41" stop-color="#ede3ba"/><stop offset="0.47" stop-color="#cbdadd"/><stop offset="0.52" stop-color="#eee3b8"/><stop offset="0.59" stop-color="#dc7a64"/><stop offset="0.69" stop-color="#b62538"/><stop offset="1.00" stop-color="#b32236"/></linearGradient><linearGradient id="d86"><stop offset="0.00" stop-color="#bc2c3c"/><stop offset="0.31" stop-color="#bf2f3d"/><stop offset="0.41" stop-color="#de8167"/><stop offset="0.48" stop-color="#f2e0ae"/><stop offset="0.54" stop-color="#dce4da"/><stop offset="0.60" stop-color="#f2e0ae"/><stop offset="0.67" stop-color="#de8167"/><stop offset="0.78" stop-color="#bf2f3d"/><stop offset="1.00" stop-color="#bc2c3c"/></linearGradient><linearGradient id="d87"><stop offset="0.00" stop-color="#bc2c3c"/><stop offset="0.20" stop-color="#bf2f3d"/><stop offset="0.32" stop-color="#dd7d65"/><stop offset="0.40" stop-color="#f1dba7"/><stop offset="0.47" stop-color="#e2e5d3"/><stop offset="0.54" stop-color="#f1dba7"/><stop offset="0.62" stop-color="#dc7a64"/><stop offset="0.75" stop-color="#bd2d3c"/><stop offset="1.00" stop-color="#bb2b3b"/></linearGradient><linearGradient id="d88"><stop offset="0.00" stop-color="#ce514e"/><stop offset="0.22" stop-color="#cf5450"/><stop offset="0.34" stop-color="#df8369"/><stop offset="0.42" stop-color="#edc58e"/><stop offset="0.49" stop-color="#f0d7a3"/><stop offset="0.56" stop-color="#edc38d"/><stop offset="0.65" stop-color="#dd7c65"/><stop offset="0.77" stop-color="#ca494a"/><stop offset="1.00" stop-color="#c94649"/></linearGradient><linearGradient id="d89"><stop offset="0.00" stop-color="#af1e34"/><stop offset="0.26" stop-color="#b12035"/><stop offset="0.35" stop-color="#cf5550"/><stop offset="0.42" stop-color="#ecbc89"/><stop offset="0.47" stop-color="#f1d9a4"/><stop offset="0.52" stop-color="#ebbb89"/><stop offset="0.59" stop-color="#cd504d"/><stop offset="0.68" stop-color="#ae1d33"/><stop offset="1.00" stop-color="#ab1b32"/></linearGradient><linearGradient id="d90"><stop offset="0.00" stop-color="#c53d44"/><stop offset="0.23" stop-color="#c84247"/><stop offset="0.35" stop-color="#e39473"/><stop offset="0.43" stop-color="#ede3bb"/><stop offset="0.50" stop-color="#cedddd"/><stop offset="0.56" stop-color="#ece3be"/><stop offset="0.64" stop-color="#e69f79"/><stop offset="0.76" stop-color="#cf534f"/><stop offset="1.00" stop-color="#cc4e4d"/></linearGradient><linearGradient id="d91"><stop offset="0.00" stop-color="#b62638"/><stop offset="0.26" stop-color="#b9283a"/><stop offset="0.38" stop-color="#db7762"/><stop offset="0.45" stop-color="#f1ddaa"/><stop offset="0.52" stop-color="#dee6da"/><stop offset="0.58" stop-color="#f1dca8"/><stop offset="0.65" stop-color="#d86b5b"/><stop offset="0.77" stop-color="#b02035"/><stop offset="1.00" stop-color="#ae1d33"/></linearGradient><linearGradient id="d92"><stop offset="0.00" stop-color="#bd2d3c"/><stop offset="0.18" stop-color="#bf2f3d"/><stop offset="0.31" stop-color="#da725f"/><stop offset="0.39" stop-color="#efcd96"/><stop offset="0.46" stop-color="#efe3b6"/><stop offset="0.53" stop-color="#eecb94"/><stop offset="0.61" stop-color="#d66457"/><stop offset="0.73" stop-color="#b52538"/><stop offset="1.00" stop-color="#b32336"/></linearGradient><linearGradient id="d93"><stop offset="0.00" stop-color="#a91830"/><stop offset="0.20" stop-color="#ab1b32"/><stop offset="0.34" stop-color="#d35d54"/><stop offset="0.42" stop-color="#f0d39e"/><stop offset="0.50" stop-color="#e6e5cc"/><stop offset="0.57" stop-color="#f0d39d"/><stop offset="0.66" stop-color="#d05851"/><stop offset="0.79" stop-color="#a81730"/><stop offset="1.00" stop-color="#a5142e"/></linearGradient><linearGradient id="d94"><stop offset="0.00" stop-color="#ac1b32"/><stop offset="0.24" stop-color="#ae1d33"/><stop offset="0.37" stop-color="#ca484a"/><stop offset="0.46" stop-color="#e8ab80"/><stop offset="0.53" stop-color="#efcb94"/><stop offset="0.60" stop-color="#e8a97f"/><stop offset="0.69" stop-color="#c63d44"/><stop offset="0.82" stop-color="#a7162f"/><stop offset="1.00" stop-color="#a5142e"/></linearGradient><linearGradient id="d95"><stop offset="0.00" stop-color="#ba293a"/><stop offset="0.30" stop-color="#bc2b3b"/><stop offset="0.39" stop-color="#d56356"/><stop offset="0.45" stop-color="#ebba88"/><stop offset="0.50" stop-color="#f0d49f"/><stop offset="0.55" stop-color="#ebbb89"/><stop offset="0.61" stop-color="#d76859"/><stop offset="0.71" stop-color="#bf2f3d"/><stop offset="1.00" stop-color="#bd2d3c"/></linearGradient><linearGradient id="d96"><stop offset="0.00" stop-color="#da735f"/><stop offset="0.20" stop-color="#db7661"/><stop offset="0.32" stop-color="#e6a07a"/><stop offset="0.40" stop-color="#efd19b"/><stop offset="0.47" stop-color="#f2e1af"/><stop offset="0.54" stop-color="#efd19c"/><stop offset="0.62" stop-color="#e6a17b"/><stop offset="0.74" stop-color="#dc7862"/><stop offset="1.00" stop-color="#db7560"/></linearGradient><linearGradient id="d97"><stop offset="0.00" stop-color="#bd2d3c"/><stop offset="0.22" stop-color="#bf2f3d"/><stop offset="0.33" stop-color="#d76859"/><stop offset="0.40" stop-color="#ecbd8a"/><stop offset="0.46" stop-color="#f0d6a1"/><stop offset="0.52" stop-color="#ebba88"/><stop offset="0.59" stop-color="#d25c53"/><stop offset="0.70" stop-color="#b72739"/><stop offset="1.00" stop-color="#b52537"/></linearGradient><linearGradient id="d98"><stop offset="0.00" stop-color="#ac1b32"/><stop offset="0.21" stop-color="#ae1d33"/><stop offset="0.32" stop-color="#ca4749"/><stop offset="0.40" stop-color="#e8a97f"/><stop offset="0.46" stop-color="#eeca92"/><stop offset="0.52" stop-color="#e8ac80"/><stop offset="0.60" stop-color="#ce524e"/><stop offset="0.71" stop-color="#b52537"/><stop offset="1.00" stop-color="#b32336"/></linearGradient><linearGradient id="d99"><stop offset="0.00" stop-color="#c53b43"/><stop offset="0.25" stop-color="#c63f45"/><stop offset="0.34" stop-color="#db7661"/><stop offset="0.41" stop-color="#edc48e"/><stop offset="0.46" stop-color="#f1daa6"/><stop offset="0.51" stop-color="#eec68f"/><stop offset="0.58" stop-color="#dd7f66"/><stop offset="0.67" stop-color="#cb4b4b"/><stop offset="1.00" stop-color="#ca4849"/></linearGradient><linearGradient id="d100"><stop offset="0.00" stop-color="#c94649"/><stop offset="0.25" stop-color="#ca494a"/><stop offset="0.35" stop-color="#dc7862"/><stop offset="0.42" stop-color="#ebbb89"/><stop offset="0.47" stop-color="#efd19b"/><stop offset="0.53" stop-color="#ebb887"/><stop offset="0.59" stop-color="#d86a5a"/><stop offset="0.69" stop-color="#c23440"/><stop offset="1.00" stop-color="#c0313e"/></linearGradient><linearGradient id="d101"><stop offset="0.00" stop-color="#d86b5b"/><stop offset="0.29" stop-color="#d96e5c"/><stop offset="0.39" stop-color="#e59d78"/><stop offset="0.47" stop-color="#f0d39e"/><stop offset="0.53" stop-color="#f0e3b5"/><stop offset="0.59" stop-color="#f0d39e"/><stop offset="0.66" stop-color="#e59b77"/><stop offset="0.77" stop-color="#d86b5b"/><stop offset="1.00" stop-color="#d76859"/></linearGradient><linearGradient id="d102"><stop offset="0.00" stop-color="#b12135"/><stop offset="0.18" stop-color="#b32337"/><stop offset="0.31" stop-color="#d56256"/><stop offset="0.39" stop-color="#efcc95"/><stop offset="0.46" stop-color="#eee3b8"/><stop offset="0.53" stop-color="#efcd96"/><stop offset="0.61" stop-color="#d8695a"/><stop offset="0.73" stop-color="#b82839"/><stop offset="1.00" stop-color="#b62638"/></linearGradient><linearGradient id="d103"><stop offset="0.00" stop-color="#b22136"/><stop offset="0.26" stop-color="#b42337"/><stop offset="0.37" stop-color="#cd4f4d"/><stop offset="0.44" stop-color="#e8aa7f"/><stop offset="0.50" stop-color="#eec991"/><stop offset="0.56" stop-color="#e8ab80"/><stop offset="0.63" stop-color="#cf5550"/><stop offset="0.74" stop-color="#b72739"/><stop offset="1.00" stop-color="#b62538"/></linearGradient><linearGradient id="d104"><stop offset="0.00" stop-color="#cb4a4a"/><stop offset="0.23" stop-color="#cc4c4c"/><stop offset="0.34" stop-color="#db7762"/><stop offset="0.41" stop-color="#eab586"/><stop offset="0.47" stop-color="#eecb94"/><stop offset="0.53" stop-color="#eab485"/><stop offset="0.61" stop-color="#da705e"/><stop offset="0.72" stop-color="#c84347"/><stop offset="1.00" stop-color="#c63f45"/></linearGradient><linearGradient id="d105"><stop offset="0.00" stop-color="#b01f34"/><stop offset="0.30" stop-color="#b22135"/><stop offset="0.40" stop-color="#ce524e"/><stop offset="0.46" stop-color="#eab485"/><stop offset="0.52" stop-color="#f0d29c"/><stop offset="0.57" stop-color="#eab686"/><stop offset="0.64" stop-color="#d25c53"/><stop offset="0.74" stop-color="#b82839"/><stop offset="1.00" stop-color="#b62638"/></linearGradient><linearGradient id="d106"><stop offset="0.00" stop-color="#d05751"/><stop offset="0.26" stop-color="#d25d54"/><stop offset="0.35" stop-color="#e7a57d"/><stop offset="0.41" stop-color="#e9e4c3"/><stop offset="0.46" stop-color="#cadadd"/><stop offset="0.52" stop-color="#ebe4c0"/><stop offset="0.58" stop-color="#e49875"/><stop offset="0.67" stop-color="#c94649"/><stop offset="1.00" stop-color="#c74146"/></linearGradient><linearGradient id="d107"><stop offset="0.00" stop-color="#d05751"/><stop offset="0.22" stop-color="#d15a52"/><stop offset="0.35" stop-color="#e0896c"/><stop offset="0.44" stop-color="#eec991"/><stop offset="0.51" stop-color="#f1daa7"/><stop offset="0.58" stop-color="#eec68f"/><stop offset="0.67" stop-color="#dc7a64"/><stop offset="0.79" stop-color="#c84447"/><stop offset="1.00" stop-color="#c74046"/></linearGradient><linearGradient id="d108"><stop offset="0.00" stop-color="#d96f5d"/><stop offset="0.26" stop-color="#da715e"/><stop offset="0.36" stop-color="#e29272"/><stop offset="0.43" stop-color="#ecc08b"/><stop offset="0.49" stop-color="#efcf99"/><stop offset="0.55" stop-color="#ecbf8b"/><stop offset="0.62" stop-color="#e29171"/><stop offset="0.73" stop-color="#da705d"/><stop offset="1.00" stop-color="#d96e5c"/></linearGradient><linearGradient id="d109"><stop offset="0.00" stop-color="#af1f34"/><stop offset="0.19" stop-color="#b12135"/><stop offset="0.32" stop-color="#d05751"/><stop offset="0.40" stop-color="#ecbe8b"/><stop offset="0.46" stop-color="#f1dba7"/><stop offset="0.53" stop-color="#ecc08c"/><stop offset="0.61" stop-color="#d35e54"/><stop offset="0.73" stop-color="#b62638"/><stop offset="1.00" stop-color="#b42437"/></linearGradient><linearGradient id="d110"><stop offset="0.00" stop-color="#b12135"/><stop offset="0.26" stop-color="#b42437"/><stop offset="0.37" stop-color="#da725f"/><stop offset="0.44" stop-color="#f1dfac"/><stop offset="0.50" stop-color="#dae3db"/><stop offset="0.56" stop-color="#f1deab"/><stop offset="0.64" stop-color="#d96d5c"/><stop offset="0.75" stop-color="#b12035"/><stop offset="1.00" stop-color="#ae1d33"/></linearGradient><linearGradient id="d111"><stop offset="0.00" stop-color="#b9293a"/><stop offset="0.22" stop-color="#bb2b3b"/><stop offset="0.32" stop-color="#d86a5a"/><stop offset="0.40" stop-color="#eec991"/><stop offset="0.46" stop-color="#f2e1af"/><stop offset="0.51" stop-color="#eec992"/><stop offset="0.59" stop-color="#d96f5d"/><stop offset="0.69" stop-color="#be2e3d"/><stop offset="1.00" stop-color="#bc2c3c"/></linearGradient><linearGradient id="d112"><stop offset="0.00" stop-color="#a91931"/><stop offset="0.27" stop-color="#ac1b32"/><stop offset="0.38" stop-color="#cc4d4c"/><stop offset="0.45" stop-color="#ebb988"/><stop offset="0.50" stop-color="#f0d8a4"/><stop offset="0.56" stop-color="#ebb887"/><stop offset="0.63" stop-color="#c94649"/><stop offset="0.74" stop-color="#a7162f"/><stop offset="1.00" stop-color="#a5142e"/></linearGradient><linearGradient id="d113"><stop offset="0.00" stop-color="#ac1c32"/><stop offset="0.30" stop-color="#ae1e34"/><stop offset="0.41" stop-color="#cc4c4c"/><stop offset="0.48" stop-color="#eab284"/><stop offset="0.54" stop-color="#efd19b"/><stop offset="0.60" stop-color="#eab384"/><stop offset="0.68" stop-color="#cd4f4d"/><stop offset="0.78" stop-color="#b01f34"/><stop offset="1.00" stop-color="#ae1d33"/></linearGradient><linearGradient id="d114"><stop offset="0.00" stop-color="#a81730"/><stop offset="0.25" stop-color="#ab1a32"/><stop offset="0.38" stop-color="#d56256"/><stop offset="0.46" stop-color="#f1d9a5"/><stop offset="0.53" stop-color="#e0e6d9"/><stop offset="0.60" stop-color="#f1d9a5"/><stop offset="0.68" stop-color="#d35f55"/><stop offset="0.80" stop-color="#a91830"/><stop offset="1.00" stop-color="#a6152f"/></linearGradient><linearGradient id="d115"><stop offset="0.00" stop-color="#c1333f"/><stop offset="0.25" stop-color="#c33641"/><stop offset="0.37" stop-color="#d86959"/><stop offset="0.45" stop-color="#eab385"/><stop offset="0.52" stop-color="#efcd96"/><stop offset="0.58" stop-color="#eab284"/><stop offset="0.67" stop-color="#d46156"/><stop offset="0.79" stop-color="#be2e3d"/><stop offset="1.00" stop-color="#bc2c3c"/></linearGradient><linearGradient id="d116"><stop offset="0.00" stop-color="#cb4a4a"/><stop offset="0.24" stop-color="#cc4d4c"/><stop offset="0.36" stop-color="#db7661"/><stop offset="0.43" stop-color="#eab485"/><stop offset="0.50" stop-color="#eeca93"/><stop offset="0.56" stop-color="#eab585"/><stop offset="0.64" stop-color="#dc7963"/><stop offset="0.76" stop-color="#ce514e"/><stop offset="1.00" stop-color="#cd4e4d"/></linearGradient><linearGradient id="d117"><stop offset="0.00" stop-color="#bc2c3c"/><stop offset="0.25" stop-color="#be2e3d"/><stop offset="0.36" stop-color="#d56457"/><stop offset="0.43" stop-color="#eab686"/><stop offset="0.49" stop-color="#efd09a"/><stop offset="0.55" stop-color="#eab485"/><stop offset="0.62" stop-color="#d15a52"/><stop offset="0.73" stop-color="#b82739"/><stop offset="1.00" stop-color="#b62538"/></linearGradient><linearGradient id="d118"><stop offset="0.00" stop-color="#b9293a"/><stop offset="0.24" stop-color="#bc2c3c"/><stop offset="0.37" stop-color="#de8067"/><stop offset="0.45" stop-color="#f0e2b5"/><stop offset="0.52" stop-color="#d1dedc"/><stop offset="0.59" stop-color="#efe3b6"/><stop offset="0.67" stop-color="#e0876b"/><stop offset="0.80" stop-color="#c0313e"/><stop offset="1.00" stop-color="#be2e3d"/></linearGradient><linearGradient id="d119"><stop offset="0.00" stop-color="#bd2d3c"/><stop offset="0.19" stop-color="#bf2f3d"/><stop offset="0.31" stop-color="#d86c5b"/><stop offset="0.39" stop-color="#edc28d"/><stop offset="0.46" stop-color="#f1daa6"/><stop offset="0.53" stop-color="#edc58e"/><stop offset="0.62" stop-color="#db7762"/><stop offset="0.74" stop-color="#c63f45"/><stop offset="1.00" stop-color="#c53b43"/></linearGradient><linearGradient id="d120"><stop offset="0.00" stop-color="#ac1b32"/><stop offset="0.25" stop-color="#ae1d33"/><stop offset="0.38" stop-color="#ce514e"/><stop offset="0.46" stop-color="#ecbc89"/><stop offset="0.52" stop-color="#f1daa6"/><stop offset="0.59" stop-color="#ecbd8a"/><stop offset="0.67" stop-color="#ce534f"/><stop offset="0.79" stop-color="#af1e34"/><stop offset="1.00" stop-color="#ad1c33"/></linearGradient><linearGradient id="d121"><stop offset="0.00" stop-color="#be2e3d"/><stop offset="0.28" stop-color="#c0303e"/><stop offset="0.38" stop-color="#d56256"/><stop offset="0.44" stop-color="#e9af82"/><stop offset="0.50" stop-color="#eec992"/><stop offset="0.55" stop-color="#e9b083"/><stop offset="0.61" stop-color="#d76859"/><stop offset="0.71" stop-color="#c33741"/><stop offset="1.00" stop-color="#c23440"/></linearGradient><linearGradient id="d122"><stop offset="0.00" stop-color="#da715e"/><stop offset="0.26" stop-color="#da735f"/><stop offset="0.37" stop-color="#e39372"/><stop offset="0.45" stop-color="#ecc08c"/><stop offset="0.52" stop-color="#efcf99"/><stop offset="0.58" stop-color="#ecbf8b"/><stop offset="0.66" stop-color="#e18e6f"/><stop offset="0.78" stop-color="#d86c5b"/><stop offset="1.00" stop-color="#d8695a"/></linearGradient><linearGradient id="d123"><stop offset="0.00" stop-color="#d86b5b"/><stop offset="0.29" stop-color="#d96e5d"/><stop offset="0.38" stop-color="#e69e79"/><stop offset="0.44" stop-color="#f0d5a0"/><stop offset="0.49" stop-color="#efe3b8"/><stop offset="0.54" stop-color="#f0d39d"/><stop offset="0.60" stop-color="#e29271"/><stop offset="0.69" stop-color="#d25c53"/><stop offset="1.00" stop-color="#d15851"/></linearGradient><linearGradient id="d124"><stop offset="0.00" stop-color="#b22136"/><stop offset="0.25" stop-color="#b42337"/><stop offset="0.37" stop-color="#ce524e"/><stop offset="0.45" stop-color="#e9af82"/><stop offset="0.51" stop-color="#efcd96"/><stop offset="0.58" stop-color="#e9ad81"/><stop offset="0.66" stop-color="#cb4a4b"/><stop offset="0.78" stop-color="#af1e34"/><stop offset="1.00" stop-color="#ad1c33"/></linearGradient><linearGradient id="d125"><stop offset="0.00" stop-color="#d86b5a"/><stop offset="0.31" stop-color="#d96d5c"/><stop offset="0.40" stop-color="#e29070"/><stop offset="0.47" stop-color="#ecc08c"/><stop offset="0.52" stop-color="#efd09a"/><stop offset="0.57" stop-color="#ecbd8a"/><stop offset="0.63" stop-color="#de8369"/><stop offset="0.73" stop-color="#d15a52"/><stop offset="1.00" stop-color="#d05751"/></linearGradient><linearGradient id="cb1" x1="0" y1="1" x2="0" y2="0"><stop offset="0" stop-color="#7a0a22"/><stop offset="0.1" stop-color="#a02a22"/><stop offset="0.2" stop-color="#b85a32"/><stop offset="0.3" stop-color="#c08a50"/><stop offset="0.4" stop-color="#c8b070"/><stop offset="0.5" stop-color="#c8c098"/><stop offset="0.6" stop-color="#b8c8d0"/><stop offset="0.7" stop-color="#98b8d0"/><stop offset="0.8" stop-color="#6890c0"/><stop offset="0.9" stop-color="#3860a8"/><stop offset="1" stop-color="#283480"/></linearGradient><linearGradient id="cb2" x1="0" y1="1" x2="0" y2="0"><stop offset="0" stop-color="#7a0a22"/><stop offset="0.1" stop-color="#a02a22"/><stop offset="0.2" stop-color="#b85a32"/><stop offset="0.3" stop-color="#c08a50"/><stop offset="0.4" stop-color="#c8b070"/><stop offset="0.5" stop-color="#c8c098"/><stop offset="0.6" stop-color="#b8c8d0"/><stop offset="0.7" stop-color="#98b8d0"/><stop offset="0.8" stop-color="#6890c0"/><stop offset="0.9" stop-color="#3860a8"/><stop offset="1" stop-color="#283480"/></linearGradient><linearGradient id="cb3" x1="0" y1="1" x2="0" y2="0"><stop offset="0" stop-color="#7a0a22"/><stop offset="0.1" stop-color="#a02a22"/><stop offset="0.2" stop-color="#b85a32"/><stop offset="0.3" stop-color="#c08a50"/><stop offset="0.4" stop-color="#c8b070"/><stop offset="0.5" stop-color="#c8c098"/><stop offset="0.6" stop-color="#b8c8d0"/><stop offset="0.7" stop-color="#98b8d0"/><stop offset="0.8" stop-color="#6890c0"/><stop offset="0.9" stop-color="#3860a8"/><stop offset="1" stop-color="#283480"/></linearGradient><linearGradient id="cb4" x1="0" y1="1" x2="0" y2="0"><stop offset="0" stop-color="#7a0a22"/><stop offset="0.1" stop-color="#a02a22"/><stop offset="0.2" stop-color="#b85a32"/><stop offset="0.3" stop-color="#c08a50"/><stop offset="0.4" stop-color="#c8b070"/><stop offset="0.5" stop-color="#c8c098"/><stop offset="0.6" stop-color="#b8c8d0"/><stop offset="0.7" stop-color="#98b8d0"/><stop offset="0.8" stop-color="#6890c0"/><stop offset="0.9" stop-color="#3860a8"/><stop offset="1" stop-color="#283480"/></linearGradient><linearGradient id="exl" x1="0" y1="0" x2="0" y2="1"><stop offset="0" stop-color="#ffffa8"/><stop offset=".2" stop-color="#fff21c"/><stop offset=".55" stop-color="#f7a21a"/><stop offset="1" stop-color="#e8160c"/></linearGradient><clipPath id="cg"><ellipse cx="408.7" cy="366.5" rx="26.5" ry="15.6"/></clipPath></defs><rect x="0.5" y="0.5" width="519" height="705" fill="#fff" stroke="#000" stroke-width="1"/><text x="8.3" y="18.8" font-size="12" fill="#000" font-weight="bold">A</text><path d="M237.9,145.7L238.3,145.7L238.2,146.7L238.3,147.6L238.1,148.5L238.1,149.4L238.2,150.3L238.2,151.2L238.4,152.1L240.7,153.2L238,153.9L238,154.8L237.8,155.7L237.6,156.6L237.7,157.6L237.3,158.4L237.4,159.4L237.1,160.2L236.9,161.1L236.7,162L236.6,162.9L236.6,163.9L236.2,164.7L236.1,165.6L236,166.5L235.7,167.4L235.5,168.3L235.1,169.1L235.1,170.1L236.6,171.4L234.6,171.8L234.3,172.7L234,173.5L233.8,174.4L233.4,175.3L233.1,176.1L232.9,177L232.6,177.9L232.2,178.7L231.9,179.5L231.6,180.4L231.3,181.3L230.9,182.1L230.5,182.9L230.3,183.8L229.7,184.5L229.4,185.4L229.1,186.2L228.5,187L228.2,187.8L227.7,188.6L227.4,189.5L227,190.3L226.5,191.1L226.1,190.9ZM225.1,192.7L225.4,192.9L225,193.8L224.6,194.6L223.9,195.3L224.1,196.5L225.7,198.7L224.3,198.8L222.1,198.5L222.2,199.7L222.5,201.1L221.9,201.8L220.4,201.9L219.4,202.3L218.6,202.8L218.1,203.5L217.5,204.3L217.1,205.1L216.5,205.8L215.8,206.5L215.1,207.1L214.5,207.8L213.9,208.5L213.3,209.2L212.6,209.8L213.4,211.9L213.8,213.6L211.4,212.5L210.2,212.6L209.5,213.2L208.7,213.8L208.2,214.5L207.4,215L206.7,215.6L205.9,216.2L205.3,216.9L204.6,217.5L203.9,218.1L203.2,218.6L202.5,219.2L201.7,219.7L201,220.3L200.2,220.8L199.5,221.4L198.7,221.9L198,222.4L197.2,223L196.5,223.5L195.7,224.1L195,224.6L194.2,225.1L193.4,225.6L193.2,225.2ZM191.3,226.3L191.6,226.8L191.1,227.7L191.3,229.9L189.6,228.8L188.3,228.3L187.5,228.8L186.8,229.4L185.9,229.7L185,229.9L184.2,230.3L183.4,230.7L182.6,231.3L181.7,231.5L180.9,232L180.1,232.4L179.2,232.6L178.3,232.9L177.5,233.4L176.7,233.7L175.8,233.9L174.9,234.3L174,234.5L173.2,234.7L172.3,234.9L171.5,235.4L170.6,235.7L169.7,235.9L168.8,236.2L167.9,236.2L167,236.5L166.1,236.8L165.3,237.1L164.4,237.4L163.9,239.4L163.2,240.6L161.8,238.4L160.8,237.9L159.9,238.2L158.9,238.1L158.1,238.4L157.2,238.5L156.3,238.7L156.2,238.2ZM154.1,238.4L154.1,238.7L153.3,239.9L152.6,242.8L151.4,239.6L150.4,239.1L149.5,239.3L148.5,239.1L147.6,239.2L146.7,239.3L145.8,239.1L144.8,239.2L143.9,239.3L143,239.2L142,239.2L141.1,239.2L140.2,239.2L139.3,239.2L138.3,239L137.4,239.1L136.5,238.9L135.6,238.8L134.6,238.9L133.7,238.6L132.8,238.6L131.6,240.4L130.3,243L129.8,240.1L129.1,238.2L128.2,237.8L127.3,237.6L126.4,237.4L125.5,237.4L124.6,237.2L123.7,236.9L122.8,236.8L121.9,236.5L120.9,236.4L120,236.1L119.2,235.7L118.2,235.7L118.4,235.2ZM116.3,234.6L116.2,235L115.3,234.7L114.3,234.8L113,235.6L112,235.6L111.5,234.2L111,233.1L110.1,232.8L109.2,232.5L108.4,232L107.5,231.8L106.7,231.4L105.9,230.9L105,230.6L104.1,230.3L103.3,229.8L102,230.4L100.9,230.5L100.5,229.2L100,228.2L99.2,227.7L98.5,227.1L97.6,226.8L96.8,226.3L96,225.9L95.2,225.3L94.4,224.9L93.6,224.4L92.9,223.8L92.1,223.3L91.3,222.9L90.7,222.2L89.8,221.8L89.1,221.2L88.3,220.7L87.7,220L86.8,219.6L86.2,218.9L86.4,218.6ZM84.7,217.3L84.5,217.6L83.7,217.1L83.2,216.3L82.4,215.7L81.6,215.2L81.1,214.5L80.3,214L79.7,213.3L79.1,212.5L78.4,212L77.7,211.4L77.1,210.7L76.4,210L75.9,209.3L75.1,208.7L74.6,207.9L73.9,207.3L73.3,206.6L72.7,205.9L72.2,205.1L71.5,204.5L70.9,203.8L70.3,203.1L69.8,202.3L69.3,201.5L68.2,201.1L68,200.1L67.6,199.3L67,198.6L66.6,197.7L66,197L65,196.6L63.9,196.2L63.3,195.5L63.6,194.2L63.5,193.1L64,192.9ZM62.9,191L62.7,191.1L62,190.4L61.7,189.5L61.2,188.8L60.7,187.9L60.4,187L60.1,186.1L59.5,185.4L59.2,184.5L58.7,183.7L58.5,182.8L58.1,181.9L57.6,181.1L57.4,180.2L57.1,179.3L56.7,178.4L56.3,177.6L56.2,176.6L55.7,175.8L55.4,174.9L55.1,174L55,173.1L53.9,172.4L52.4,171.8L52.3,170.9L53.3,169.6L53.5,168.6L53.4,167.7L53.1,166.8L53.1,165.8L52.6,164.9L52.4,164L52.4,163.1L52.8,163ZM52.4,160.9L51.4,161.1L49.6,160.4L49.8,159.4L51.1,158.3L51.4,157.3L51.3,156.4L51.2,155.5L51.2,154.6L51.1,153.7L51,152.7L51,151.8L50.7,150.9L50.8,150L50.8,149.1L50.9,148.1L50.8,147.2L50.7,146.3L50.7,145.4L50.7,144.5L50.6,143.5L50.6,142.6L50.8,141.7L50.8,140.8L50.8,139.9L50.8,138.9L51,138L51.1,137.1L51.1,136.2L51.4,135.3L51.4,134.4L51.3,133.4L51.9,133.5ZM52.2,131.4L51.7,131.3L51.9,130.4L52,129.5L52.4,128.6L52.5,127.7L52.7,126.8L52.9,125.9L53,125L53.2,124.1L53.5,123.3L53.7,122.4L53.8,121.4L54.2,120.6L54.2,119.7L54.6,118.8L54.8,117.9L55.2,117.1L55.4,116.2L54.6,114.9L55.7,114.3L56.4,113.6L56.5,112.7L56.9,111.8L57.3,111L57.7,110.2L57.9,109.3L58.3,108.4L58.8,107.7L59.1,106.8L59.6,106L59.8,106.1ZM60.7,104.2L60.5,104L60.8,103.1L61.2,102.3L61.8,101.5L62.1,100.6L62.6,99.8L63,99L63.5,98.2L64,97.4L62,95L64.3,95.4L65.6,95L66.1,94.2L66.4,93.3L67,92.6L67.7,91.9L68,91L68.7,90.3L69.3,89.6L69.8,88.8L70.4,88.1L71,87.3L71.5,86.5L72.2,85.8L72.7,85.1L73.5,84.4L74,83.6L74.6,82.9L74.9,83.2ZM76.4,81.6L76.1,81.4L76.7,80.6L77.4,80L77.4,78.7L77.4,77.3L77.3,75.9L78.9,76.1L80.5,76.4L81.5,76.1L82.2,75.5L82.9,74.9L83.6,74.2L84.2,73.5L85.1,73L85.8,72.4L86.5,71.9L87.2,71.2L87.9,70.6L88.7,70.1L89.5,69.6L90.2,68.9L90.9,68.3L91.8,67.9L92.6,67.5L93.3,66.8L94.1,66.3L95,65.9L95.8,65.5L96,65.7ZM97.8,64.6L97.6,64.2L98.5,63.9L99.2,63.3L99.6,62.1L100.1,61.1L101.7,62.1L102.5,61.6L103.3,61.1L104.2,60.8L105.1,60.5L105.8,59.9L106.7,59.5L107.6,59.2L108.5,59L109.4,58.6L110.2,58.3L111.1,58L112,57.7L112.8,57.2L113.7,56.9L114.6,56.6L115.5,56.3L116.4,56.2L117.2,55.7L118.1,55.4L119,55.2L119.9,55L120.8,54.7L120.9,55.1ZM123,54.6L123,54.3L123.5,52.5L123.9,49.9L125.4,52.1L126.6,53.5L127.5,53.2L128.5,53.1L129.4,52.9L130.3,52.6L131.2,52.5L132.2,52.4L133.1,52.5L134,52.3L135,52.2L135.9,52.2L136.8,51.9L137.8,52L138.7,51.9L139.7,51.9L140.6,51.9L141.5,51.6L142.5,51.7L143.4,51.7L144.4,51.7L144.4,52.1ZM146.5,52.1L146.5,51.8L147.5,51.8L148.4,51.7L149.4,51.9L150.3,51.8L151.3,51.8L152.3,51.4L153.4,50.4L154.3,50.8L155.2,51.8L156,52.5L157,52.5L158,52.7L158.9,52.9L159.9,53L160.8,53.2L161.7,53.3L162.7,53.5L163.6,53.7L164.5,54L165.5,54.1L166.4,54.4L166.3,54.7ZM168.4,55.2L168.5,54.9L169.5,55L170.3,55.5L171.3,55.5L172.2,56L173.1,56.2L174.1,56.3L175.1,56.3L176.5,55.3L177.9,54.2L178.2,56.3L178.7,57.7L179.4,58.5L180.3,58.8L181.3,59.1L182.1,59.6L183,59.8L183.8,60.4L184.7,60.7L185.5,61.3L186.4,61.6L186.2,61.9ZM188.2,62.9L188.4,62.5L189.2,63L190.1,63.4L190.8,63.9L191.6,64.4L192.4,64.9L193.3,65.3L194,65.9L194.8,66.4L195.7,66.7L196.4,67.3L197.2,67.9L198,68.4L198.8,68.8L199.4,69.6L200.2,70.1L201.4,70L203.3,69.1L203.8,70L202.2,72.1ZM203.9,73.4L204.1,73.1L204.8,73.8L205.6,74.3L206.4,74.8L207,75.6L207.6,76.3L208.3,76.9L209,77.5L209.8,78L210.5,78.7L211.1,79.5L212.9,79L213.8,79.5L213,81.5L213.8,82.1L214.3,82.9L215.1,83.5L214.7,83.8ZM216.1,85.5L216.3,85.3L217.1,85.9L217.7,86.6L218.3,87.4L218.7,88.3L219.5,88.9L220,89.8L220.6,90.5L221.1,91.3L221.7,92.1L222.2,92.9L223.2,93.4L224.3,93.9L224.2,95.1L224.3,96.2L224.7,97L224.4,97.2ZM225.5,99.1L225.8,98.9L226.5,99.7L226.7,100.7L227.3,101.5L227.8,102.3L228.4,103.1L228.6,104.1L229.1,105L229.6,105.8L230,106.7L230.8,107.4L231.5,108.2L230.4,108.7ZM231.2,110.7L231.5,110.6L231.8,111.5L232.2,112.4L232.6,113.3L234.7,113.5L235.5,114.3L233.7,116L233.7,117L234.2,117.8L234.5,118.7L234.6,119.7L234.8,120.7L235.2,121.6L234.8,121.7ZM235.3,123.8L235.9,123.6L235.9,124.6L236.1,125.6L237.3,126.3L238.5,127.1L236.7,128.4L237,129.3L237.1,130.3L237.1,131.3L237.5,132.2L237,132.3ZM237.2,134.4L237.5,134.4L237.9,135.4L237.9,136.4L237.9,137.5L238.1,138.5L238,139.6L238.1,140.6L238.7,141.6L242.6,142.5L239.3,143.7L237.9,143.7Z" fill="#c8841e" stroke="#c8841e" stroke-width="0.3"/><path d="M221.5,145.7L222.3,145.7L224.5,146.5L223.3,147.2L221.8,148L222.1,148.7L222,149.5L222.5,150.2L222.7,151L222.4,151.8L221.9,152.5L222.2,153.3L222.7,154.1L223.5,155L222.6,155.6L223.1,156.5L223,157.2L221.8,157.8L222.8,158.7L224.1,159.8L224,160.5L222.7,161.1L221.5,161.6L221.1,162.3L220.3,162.9L219.7,163.5L219.9,164.4L220.6,165.3L221,166.2L222.9,167.6L222.8,168.4L221.1,168.7L220.9,169.4L219.9,169.9L220.8,171L221.4,172.1L220.2,172.5L220.2,173.3L218.5,173.5L217.1,173.8L216.3,174.2L216.2,175L215.9,175.7L217,177L217.7,178.2L218.9,179.6L216.4,179.3L215.6,179.8L214.8,180.2L213.9,180.6L213.4,181.2L212.8,181.7L212.4,182.4L212.2,183.1L211.8,182.9ZM210.9,184.4L211.2,184.6L210.9,185.3L210.5,185.9L210,186.5L209.7,187.3L209.2,187.9L208.8,188.5L208.4,189.2L208,189.8L207.5,190.3L207.1,191L207.1,192L207.1,192.9L208.1,194.7L206.9,194.8L205.6,194.7L206.8,196.7L205.8,196.9L204,196.3L203.5,197L202.7,197.3L202.1,197.8L201.2,198L201,198.9L200.6,199.5L200.9,200.9L200.7,201.8L200.3,202.5L200.2,203.6L199.1,203.5L197.7,203.1L196.7,203.2L195.8,203.3L195.7,204.4L196.3,206.3L195.6,206.7L195.5,207.7L196,209.7L194.1,208.5L193,208.5L193.1,209.8L192.7,210.6L192.4,211.6L190.9,210.9L190.2,211.3L189.6,211.7L188.5,211.5L187.2,210.9L186.3,211L185.4,211.1L184.8,211.5L184.6,211.2ZM183.1,212.1L183.3,212.5L182.9,213.2L182.4,214L182.1,215L181.5,215.4L182.1,218.3L181.1,218.1L179.8,217.3L178.7,216.8L177.7,216.6L177,216.8L176.1,216.7L175.9,218.1L175.2,218.5L174.3,218.3L173.4,218L173,219.1L172.9,221L171.6,219.7L170.7,219.5L169.7,219.1L169.2,220L168.6,220.4L167.9,221L167.2,221.2L166.2,220.4L165.4,220.3L164.5,220.2L164,221.3L163.6,222.8L163.1,223.9L162.5,224.9L161.4,223.5L160.3,221.9L159.4,221.5L159,223.2L158.7,226.1L157.5,223.8L156.5,222.6L155.7,222L154.9,222.1L154.2,222.2L154.1,221.9ZM152.4,222.1L152.7,224.8L151.9,225.8L151.2,226.9L150.3,225L149.5,224.6L148.7,223.9L147.9,224L147.1,224.6L146.3,223.7L145.6,224L144.8,223.7L144,223.5L143.2,223.1L142.5,222.8L141.7,222.9L140.9,223.8L140.1,224.5L139.2,226.4L138.5,224.6L137.7,224.4L136.8,225.8L136.1,224.6L135.5,223.3L134.8,222.8L134.1,222.4L133.3,222.3L132.4,222.8L131.7,222.7L130.8,223.3L129.6,225.2L129,224.3L128.5,222.8L128,221.5L127.3,220.9L126.6,220.7L125.8,220.5L125.1,220.5L124.4,220.1L123.6,219.9L122.9,219.8L123,219.4ZM121.3,218.9L120.7,220.7L119.9,220.6L119.3,220.1L118.7,219.4L118.1,218.6L117.4,218.5L116.2,219.4L115.3,219.5L114,220.8L113.6,219.5L113.3,218.3L112.3,218.6L112.4,216.6L112,215.6L110.8,216.3L110.2,215.6L109.4,215.6L108.1,216.4L107.6,215.8L107.1,215L106.4,214.6L106.1,213.6L105.6,213L105,212.4L104.5,211.8L103.5,212L102.4,212.3L101.9,211.6L100.4,212.5L99.2,212.8L98.9,211.9L98.5,211L98.5,209.7L98.4,208.5L97.8,208L96.6,208.4L96,207.8L95.5,207.1L96.6,205.8ZM95.2,204.7L94.6,205.5L93.9,205.1L92.3,205.7L91.5,205.5L91.1,204.7L91.1,203.6L89.9,203.7L88.8,203.7L88.4,203L87.6,202.7L87,202.2L87.2,200.8L87.7,199.3L86.7,199.2L85.8,199L84.8,198.8L85.3,197.3L84.7,196.8L84.8,195.7L83.5,195.8L82,196L80.1,196.5L80.8,194.9L81.5,193.4L79.5,193.9L80.5,192.2L81,190.9L79.1,191.2L78.1,191L77.9,190.2L78.4,188.9L77.5,188.5L77.5,187.6L78,186.4L77.8,185.6L77.9,184.7L78.1,184.5ZM77.3,183L74.4,184.6L73.5,184.2L75.1,182.4L74.9,181.6L73.6,181.4L74.3,180.2L74.1,179.4L74.2,178.5L74,177.7L73.7,177L73.6,176.2L73,175.6L73,174.8L72.6,174.1L72,173.5L70.9,173.1L69.8,172.6L69.5,171.9L69.4,171.1L66.9,171.1L68.5,169.7L69.8,168.5L69.4,167.8L69.3,167L69.2,166.2L69.5,165.4L68.6,164.8L69.2,163.8L69.2,163L68.8,162.3L68.9,161.5L68.7,160.8L68.6,160L68.9,159.9ZM68.6,158.2L68.3,158.2L68.1,157.5L67.9,156.8L67.1,156.1L66.8,155.4L66.1,154.7L67.1,153.8L67.3,153L67.4,152.2L67.4,151.5L67.1,150.7L66,150L64.4,149.3L65.1,148.5L66.2,147.7L66,146.9L66.8,146.2L66.6,145.4L65.3,144.6L64.3,143.8L65.7,143.1L66.7,142.4L66.8,141.6L66.5,140.8L65.5,140L64.5,139.1L64.9,138.4L64.6,137.5L65.2,136.8L64.8,136L64.6,135.2L68.1,135.6ZM68.4,133.9L67.8,133.8L68.2,133.1L68.3,132.3L66.9,131.3L66.2,130.4L68.3,130L68.6,129.3L68.4,128.5L68,127.6L68.5,126.9L67.5,125.9L66.7,124.9L65.7,123.8L66.9,123.3L68.4,122.9L69.6,122.5L70.7,122L71.1,121.3L71.3,120.6L70.7,119.6L68.8,118.1L69.3,117.5L69.5,116.7L71.4,116.6L71.8,115.9L72.8,115.5L72.9,114.7L73.8,114.3L74.1,113.6L74.4,112.9L74.7,113ZM75.4,111.4L75.2,111.3L75,110.3L73.8,108.8L74.3,108.2L74.2,107.2L76.5,107.6L75.9,106.3L77,106.1L77.9,105.7L78.5,105.2L78,103.9L76.9,102.2L76.6,101.1L78.3,101.3L80,101.4L80.4,100.8L80.7,100L81.3,99.5L82,99L80.6,97L82.1,97.1L83.5,97.2L82.9,95.7L83.9,95.5L84.7,95.1L84.1,93.6L84.2,92.6L84.8,92L87.1,94.1ZM88.3,92.8L85.2,89.9L86.7,90.2L88,90.3L88.9,90.1L88.9,89L88.8,87.7L89.9,87.7L91,87.7L90.8,86.4L90.5,84.8L92.2,85.6L91.8,83.8L93.9,85L95.3,85.6L95.9,85.1L96,83.9L96.2,82.8L95.8,81L97.4,81.8L99,82.7L99.8,82.4L100.3,81.8L101.1,81.6L101.6,81L102.4,80.7L102.7,79.9L103.2,79.1L103.9,78.7L104.5,79.7ZM106,78.8L104.2,75.8L105,75.5L106.2,75.9L107.4,76.6L108.3,76.6L108.9,76.1L109.1,74.7L109.2,73.2L110.6,74.3L111.8,74.9L112.1,73.8L112.7,73.2L113.7,73.4L114.5,73.4L115.4,73.5L116.2,73.6L116.9,73.3L117.7,73L118.4,72.7L119,72L119.5,71.2L119.8,69.8L120.4,68.9L121,68L122.1,68.9L123,69.4L123.5,68L124,67L125.1,71ZM126.8,70.6L126.4,69L127.1,68.3L127.9,68.3L128.6,67.8L129.1,66.2L129.9,66.3L131,67.5L131.9,68.5L132.5,67.3L133.2,66.3L134.1,66.7L135,67.9L135.8,67.7L136.5,66.8L137.3,66.7L138.1,67.7L138.9,67.5L139.7,67.2L140.4,65.2L141.2,65.5L142,67.4L142.8,68L143.6,68.2L144.4,68.2L144.4,68.5ZM146.2,68.5L146.2,66.7L147,66.1L147.8,67.1L148.6,66.9L149.4,67.5L150.2,67.3L151.2,64.3L151.8,66.8L152.5,68.6L153.2,68.7L154.3,66.8L155.1,66.4L156.1,65.6L156.6,67.9L157.2,69.2L158.1,68.4L159,68.1L159.6,69.1L160.6,68.3L161.5,67.8L162.3,67.8L163,68.4L162.5,70.6ZM164.2,71.1L164.6,69.4L165.7,68.5L166.6,68.5L167,70L167.5,71.2L168.2,71.6L169.1,71.4L170,71.1L170.8,71.3L172.2,69.7L172.7,70.9L172.7,73.1L173.3,73.8L174.1,73.9L174.7,74.4L175.5,74.5L176.7,74L178.1,72.7L179.3,72.2L180,72.6L180.1,74.2L178.9,76.6ZM180.5,77.4L180.9,76.7L182.1,76L183.2,75.7L184,75.8L184.4,76.9L184.4,78.4L185.2,78.6L187,77.2L187.6,77.7L188.8,77.3L188.7,78.9L188.9,80.1L189.5,80.6L191.2,79.6L191.6,80.3L192.7,80.3L192.7,81.6L192.6,83L192.7,84.1L192.1,85ZM193.5,86.1L193.8,85.7L194.5,86.1L194.9,86.7L195.6,87.1L196.5,87.3L197,87.9L197.4,88.6L198,89.2L198.9,89.3L200.7,88.6L201.6,88.9L202.9,88.8L203.1,89.6L202.6,91.3L203.6,91.4L204.2,91.9L203.9,93.3L202.3,94.7ZM203.5,96L206.3,93.7L207.1,94L206.1,96L207,96.3L206.4,97.8L206.8,98.5L207,99.3L208.1,99.6L208.2,100.4L208.3,101.4L208.7,102.1L209.1,102.8L209.6,103.4L210.6,103.7L211.8,103.9L212.9,104.2L210.4,105.7ZM211.3,107.2L211.6,107.1L212,107.8L212.8,108.3L213.8,108.6L213.5,109.7L214.4,110.2L215.1,110.8L216.6,110.9L216.7,111.8L216,113.1L217.7,113.2L218.1,114L215.3,115.2ZM216,116.8L217.7,116.1L218.4,116.7L218.7,117.5L218.4,118.4L218.1,119.4L217.9,120.3L217.9,121.2L218.3,121.9L218.4,122.7L218.8,123.4L219,124.2L219,125L219.2,125.8L219,125.9ZM219.4,127.6L220.7,127.3L222.7,127.6L223.9,128.2L222.3,129.4L222.3,130.2L221.3,131.3L221.4,132.1L220.8,133L221,133.8L221,134.6L220.7,134.6ZM221,136.4L224.3,136L224.6,136.8L223.3,137.9L223.8,138.7L224.4,139.5L224.8,140.4L223.3,141.4L222.5,142.3L221.8,143.2L221.8,144L221.5,144Z" fill="#5aa532" stroke="#5aa532" stroke-width="0.3"/><path d="M206.5,145.7L206.7,145.7L206.7,146.1L206.7,146.5L206.7,147L206.7,147.4L206.7,147.8L206.7,148.3L206.7,148.7L206.8,149.2L207.2,149.6L208.8,150.2L208.8,150.6L207,150.9L206.5,151.3L206.5,151.8L207.6,152.3L206.7,152.7L208,153.3L207.1,153.6L206.2,153.9L206.1,154.4L206.1,154.8L206,155.2L205.9,155.7L205.9,156.1L207.1,156.7L206.9,157.2L205.6,157.4L205.5,157.8L205.7,158.3L206.4,158.9L208.1,159.7L206.7,159.9L205.1,159.9L205,160.4L205.2,160.9L206.9,161.8L205.3,161.8L204.5,162L204.4,162.5L204.3,162.9L204.2,163.3L204,163.7L203.9,164.1L203.8,164.5L203.7,165L204.6,165.7L205.3,166.5L204,166.5L203.1,166.6L202.9,167L202.8,167.4L202.6,167.8L202.4,168.2L202.3,168.7L202.1,169.1L202,169.5L201.8,169.9L201.6,170.3L201.4,170.7L201.3,171.1L201.1,171.5L200.9,171.9L200.7,172.2L201,172.9L202.1,173.9L200.9,173.8L199.9,173.8L199.7,174.2L199.5,174.6L199.3,175L199.1,175.4L198.9,175.7L198.7,175.6ZM198,176.9L198.2,177L198,177.4L197.8,177.7L197.5,178.1L197.3,178.5L197.1,178.9L197.7,179.8L197,179.9L196.3,180L196.1,180.3L195.9,180.7L195.6,181L195.4,181.4L195.1,181.8L196.3,183.2L196.7,184L196.1,184.1L195,183.9L193.9,183.6L193.5,183.9L193.3,184.2L193,184.5L192.7,184.9L192.7,185.4L192.6,186L191.9,185.9L191.6,186.2L191.6,186.8L191.5,187.4L192.5,188.8L190.7,187.7L190.5,188.2L190.2,188.5L189.5,188.5L189.2,188.8L188.9,189.1L188.6,189.4L188.3,189.7L188,190L187.7,190.4L187.4,190.7L187,191L186.7,191.3L186.4,191.5L186.1,191.8L186,192.5L186.5,193.6L185.3,192.9L184.7,193L184.4,193.3L184.1,193.6L184.4,194.7L185.1,196.2L183.1,194.4L182.7,194.6L182.4,194.9L182,195.2L181.7,195.4L181.3,195.7L181,196L180.6,196.2L180.4,196.7L181.5,199.1L179.9,197.6L179.2,197.2L178.8,197.5L178.4,197.7L178.1,197.9L177.7,198.2L177.3,198.4L176.9,198.6L176.8,198.4ZM175.6,199.1L175.7,199.4L175.3,199.6L175.2,200.2L176.3,203.1L174.5,200.8L174,200.8L174.3,202.4L173.5,201.7L172.7,201.1L173.5,203.7L172.2,202.2L171.8,202.2L171.1,201.8L170.7,202L170.3,202.2L170.1,202.9L170.4,204.5L169.5,203.6L168.7,202.9L168.3,203L167.9,203.2L167.5,203.4L167.4,204.4L167.9,206.8L166.7,204.9L165.8,204L165.4,204.1L165,204.3L164.6,204.4L164.2,204.6L163.8,204.7L163.4,204.8L162.9,205L162.5,205.1L162.1,205.2L161.7,205.3L161.3,205.4L160.8,205.6L160.4,205.7L160,205.8L159.6,205.9L159.2,206L158.7,206.1L158.3,206.2L157.9,206.3L157.5,206.4L157,206.5L156.6,206.6L156.2,206.6L155.7,206.7L155.3,207L155.2,208.5L154.7,208.7L154.2,208.3L154,210L153.3,208.4L152.7,207.3L152.3,207.3L152.3,207ZM150.8,207.2L151,208.8L150.5,208.2L150.1,209L149.6,207.6L149.1,207.8L148.9,211L148.3,207.8L147.8,207.7L147.4,207.7L146.9,207.7L146.5,207.7L146.1,207.7L145.6,207.7L145.2,207.7L144.8,207.7L144.3,207.7L143.9,207.7L143.5,207.7L143,207.7L142.6,207.7L142.1,207.7L141.7,207.7L141.3,207.7L140.8,207.6L140.4,207.6L140,207.6L139.5,207.9L138.8,210.7L138.6,208.3L138.1,208.3L137.7,208.4L137.3,207.5L136.9,207.3L136.5,207.2L136.1,207.2L135.6,207.1L135.2,207.1L134.8,207L134.3,206.9L133.9,206.8L133.5,206.8L133,206.8L132.4,207.7L132,207.7L131.7,206.5L131.3,206.3L130.9,206.2L130.5,206.1L130.1,206.1L129.6,205.9L129.2,205.8L128.8,205.7L128.4,205.6L127.9,205.8L127.3,206L127.1,205.3L127.2,205ZM125.8,204.6L125.7,204.9L125.3,204.7L124.9,204.6L124.5,204.4L124.1,204.3L123.7,204.2L123.2,204L122.8,203.9L122.4,203.7L122,203.5L121.6,203.4L121.2,203.2L120.8,203.1L120.4,202.9L120,202.7L119.6,202.6L119,202.7L117.5,205.2L117.9,203.1L118,201.8L117.5,201.9L116.2,203.6L116.4,202.1L115.8,202.3L116,200.9L114.4,203L115.1,200.8L113.9,202L114,200.9L114.1,199.8L113.7,199.6L113.4,199.4L113,199.2L112.6,199L112.2,198.7L111.9,198.5L111.5,198.3L110.2,199.6L110.2,198.7L110.4,197.6L110,197.3L109.7,197.1L109,197.3L108,198L108.2,196.8L107.3,197.4L107.8,196L107.5,195.6L107.2,195.3L106.8,195.1L106.5,194.8L106.1,194.5L105.8,194.2L105.9,194.1ZM104.8,193.2L104.7,193.3L104.1,193.4L102.4,194.7L102.7,193.6L103.3,192.2L103,191.9L102.1,192.3L100.3,193.5L101.2,191.9L101.7,190.7L101.4,190.4L101.1,190.1L100.4,190.2L99.9,190L100.2,189.2L99.9,188.9L99.6,188.6L99.2,188.2L99,187.9L98.7,187.6L98.4,187.3L98.1,187L97.8,186.6L97.5,186.3L97.2,186L96.9,185.6L96.6,185.3L96.4,185L96.1,184.6L95.8,184.3L95.5,183.9L94.6,184.1L93.1,184.7L93.5,183.8L94,182.9L94.2,182.2L93.9,181.9L92.9,182L93.3,181.3L93.2,180.8L93,180.4L92.7,180L92.5,179.7L91.6,179.7L89.5,180.6L90.4,179.4L91.5,178.2L91.3,177.8L91.1,177.4L90.8,177.1L91.1,176.9ZM90.4,175.7L90.1,175.8L89.9,175.4L89.7,175L89.5,174.7L89.3,174.3L88.8,174L87.5,174.2L88.5,173.2L88.5,172.7L88.3,172.3L87.8,172L86.7,172L87.6,171.2L86.2,171.3L87.4,170.3L87.2,169.9L87,169.5L86.9,169L86.7,168.6L86.5,168.2L86.4,167.8L86.2,167.4L86.1,167L85.9,166.6L84.1,166.7L83.5,166.4L83.8,165.9L84.4,165.2L84,164.9L85.1,164L84.9,163.6L84.3,163.3L82.6,163.4L84.2,162.5L84.5,161.9L84.3,161.5L84.2,161.1L84.1,160.6L84,160.2L83.9,159.8L83.8,159.3L83.7,158.9L83.6,158.5L83.5,158L83.4,157.6L83.4,157.2L83.6,157.1ZM83.3,155.7L83.1,155.8L83,155.3L83,154.9L82.9,154.4L82.5,154L79.6,154L82.2,153.2L81.3,152.8L80.2,152.5L82.2,151.8L81.2,151.5L82.3,150.9L82.4,150.4L82.4,150L82.4,149.5L82.1,149.1L80.8,148.7L82.3,148.2L82.3,147.8L82.3,147.3L82.3,146.9L82.3,146.4L82,146L81.1,145.5L82,145.1L82.3,144.6L82.3,144.2L82.3,143.7L82.3,143.3L82.3,142.9L82.3,142.4L82.4,142L82.4,141.5L82.4,141.1L82.4,140.6L82.5,140.2L82.5,139.7L82.6,139.3L82.6,138.8L82.7,138.4L82.7,138L82.8,137.5L83,137.5ZM83.2,136.1L80.3,135.7L80.1,135.2L81.9,135L83.2,134.8L83.3,134.4L83.3,133.9L83.4,133.5L83.5,133.1L83.6,132.6L83.7,132.2L82.4,131.4L83.4,131.2L82.8,130.6L83.9,130.4L84.2,130L84.3,129.6L84.4,129.2L84.5,128.8L84.7,128.3L84.8,127.9L84.9,127.5L85,127.1L85.2,126.6L85.3,126.2L84.8,125.6L82.4,124.3L84.6,124.6L85.9,124.6L86,124.1L86.2,123.7L86.3,123.3L86.5,122.9L86.7,122.5L86.3,121.9L84.2,120.5L87.2,121.3L87.3,120.9L87.5,120.5L87.7,120.1L87.9,119.7L88.1,119.2L88.3,119.4ZM88.9,118.1L88.7,118L88.9,117.6L89.1,117.2L89.3,116.8L89.5,116.4L89.3,115.7L86.9,113.9L89.6,114.9L90.3,114.8L90.6,114.4L90.8,114L90.9,113.6L90.4,112.8L90.7,112.4L90.3,111.6L91.8,112L92.2,111.8L92.4,111.4L92.7,111L92.9,110.6L93.2,110.3L93.4,109.9L93.3,109.2L93.7,109L94.2,108.8L94,108.1L93.4,107.1L94.9,107.6L95.3,107.4L95.5,107L95.8,106.7L96.1,106.3L96.4,106L95,104.3L96.7,105.1L97.2,105L97.5,104.6L97.8,104.3L98.1,104L98.3,104.1ZM99.3,103.1L99.1,102.9L99.4,102.6L99.7,102.3L100,102L100.3,101.6L100.6,101.3L101,101L101.3,100.7L101.6,100.4L101.9,100.1L102.2,99.8L102.6,99.5L101.4,97.5L101.2,96.6L103.1,98L102.4,96.6L103.8,97.6L104.6,97.7L104.9,97.5L105.3,97.2L105.4,96.7L105.1,95.5L105.5,95.4L106.5,95.9L107,95.8L107.4,95.5L107.7,95.3L107.9,94.8L107.9,94L108.7,94.4L109.2,94.2L109.5,94L109.9,93.8L110.3,93.5L110.6,93.3L110.8,92.7L110.1,90.7L111.7,92.5L112.1,92.3L112.3,92.5ZM113.5,91.8L113.4,91.6L113.8,91.4L114.1,91.2L114.5,90.9L114.9,90.7L114.8,89.6L114.7,88.5L116.1,90.1L116.5,89.9L116.9,89.7L117.3,89.5L117.7,89.3L118,89.1L117.7,87.3L118.9,88.8L119.3,88.6L119.6,88.4L119.7,87.5L119.4,85.4L120.4,86.7L120.8,86.6L121.7,87.5L122.1,87.4L122.5,87.3L122.9,87.1L123.3,87L123.8,86.8L124.2,86.7L124.6,86.5L125,86.4L125.4,86.2L125.8,86.1L126.3,86L126.7,85.9L127.1,85.7L127.5,85.6L127.9,85.5L128.2,84.7L128.1,82.7L128.9,85.5ZM130.2,85.2L130.1,84.5L130.2,82.9L130.9,84.2L131.5,84.6L131.9,84.5L132.4,84.4L132.8,84.4L132.9,82.3L133.7,83.9L134.1,84.1L134.3,82.2L134.9,82.9L135.5,83.9L135.9,83.8L136.4,83.8L136.8,83.7L137.2,83.7L137.6,83.2L138,82.4L138.6,83.1L139,83.5L139.5,83.5L139.9,83.4L140.4,83.4L140.8,83.4L141.2,81.6L141.6,81L142.2,83.3L142.6,83.3L143.1,83.3L143.5,83.3L144,83.3L144.4,83.3L144.4,83.5ZM145.8,83.5L145.8,83.3L146.3,83.3L146.8,82.4L147.3,81L147.7,82L148.3,79.9L148.6,82.7L148.9,83.4L149.4,83.4L149.8,83.5L150.3,83.5L150.7,83.6L151.2,83.6L151.6,83.7L152,83.7L152.5,83.8L152.9,83.8L153.4,83.9L153.8,84L154.2,84L154.7,84.1L155.2,84L155.7,83.4L156.1,83.7L156.4,84.4L156.9,84.5L157.3,84.6L157.9,83.9L158.9,81.5L158.9,83.6L159,85L159,85.2ZM160.4,85.6L160.4,85.3L160.9,85.4L161.3,85.6L161.9,85L162.8,83.6L163.1,84L163,86.1L163.5,85.9L164.2,85.1L164.3,86.1L164.6,86.6L165.1,86.7L165.5,86.9L165.9,87L166.3,87.2L166.7,87.3L167.1,87.5L167.5,87.7L167.9,87.8L168.3,88L168.7,88.2L169.1,88.3L169.5,88.5L170.2,88.2L171.7,86L170.9,88.7L171.1,89.2L171.5,89.4L171.9,89.6L172.3,89.8L172.2,90ZM173.5,90.7L173.6,90.5L174,90.7L174.4,90.9L174.8,91.1L175.2,91.3L175.6,91.5L175.9,91.8L176.3,92L176.7,92.2L177.1,92.5L177.7,92.3L178.2,92.4L178.3,93.1L178.6,93.4L179,93.7L179.3,93.9L179.7,94.2L180.1,94.4L180.5,94.7L181.2,94.5L182.2,93.8L181.7,95.2L181.9,95.7L182.3,96L182.6,96.3L183,96.6L182.8,96.7ZM183.9,97.6L184.1,97.4L184.4,97.7L184.8,98L185.1,98.3L185.5,98.6L185.8,98.9L186.1,99.2L186.5,99.5L187.6,99L188.8,98.4L187.8,100.1L187.8,100.8L188.1,101.1L188.5,101.4L188.8,101.7L189.6,101.6L190.1,101.7L189.8,102.6L190,103.1L190.3,103.4L190.7,103.7L191,104.1L191.3,104.4L191.1,104.6ZM192,105.7L192.2,105.5L192.5,105.8L192.8,106.2L193.1,106.6L193.4,106.9L193.6,107.3L194.9,106.9L194.7,107.6L194.5,108.4L196.4,107.5L195.7,108.6L195.3,109.5L195.5,109.9L195.8,110.2L196.1,110.6L196.3,111L196.6,111.4L197,111.7L197.8,111.6L198,112.1L197.6,112.9L197.8,113.3L197.6,113.4ZM198.3,114.7L198.5,114.6L198.7,114.9L199,115.3L199.2,115.7L199.4,116.1L199.6,116.5L199.8,116.9L200,117.3L200.2,117.7L200.4,118.1L200.6,118.5L200.8,118.9L201.5,119.1L203.4,118.7L202,119.9L201.6,120.6L201.7,121L201.5,121.1ZM202,122.4L202.3,122.3L202.4,122.7L202.6,123.2L202.8,123.6L202.9,124L203.1,124.4L203.2,124.9L203.4,125.3L203.5,125.7L203.7,126.1L203.8,126.6L205.2,126.6L204.5,127.3L204.2,127.9L204.3,128.3L204.5,128.7L205.1,129L206.2,129.2L204.4,129.7ZM204.8,131.1L205,131L205.1,131.4L205.5,131.8L206.6,132L205.8,132.7L206.3,133L207.5,133.3L206.2,134L205.8,134.5L205.8,134.9L205.9,135.4L206,135.8L206.1,136.3L206.1,136.7L205.9,136.7ZM206.1,138.2L206.3,138.1L206.4,138.6L206.4,139L206.7,139.4L207.1,139.8L207,140.3L207.8,140.7L206.6,141.2L206.6,141.7L206.7,142.1L206.7,142.5L206.7,143L206.7,143.4L206.7,143.9L206.7,144.3L206.5,144.3Z" fill="#2f4f9a"/><path d="M200.3,145.6L198,145.6L198.9,146L199.6,146.4L200.3,146.8L200.3,147.2L200.3,147.6L200.2,148L200.2,148.4L199.8,148.8L198.6,149.1L200.2,149.6L200.1,149.9L200.1,150.3L200.1,150.7L200,151.1L200,151.5L199.8,151.9L199.1,152.2L198.3,152.5L199.4,153L199.7,153.4L199.7,153.8L199.6,154.2L198.1,154.4L198.1,154.8L199.4,155.4L199.3,155.8L199.3,156.1L199.2,156.5L199.1,156.9L198.8,157.2L196.7,157.2L197.6,157.8L197.3,158.1L195.8,158.1L197.7,159L196.9,159.1L196.7,159.5L198.1,160.3L198.2,160.7L198.1,161.1L198,161.5L197.9,161.8L197.7,162.2L197.6,162.6L197.5,162.9L197.4,163.3L197.3,163.7L197.1,164.1L197,164.4L196.9,164.8L195.7,164.8L195.2,165L196.4,165.9L196.3,166.3L196.1,166.6L194.3,166.3L194.5,166.8L195.7,167.7L195.5,168.1L195.4,168.4L195.2,168.8L195.1,169.1L193.4,168.8L192.8,168.9L193.7,169.7L192.9,169.8L192.9,170.2L191.1,169.7L192.7,171L193.6,171.9L191.3,171.1L192.6,172.2L193.3,172.6ZM192.6,173.7L192.6,173.7L192.4,174.1L191.6,174L189.9,173.4L191.8,175.1L191.6,175.4L191.4,175.7L191.2,176.1L190.6,176.1L189.4,175.8L189.7,176.5L188.6,176.1L189.8,177.4L189.9,178L189.6,178.3L188.9,178.3L188,178L188.1,178.7L188.5,179.4L187.2,178.9L187.7,179.8L186.3,179.1L187,180.2L187.5,181.1L187.2,181.4L187,181.7L186.7,182L186.4,182.3L186.2,182.6L185.9,182.9L185.1,182.6L182.9,181.2L183.9,182.5L184.8,184L184.6,184.3L184.3,184.6L183.4,184.2L182.4,183.8L183.4,185.4L183.2,185.7L182.9,185.9L182.1,185.7L182.2,186.4L181.9,186.7L179.5,184.5L179.2,184.8L180.5,186.8L180.9,187.8L180.5,188L179.3,187.1L178.3,186.6L179.6,188.7L179.4,189.1L178.3,188.3L177.9,188.5L178.4,189.8L178.1,190L177.8,190.3L177.5,190.5L177.2,190.7L176.9,191L176.1,190.6L176.2,191.4L175.9,191.6L174.6,190.4L173.4,189.4L173.3,189.8L174.2,192L173.4,191.4L173.9,192.8L173.6,193.1L173.6,193.1ZM172.5,193.8L172.5,193.8L172,193.7L170.4,191.7L170.8,193.2L170.4,193.2L169.6,192.6L170.2,194.5L170.1,195.1L169.7,195.3L169.4,195.4L169,195.6L168.7,195.8L168.3,196L167.6,195.3L166.3,193.5L166.8,195.3L166.9,196.6L166,195.5L165.7,195.8L165.8,197.1L165.5,197.2L164.5,195.9L164.1,195.8L164.3,197.5L163.2,195.7L163.3,196.9L163.2,197.9L162.5,197.1L162,196.9L161.9,197.6L161.5,197.7L161.4,198.7L161,198.8L160.5,198.5L159.6,196.9L159.7,198.2L159.5,199.2L159.2,199.3L158.8,199.4L158.4,199.5L158,199.6L157.6,199.7L157.3,199.8L156.9,199.9L156.3,198.9L155.9,199.2L155.7,200.2L155.3,200.2L154.7,198.8L153.9,196.8L154,199.6L153.8,200.5L153.4,200.6L153,200.6L152.6,200.7L152.3,200.8L151.9,200.8L151.5,200.9L151.5,200.9ZM150.2,201L150.2,201L149.8,201L149.4,201.1L149,201.1L148.6,201.1L148.3,201.2L147.7,198.4L147.4,199L147.1,200.6L146.7,201.3L146.3,201.3L145.9,200.3L145.5,198.7L145.1,200L144.7,198.7L144.4,199.3L144,201.3L143.6,200.9L143.2,200L142.8,200.9L142.4,200.6L142.1,198.1L141.7,198.9L141.2,200.7L141,198.2L140.6,199.3L140.1,199.8L139.7,201.1L139.3,201.1L138.9,201L138.5,201L138.1,200.9L137.7,200.9L137.3,200.8L137.1,199.8L136.7,199.6L136.4,199L136,199.5L135.4,200.6L135,200.5L134.6,200.4L134.5,198.6L134.1,199L133.9,197.9L133.4,198.6L132.7,200L132.3,200L131.9,199.9L131.6,199.6L131.3,199L130.8,199.6L130.4,199.5L130,199.4L129.7,199.3L129.3,199.2L128.9,199.1L128.9,199.1ZM127.7,198.7L127.7,198.7L127.3,198.6L126.9,198.5L126.6,198.3L126.2,198.2L126.1,197.2L125.5,197.7L125.1,197.8L124.7,197.7L124.3,197.5L124,197.4L123.6,197.2L123.3,197.1L122.9,196.9L122.5,196.8L122.8,195.3L122.5,194.9L121.5,196.2L121.4,195.5L122.1,193.2L121,194.5L120,195.7L119.7,195.5L119.3,195.3L119,195.1L118.8,194.6L119.7,192.2L118.9,192.9L117.6,194.4L117.9,193.1L117.1,193.6L118.1,191.1L117.6,191.2L116.4,192.7L116.2,192.3L116.2,191.5L115.1,192.6L114.6,192.6L114.3,192.4L114.2,191.8L115.2,189.5L115.4,188.6L113.5,190.7L112.6,191.3L112.3,191.1L112,190.8L113.1,188.6L111.9,189.7L112.6,188L111.1,189.5L110.4,189.7L110.1,189.4L109.8,189.2L109.8,189.2ZM108.8,188.4L108.8,188.4L108.5,188.1L108.2,187.9L107.9,187.6L108.8,186L109.4,184.7L107.5,186.3L107.8,185.4L107.3,185.4L106.5,185.6L107.1,184.5L107.9,183.1L105.9,184.6L105,184.9L104.8,184.7L105.4,183.5L105.6,182.8L104.4,183.4L103.7,183.5L103.4,183.2L103.1,183L102.9,182.7L102.6,182.4L102.4,182.1L102.1,181.8L101.8,181.5L101.6,181.2L101.3,180.9L101.1,180.6L100.9,180.3L101.1,179.6L101.8,178.5L100.2,179.3L100.4,178.6L99.9,178.5L101.5,176.9L99.3,178L99,177.8L98.7,177.4L98.7,177L99.7,175.8L99,175.9L98.4,175.8L98.6,175.2L98,175.1L97.2,175.1L97,174.8L97.1,174.3L97.4,173.6L96.7,173.6L96.4,173.8ZM95.8,172.7L95.8,172.7L95.6,172.3L95.4,172L95.2,171.6L95,171.3L94.8,170.9L94.9,170.4L96.1,169.4L94.7,169.7L94.9,169.1L97.2,167.6L95.1,168.2L93.6,168.4L93.5,168.1L93.3,167.7L93.7,167.1L95.9,165.8L94.6,165.9L93,166.1L93,165.7L94.7,164.6L92.3,165.1L92.1,164.8L92,164.4L92,163.9L93.9,162.9L91.9,163.1L91.5,162.9L91.4,162.5L91.6,162L93.1,161.2L92.5,160.9L91,160.9L92.7,160.1L92.3,159.8L92.9,159.2L92.1,159L92.8,158.5L90.9,158.5L90.2,158.3L90.1,157.9L90,157.5L89.9,157.1L90,156.7L90.9,156.1L90.7,155.8L89.7,156ZM89.5,154.7L89.5,154.7L89.4,154.3L89.3,153.9L90,153.4L90.6,152.9L91.6,152.4L90.1,152.2L89.1,151.9L91.1,151.3L91.3,150.9L89.5,150.7L92,150.1L89.6,149.9L89.2,149.5L90.1,149L89.1,148.7L88.8,148.3L88.8,147.9L88.7,147.5L88.7,147.1L88.7,146.7L88.7,146.3L88.7,145.9L88.8,145.5L90.5,145.1L90.2,144.7L89.1,144.3L88.7,143.9L89.3,143.5L90.4,143.2L90.3,142.8L89.1,142.3L89,141.9L90.2,141.6L89.1,141.1L88.9,140.7L88.9,140.3L89,139.9L89,139.5L89.1,139.1L89.1,138.7L89.2,138.3L89.2,138.3ZM89.3,137.1L89.3,137.1L90.7,136.9L91.3,136.6L91.8,136.3L90.2,135.6L89.8,135.1L91.1,135L90.6,134.5L89.9,134L90,133.6L90.1,133.2L90.2,132.8L90.9,132.6L92,132.4L91.3,131.9L93.1,131.9L90.7,130.9L91.5,130.7L93.4,130.8L91,129.7L91.1,129.4L91.2,129L91.3,128.6L91.4,128.2L91.6,127.8L91.7,127.5L91.8,127.1L92,126.7L92.4,126.5L92.9,126.2L92.7,125.7L94.8,126.1L94.4,125.6L95.3,125.5L93.6,124.4L93.1,123.8L93.3,123.4L94.1,123.4L95.4,123.5L93.9,122.4L93.9,122L93.9,122ZM94.5,120.8L94.5,120.8L94.6,120.5L94.8,120.1L95,119.7L95.2,119.4L96.6,119.7L96.9,119.4L95.8,118.3L96,118L96.2,117.7L97.9,118.2L98.9,118.3L97.3,116.9L97,116.3L97.4,116.1L98.5,116.3L97.6,115.3L99.3,115.9L99.2,115.4L98.3,114.3L98.6,114L99.9,114.4L100.5,114.4L99.5,113.2L101.7,114.3L100.1,112.6L99.9,112L100.1,111.7L100.8,111.7L102.9,112.8L102.2,111.8L101.1,110.4L101.4,110.1L101.6,109.8L101.9,109.5L102.9,109.9L103.9,110.2L102.9,108.8L103.4,108.7L102.9,108.3ZM103.8,107.3L103.8,107.3L104.1,107L104.3,106.8L104.6,106.5L104.9,106.2L105.5,106.2L107.4,107.6L106.4,106.1L108.6,107.7L107.2,105.7L107.3,105.3L107,104.4L108.1,105L108.6,105L108,103.7L108.1,103.2L108.8,103.4L110.2,104.5L109.8,103.4L109.3,102.2L109.6,101.9L109.9,101.7L110.3,101.4L110.7,101.4L111.7,102L111.9,101.6L111.6,100.6L111.9,100.2L113.1,101.3L113.6,101.4L114,101.3L113.2,99.3L114,99.8L115.4,101.3L114.2,98.7L114.5,98.5L114.8,98.2L115.2,98L115.5,97.8L115.5,97.8ZM116.6,97.2L116.6,97.2L116.9,97L117.4,97L118.6,98.3L118.8,98L118.4,96.4L119,96.7L120.1,98L120.1,97.1L119.9,95.8L120.2,95.6L121.2,96.7L121.3,96.1L121.5,95.5L121.5,94.7L121.9,94.5L122.5,95L123.3,95.8L123.1,94.3L123.3,93.9L123.7,93.7L124.2,93.8L125.8,97.1L125.1,94.1L125.4,93.8L125.5,93L125.9,92.9L126.3,92.8L126.6,92.6L127,92.5L127.6,92.9L128.3,93.8L128.2,92.3L128.5,92L128.9,91.9L129.3,91.8L129.8,92.3L130.8,94.4L130.5,91.8L130.4,91.5ZM131.7,91.2L131.7,91.2L132.1,91.1L132.5,91.3L133.2,92.5L134,94.4L133.9,91.9L134,90.7L134.4,90.6L134.8,90.5L135.2,90.5L135.7,90.8L136.5,93.2L136.5,91.2L136.8,90.2L137.3,91L138,92.9L138,90.4L138.4,90L138.8,90L139.2,90L139.6,89.9L140,90.4L140.5,90.8L140.8,90L141.2,89.8L141.6,89.8L142,89.8L142.5,91L142.9,91.6L143.3,91.7L143.6,92.1L144,90.1L144.4,89.7L144.4,89.7ZM145.7,89.7L145.7,89.7L146.1,89.7L146.5,89.7L146.9,89.8L147.3,89.8L147.7,89.8L148.1,89.8L148.5,89.8L148.9,89.9L149.3,89.9L149.7,89.9L149.9,91.5L150.2,92.8L150.5,93.5L151.1,91.3L151.6,90.4L151.5,93.9L152.4,90.3L152.8,90.3L153.2,90.4L153.6,90.5L154,90.5L154.4,90.6L154.8,90.7L155,91.6L154.9,94.2L155.6,92.5L155.8,93.4L156.5,92.3L156.4,94.3L157.4,91.7L157.5,91.2ZM158.8,91.6L158.8,91.6L159.2,91.7L159.5,91.9L159.5,93.2L160.2,92.4L160.3,93.3L160,95.6L161.3,92.8L161.7,92.7L161.8,93.7L162.2,93.8L161.7,96.4L162.7,94.5L163.7,93.1L164,93.2L164.4,93.4L164.8,93.5L165.1,93.7L165.5,93.8L165.9,94L166.2,94.1L166.6,94.3L166.9,94.4L167.1,95L166.7,96.8L167.5,96.1L168.4,95.1L168.7,95.2L169.1,95.4L169.4,95.6L169.4,95.6ZM170.6,96.2L170.6,96.2L170.7,96.7L170.4,98.1L171.6,96.7L172,96.9L172.3,97.1L172.7,97.3L173,97.5L173.4,97.8L173.7,98L173.9,98.4L173.2,100.3L173.9,99.9L173.9,100.6L175.4,99L175.7,99.3L176.1,99.5L176.2,99.9L175.3,102L176.7,100.7L177.3,100.5L176.5,102.3L176.1,103.4L178,101.6L177.5,102.9L178.5,102.2L179,101.6ZM180,102.4L180,102.4L180.3,102.7L180.6,103L180.9,103.2L181,103.8L180,105.5L181,105L182.1,104.3L182.4,104.6L182.6,105L182.4,105.8L182.8,105.9L183.6,105.8L183.3,106.6L184,106.4L184.5,106.6L184.4,107.3L183.2,108.9L184.1,108.6L185.6,107.8L185.9,108.1L185.7,108.7L185.6,109.4L186.4,108.7ZM187.3,109.6L186.4,110.3L186.8,110.6L186,111.7L187.4,111.1L188.3,110.9L188.1,111.6L187.8,112.3L189,111.9L189.3,112.2L189.5,112.5L189.8,112.9L190,113.2L190.2,113.6L189,114.9L188.1,116L190.4,114.9L191.1,115L189.5,116.5L189.3,117.1L190.7,116.7L191.2,116.8L192.2,116.7L192.3,116.6ZM192.9,117.8L191.8,118.4L191.4,119.1L191.3,119.6L191.9,119.7L193.6,119.2L193.9,119.5L194.1,119.9L194.3,120.2L194.4,120.6L194.6,121L193.5,121.9L194,122.2L195.1,122.1L195.3,122.4L195.5,122.8L195.6,123.2L195.8,123.5L195.8,123.5ZM196.3,124.7L194,125.6L195.2,125.6L196.5,125.5L196.7,125.9L196.9,126.2L197,126.6L197.1,127L197.3,127.4L197.2,127.8L196.2,128.6L195.8,129.1L197.1,129.1L197.9,129.3L196.1,130.3L195.3,130.9L197.8,130.6L198.3,130.9L198.5,131.3L198.5,131.3ZM198.8,132.5L197.5,132.8L196.6,133.4L198.9,133.3L197,134.1L197.1,134.5L199.2,134.5L199.3,134.9L199.1,135.3L197.3,136L196.9,136.5L199,136.5L199.6,136.8L199.7,137.2L199.7,137.6L199.7,137.6ZM199.9,138.9L199.9,138.9L200,139.3L199,139.8L199.3,140.1L199.5,140.5L197,141.1L199.6,141.3L199.6,141.7L196.8,142.3L199,142.5L199.6,142.9L200.3,143.2L200.3,143.6L200.3,144L200.3,144.4L200.3,144.4Z" fill="#8fae5c"/><path d="M186.1,145.6L185.9,145.6L184.5,145.9L184.9,146.2L186.1,146.5L186.1,146.8L186,147.1L182.5,147.2L185.9,147.6L184.9,147.9L184.3,148.1L184.5,148.4L182.9,148.6L185.6,149.1L184.5,149.3L184.2,149.5L184.9,149.9L185.8,150.3L185.6,150.5L184.9,150.7L184.9,151L185.1,151.3L185.6,151.7L185.6,152L185.5,152.3L185.5,152.6L185.4,152.9L185.4,153.1L185.3,153.4L185.3,153.7L185.2,154L185.2,154.3L185.1,154.6L185,154.9L185,155.1L184.9,155.4L184.8,155.7L184.3,155.9L183.8,156L184.3,156.5L183.7,156.6L181.4,156.2L184.3,157.4L184.3,157.7L184.2,158L184.1,158.2L184,158.5L183.9,158.8L183.8,159.1L183.7,159.3L182.9,159.4L182.6,159.5L183.1,160L183.3,160.4L183.2,160.7L182.5,160.7L181.8,160.8L182.2,161.2L180.2,160.7L182.7,162L182.6,162.3L182.4,162.6L182.2,162.8L180.3,162.2L181.6,163.2L181.9,163.6L180.7,163.3L179.8,163.2L180,163.7L179.7,163.8L181,164.8L181.1,165.2L181,165.5L180.9,165.7L180.9,165.7ZM180.4,166.5L180.4,166.5L180.2,166.8L180.1,167L179.5,167L178.3,166.6L178.8,167.3L179.4,168L179.3,168.3L178.1,167.8L176.9,167.4L177.6,168.2L178.2,169L178.5,169.5L178.3,169.7L176.1,168.5L176.8,169.3L177.2,170L176.8,170.1L175,169L176.3,170.4L176,170.5L176.7,171.4L176.7,171.8L175.8,171.4L176.2,172.2L176.2,172.5L176,172.7L175.8,172.9L175,172.7L173.4,171.6L174.2,172.7L174.9,173.8L174.8,174L174.6,174.2L173.9,173.9L172.2,172.7L173.8,174.6L173.8,175.1L173.6,175.3L173.3,175.5L173.1,175.7L172.9,175.9L172.7,176.1L172.5,176.3L172.3,176.5L172.1,176.7L171.2,176.1L170.9,176.2L171.4,177.2L170.5,176.6L170.7,177.3L170.7,177.8L170.2,177.7L169.3,177L169.5,177.7L169.1,177.7L168,176.6L168.8,178.2L168.8,178.6L168.9,179.2L168.6,179.3L167.6,178.4L166.5,177.3L167.4,179.1L167.7,180.1L166.6,179L166.5,179.3L166.9,180.5L166.2,179.9L166.4,180.7L166.2,181L166.2,181ZM165.4,181.5L165.4,181.5L165.1,181.6L164.9,181.8L164.2,181.1L163.6,180.7L163.6,181.2L162,178.8L163.1,181.7L163.1,182.2L161.4,179.5L161.9,181.1L162.2,182.3L162.2,183L162,183.2L161.7,183.4L161.5,183.5L161.2,183.6L160.9,183.7L160.7,183.8L160.4,183.9L160.1,184.1L159.9,184.2L158.9,182.6L158.8,182.9L159,184.5L158.8,184.6L158.5,184.7L157.8,183.6L156.7,181.1L157.2,183.6L157.3,184.9L156.7,183.7L156.2,183.3L156.4,184.9L156.3,185.4L155.9,185.1L155.3,184L155.2,184.7L154.9,184.9L154.2,183.2L154.6,185.9L154.3,185.9L154,186L153.5,185.3L153.2,185L153,185.3L152.7,185.3L152.4,185.4L152.3,186.2L152,186.4L151.7,186.5L151.4,186.5L151,185.8L150.8,186L150.6,186.7L150.3,186.7L149.8,185.3L149.5,185.5L149.7,186.8ZM148.8,186.9L148.8,186.9L148.5,186.9L148.2,186.9L147.9,187L147.6,187L147.2,185.8L146.9,185L146.7,187L146.4,186.4L146.1,186.1L145.8,184.3L145.5,184.9L145.3,187L145,187.1L144.7,187.1L144.4,187.1L144.1,187.1L143.8,187.1L143.5,187.1L143.2,187.1L143,186.1L142.8,183.4L142.4,185.5L142.1,187L141.8,187L141.5,187L141.2,187L140.9,186.9L140.6,186.5L140.4,185.9L140,186.8L139.7,186.8L139.5,186.4L139.4,185L139,185.9L138.8,185L138.3,186.5L138,186.5L138.1,184.4L137.8,184.3L137.6,183.6L137.2,184.7L136.6,185.9L136.6,184.6L136.3,184.5L135.7,186.2L135.4,186.1L135.1,186L134.8,186L134.7,185.3L134.8,183.8L134.1,185.3L133.7,185.7L133.4,185.6L133.2,185.5L132.9,185.4L132.9,185.4ZM132,185.2L132,184.9L131.9,184.4L131.4,184.9L131.2,184.7L131.5,182.9L131.1,183.3L131.1,182.4L130.4,183.6L129.7,184.4L129.6,183.9L129.5,183.5L129,183.9L128.7,184L128.4,183.9L128.1,183.7L127.9,183.6L127.6,183.5L127.3,183.4L127.1,183.3L126.8,183.1L126.5,183L126.4,182.5L126.8,181.2L126,182L125.7,182.1L125.9,181.1L125,182.2L124.7,182.1L124.5,182L124.4,181.5L124.9,180L125.4,178.6L123.9,180.6L124.2,179.4L123.5,180.2L122.7,180.9L122.9,180.1L124,177.8L122.6,179.4L121.7,180.3L121.5,180.1L121.6,179.4L122.4,177.8L121.4,178.7L120.5,179.5L120.8,178.6L120.1,179L119.8,179L119.6,178.8L119.3,178.6L119.1,178.4L118.9,178.3L118.6,178.1L118.6,178.1ZM117.9,177.5L120,174.9L118.3,176.6L117.4,177.1L117.2,176.9L117,176.7L116.8,176.5L116.6,176.3L116.3,176.1L117,175L117.9,173.6L117.5,173.6L116.7,174.1L115.3,175.1L115.1,174.8L116.3,173.3L115.4,173.8L114.5,174.2L115.6,172.8L116.8,171.3L114.7,172.9L113.7,173.4L113.5,173.2L113.3,173L113.1,172.8L112.9,172.5L112.7,172.3L112.5,172.1L112.3,171.9L112.1,171.6L112.4,171.1L113.3,170L111.6,170.9L111.8,170.4L112.2,169.8L111.1,170.2L110.9,170L110.7,169.8L110.6,169.5L110.4,169.3L110.8,168.6L111.7,167.7L109.9,168.6L109.7,168.3L109.8,167.9L110.2,167.3L109.9,167.2L109.4,167.2L108.9,167.1L108.8,166.8L108.6,166.6L108.6,166.6ZM108.2,165.8L108.2,165.8L108,165.5L107.9,165.2L108.3,164.7L110.9,163L108,164.2L109.4,163.1L108.7,163.2L107.5,163.4L108.7,162.6L107.7,162.7L106.7,162.8L106.6,162.6L106.5,162.3L106.3,162.1L106.2,161.8L106.4,161.4L108,160.4L106.4,160.8L105.9,160.6L107,159.9L105.7,160.1L105.5,159.9L105.4,159.6L105.5,159.2L107.1,158.3L105.3,158.7L105,158.5L104.9,158.2L104.8,157.9L104.7,157.6L104.6,157.3L105.4,156.8L105.4,156.5L105.9,156L107.1,155.4L105.9,155.5L105.5,155.3L107.5,154.5L105.1,154.8L103.9,154.7L103.9,154.5L103.9,154.2L105.6,153.5L104.7,153.4L103.6,153.3L103.6,153.3ZM103.5,152.4L103.9,152.3L105.9,151.7L104.5,151.6L103.3,151.5L104.7,151L104.5,150.7L103.2,150.6L103.2,150.3L103.1,150L103.1,149.7L103.1,149.4L103.1,149.1L103.3,148.8L104.1,148.4L104.4,148.1L104.1,147.8L104,147.6L103,147.3L102.9,147L102.9,146.7L103.6,146.4L103.6,146.1L102.9,145.8L102.9,145.5L102.9,145.2L102.9,144.9L103.3,144.6L105.5,144.4L103.8,144.1L104.2,143.8L103.7,143.5L103,143.1L103,142.8L103,142.5L103.6,142.3L104.8,142.1L103.7,141.7L105.8,141.6L104.8,141.2L103.2,140.8L103.2,140.5L103.2,140.2L103.2,140.2ZM103.4,139.2L103.4,139.2L103.4,138.9L103.5,138.6L104.7,138.5L104.4,138.2L103.6,137.8L104.5,137.6L104.8,137.4L103.8,136.9L103.9,136.6L104.1,136.3L106,136.5L105.3,136L104.1,135.5L104.2,135.2L104.3,134.9L104.8,134.7L106,134.8L104.7,134.1L104.6,133.7L104.7,133.5L104.8,133.2L105.6,133.1L105.8,132.9L106.2,132.7L105.9,132.3L107.1,132.4L107.8,132.4L105.9,131.4L105.5,130.9L105.6,130.7L105.8,130.4L106.4,130.4L106.5,130.1L108.6,130.6L107.1,129.7L106.3,129L106.8,128.9L108.5,129.4L110.3,129.9L107.6,128.3L106.8,128ZM107.2,127.1L107.2,127.1L107.3,126.8L108.2,126.9L108.4,126.7L107.7,126L107.9,125.8L108,125.5L108.2,125.2L108.3,125L108.5,124.7L108.6,124.5L108.9,124.3L111.5,125.5L112.2,125.6L110.5,124.3L109.9,123.5L109.9,123.2L109.7,122.7L109.9,122.5L110,122.2L110.2,122L110.9,122.1L111.4,122L110.9,121.4L112.3,122L111.5,121.1L111.4,120.6L112.6,121.2L113.1,121.2L114.4,121.8L112.5,120L112.2,119.3L112.6,119.3L114.2,120.2L113.1,119L112.9,118.4L113.1,118.2L113.3,118L113.5,117.7L113.5,117.7ZM114.2,117L115.8,118.6L115.2,117.6L114.8,116.9L115,116.6L115.6,116.8L115.4,116.2L115.4,115.8L115.6,115.6L115.8,115.4L116,115.2L116.3,115L116.5,114.8L119.1,117.3L117,114.5L117.1,114.2L117.4,114L117.6,113.8L117.8,113.6L118.1,113.5L119.1,114.2L118.8,113.4L118.7,112.8L119,112.7L119.2,112.5L119.4,112.3L119.8,112.3L120.5,112.8L120.2,111.9L121,112.5L120.7,111.5L122.4,113.5L121.2,111.2L121.9,111.7L123.5,113.6L122.5,111.6L123.7,113L122.8,111L123,110.7L123,110.1L122.9,110ZM123.7,109.5L124,109.9L125.3,111.7L125.1,110.8L124.5,109.1L124.7,108.9L125,108.8L125.2,108.6L125.6,108.6L126.1,109L126.3,108.7L126.3,108.1L126.6,108L126.8,107.8L127.1,107.7L127.4,107.6L127.6,107.5L127.9,107.4L128.8,108.8L129.9,110.6L130,110.2L129.3,107.7L129.3,106.8L129.5,106.7L129.8,106.6L130.1,106.5L131,108.1L131.2,107.8L130.9,106.2L131.4,106.8L132.2,108.3L131.9,106.5L132,105.8L132.3,105.7L132.6,105.6L132.9,105.6L133.2,105.5L133.4,105.4L133.7,105.3L134,105.2L134,105.2ZM134.9,105L134.9,105L135.2,104.9L135.9,106.8L136.4,107.3L136.2,105L136.6,105.7L137.2,107L137,104.6L137.3,104.5L137.6,104.5L137.9,104.4L138.2,104.4L138.5,104.3L138.8,104.4L139.2,105.4L139.5,105.1L139.7,104.3L140.1,105.7L140.5,106.5L140.6,104.3L140.9,104.2L141.2,105L141.5,104.1L141.7,104L142,104L142.3,104L142.6,103.9L142.9,103.9L143.2,103.9L143.5,104.4L143.8,104.6L144.2,105.8L144.4,104.5L144.4,103.9ZM145.4,103.9L145.4,103.9L145.7,103.9L146,103.9L146.3,103.9L146.6,104L146.9,104L147.2,104L147.5,104L147.7,104.3L148,104.9L148.2,105.9L148.4,106.5L148.9,105L149.2,104.7L149.4,105.5L149.8,104.7L150.1,104.3L150.4,104.3L150.7,104.4L151,104.7L150.9,106.9L151.2,106.9L151.8,104.8L152.2,104.7L152.2,106.1L152.2,107.7L152.9,105.3L153.4,104.9L153.6,104.9L153.9,105L154.2,105.1L154.2,105.1ZM155.2,105.3L155,105.7L154.7,108.2L155.4,106.6L156,105.5L156.3,105.6L156.6,105.7L156.8,105.9L156.8,106.8L157.3,106.2L157.7,106L157,108.8L157.9,107.2L158.5,106.3L158.3,107.7L158.4,108.3L159.3,106.8L159.6,106.7L159.8,107.1L159.7,108.2L160.1,107.8L160.7,107.2L160.7,108L160.2,109.8L161.2,108.1L161.6,108.1L162,107.8L161.9,108.8L161.9,109.4L162.8,108.2L163.1,108.3L163.1,108.3ZM163.9,108.7L163.9,108.7L164,109.2L164.2,109.6L164.7,109.2L164.8,109.6L163.8,112L164.8,110.7L164.8,111.4L165.9,110.1L166.2,110.1L165.7,111.6L166.7,110.5L167,110.5L167.3,110.7L167.5,110.9L167.8,111L168,111.2L168.3,111.4L167.6,112.8L168.1,112.6L169,111.9L169.3,112.1L169,112.9L167.8,115L168.4,114.6L169.1,114.2L170.2,112.8ZM170.9,113.4L170.6,113.8L170.2,114.8L169.4,116.2L170.5,115.4L171,115.2L170.3,116.4L171.8,115.1L172.6,114.8L172.8,115L173,115.2L173.2,115.4L173.4,115.6L173.7,115.8L173.7,116.2L171.5,118.9L174,116.8L174.5,116.7L174.7,116.9L174.9,117.1L175.1,117.4L175.3,117.6L174.5,118.7L174.8,118.9L175.7,118ZM176.4,118.8L176.4,118.8L176.6,119L176.8,119.2L177,119.5L177.1,119.7L177.3,120L176.5,121L176.3,121.5L177.9,120.7L178.1,120.9L177.9,121.4L176.2,123L177.8,122.2L178.8,121.9L179,122.2L178.6,122.8L176.8,124.3L178,123.9L179.6,123.3L178.8,124.1L178.5,124.6L179.8,124.2L180.1,124ZM180.6,124.8L180.4,124.9L180,125.5L177.6,127.1L180.4,126L179.4,126.8L180.9,126.3L181.5,126.4L181.6,126.7L181.7,126.9L181.9,127.2L181.9,127.5L181.5,128.1L181.5,128.4L182.3,128.3L182.5,128.6L182.6,128.8L182.7,129.1L182.7,129.1ZM183.1,130L182.4,130.3L182.1,130.7L183,130.7L181,131.8L182.3,131.6L183.6,131.4L183.7,131.7L183.8,132L183.9,132.3L184,132.6L184.1,132.9L184.2,133.1L184.3,133.4L184.3,133.8L183.3,134.3L183.2,134.7L184.3,134.7L184.7,134.9L184.7,134.9ZM185,135.8L185,135.8L185,136.1L184.7,136.5L182.6,137.2L184.2,137.2L185.3,137.3L184,137.8L182.1,138.5L184.4,138.3L184.5,138.6L185.5,138.7L185.6,139L183.9,139.6L183.5,139.9L185.7,139.6ZM185.8,140.6L185.8,140.6L185.8,140.9L185.9,141.2L185.6,141.5L184.5,141.9L185.2,142.1L186,142.3L186,142.6L185.2,143L183.1,143.4L185.3,143.6L186.1,143.8L185.8,144.1L183.9,144.5L184,144.7L186.1,144.7Z" fill="#4a98da"/><path d="M229.3,145.9A84.8,84.8 0 0 1 218.7,186.5M214.7,145.9A70.2,70.2 0 0 1 206,179.4M194.5,145.8A50,50 0 0 1 188.3,169.7M180.1,145.7A35.6,35.6 0 0 1 175.7,162.7M217.5,188.6A84.8,84.8 0 0 1 188.9,217.8M205,181.2A70.2,70.2 0 0 1 181.2,205.3M187.6,170.9A50,50 0 0 1 170.7,188.1M175.2,163.6A35.6,35.6 0 0 1 163.1,175.8M186.8,219A84.8,84.8 0 0 1 155.3,229.6M179.5,206.3A70.2,70.2 0 0 1 153.5,215.1M169.5,188.8A50,50 0 0 1 150.9,195.1M162.3,176.3A35.6,35.6 0 0 1 149,180.8M153,229.9A84.8,84.8 0 0 1 121,227M151.5,215.4A70.2,70.2 0 0 1 125.1,213M149.5,195.3A50,50 0 0 1 130.6,193.5M148,180.9A35.6,35.6 0 0 1 134.6,179.7M118.7,226.3A84.8,84.8 0 0 1 91.9,212M123.2,212.4A70.2,70.2 0 0 1 101,200.6M129.3,193.1A50,50 0 0 1 113.5,184.7M133.7,179.4A35.6,35.6 0 0 1 122.4,173.4M90.1,210.5A84.8,84.8 0 0 1 71.5,188.7M99.4,199.3A70.2,70.2 0 0 1 84.1,181.3M112.4,183.8A50,50 0 0 1 101.5,171M121.7,172.8A35.6,35.6 0 0 1 113.9,163.6M70.3,186.6A84.8,84.8 0 0 1 61.2,161.6M83.1,179.5A70.2,70.2 0 0 1 75.6,158.8M100.8,169.7A50,50 0 0 1 95.4,155M113.4,162.8A35.6,35.6 0 0 1 109.5,152.3M60.8,159.3A84.8,84.8 0 0 1 60.4,134.8M75.2,156.9A70.2,70.2 0 0 1 74.9,136.7M95.2,153.6A50,50 0 0 1 94.9,139.2M109.4,151.3A35.6,35.6 0 0 1 109.2,141M60.7,132.5A84.8,84.8 0 0 1 67.5,109.9M75.1,134.7A70.2,70.2 0 0 1 80.8,116.1M95.1,137.8A50,50 0 0 1 99.1,124.5M109.3,140A35.6,35.6 0 0 1 112.2,130.6M68.6,107.8A84.8,84.8 0 0 1 81.2,89.1M81.6,114.3A70.2,70.2 0 0 1 92.1,98.8M99.7,123.3A50,50 0 0 1 107.2,112.2M112.6,129.7A35.6,35.6 0 0 1 117.9,121.8M82.8,87.3A84.8,84.8 0 0 1 100.2,73.2M93.4,97.3A70.2,70.2 0 0 1 107.9,85.6M108.1,111.2A50,50 0 0 1 118.4,102.9M118.6,121.1A35.6,35.6 0 0 1 125.9,115.1M102.3,71.9A84.8,84.8 0 0 1 122.9,63.5M109.6,84.6A70.2,70.2 0 0 1 126.6,77.6M119.6,102.1A50,50 0 0 1 131.8,97.1M126.8,114.6A35.6,35.6 0 0 1 135.4,111.1M125.2,62.9A84.8,84.8 0 0 1 144.1,60.7M128.5,77.1A70.2,70.2 0 0 1 144.2,75.3M133.1,96.8A50,50 0 0 1 144.3,95.5M136.4,110.8A35.6,35.6 0 0 1 144.4,109.9M146.5,60.7A84.8,84.8 0 0 1 164.1,63M146.2,75.3A70.2,70.2 0 0 1 160.7,77.2M145.7,95.5A50,50 0 0 1 156.1,96.9M145.4,109.9A35.6,35.6 0 0 1 152.7,110.9M166.4,63.6A84.8,84.8 0 0 1 182.2,69.5M162.6,77.7A70.2,70.2 0 0 1 175.7,82.6M157.4,97.2A50,50 0 0 1 166.7,100.7M153.7,111.1A35.6,35.6 0 0 1 160.3,113.6M184.3,70.6A84.8,84.8 0 0 1 196.7,78.7M177.5,83.5A70.2,70.2 0 0 1 187.7,90.2M168,101.4A50,50 0 0 1 175.3,106.1M161.2,114.1A35.6,35.6 0 0 1 166.4,117.4M198.6,80.2A84.8,84.8 0 0 1 208.1,89.4M189.3,91.4A70.2,70.2 0 0 1 197.1,99M176.4,107A50,50 0 0 1 182,112.4M167.2,118.1A35.6,35.6 0 0 1 171.2,121.9M209.6,91.2A84.8,84.8 0 0 1 217,101.5M198.4,100.5A70.2,70.2 0 0 1 204.5,109M182.9,113.5A50,50 0 0 1 187.2,119.5M171.8,122.7A35.6,35.6 0 0 1 174.9,127M218.2,103.5A84.8,84.8 0 0 1 222.4,111.9M205.5,110.8A70.2,70.2 0 0 1 209,117.7M187.9,120.8A50,50 0 0 1 190.4,125.7M175.4,127.9A35.6,35.6 0 0 1 177.2,131.4M223.3,114.1A84.8,84.8 0 0 1 226.4,123.6M209.7,119.5A70.2,70.2 0 0 1 212.3,127.4M191,127A50,50 0 0 1 192.8,132.6M177.6,132.3A35.6,35.6 0 0 1 178.9,136.3M227,126A84.8,84.8 0 0 1 228.4,133.3M212.8,129.3A70.2,70.2 0 0 1 214,135.4M193.2,134A50,50 0 0 1 194,138.3M179.1,137.3A35.6,35.6 0 0 1 179.7,140.4M228.7,135.7A84.8,84.8 0 0 1 229.3,143.7M214.2,137.4A70.2,70.2 0 0 1 214.7,144M194.2,139.7A50,50 0 0 1 194.5,144.4M179.9,141.4A35.6,35.6 0 0 1 180.1,144.7" fill="none" stroke="#c8305a" stroke-width="0.9" stroke-dasharray="2 1.3"/><path d="M254.8,145.5A110.2,110.2 0 0 1 254.7,146.4L251.4,146.4A106.9,106.9 0 0 0 251.4,145.5ZM254.3,155.7A110.2,110.2 0 0 1 254.2,156.3L250.9,155.9A106.9,106.9 0 0 0 250.9,155.4ZM254,158.3A110.2,110.2 0 0 1 253.9,158.8L250.6,158.4A106.9,106.9 0 0 0 250.7,158ZM253.8,159.6A110.2,110.2 0 0 1 253.8,160.2L250.4,159.8A106.9,106.9 0 0 0 250.5,159.2ZM253.8,160.2A110.2,110.2 0 0 1 253.7,160.7L250.4,160.2A106.9,106.9 0 0 0 250.4,159.8ZM253.7,160.7A110.2,110.2 0 0 1 253.5,161.9L250.2,161.4A106.9,106.9 0 0 0 250.4,160.2ZM252.7,166.6A110.2,110.2 0 0 1 252.6,167.1L249.3,166.5A106.9,106.9 0 0 0 249.4,166ZM252.4,168.2A110.2,110.2 0 0 1 252.2,169.1L248.9,168.3A106.9,106.9 0 0 0 249.1,167.5ZM252,169.9A110.2,110.2 0 0 1 251.9,170.2L248.7,169.5A106.9,106.9 0 0 0 248.8,169.2ZM251.9,170.2A110.2,110.2 0 0 1 251.8,170.8L248.6,170A106.9,106.9 0 0 0 248.7,169.5ZM251.7,171.3A110.2,110.2 0 0 1 251.5,172.1L248.3,171.3A106.9,106.9 0 0 0 248.4,170.5ZM251.1,173.6A110.2,110.2 0 0 1 251,174.1L247.7,173.3A106.9,106.9 0 0 0 247.9,172.8ZM249.6,178.7A110.2,110.2 0 0 1 249.4,179.3L246.2,178.3A106.9,106.9 0 0 0 246.4,177.7ZM248,183.4A110.2,110.2 0 0 1 247.8,184L244.7,182.8A106.9,106.9 0 0 0 244.9,182.3ZM247.5,184.9A110.2,110.2 0 0 1 247.1,185.8L244,184.6A106.9,106.9 0 0 0 244.3,183.7ZM246,188.5A110.2,110.2 0 0 1 245.6,189.5L242.5,188.2A106.9,106.9 0 0 0 242.9,187.2ZM242.9,195.2A110.2,110.2 0 0 1 242.7,195.7L239.7,194.1A106.9,106.9 0 0 0 239.9,193.7ZM242.7,195.7A110.2,110.2 0 0 1 242.5,196.1L239.5,194.5A106.9,106.9 0 0 0 239.7,194.1ZM238.6,202.9A110.2,110.2 0 0 1 238.3,203.4L235.5,201.6A106.9,106.9 0 0 0 235.8,201.1ZM236.4,206.3A110.2,110.2 0 0 1 236,207L233.2,205.1A106.9,106.9 0 0 0 233.6,204.5ZM233,211.3A110.2,110.2 0 0 1 232.4,212.1L229.7,210.1A106.9,106.9 0 0 0 230.3,209.3ZM232.4,212.1A110.2,110.2 0 0 1 232.1,212.4L229.4,210.4A106.9,106.9 0 0 0 229.7,210.1ZM231.7,213A110.2,110.2 0 0 1 231.5,213.2L228.8,211.2A106.9,106.9 0 0 0 229.1,210.9ZM231,213.8A110.2,110.2 0 0 1 230.3,214.8L227.6,212.7A106.9,106.9 0 0 0 228.4,211.8ZM228.4,217.1A110.2,110.2 0 0 1 227.6,217.9L225.1,215.7A106.9,106.9 0 0 0 225.8,214.9ZM222.6,223.3A110.2,110.2 0 0 1 221.9,224L219.5,221.7A106.9,106.9 0 0 0 220.2,221ZM217.8,227.9A110.2,110.2 0 0 1 217.4,228.2L215.2,225.7A106.9,106.9 0 0 0 215.6,225.4ZM215.4,230A110.2,110.2 0 0 1 214.5,230.7L212.4,228.1A106.9,106.9 0 0 0 213.2,227.4ZM213.8,231.3A110.2,110.2 0 0 1 213,231.9L210.9,229.3A106.9,106.9 0 0 0 211.7,228.7ZM212,232.7A110.2,110.2 0 0 1 211.4,233.1L209.4,230.5A106.9,106.9 0 0 0 210,230ZM207.6,235.9A110.2,110.2 0 0 1 206.8,236.4L204.9,233.7A106.9,106.9 0 0 0 205.7,233.2ZM205.1,237.6A110.2,110.2 0 0 1 204.6,238L202.7,235.1A106.9,106.9 0 0 0 203.2,234.8ZM203.5,238.6A110.2,110.2 0 0 1 202.8,239.1L201,236.2A106.9,106.9 0 0 0 201.8,235.8ZM198.4,241.7A110.2,110.2 0 0 1 197.6,242.1L196,239.2A106.9,106.9 0 0 0 196.8,238.7ZM197.6,242.1A110.2,110.2 0 0 1 197.3,242.3L195.7,239.3A106.9,106.9 0 0 0 196,239.2ZM195.5,243.3A110.2,110.2 0 0 1 194.6,243.7L193.1,240.7A106.9,106.9 0 0 0 193.9,240.3ZM194.6,243.7A110.2,110.2 0 0 1 194.3,243.9L192.8,240.9A106.9,106.9 0 0 0 193.1,240.7ZM191.6,245.2A110.2,110.2 0 0 1 190.8,245.5L189.4,242.5A106.9,106.9 0 0 0 190.1,242.2ZM189.9,246A110.2,110.2 0 0 1 189.5,246.2L188.1,243.1A106.9,106.9 0 0 0 188.5,242.9ZM185,248A110.2,110.2 0 0 1 184.3,248.3L183.1,245.2A106.9,106.9 0 0 0 183.8,244.9ZM183.1,248.8A110.2,110.2 0 0 1 182,249.2L180.8,246A106.9,106.9 0 0 0 182,245.6ZM181.1,249.5A110.2,110.2 0 0 1 180.6,249.7L179.5,246.5A106.9,106.9 0 0 0 180,246.3ZM175,251.5A110.2,110.2 0 0 1 174.5,251.6L173.6,248.4A106.9,106.9 0 0 0 174,248.2ZM172.2,252.2A110.2,110.2 0 0 1 171.5,252.4L170.7,249.1A106.9,106.9 0 0 0 171.3,249ZM163.7,254.1A110.2,110.2 0 0 1 162.7,254.2L162.2,250.9A106.9,106.9 0 0 0 163.1,250.8ZM156.1,255.1A110.2,110.2 0 0 1 154.9,255.3L154.6,251.9A106.9,106.9 0 0 0 155.7,251.8ZM153.4,255.4A110.2,110.2 0 0 1 152.5,255.5L152.2,252.1A106.9,106.9 0 0 0 153.1,252.1ZM148.8,255.7A110.2,110.2 0 0 1 147.9,255.7L147.8,252.3A106.9,106.9 0 0 0 148.7,252.3ZM145.8,255.7A110.2,110.2 0 0 1 145.1,255.7L145.1,252.4A106.9,106.9 0 0 0 145.8,252.4ZM145.1,255.7A110.2,110.2 0 0 1 145.1,255.7L145.1,252.4A106.9,106.9 0 0 0 145.1,252.4ZM143,255.7A110.2,110.2 0 0 1 142.2,255.7L142.3,252.4A106.9,106.9 0 0 0 143,252.4ZM137.9,255.6A110.2,110.2 0 0 1 137,255.5L137.2,252.2A106.9,106.9 0 0 0 138.1,252.2ZM137,255.5A110.2,110.2 0 0 1 135.9,255.4L136.1,252.1A106.9,106.9 0 0 0 137.2,252.2ZM135,255.3A110.2,110.2 0 0 1 133.9,255.2L134.2,251.9A106.9,106.9 0 0 0 135.3,252ZM133.3,255.2A110.2,110.2 0 0 1 132.1,255L132.5,251.7A106.9,106.9 0 0 0 133.6,251.8ZM132.1,255A110.2,110.2 0 0 1 131.5,255L131.9,251.7A106.9,106.9 0 0 0 132.5,251.7ZM128.5,254.6A110.2,110.2 0 0 1 127.4,254.4L128,251.1A106.9,106.9 0 0 0 129,251.3ZM123.8,253.8A110.2,110.2 0 0 1 122.9,253.6L123.6,250.3A106.9,106.9 0 0 0 124.4,250.5ZM121.5,253.3A110.2,110.2 0 0 1 120.9,253.2L121.6,249.9A106.9,106.9 0 0 0 122.2,250.1ZM119.9,253A110.2,110.2 0 0 1 119,252.8L119.8,249.5A106.9,106.9 0 0 0 120.6,249.7ZM118.6,252.7A110.2,110.2 0 0 1 117.9,252.5L118.7,249.2A106.9,106.9 0 0 0 119.3,249.4ZM116.7,252.2A110.2,110.2 0 0 1 116.3,252.1L117.2,248.9A106.9,106.9 0 0 0 117.6,249ZM116,252A110.2,110.2 0 0 1 115.4,251.8L116.3,248.6A106.9,106.9 0 0 0 116.9,248.8ZM111,250.5A110.2,110.2 0 0 1 109.8,250.2L110.9,247A106.9,106.9 0 0 0 112,247.3ZM107.4,249.3A110.2,110.2 0 0 1 107,249.2L108.2,246A106.9,106.9 0 0 0 108.5,246.2ZM96.6,244.8A110.2,110.2 0 0 1 95.9,244.5L97.4,241.5A106.9,106.9 0 0 0 98,241.8ZM95,244A110.2,110.2 0 0 1 94.1,243.6L95.6,240.6A106.9,106.9 0 0 0 96.5,241ZM94.1,243.6A110.2,110.2 0 0 1 93.2,243.1L94.7,240.1A106.9,106.9 0 0 0 95.6,240.6ZM93.2,243.1A110.2,110.2 0 0 1 92.9,242.9L94.4,240A106.9,106.9 0 0 0 94.7,240.1ZM92.9,242.9A110.2,110.2 0 0 1 91.9,242.4L93.5,239.4A106.9,106.9 0 0 0 94.4,240ZM90.4,241.6A110.2,110.2 0 0 1 89.4,241L91.1,238.1A106.9,106.9 0 0 0 92,238.6ZM89.4,241A110.2,110.2 0 0 1 88.7,240.6L90.4,237.7A106.9,106.9 0 0 0 91.1,238.1ZM87.9,240.1A110.2,110.2 0 0 1 87.2,239.7L88.9,236.8A106.9,106.9 0 0 0 89.6,237.2ZM84.9,238.2A110.2,110.2 0 0 1 84.3,237.9L86.2,235.1A106.9,106.9 0 0 0 86.7,235.4ZM84.3,237.9A110.2,110.2 0 0 1 83.3,237.2L85.2,234.4A106.9,106.9 0 0 0 86.2,235.1ZM82.5,236.7A110.2,110.2 0 0 1 81.6,236.1L83.5,233.3A106.9,106.9 0 0 0 84.4,233.9ZM81.6,236.1A110.2,110.2 0 0 1 80.8,235.5L82.7,232.7A106.9,106.9 0 0 0 83.5,233.3ZM80,234.9A110.2,110.2 0 0 1 79.2,234.4L81.2,231.7A106.9,106.9 0 0 0 81.9,232.2ZM79.2,234.4A110.2,110.2 0 0 1 78.8,234L80.8,231.3A106.9,106.9 0 0 0 81.2,231.7ZM78.8,234A110.2,110.2 0 0 1 78.3,233.6L80.3,231A106.9,106.9 0 0 0 80.8,231.3ZM78.3,233.6A110.2,110.2 0 0 1 77.4,233L79.4,230.3A106.9,106.9 0 0 0 80.3,231ZM71.5,228.1A110.2,110.2 0 0 1 70.7,227.4L72.9,224.9A106.9,106.9 0 0 0 73.7,225.6ZM70.7,227.4A110.2,110.2 0 0 1 69.8,226.6L72.1,224.1A106.9,106.9 0 0 0 72.9,224.9ZM69,225.8A110.2,110.2 0 0 1 68.7,225.5L71,223.1A106.9,106.9 0 0 0 71.3,223.4ZM67,223.9A110.2,110.2 0 0 1 66.6,223.5L69,221.1A106.9,106.9 0 0 0 69.3,221.5ZM66.6,223.5A110.2,110.2 0 0 1 65.7,222.7L68.1,220.3A106.9,106.9 0 0 0 69,221.1ZM65.7,222.7A110.2,110.2 0 0 1 65.2,222.1L67.7,219.8A106.9,106.9 0 0 0 68.1,220.3ZM64.1,220.9A110.2,110.2 0 0 1 63.6,220.4L66.1,218.2A106.9,106.9 0 0 0 66.5,218.7ZM61.4,218A110.2,110.2 0 0 1 61.2,217.7L63.7,215.5A106.9,106.9 0 0 0 64,215.8ZM58,213.8A110.2,110.2 0 0 1 57.7,213.4L60.3,211.4A106.9,106.9 0 0 0 60.6,211.8ZM56.6,212A110.2,110.2 0 0 1 55.9,211.2L58.6,209.2A106.9,106.9 0 0 0 59.3,210ZM55.1,210A110.2,110.2 0 0 1 54.6,209.3L57.3,207.3A106.9,106.9 0 0 0 57.8,208ZM53.2,207.3A110.2,110.2 0 0 1 52.9,206.8L55.7,205A106.9,106.9 0 0 0 56,205.4ZM52.6,206.3A110.2,110.2 0 0 1 52.1,205.6L54.9,203.8A106.9,106.9 0 0 0 55.3,204.5ZM52.1,205.6A110.2,110.2 0 0 1 51.6,204.8L54.4,203A106.9,106.9 0 0 0 54.9,203.8ZM50.2,202.6A110.2,110.2 0 0 1 49.9,202.1L52.8,200.4A106.9,106.9 0 0 0 53,200.8ZM49.9,202.1A110.2,110.2 0 0 1 49.5,201.4L52.4,199.7A106.9,106.9 0 0 0 52.8,200.4ZM47.2,197.3A110.2,110.2 0 0 1 46.6,196.3L49.6,194.7A106.9,106.9 0 0 0 50.1,195.7ZM45.9,194.8A110.2,110.2 0 0 1 45.5,194.1L48.5,192.6A106.9,106.9 0 0 0 48.9,193.3ZM42.6,187.6A110.2,110.2 0 0 1 42.5,187.4L45.6,186.1A106.9,106.9 0 0 0 45.7,186.3ZM41,183.5A110.2,110.2 0 0 1 40.8,182.8L43.9,181.7A106.9,106.9 0 0 0 44.1,182.3ZM40.2,181.2A110.2,110.2 0 0 1 39.9,180.3L43.1,179.2A106.9,106.9 0 0 0 43.4,180.1ZM39.6,179.4A110.2,110.2 0 0 1 39.4,178.9L42.6,177.9A106.9,106.9 0 0 0 42.8,178.4ZM38,174.1A110.2,110.2 0 0 1 37.9,173.5L41.1,172.7A106.9,106.9 0 0 0 41.3,173.3ZM37.9,173.5A110.2,110.2 0 0 1 37.6,172.6L40.9,171.8A106.9,106.9 0 0 0 41.1,172.7ZM37.6,172.6A110.2,110.2 0 0 1 37.5,171.9L40.7,171.1A106.9,106.9 0 0 0 40.9,171.8ZM36.8,169.1A110.2,110.2 0 0 1 36.7,168.6L40,167.9A106.9,106.9 0 0 0 40.1,168.4ZM35.5,162.1A110.2,110.2 0 0 1 35.3,160.9L38.6,160.4A106.9,106.9 0 0 0 38.8,161.6ZM34.8,156.6A110.2,110.2 0 0 1 34.8,156.1L38.1,155.8A106.9,106.9 0 0 0 38.1,156.2ZM34.7,155A110.2,110.2 0 0 1 34.6,154.6L38,154.3A106.9,106.9 0 0 0 38,154.8ZM34.3,147.9A110.2,110.2 0 0 1 34.3,146.8L37.6,146.7A106.9,106.9 0 0 0 37.6,147.8ZM34.3,144.8A110.2,110.2 0 0 1 34.3,144L37.6,144.1A106.9,106.9 0 0 0 37.6,144.8ZM34.5,138.7A110.2,110.2 0 0 1 34.5,137.9L37.9,138.1A106.9,106.9 0 0 0 37.8,138.9ZM34.7,135.3A110.2,110.2 0 0 1 34.8,134.1L38.2,134.4A106.9,106.9 0 0 0 38.1,135.6ZM35.9,126.4A110.2,110.2 0 0 1 36.1,125.6L39.3,126.3A106.9,106.9 0 0 0 39.2,126.9ZM36.1,125.6A110.2,110.2 0 0 1 36.1,125.2L39.4,125.9A106.9,106.9 0 0 0 39.3,126.3ZM37.4,119.3A110.2,110.2 0 0 1 37.5,118.9L40.8,119.7A106.9,106.9 0 0 0 40.7,120.1ZM37.8,117.9A110.2,110.2 0 0 1 37.9,117.2L41.2,118.1A106.9,106.9 0 0 0 41,118.7ZM38.1,116.7A110.2,110.2 0 0 1 38.3,115.8L41.6,116.7A106.9,106.9 0 0 0 41.3,117.5ZM38.3,115.8A110.2,110.2 0 0 1 38.6,114.9L41.8,115.9A106.9,106.9 0 0 0 41.6,116.7ZM38.6,114.9A110.2,110.2 0 0 1 38.7,114.4L42,115.3A106.9,106.9 0 0 0 41.8,115.9ZM38.7,114.4A110.2,110.2 0 0 1 39,113.3L42.2,114.3A106.9,106.9 0 0 0 42,115.3ZM39.7,111.3A110.2,110.2 0 0 1 40,110.4L43.2,111.4A106.9,106.9 0 0 0 42.9,112.3ZM41.9,105.2A110.2,110.2 0 0 1 42.1,104.7L45.2,106A106.9,106.9 0 0 0 45,106.4ZM42.3,104.1A110.2,110.2 0 0 1 42.5,103.6L45.6,104.9A106.9,106.9 0 0 0 45.4,105.3ZM46.5,95.1A110.2,110.2 0 0 1 47,94.1L49.9,95.7A106.9,106.9 0 0 0 49.4,96.6ZM47,94.1A110.2,110.2 0 0 1 47.5,93.1L50.4,94.7A106.9,106.9 0 0 0 49.9,95.7ZM47.5,93.1A110.2,110.2 0 0 1 47.8,92.5L50.8,94.1A106.9,106.9 0 0 0 50.4,94.7ZM48.2,91.7A110.2,110.2 0 0 1 48.6,91L51.5,92.7A106.9,106.9 0 0 0 51.2,93.4ZM49.1,90.2A110.2,110.2 0 0 1 49.5,89.6L52.4,91.3A106.9,106.9 0 0 0 52,91.9ZM49.9,88.9A110.2,110.2 0 0 1 50.4,88.1L53.2,89.9A106.9,106.9 0 0 0 52.8,90.6ZM50.6,87.7A110.2,110.2 0 0 1 51,87.1L53.8,88.9A106.9,106.9 0 0 0 53.4,89.5ZM51,87.1A110.2,110.2 0 0 1 51.2,86.7L54.1,88.5A106.9,106.9 0 0 0 53.8,88.9ZM51.6,86.2A110.2,110.2 0 0 1 52.1,85.3L54.9,87.2A106.9,106.9 0 0 0 54.4,88ZM52.1,85.3A110.2,110.2 0 0 1 52.7,84.5L55.5,86.3A106.9,106.9 0 0 0 54.9,87.2ZM52.7,84.5A110.2,110.2 0 0 1 53.1,83.8L55.9,85.7A106.9,106.9 0 0 0 55.5,86.3ZM53.1,83.8A110.2,110.2 0 0 1 53.6,83.1L56.3,85A106.9,106.9 0 0 0 55.9,85.7ZM54.6,81.7A110.2,110.2 0 0 1 55.2,80.9L57.9,82.8A106.9,106.9 0 0 0 57.3,83.7ZM56.1,79.6A110.2,110.2 0 0 1 56.7,78.8L59.4,80.8A106.9,106.9 0 0 0 58.8,81.6ZM60.4,74.2A110.2,110.2 0 0 1 60.6,74L63.2,76.1A106.9,106.9 0 0 0 62.9,76.4ZM61.8,72.6A110.2,110.2 0 0 1 62.3,72.1L64.8,74.3A106.9,106.9 0 0 0 64.3,74.8ZM63.9,70.3A110.2,110.2 0 0 1 64.2,69.9L66.7,72.2A106.9,106.9 0 0 0 66.3,72.6ZM65.3,68.8A110.2,110.2 0 0 1 66.1,68L68.5,70.4A106.9,106.9 0 0 0 67.7,71.1ZM71.2,63.1A110.2,110.2 0 0 1 72.1,62.3L74.3,64.9A106.9,106.9 0 0 0 73.5,65.6ZM72.1,62.3A110.2,110.2 0 0 1 72.3,62.2L74.5,64.7A106.9,106.9 0 0 0 74.3,64.9ZM77.3,58.1A110.2,110.2 0 0 1 77.8,57.8L79.8,60.4A106.9,106.9 0 0 0 79.4,60.7ZM77.8,57.8A110.2,110.2 0 0 1 78.5,57.2L80.5,59.9A106.9,106.9 0 0 0 79.8,60.4ZM79.4,56.5A110.2,110.2 0 0 1 79.8,56.2L81.8,58.9A106.9,106.9 0 0 0 81.3,59.3ZM80.6,55.6A110.2,110.2 0 0 1 81,55.4L82.9,58.1A106.9,106.9 0 0 0 82.6,58.4ZM81,55.4A110.2,110.2 0 0 1 81.5,55L83.4,57.8A106.9,106.9 0 0 0 82.9,58.1ZM81.5,55A110.2,110.2 0 0 1 81.9,54.8L83.8,57.5A106.9,106.9 0 0 0 83.4,57.8ZM85.8,52.2A110.2,110.2 0 0 1 86.3,51.9L88,54.7A106.9,106.9 0 0 0 87.6,55ZM86.7,51.6A110.2,110.2 0 0 1 87.4,51.2L89.2,54A106.9,106.9 0 0 0 88.5,54.4ZM89.1,50.2A110.2,110.2 0 0 1 89.8,49.8L91.5,52.7A106.9,106.9 0 0 0 90.8,53.1ZM90.8,49.2A110.2,110.2 0 0 1 91.5,48.9L93.1,51.8A106.9,106.9 0 0 0 92.4,52.1ZM91.5,48.9A110.2,110.2 0 0 1 92.2,48.4L93.8,51.4A106.9,106.9 0 0 0 93.1,51.8ZM92.2,48.4A110.2,110.2 0 0 1 93.2,47.9L94.8,50.9A106.9,106.9 0 0 0 93.8,51.4ZM95.2,46.9A110.2,110.2 0 0 1 96.3,46.3L97.8,49.3A106.9,106.9 0 0 0 96.7,49.9ZM98.9,45.1A110.2,110.2 0 0 1 99.6,44.8L100.9,47.9A106.9,106.9 0 0 0 100.3,48.2ZM101,44.2A110.2,110.2 0 0 1 101.4,44L102.7,47.1A106.9,106.9 0 0 0 102.3,47.3ZM102.1,43.7A110.2,110.2 0 0 1 102.7,43.5L103.9,46.6A106.9,106.9 0 0 0 103.4,46.8ZM103.8,43.1A110.2,110.2 0 0 1 104.6,42.7L105.8,45.9A106.9,106.9 0 0 0 105,46.2ZM105.4,42.4A110.2,110.2 0 0 1 106.3,42.1L107.5,45.2A106.9,106.9 0 0 0 106.6,45.6ZM108.5,41.3A110.2,110.2 0 0 1 109.4,41L110.4,44.2A106.9,106.9 0 0 0 109.6,44.5ZM112.8,39.9A110.2,110.2 0 0 1 113.7,39.6L114.6,42.9A106.9,106.9 0 0 0 113.7,43.1ZM114.3,39.5A110.2,110.2 0 0 1 114.9,39.3L115.8,42.5A106.9,106.9 0 0 0 115.2,42.7ZM119.8,38.1A110.2,110.2 0 0 1 120.6,37.9L121.3,41.1A106.9,106.9 0 0 0 120.6,41.3ZM120.6,37.9A110.2,110.2 0 0 1 121.6,37.7L122.3,40.9A106.9,106.9 0 0 0 121.3,41.1ZM123,37.4A110.2,110.2 0 0 1 124.1,37.2L124.7,40.5A106.9,106.9 0 0 0 123.7,40.6ZM124.1,37.2A110.2,110.2 0 0 1 124.5,37.1L125.1,40.4A106.9,106.9 0 0 0 124.7,40.5ZM124.5,37.1A110.2,110.2 0 0 1 125.5,36.9L126.1,40.2A106.9,106.9 0 0 0 125.1,40.4ZM127.5,36.6A110.2,110.2 0 0 1 128.4,36.4L128.9,39.7A106.9,106.9 0 0 0 128,39.9ZM129.5,36.3A110.2,110.2 0 0 1 130.3,36.2L130.7,39.5A106.9,106.9 0 0 0 129.9,39.6ZM130.3,36.2A110.2,110.2 0 0 1 131.3,36L131.7,39.4A106.9,106.9 0 0 0 130.7,39.5ZM131.3,36A110.2,110.2 0 0 1 132.4,35.9L132.8,39.2A106.9,106.9 0 0 0 131.7,39.4ZM134.3,35.7A110.2,110.2 0 0 1 135.1,35.7L135.3,39A106.9,106.9 0 0 0 134.6,39.1ZM137.2,35.5A110.2,110.2 0 0 1 137.6,35.5L137.8,38.8A106.9,106.9 0 0 0 137.4,38.8ZM137.6,35.5A110.2,110.2 0 0 1 138,35.4L138.2,38.8A106.9,106.9 0 0 0 137.8,38.8ZM140,35.3A110.2,110.2 0 0 1 140.5,35.3L140.6,38.7A106.9,106.9 0 0 0 140.2,38.7ZM140.5,35.3A110.2,110.2 0 0 1 140.9,35.3L141,38.7A106.9,106.9 0 0 0 140.6,38.7ZM140.9,35.3A110.2,110.2 0 0 1 142,35.3L142.1,38.6A106.9,106.9 0 0 0 141,38.7ZM142,35.3A110.2,110.2 0 0 1 142.4,35.3L142.5,38.6A106.9,106.9 0 0 0 142.1,38.6ZM152,35.5A110.2,110.2 0 0 1 153.1,35.6L152.8,38.9A106.9,106.9 0 0 0 151.7,38.8ZM156.4,35.9A110.2,110.2 0 0 1 157.6,36L157.2,39.4A106.9,106.9 0 0 0 156,39.2ZM157.6,36A110.2,110.2 0 0 1 158.4,36.1L157.9,39.4A106.9,106.9 0 0 0 157.2,39.4ZM159.5,36.3A110.2,110.2 0 0 1 160.1,36.4L159.7,39.7A106.9,106.9 0 0 0 159,39.6ZM160.1,36.4A110.2,110.2 0 0 1 160.9,36.5L160.4,39.8A106.9,106.9 0 0 0 159.7,39.7ZM162,36.6A110.2,110.2 0 0 1 162.5,36.7L162,40A106.9,106.9 0 0 0 161.4,39.9ZM163.8,36.9A110.2,110.2 0 0 1 164.2,37L163.6,40.3A106.9,106.9 0 0 0 163.2,40.2ZM170.3,38.3A110.2,110.2 0 0 1 170.5,38.4L169.8,41.6A106.9,106.9 0 0 0 169.5,41.6ZM175,39.6A110.2,110.2 0 0 1 175.9,39.8L175,43A106.9,106.9 0 0 0 174.1,42.8ZM175.9,39.8A110.2,110.2 0 0 1 176,39.8L175.1,43.1A106.9,106.9 0 0 0 175,43ZM179.6,41A110.2,110.2 0 0 1 180.4,41.2L179.3,44.4A106.9,106.9 0 0 0 178.5,44.2ZM188.5,44.4A110.2,110.2 0 0 1 188.9,44.6L187.5,47.7A106.9,106.9 0 0 0 187.2,47.5ZM189.9,45A110.2,110.2 0 0 1 190.6,45.3L189.2,48.4A106.9,106.9 0 0 0 188.5,48.1ZM190.6,45.3A110.2,110.2 0 0 1 191.1,45.6L189.6,48.6A106.9,106.9 0 0 0 189.2,48.4ZM192.1,46A110.2,110.2 0 0 1 192.7,46.4L191.3,49.4A106.9,106.9 0 0 0 190.6,49.1ZM193.6,46.8A110.2,110.2 0 0 1 194,47L192.5,50A106.9,106.9 0 0 0 192.1,49.8ZM195.8,47.9A110.2,110.2 0 0 1 196.3,48.2L194.7,51.1A106.9,106.9 0 0 0 194.2,50.9ZM196.7,48.4A110.2,110.2 0 0 1 197.3,48.7L195.7,51.6A106.9,106.9 0 0 0 195.1,51.3ZM199.5,50A110.2,110.2 0 0 1 199.9,50.2L198.2,53.1A106.9,106.9 0 0 0 197.9,52.9ZM203.1,52.1A110.2,110.2 0 0 1 203.4,52.3L201.6,55.1A106.9,106.9 0 0 0 201.4,55ZM206.6,54.4A110.2,110.2 0 0 1 207.2,54.8L205.3,57.6A106.9,106.9 0 0 0 204.7,57.2ZM209,56.1A110.2,110.2 0 0 1 209.6,56.5L207.6,59.2A106.9,106.9 0 0 0 207,58.8ZM210.1,56.9A110.2,110.2 0 0 1 210.7,57.3L208.7,60A106.9,106.9 0 0 0 208.1,59.6ZM210.7,57.3A110.2,110.2 0 0 1 211.6,58.1L209.6,60.7A106.9,106.9 0 0 0 208.7,60ZM212.4,58.7A110.2,110.2 0 0 1 212.8,59L210.8,61.6A106.9,106.9 0 0 0 210.4,61.3ZM214.4,60.2A110.2,110.2 0 0 1 215.2,60.9L213.1,63.5A106.9,106.9 0 0 0 212.2,62.8ZM216.9,62.4A110.2,110.2 0 0 1 217.6,62.9L215.3,65.4A106.9,106.9 0 0 0 214.7,64.9ZM218.5,63.7A110.2,110.2 0 0 1 218.4,63.7L216.1,66.1A106.9,106.9 0 0 0 216.2,66.2ZM221.2,66.3A110.2,110.2 0 0 1 221.6,66.7L219.2,69.1A106.9,106.9 0 0 0 218.9,68.7ZM225.2,70.4A110.2,110.2 0 0 1 225.4,70.7L223,72.9A106.9,106.9 0 0 0 222.8,72.7ZM225.4,70.7A110.2,110.2 0 0 1 226.1,71.4L223.6,73.6A106.9,106.9 0 0 0 223,72.9ZM229,74.7A110.2,110.2 0 0 1 229.4,75.2L226.8,77.3A106.9,106.9 0 0 0 226.5,76.9ZM231.4,77.7A110.2,110.2 0 0 1 232,78.5L229.4,80.5A106.9,106.9 0 0 0 228.8,79.8ZM232,78.5A110.2,110.2 0 0 1 232.5,79L229.8,81A106.9,106.9 0 0 0 229.4,80.5ZM233.1,79.8A110.2,110.2 0 0 1 233.3,80.2L230.6,82.2A106.9,106.9 0 0 0 230.4,81.8ZM233.3,80.2A110.2,110.2 0 0 1 233.7,80.7L231,82.6A106.9,106.9 0 0 0 230.6,82.2ZM235.9,83.8A110.2,110.2 0 0 1 236.3,84.4L233.5,86.3A106.9,106.9 0 0 0 233.1,85.7ZM236.6,84.9A110.2,110.2 0 0 1 237.1,85.6L234.3,87.4A106.9,106.9 0 0 0 233.8,86.7ZM238.2,87.4A110.2,110.2 0 0 1 238.5,87.9L235.7,89.7A106.9,106.9 0 0 0 235.3,89.1ZM241.6,93.2A110.2,110.2 0 0 1 242.1,94.3L239.2,95.8A106.9,106.9 0 0 0 238.6,94.8ZM242.8,95.5A110.2,110.2 0 0 1 242.8,95.5L239.8,97A106.9,106.9 0 0 0 239.8,97ZM243.9,97.9A110.2,110.2 0 0 1 244.1,98.3L241.1,99.7A106.9,106.9 0 0 0 240.9,99.3ZM244.9,99.9A110.2,110.2 0 0 1 245.2,100.7L242.2,102A106.9,106.9 0 0 0 241.8,101.3ZM245.8,102A110.2,110.2 0 0 1 246,102.4L242.9,103.7A106.9,106.9 0 0 0 242.7,103.3ZM248.1,107.9A110.2,110.2 0 0 1 248.4,108.5L245.2,109.7A106.9,106.9 0 0 0 245,109ZM248.4,108.5A110.2,110.2 0 0 1 248.7,109.5L245.5,110.6A106.9,106.9 0 0 0 245.2,109.7ZM249.5,111.7A110.2,110.2 0 0 1 249.6,112.1L246.4,113.1A106.9,106.9 0 0 0 246.3,112.8ZM249.8,112.9A110.2,110.2 0 0 1 250.1,113.7L246.9,114.7A106.9,106.9 0 0 0 246.6,113.9ZM250.1,113.7A110.2,110.2 0 0 1 250.2,114.1L247,115A106.9,106.9 0 0 0 246.9,114.7ZM250.6,115.5A110.2,110.2 0 0 1 250.8,116.3L247.6,117.1A106.9,106.9 0 0 0 247.4,116.4ZM251.1,117.5A110.2,110.2 0 0 1 251.2,117.6L247.9,118.5A106.9,106.9 0 0 0 247.9,118.3ZM251.7,119.5A110.2,110.2 0 0 1 251.8,120.1L248.5,120.9A106.9,106.9 0 0 0 248.4,120.3ZM252.3,122.5A110.2,110.2 0 0 1 252.6,123.7L249.3,124.4A106.9,106.9 0 0 0 249.1,123.2ZM253,125.9A110.2,110.2 0 0 1 253.2,127L249.9,127.6A106.9,106.9 0 0 0 249.7,126.5ZM253.4,128.5A110.2,110.2 0 0 1 253.5,129.1L250.2,129.6A106.9,106.9 0 0 0 250.1,129ZM254.1,133.5A110.2,110.2 0 0 1 254.1,134L250.8,134.4A106.9,106.9 0 0 0 250.8,133.9ZM254.3,136A110.2,110.2 0 0 1 254.4,136.6L251,136.8A106.9,106.9 0 0 0 251,136.3ZM254.5,137.6A110.2,110.2 0 0 1 254.5,138.3L251.2,138.5A106.9,106.9 0 0 0 251.1,137.8ZM254.6,140.7A110.2,110.2 0 0 1 254.7,141.9L251.3,142A106.9,106.9 0 0 0 251.3,140.8Z" fill="#000000"/><path d="M254.7,146.8A110.2,110.2 0 0 1 254.7,147.6L251.4,147.6A106.9,106.9 0 0 0 251.4,146.7ZM253.4,162.9A110.2,110.2 0 0 1 253.2,164L249.9,163.4A106.9,106.9 0 0 0 250.1,162.4ZM246.6,187A110.2,110.2 0 0 1 246.3,187.8L243.2,186.5A106.9,106.9 0 0 0 243.5,185.7ZM245.4,190A110.2,110.2 0 0 1 244.9,191L241.9,189.6A106.9,106.9 0 0 0 242.3,188.6ZM238.3,203.4A110.2,110.2 0 0 1 237.9,204.2L235,202.4A106.9,106.9 0 0 0 235.5,201.6ZM237.6,204.6A110.2,110.2 0 0 1 237.2,205.1L234.4,203.3A106.9,106.9 0 0 0 234.8,202.8ZM235.8,207.3A110.2,110.2 0 0 1 235.1,208.3L232.4,206.4A106.9,106.9 0 0 0 233,205.5ZM234.2,209.7A110.2,110.2 0 0 1 233.6,210.5L230.9,208.5A106.9,106.9 0 0 0 231.4,207.7ZM229.2,216A110.2,110.2 0 0 1 228.6,216.8L226.1,214.6A106.9,106.9 0 0 0 226.6,213.9ZM222.8,223.1A110.2,110.2 0 0 1 222.6,223.3L220.2,221A106.9,106.9 0 0 0 220.5,220.7ZM206,237A110.2,110.2 0 0 1 205.1,237.6L203.2,234.8A106.9,106.9 0 0 0 204.1,234.2ZM193.6,244.2A110.2,110.2 0 0 1 192.7,244.7L191.2,241.7A106.9,106.9 0 0 0 192.1,241.2ZM188.5,246.6A110.2,110.2 0 0 1 187.9,246.9L186.6,243.8A106.9,106.9 0 0 0 187.2,243.5ZM184,248.4A110.2,110.2 0 0 1 183.1,248.8L182,245.6A106.9,106.9 0 0 0 182.8,245.3ZM174.5,251.6A110.2,110.2 0 0 1 173.5,251.9L172.6,248.6A106.9,106.9 0 0 0 173.6,248.4ZM161.7,254.4A110.2,110.2 0 0 1 160.7,254.6L160.2,251.2A106.9,106.9 0 0 0 161.2,251.1ZM150.6,255.6A110.2,110.2 0 0 1 150.1,255.6L149.9,252.3A106.9,106.9 0 0 0 150.4,252.2ZM150.1,255.6A110.2,110.2 0 0 1 149.4,255.6L149.3,252.3A106.9,106.9 0 0 0 149.9,252.3ZM138.5,255.6A110.2,110.2 0 0 1 137.9,255.6L138.1,252.2A106.9,106.9 0 0 0 138.7,252.2ZM133.9,255.2A110.2,110.2 0 0 1 133.3,255.2L133.6,251.8A106.9,106.9 0 0 0 134.2,251.9ZM129.4,254.7A110.2,110.2 0 0 1 128.5,254.6L129,251.3A106.9,106.9 0 0 0 129.8,251.4ZM126,254.2A110.2,110.2 0 0 1 125.1,254L125.7,250.7A106.9,106.9 0 0 0 126.5,250.9ZM117.1,252.3A110.2,110.2 0 0 1 116.7,252.2L117.6,249A106.9,106.9 0 0 0 117.9,249ZM115.4,251.8A110.2,110.2 0 0 1 115,251.7L115.9,248.5A106.9,106.9 0 0 0 116.3,248.6ZM113.7,251.3A110.2,110.2 0 0 1 113.4,251.3L114.3,248.1A106.9,106.9 0 0 0 114.6,248.1ZM107,249.2A110.2,110.2 0 0 1 106,248.8L107.2,245.7A106.9,106.9 0 0 0 108.2,246ZM101.7,247.1A110.2,110.2 0 0 1 101.4,247L102.7,243.9A106.9,106.9 0 0 0 103,244ZM100.9,246.8A110.2,110.2 0 0 1 100.3,246.5L101.6,243.4A106.9,106.9 0 0 0 102.2,243.7ZM91.9,242.4A110.2,110.2 0 0 1 91.1,241.9L92.7,239A106.9,106.9 0 0 0 93.5,239.4ZM88.7,240.6A110.2,110.2 0 0 1 88.3,240.3L90,237.5A106.9,106.9 0 0 0 90.4,237.7ZM85.6,238.7A110.2,110.2 0 0 1 84.9,238.2L86.7,235.4A106.9,106.9 0 0 0 87.4,235.9ZM83.3,237.2A110.2,110.2 0 0 1 82.9,237L84.8,234.2A106.9,106.9 0 0 0 85.2,234.4ZM73.5,229.9A110.2,110.2 0 0 1 72.9,229.3L75,226.8A106.9,106.9 0 0 0 75.7,227.3ZM60.5,216.9A110.2,110.2 0 0 1 60.1,216.4L62.7,214.3A106.9,106.9 0 0 0 63.1,214.8ZM51.6,204.8A110.2,110.2 0 0 1 51.3,204.4L54.1,202.6A106.9,106.9 0 0 0 54.4,203ZM50.7,203.4A110.2,110.2 0 0 1 50.2,202.6L53,200.8A106.9,106.9 0 0 0 53.5,201.6ZM48.1,199A110.2,110.2 0 0 1 47.7,198.3L50.7,196.7A106.9,106.9 0 0 0 51,197.4ZM43.6,190A110.2,110.2 0 0 1 43.2,188.9L46.2,187.6A106.9,106.9 0 0 0 46.7,188.7ZM38.3,175.1A110.2,110.2 0 0 1 38.1,174.5L41.4,173.6A106.9,106.9 0 0 0 41.5,174.2ZM36.7,168.6A110.2,110.2 0 0 1 36.4,167.4L39.7,166.7A106.9,106.9 0 0 0 40,167.9ZM36.3,166.7A110.2,110.2 0 0 1 36.2,166.3L39.5,165.7A106.9,106.9 0 0 0 39.6,166.1ZM36.2,165.9A110.2,110.2 0 0 1 36.2,165.9L39.4,165.3A106.9,106.9 0 0 0 39.4,165.3ZM35.3,160.9A110.2,110.2 0 0 1 35.2,160.1L38.5,159.6A106.9,106.9 0 0 0 38.6,160.4ZM34.5,153.5A110.2,110.2 0 0 1 34.5,152.6L37.8,152.4A106.9,106.9 0 0 0 37.9,153.2ZM34.4,140.7A110.2,110.2 0 0 1 34.4,139.7L37.7,139.9A106.9,106.9 0 0 0 37.7,140.8ZM34.6,137.4A110.2,110.2 0 0 1 34.6,136.9L37.9,137.1A106.9,106.9 0 0 0 37.9,137.6ZM34.6,136.2A110.2,110.2 0 0 1 34.7,135.3L38.1,135.6A106.9,106.9 0 0 0 38,136.5ZM37,120.9A110.2,110.2 0 0 1 37.1,120.4L40.4,121.2A106.9,106.9 0 0 0 40.3,121.7ZM37.1,120.4A110.2,110.2 0 0 1 37.3,119.7L40.6,120.5A106.9,106.9 0 0 0 40.4,121.2ZM53.6,83.1A110.2,110.2 0 0 1 53.9,82.6L56.7,84.5A106.9,106.9 0 0 0 56.3,85ZM57.7,77.5A110.2,110.2 0 0 1 58.4,76.6L61,78.7A106.9,106.9 0 0 0 60.4,79.5ZM60,74.7A110.2,110.2 0 0 1 60.4,74.2L62.9,76.4A106.9,106.9 0 0 0 62.5,76.9ZM64.5,69.6A110.2,110.2 0 0 1 65.3,68.8L67.7,71.1A106.9,106.9 0 0 0 66.9,71.9ZM68.5,65.6A110.2,110.2 0 0 1 69.4,64.8L71.6,67.3A106.9,106.9 0 0 0 70.8,68ZM82.2,54.5A110.2,110.2 0 0 1 82.9,54.1L84.7,56.9A106.9,106.9 0 0 0 84.1,57.3ZM84.8,52.8A110.2,110.2 0 0 1 85.3,52.5L87.1,55.3A106.9,106.9 0 0 0 86.6,55.6ZM85.3,52.5A110.2,110.2 0 0 1 85.8,52.2L87.6,55A106.9,106.9 0 0 0 87.1,55.3ZM90.5,49.4A110.2,110.2 0 0 1 90.8,49.2L92.4,52.1A106.9,106.9 0 0 0 92.1,52.3ZM102.7,43.5A110.2,110.2 0 0 1 103.1,43.3L104.4,46.4A106.9,106.9 0 0 0 103.9,46.6ZM110.9,40.5A110.2,110.2 0 0 1 111.5,40.3L112.5,43.5A106.9,106.9 0 0 0 111.9,43.7ZM168.5,37.9A110.2,110.2 0 0 1 169.1,38L168.3,41.3A106.9,106.9 0 0 0 167.7,41.2ZM182.6,42.1A110.2,110.2 0 0 1 183.6,42.4L182.4,45.6A106.9,106.9 0 0 0 181.5,45.2ZM183.6,42.4A110.2,110.2 0 0 1 184.6,42.8L183.4,45.9A106.9,106.9 0 0 0 182.4,45.6ZM184.6,42.8A110.2,110.2 0 0 1 185.6,43.2L184.4,46.3A106.9,106.9 0 0 0 183.4,45.9ZM187.3,43.9A110.2,110.2 0 0 1 187.9,44.1L186.6,47.2A106.9,106.9 0 0 0 186,47ZM192.7,46.4A110.2,110.2 0 0 1 193.1,46.6L191.7,49.6A106.9,106.9 0 0 0 191.3,49.4ZM203.9,52.6A110.2,110.2 0 0 1 204.8,53.2L202.9,56A106.9,106.9 0 0 0 202.1,55.4ZM208.5,55.7A110.2,110.2 0 0 1 209,56.1L207,58.8A106.9,106.9 0 0 0 206.5,58.4ZM211.6,58.1A110.2,110.2 0 0 1 212.4,58.7L210.4,61.3A106.9,106.9 0 0 0 209.6,60.7ZM215.2,60.9A110.2,110.2 0 0 1 215.7,61.3L213.5,63.8A106.9,106.9 0 0 0 213.1,63.5ZM215.7,61.3A110.2,110.2 0 0 1 216.5,62L214.3,64.6A106.9,106.9 0 0 0 213.5,63.8ZM219.6,64.8A110.2,110.2 0 0 1 220.3,65.4L218,67.9A106.9,106.9 0 0 0 217.3,67.2ZM222.8,67.9A110.2,110.2 0 0 1 223.6,68.7L221.2,71A106.9,106.9 0 0 0 220.4,70.2ZM224.2,69.4A110.2,110.2 0 0 1 224.6,69.7L222.1,72A106.9,106.9 0 0 0 221.8,71.7ZM233.7,80.7A110.2,110.2 0 0 1 234.1,81.2L231.4,83.2A106.9,106.9 0 0 0 231,82.6ZM234.1,81.2A110.2,110.2 0 0 1 234.8,82.2L232,84.1A106.9,106.9 0 0 0 231.4,83.2ZM235.5,83.2A110.2,110.2 0 0 1 235.9,83.8L233.1,85.7A106.9,106.9 0 0 0 232.7,85.1ZM237.4,86.1A110.2,110.2 0 0 1 237.6,86.5L234.8,88.3A106.9,106.9 0 0 0 234.6,87.9ZM238.5,87.9A110.2,110.2 0 0 1 239,88.6L236.1,90.4A106.9,106.9 0 0 0 235.7,89.7ZM245.5,101.4A110.2,110.2 0 0 1 245.8,102L242.7,103.3A106.9,106.9 0 0 0 242.5,102.7ZM247.2,105.5A110.2,110.2 0 0 1 247.5,106.2L244.4,107.4A106.9,106.9 0 0 0 244.1,106.7ZM249.3,111.2A110.2,110.2 0 0 1 249.5,111.7L246.3,112.8A106.9,106.9 0 0 0 246.1,112.3ZM251,116.8A110.2,110.2 0 0 1 251.1,117.5L247.9,118.3A106.9,106.9 0 0 0 247.7,117.7ZM251.8,120.1A110.2,110.2 0 0 1 252,121.2L248.8,122A106.9,106.9 0 0 0 248.5,120.9ZM253.5,129.1A110.2,110.2 0 0 1 253.7,130.2L250.4,130.7A106.9,106.9 0 0 0 250.2,129.6ZM254.2,135A110.2,110.2 0 0 1 254.2,134.8L250.9,135.1A106.9,106.9 0 0 0 250.9,135.3ZM254.3,135.4A110.2,110.2 0 0 1 254.3,136L251,136.3A106.9,106.9 0 0 0 250.9,135.7ZM254.5,138.3A110.2,110.2 0 0 1 254.6,139L251.2,139.2A106.9,106.9 0 0 0 251.2,138.5Z" fill="#606060"/><path d="M254.7,147.6A110.2,110.2 0 0 1 254.7,148.6L251.4,148.5A106.9,106.9 0 0 0 251.4,147.6ZM254.1,157.8A110.2,110.2 0 0 1 254,158.3L250.7,158A106.9,106.9 0 0 0 250.7,157.4ZM253.9,158.8A110.2,110.2 0 0 1 253.9,159.1L250.6,158.7A106.9,106.9 0 0 0 250.6,158.4ZM251.8,170.8A110.2,110.2 0 0 1 251.7,171.3L248.4,170.5A106.9,106.9 0 0 0 248.6,170ZM251.2,173.2A110.2,110.2 0 0 1 251.2,173.1L248,172.2A106.9,106.9 0 0 0 248,172.4ZM250.7,175A110.2,110.2 0 0 1 250.6,175.5L247.4,174.6A106.9,106.9 0 0 0 247.5,174.1ZM250.6,175.5A110.2,110.2 0 0 1 250.2,176.7L247,175.7A106.9,106.9 0 0 0 247.4,174.6ZM250,177.6A110.2,110.2 0 0 1 249.6,178.7L246.4,177.7A106.9,106.9 0 0 0 246.8,176.7ZM246.3,187.8A110.2,110.2 0 0 1 246,188.5L242.9,187.2A106.9,106.9 0 0 0 243.2,186.5ZM243.3,194.4A110.2,110.2 0 0 1 242.9,195.2L239.9,193.7A106.9,106.9 0 0 0 240.3,192.9ZM236,207A110.2,110.2 0 0 1 235.8,207.3L233,205.5A106.9,106.9 0 0 0 233.2,205.1ZM234.7,208.9A110.2,110.2 0 0 1 234.2,209.7L231.4,207.7A106.9,106.9 0 0 0 231.9,207ZM227.6,217.9A110.2,110.2 0 0 1 227.8,217.8L225.2,215.6A106.9,106.9 0 0 0 225.1,215.7ZM225.6,220.1A110.2,110.2 0 0 1 224.9,220.9L222.5,218.6A106.9,106.9 0 0 0 223.2,217.9ZM224.9,220.9A110.2,110.2 0 0 1 224.1,221.8L221.7,219.5A106.9,106.9 0 0 0 222.5,218.6ZM223.6,222.3A110.2,110.2 0 0 1 223.1,222.8L220.8,220.4A106.9,106.9 0 0 0 221.2,219.9ZM219.5,226.3A110.2,110.2 0 0 1 218.7,227L216.5,224.6A106.9,106.9 0 0 0 217.2,223.9ZM218.3,227.4A110.2,110.2 0 0 1 217.8,227.9L215.6,225.4A106.9,106.9 0 0 0 216,224.9ZM204.6,238A110.2,110.2 0 0 1 203.5,238.6L201.8,235.8A106.9,106.9 0 0 0 202.7,235.1ZM202.1,239.5A110.2,110.2 0 0 1 201.7,239.7L200,236.9A106.9,106.9 0 0 0 200.4,236.6ZM173.5,251.9A110.2,110.2 0 0 1 173,252L172.2,248.8A106.9,106.9 0 0 0 172.6,248.6ZM162.7,254.2A110.2,110.2 0 0 1 161.7,254.4L161.2,251.1A106.9,106.9 0 0 0 162.2,250.9ZM144.5,255.7A110.2,110.2 0 0 1 143.8,255.7L143.8,252.4A106.9,106.9 0 0 0 144.5,252.4ZM125.1,254A110.2,110.2 0 0 1 124.2,253.9L124.8,250.6A106.9,106.9 0 0 0 125.7,250.7ZM122.9,253.6A110.2,110.2 0 0 1 122.2,253.5L122.9,250.2A106.9,106.9 0 0 0 123.6,250.3ZM119,252.8A110.2,110.2 0 0 1 118.6,252.7L119.3,249.4A106.9,106.9 0 0 0 119.8,249.5ZM117.9,252.5A110.2,110.2 0 0 1 117.1,252.3L117.9,249A106.9,106.9 0 0 0 118.7,249.2ZM105.3,248.6A110.2,110.2 0 0 1 104.5,248.2L105.7,245.1A106.9,106.9 0 0 0 106.5,245.4ZM74.2,230.4A110.2,110.2 0 0 1 73.5,229.9L75.7,227.3A106.9,106.9 0 0 0 76.3,227.8ZM71.8,228.4A110.2,110.2 0 0 1 71.5,228.1L73.7,225.6A106.9,106.9 0 0 0 74,225.9ZM69.8,226.6A110.2,110.2 0 0 1 69,225.8L71.3,223.4A106.9,106.9 0 0 0 72.1,224.1ZM68,224.9A110.2,110.2 0 0 1 67.8,224.7L70.1,222.2A106.9,106.9 0 0 0 70.3,222.5ZM67.8,224.7A110.2,110.2 0 0 1 67.4,224.3L69.7,221.9A106.9,106.9 0 0 0 70.1,222.2ZM65.2,222.1A110.2,110.2 0 0 1 64.6,221.4L67,219.1A106.9,106.9 0 0 0 67.7,219.8ZM62.1,218.8A110.2,110.2 0 0 1 61.4,218L64,215.8A106.9,106.9 0 0 0 64.6,216.6ZM60.1,216.4A110.2,110.2 0 0 1 59.4,215.6L62,213.5A106.9,106.9 0 0 0 62.7,214.3ZM49.5,201.4A110.2,110.2 0 0 1 49.3,201.2L52.2,199.5A106.9,106.9 0 0 0 52.4,199.7ZM46.6,196.3A110.2,110.2 0 0 1 46.3,195.6L49.3,194.1A106.9,106.9 0 0 0 49.6,194.7ZM44,190.8A110.2,110.2 0 0 1 43.6,190L46.7,188.7A106.9,106.9 0 0 0 47,189.4ZM42.3,186.9A110.2,110.2 0 0 1 42.1,186.5L45.2,185.2A106.9,106.9 0 0 0 45.4,185.6ZM40.8,182.8A110.2,110.2 0 0 1 40.6,182.4L43.8,181.2A106.9,106.9 0 0 0 43.9,181.7ZM39.2,178A110.2,110.2 0 0 1 38.9,177.1L42.1,176.2A106.9,106.9 0 0 0 42.4,177ZM38.1,174.5A110.2,110.2 0 0 1 38,174.1L41.3,173.3A106.9,106.9 0 0 0 41.4,173.6ZM36.2,166.3A110.2,110.2 0 0 1 36.2,165.9L39.4,165.3A106.9,106.9 0 0 0 39.5,165.7ZM34.3,142.6A110.2,110.2 0 0 1 34.3,142.1L37.7,142.2A106.9,106.9 0 0 0 37.6,142.7ZM36.5,123.5A110.2,110.2 0 0 1 36.6,122.7L39.9,123.4A106.9,106.9 0 0 0 39.8,124.1ZM37.5,118.9A110.2,110.2 0 0 1 37.6,118.4L40.9,119.2A106.9,106.9 0 0 0 40.8,119.7ZM41.1,107.3A110.2,110.2 0 0 1 41.4,106.5L44.5,107.7A106.9,106.9 0 0 0 44.2,108.4ZM41.6,105.9A110.2,110.2 0 0 1 41.9,105.2L45,106.4A106.9,106.9 0 0 0 44.7,107.1ZM43.2,101.9A110.2,110.2 0 0 1 43.6,101L46.7,102.4A106.9,106.9 0 0 0 46.3,103.2ZM45.7,96.6A110.2,110.2 0 0 1 45.9,96.2L48.9,97.7A106.9,106.9 0 0 0 48.7,98ZM47.8,92.5A110.2,110.2 0 0 1 48.2,91.7L51.2,93.4A106.9,106.9 0 0 0 50.8,94.1ZM58.4,76.6A110.2,110.2 0 0 1 59,75.9L61.6,78A106.9,106.9 0 0 0 61,78.7ZM60.6,74A110.2,110.2 0 0 1 61.1,73.4L63.7,75.5A106.9,106.9 0 0 0 63.2,76.1ZM87.4,51.2A110.2,110.2 0 0 1 87.4,51.2L89.2,54A106.9,106.9 0 0 0 89.2,54ZM104.6,42.7A110.2,110.2 0 0 1 105.4,42.4L106.6,45.6A106.9,106.9 0 0 0 105.8,45.9ZM113.7,39.6A110.2,110.2 0 0 1 114.3,39.5L115.2,42.7A106.9,106.9 0 0 0 114.6,42.9ZM122.1,37.6A110.2,110.2 0 0 1 122.5,37.5L123.1,40.8A106.9,106.9 0 0 0 122.8,40.8ZM125.5,36.9A110.2,110.2 0 0 1 126.6,36.7L127.2,40A106.9,106.9 0 0 0 126.1,40.2ZM128.4,36.4A110.2,110.2 0 0 1 128.9,36.4L129.3,39.7A106.9,106.9 0 0 0 128.9,39.7ZM138,35.4A110.2,110.2 0 0 1 139,35.4L139.1,38.7A106.9,106.9 0 0 0 138.2,38.8ZM149.3,35.4A110.2,110.2 0 0 1 149.7,35.4L149.5,38.7A106.9,106.9 0 0 0 149.1,38.7ZM149.7,35.4A110.2,110.2 0 0 1 150.2,35.4L150.1,38.7A106.9,106.9 0 0 0 149.5,38.7ZM153.1,35.6A110.2,110.2 0 0 1 154,35.7L153.7,39A106.9,106.9 0 0 0 152.8,38.9ZM154.8,35.7A110.2,110.2 0 0 1 155.9,35.8L155.5,39.2A106.9,106.9 0 0 0 154.5,39.1ZM162.5,36.7A110.2,110.2 0 0 1 163.1,36.8L162.5,40.1A106.9,106.9 0 0 0 162,40ZM178,40.5A110.2,110.2 0 0 1 179,40.8L178,44A106.9,106.9 0 0 0 177,43.6ZM193.1,46.6A110.2,110.2 0 0 1 193.6,46.8L192.1,49.8A106.9,106.9 0 0 0 191.7,49.6ZM201.3,51A110.2,110.2 0 0 1 201.7,51.2L199.9,54.1A106.9,106.9 0 0 0 199.6,53.9ZM201.7,51.2A110.2,110.2 0 0 1 202.6,51.8L200.8,54.6A106.9,106.9 0 0 0 199.9,54.1ZM202.6,51.8A110.2,110.2 0 0 1 202.7,51.8L200.9,54.7A106.9,106.9 0 0 0 200.8,54.6ZM209.6,56.5A110.2,110.2 0 0 1 210.1,56.9L208.1,59.6A106.9,106.9 0 0 0 207.6,59.2ZM224.6,69.7A110.2,110.2 0 0 1 225.2,70.4L222.8,72.7A106.9,106.9 0 0 0 222.1,72ZM227,72.3A110.2,110.2 0 0 1 227.5,72.9L225,75.1A106.9,106.9 0 0 0 224.5,74.6ZM228.8,74.4A110.2,110.2 0 0 1 229,74.7L226.5,76.9A106.9,106.9 0 0 0 226.2,76.6ZM230.3,76.3A110.2,110.2 0 0 1 231.1,77.2L228.4,79.3A106.9,106.9 0 0 0 227.7,78.4ZM237.6,86.5A110.2,110.2 0 0 1 238.2,87.4L235.3,89.1A106.9,106.9 0 0 0 234.8,88.3ZM239,88.6A110.2,110.2 0 0 1 239,88.7L236.1,90.5A106.9,106.9 0 0 0 236.1,90.4ZM241.1,92.4A110.2,110.2 0 0 1 241.6,93.2L238.6,94.8A106.9,106.9 0 0 0 238.2,94.1ZM248.7,109.5A110.2,110.2 0 0 1 248.8,109.8L245.6,110.9A106.9,106.9 0 0 0 245.5,110.6ZM249,110.3A110.2,110.2 0 0 1 249.3,111.2L246.1,112.3A106.9,106.9 0 0 0 245.8,111.4ZM249.6,112.1A110.2,110.2 0 0 1 249.8,112.9L246.6,113.9A106.9,106.9 0 0 0 246.4,113.1ZM250.8,116.3A110.2,110.2 0 0 1 251,116.8L247.7,117.7A106.9,106.9 0 0 0 247.6,117.1ZM252,121.2A110.2,110.2 0 0 1 252.2,122L248.9,122.7A106.9,106.9 0 0 0 248.8,122ZM253.2,127A110.2,110.2 0 0 1 253.2,127.3L249.9,127.9A106.9,106.9 0 0 0 249.9,127.6ZM254.4,136.6A110.2,110.2 0 0 1 254.5,137.6L251.1,137.8A106.9,106.9 0 0 0 251,136.8Z" fill="#d8d8d8"/><path d="M254.4,154.9A110.2,110.2 0 0 1 254.3,155.7L250.9,155.4A106.9,106.9 0 0 0 251,154.6ZM254.2,156.3A110.2,110.2 0 0 1 254.1,157.4L250.8,157A106.9,106.9 0 0 0 250.9,155.9ZM253.9,159.1A110.2,110.2 0 0 1 253.8,159.6L250.5,159.2A106.9,106.9 0 0 0 250.6,158.7ZM250.1,177.1A110.2,110.2 0 0 1 250,177.6L246.8,176.7A106.9,106.9 0 0 0 246.9,176.2ZM249.1,180.3A110.2,110.2 0 0 1 248.8,181.3L245.6,180.2A106.9,106.9 0 0 0 245.9,179.2ZM247.8,184A110.2,110.2 0 0 1 247.5,184.9L244.3,183.7A106.9,106.9 0 0 0 244.7,182.8ZM245.6,189.5A110.2,110.2 0 0 1 245.4,190L242.3,188.6A106.9,106.9 0 0 0 242.5,188.2ZM244.9,191A110.2,110.2 0 0 1 244.5,191.9L241.4,190.5A106.9,106.9 0 0 0 241.9,189.6ZM244.5,191.9A110.2,110.2 0 0 1 244.1,192.7L241.1,191.3A106.9,106.9 0 0 0 241.4,190.5ZM241.7,197.4A110.2,110.2 0 0 1 241.2,198.4L238.3,196.8A106.9,106.9 0 0 0 238.8,195.9ZM237.2,205.1A110.2,110.2 0 0 1 236.7,206L233.9,204.1A106.9,106.9 0 0 0 234.4,203.3ZM229.9,215.3A110.2,110.2 0 0 1 229.2,216L226.6,213.9A106.9,106.9 0 0 0 227.3,213.2ZM226.8,218.8A110.2,110.2 0 0 1 226,219.7L223.5,217.5A106.9,106.9 0 0 0 224.3,216.6ZM226,219.7A110.2,110.2 0 0 1 225.6,220.1L223.2,217.9A106.9,106.9 0 0 0 223.5,217.5ZM224.1,221.8A110.2,110.2 0 0 1 223.6,222.3L221.2,219.9A106.9,106.9 0 0 0 221.7,219.5ZM218.7,227A110.2,110.2 0 0 1 218.3,227.4L216,224.9A106.9,106.9 0 0 0 216.5,224.6ZM213,231.9A110.2,110.2 0 0 1 212,232.7L210,230A106.9,106.9 0 0 0 210.9,229.3ZM210.6,233.8A110.2,110.2 0 0 1 209.8,234.4L207.8,231.7A106.9,106.9 0 0 0 208.6,231.1ZM202.8,239.1A110.2,110.2 0 0 1 202.1,239.5L200.4,236.6A106.9,106.9 0 0 0 201,236.2ZM200,240.7A110.2,110.2 0 0 1 199.2,241.2L197.5,238.3A106.9,106.9 0 0 0 198.3,237.8ZM196.7,242.6A110.2,110.2 0 0 1 196.2,242.9L194.6,239.9A106.9,106.9 0 0 0 195.1,239.7ZM190.8,245.5A110.2,110.2 0 0 1 189.9,246L188.5,242.9A106.9,106.9 0 0 0 189.4,242.5ZM186.4,247.5A110.2,110.2 0 0 1 185.8,247.7L184.5,244.6A106.9,106.9 0 0 0 185.1,244.4ZM179.6,250A110.2,110.2 0 0 1 178.5,250.4L177.5,247.2A106.9,106.9 0 0 0 178.5,246.8ZM141.8,255.7A110.2,110.2 0 0 1 141.2,255.7L141.3,252.4A106.9,106.9 0 0 0 141.8,252.4ZM140.2,255.7A110.2,110.2 0 0 1 139.5,255.6L139.7,252.3A106.9,106.9 0 0 0 140.4,252.3ZM139.5,255.6A110.2,110.2 0 0 1 138.5,255.6L138.7,252.2A106.9,106.9 0 0 0 139.7,252.3ZM120.9,253.2A110.2,110.2 0 0 1 119.9,253L120.6,249.7A106.9,106.9 0 0 0 121.6,249.9ZM116.3,252.1A110.2,110.2 0 0 1 116,252L116.9,248.8A106.9,106.9 0 0 0 117.2,248.9ZM87.2,239.7A110.2,110.2 0 0 1 86.2,239.1L88,236.2A106.9,106.9 0 0 0 88.9,236.8ZM80.8,235.5A110.2,110.2 0 0 1 80,234.9L81.9,232.2A106.9,106.9 0 0 0 82.7,232.7ZM67.4,224.3A110.2,110.2 0 0 1 67,223.9L69.3,221.5A106.9,106.9 0 0 0 69.7,221.9ZM64.6,221.4A110.2,110.2 0 0 1 64.5,221.4L66.9,219A106.9,106.9 0 0 0 67,219.1ZM57.2,212.8A110.2,110.2 0 0 1 56.6,212L59.3,210A106.9,106.9 0 0 0 59.8,210.8ZM51.3,204.4A110.2,110.2 0 0 1 50.7,203.4L53.5,201.6A106.9,106.9 0 0 0 54.1,202.6ZM45.5,194.1A110.2,110.2 0 0 1 45.3,193.5L48.3,192A106.9,106.9 0 0 0 48.5,192.6ZM45.3,193.5A110.2,110.2 0 0 1 44.8,192.5L47.8,191.1A106.9,106.9 0 0 0 48.3,192ZM42.1,186.5A110.2,110.2 0 0 1 41.9,185.8L45,184.5A106.9,106.9 0 0 0 45.2,185.2ZM41.9,185.8A110.2,110.2 0 0 1 41.6,185L44.7,183.8A106.9,106.9 0 0 0 45,184.5ZM35.2,160.1A110.2,110.2 0 0 1 35.2,159.6L38.5,159.2A106.9,106.9 0 0 0 38.5,159.6ZM35.2,159.6A110.2,110.2 0 0 1 35.1,158.8L38.4,158.4A106.9,106.9 0 0 0 38.5,159.2ZM35.1,158.8A110.2,110.2 0 0 1 34.9,157.6L38.2,157.2A106.9,106.9 0 0 0 38.4,158.4ZM34.3,149A110.2,110.2 0 0 1 34.3,148.4L37.6,148.3A106.9,106.9 0 0 0 37.7,148.9ZM34.3,146.8A110.2,110.2 0 0 1 34.3,146.1L37.6,146.1A106.9,106.9 0 0 0 37.6,146.7ZM34.3,142.1A110.2,110.2 0 0 1 34.3,141.7L37.7,141.8A106.9,106.9 0 0 0 37.7,142.2ZM34.3,141.7A110.2,110.2 0 0 1 34.4,140.7L37.7,140.8A106.9,106.9 0 0 0 37.7,141.8ZM36.6,122.7A110.2,110.2 0 0 1 36.9,121.5L40.2,122.2A106.9,106.9 0 0 0 39.9,123.4ZM36.9,121.5A110.2,110.2 0 0 1 37,120.9L40.3,121.7A106.9,106.9 0 0 0 40.2,122.2ZM40.7,108.2A110.2,110.2 0 0 1 40.9,107.8L44,108.9A106.9,106.9 0 0 0 43.9,109.3ZM41.4,106.5A110.2,110.2 0 0 1 41.6,105.9L44.7,107.1A106.9,106.9 0 0 0 44.5,107.7ZM45.5,97A110.2,110.2 0 0 1 45.7,96.6L48.7,98A106.9,106.9 0 0 0 48.5,98.5ZM45.9,96.2A110.2,110.2 0 0 1 46.5,95.1L49.4,96.6A106.9,106.9 0 0 0 48.9,97.7ZM55.5,80.4A110.2,110.2 0 0 1 56.1,79.6L58.8,81.6A106.9,106.9 0 0 0 58.3,82.3ZM56.7,78.8A110.2,110.2 0 0 1 57.1,78.3L59.8,80.3A106.9,106.9 0 0 0 59.4,80.8ZM62.6,71.7A110.2,110.2 0 0 1 62.6,71.7L65,74A106.9,106.9 0 0 0 65,74ZM66.9,67.2A110.2,110.2 0 0 1 67.6,66.5L70,68.9A106.9,106.9 0 0 0 69.3,69.5ZM69.9,64.3A110.2,110.2 0 0 1 70.6,63.6L72.9,66.1A106.9,106.9 0 0 0 72.1,66.8ZM75.5,59.5A110.2,110.2 0 0 1 76.3,58.9L78.3,61.5A106.9,106.9 0 0 0 77.6,62.2ZM79.8,56.2A110.2,110.2 0 0 1 80.6,55.6L82.6,58.4A106.9,106.9 0 0 0 81.8,58.9ZM99.6,44.8A110.2,110.2 0 0 1 100.3,44.5L101.6,47.6A106.9,106.9 0 0 0 100.9,47.9ZM101.4,44A110.2,110.2 0 0 1 102.1,43.7L103.4,46.8A106.9,106.9 0 0 0 102.7,47.1ZM103.1,43.3A110.2,110.2 0 0 1 103.8,43.1L105,46.2A106.9,106.9 0 0 0 104.4,46.4ZM106.3,42.1A110.2,110.2 0 0 1 107.5,41.7L108.6,44.8A106.9,106.9 0 0 0 107.5,45.2ZM107.5,41.7A110.2,110.2 0 0 1 108.5,41.3L109.6,44.5A106.9,106.9 0 0 0 108.6,44.8ZM111.5,40.3A110.2,110.2 0 0 1 111.8,40.2L112.8,43.4A106.9,106.9 0 0 0 112.5,43.5ZM114.9,39.3A110.2,110.2 0 0 1 115.3,39.2L116.2,42.4A106.9,106.9 0 0 0 115.8,42.5ZM116.7,38.8A110.2,110.2 0 0 1 117,38.7L117.8,42A106.9,106.9 0 0 0 117.6,42.1ZM132.4,35.9A110.2,110.2 0 0 1 133.4,35.8L133.8,39.1A106.9,106.9 0 0 0 132.8,39.2ZM133.4,35.8A110.2,110.2 0 0 1 134.3,35.7L134.6,39.1A106.9,106.9 0 0 0 133.8,39.1ZM143.3,35.3A110.2,110.2 0 0 1 143.8,35.3L143.8,38.6A106.9,106.9 0 0 0 143.3,38.6ZM164.2,37A110.2,110.2 0 0 1 165.4,37.2L164.7,40.5A106.9,106.9 0 0 0 163.6,40.3ZM165.4,37.2A110.2,110.2 0 0 1 166.1,37.4L165.5,40.7A106.9,106.9 0 0 0 164.7,40.5ZM166.9,37.5A110.2,110.2 0 0 1 167.8,37.7L167.1,41A106.9,106.9 0 0 0 166.2,40.8ZM174.5,39.4A110.2,110.2 0 0 1 175,39.6L174.1,42.8A106.9,106.9 0 0 0 173.6,42.6ZM196.3,48.2A110.2,110.2 0 0 1 196.7,48.4L195.1,51.3A106.9,106.9 0 0 0 194.7,51.1ZM226.1,71.4A110.2,110.2 0 0 1 226.7,72L224.2,74.3A106.9,106.9 0 0 0 223.6,73.6ZM231.1,77.2A110.2,110.2 0 0 1 231.1,77.3L228.5,79.3A106.9,106.9 0 0 0 228.4,79.3ZM234.8,82.2A110.2,110.2 0 0 1 235.5,83.2L232.7,85.1A106.9,106.9 0 0 0 232,84.1ZM243.5,96.9A110.2,110.2 0 0 1 243.9,97.9L240.9,99.3A106.9,106.9 0 0 0 240.4,98.4ZM250.4,114.8A110.2,110.2 0 0 1 250.6,115.5L247.4,116.4A106.9,106.9 0 0 0 247.2,115.8ZM254.6,139.5A110.2,110.2 0 0 1 254.6,140.7L251.3,140.8A106.9,106.9 0 0 0 251.2,139.7Z" fill="#a0a0a0"/><path d="M251.2,173.1A110.2,110.2 0 0 1 251.1,173.6L247.9,172.8A106.9,106.9 0 0 0 248,172.2ZM227.8,217.8A110.2,110.2 0 0 1 227.4,218.2L224.9,216A106.9,106.9 0 0 0 225.2,215.6ZM181.6,249.3A110.2,110.2 0 0 1 181.1,249.5L180,246.3A106.9,106.9 0 0 0 180.5,246.2ZM145.1,255.7A110.2,110.2 0 0 1 144.5,255.7L144.5,252.4A106.9,106.9 0 0 0 145.1,252.4ZM101.4,247A110.2,110.2 0 0 1 100.9,246.8L102.2,243.7A106.9,106.9 0 0 0 102.7,243.9ZM64.5,221.4A110.2,110.2 0 0 1 64.1,220.9L66.5,218.7A106.9,106.9 0 0 0 66.9,219ZM42.5,187.4A110.2,110.2 0 0 1 42.3,186.9L45.4,185.6A106.9,106.9 0 0 0 45.6,186.1ZM34.6,154A110.2,110.2 0 0 1 34.5,153.5L37.9,153.2A106.9,106.9 0 0 0 37.9,153.8ZM37.6,118.4A110.2,110.2 0 0 1 37.8,117.9L41,118.7A106.9,106.9 0 0 0 40.9,119.2ZM49.6,89.4A110.2,110.2 0 0 1 49.9,88.9L52.8,90.6A106.9,106.9 0 0 0 52.5,91.1ZM72.3,62.2A110.2,110.2 0 0 1 72.7,61.8L74.9,64.4A106.9,106.9 0 0 0 74.5,64.7ZM96.1,46.4A110.2,110.2 0 0 1 96.6,46.2L98.1,49.2A106.9,106.9 0 0 0 97.6,49.4ZM122.5,37.5A110.2,110.2 0 0 1 123,37.4L123.7,40.6A106.9,106.9 0 0 0 123.1,40.8ZM150.2,35.4A110.2,110.2 0 0 1 150.8,35.4L150.6,38.8A106.9,106.9 0 0 0 150.1,38.7ZM176,39.8A110.2,110.2 0 0 1 176.6,40L175.6,43.2A106.9,106.9 0 0 0 175.1,43.1ZM202.7,51.8A110.2,110.2 0 0 1 203.1,52.1L201.4,55A106.9,106.9 0 0 0 200.9,54.7ZM218.4,63.7A110.2,110.2 0 0 1 218.8,64L216.5,66.5A106.9,106.9 0 0 0 216.1,66.1ZM231.1,77.3A110.2,110.2 0 0 1 231.4,77.7L228.8,79.8A106.9,106.9 0 0 0 228.5,79.3ZM242.8,95.5A110.2,110.2 0 0 1 243,96L240,97.5A106.9,106.9 0 0 0 239.8,97ZM248.8,109.8A110.2,110.2 0 0 1 249,110.3L245.8,111.4A106.9,106.9 0 0 0 245.6,110.9ZM252.2,122A110.2,110.2 0 0 1 252.3,122.5L249.1,123.2A106.9,106.9 0 0 0 248.9,122.7ZM254.2,134.8A110.2,110.2 0 0 1 254.3,135.4L250.9,135.7A106.9,106.9 0 0 0 250.9,135.1Z" fill="#d7191c"/><path d="M254.8,145.5A110.2,110.2 0 0 1 240.7,199.3L237.8,197.7A106.9,106.9 0 0 0 251.4,145.5ZM249,145.5A104.5,104.5 0 0 1 235.7,196.5L224.2,190.1A91.3,91.3 0 0 0 235.8,145.5ZM233.1,145.5A88.6,88.6 0 0 1 221.8,188.7L210.9,182.6A76.1,76.1 0 0 0 220.6,145.5ZM218.2,145.5A73.7,73.7 0 0 1 208.8,181.5L197.1,174.9A60.3,60.3 0 0 0 204.8,145.5ZM202.2,145.5A57.7,57.7 0 0 1 194.9,173.7L184.4,167.8A45.7,45.7 0 0 0 190.2,145.5ZM187.8,145.5A43.2,43.2 0 0 1 182.2,166.6L170.9,160.3A30.3,30.3 0 0 0 174.8,145.5ZM239.8,201A110.2,110.2 0 0 1 201.7,239.7L200,236.9A106.9,106.9 0 0 0 236.9,199.3ZM234.8,198.1A104.5,104.5 0 0 1 198.7,234.8L191.9,223.5A91.3,91.3 0 0 0 223.4,191.5ZM221,190.1A88.6,88.6 0 0 1 190.5,221.2L184,210.5A76.1,76.1 0 0 0 210.2,183.8ZM208.2,182.6A73.7,73.7 0 0 1 182.7,208.5L175.8,197A60.3,60.3 0 0 0 196.6,175.9ZM194.4,174.6A57.7,57.7 0 0 1 174.4,194.8L168.2,184.6A45.7,45.7 0 0 0 184,168.5ZM181.9,167.3A43.2,43.2 0 0 1 166.9,182.5L160.2,171.4A30.3,30.3 0 0 0 170.7,160.8ZM200,240.7A110.2,110.2 0 0 1 158,254.9L157.6,251.6A106.9,106.9 0 0 0 198.3,237.8ZM197.1,235.8A104.5,104.5 0 0 1 157.3,249.2L155.7,236.1A91.3,91.3 0 0 0 190.5,224.4ZM189.1,222A88.6,88.6 0 0 1 155.4,233.4L153.8,221A76.1,76.1 0 0 0 182.8,211.2ZM181.6,209.2A73.7,73.7 0 0 1 153.5,218.6L151.9,205.3A60.3,60.3 0 0 0 174.9,197.6ZM173.6,195.3A57.7,57.7 0 0 1 151.6,202.8L150.1,190.9A45.7,45.7 0 0 0 167.5,185ZM166.3,182.9A43.2,43.2 0 0 1 149.8,188.4L148.2,175.6A30.3,30.3 0 0 0 159.8,171.7ZM156.1,255.1A110.2,110.2 0 0 1 113.4,251.3L114.3,248.1A106.9,106.9 0 0 0 155.7,251.8ZM155.5,249.4A104.5,104.5 0 0 1 115,245.8L118.7,233.1A91.3,91.3 0 0 0 154.1,236.3ZM153.8,233.6A88.6,88.6 0 0 1 119.5,230.5L123,218.5A76.1,76.1 0 0 0 152.5,221.2ZM152.2,218.8A73.7,73.7 0 0 1 123.7,216.2L127.5,203.4A60.3,60.3 0 0 0 150.8,205.5ZM150.6,202.9A57.7,57.7 0 0 1 128.2,200.9L131.6,189.3A45.7,45.7 0 0 0 149.3,190.9ZM149,188.5A43.2,43.2 0 0 1 132.3,187L136,174.6A30.3,30.3 0 0 0 147.7,175.6ZM111.5,250.7A110.2,110.2 0 0 1 75.7,231.7L77.8,229A106.9,106.9 0 0 0 112.5,247.5ZM113.2,245.2A104.5,104.5 0 0 1 79.3,227.2L87.5,216.8A91.3,91.3 0 0 0 117.2,232.6ZM118,230A88.6,88.6 0 0 1 89.2,214.7L97,205A76.1,76.1 0 0 0 121.7,218.1ZM122.5,215.8A73.7,73.7 0 0 1 98.5,203.1L106.9,192.6A60.3,60.3 0 0 0 126.5,203ZM127.2,200.6A57.7,57.7 0 0 1 108.5,190.6L116,181.2A45.7,45.7 0 0 0 130.8,189.1ZM131.6,186.8A43.2,43.2 0 0 1 117.5,179.3L125.6,169.2A30.3,30.3 0 0 0 135.4,174.4ZM74.2,230.4A110.2,110.2 0 0 1 49.3,201.2L52.2,199.5A106.9,106.9 0 0 0 76.3,227.8ZM77.9,226A104.5,104.5 0 0 1 54.3,198.3L65.7,191.6A91.3,91.3 0 0 0 86.3,215.8ZM88,213.7A88.6,88.6 0 0 1 68,190.2L78.8,183.9A76.1,76.1 0 0 0 96,204.1ZM97.5,202.3A73.7,73.7 0 0 1 80.9,182.7L92.4,175.9A60.3,60.3 0 0 0 106,191.9ZM107.7,189.9A57.7,57.7 0 0 1 94.7,174.6L105.1,168.6A45.7,45.7 0 0 0 115.4,180.7ZM116.9,178.8A43.2,43.2 0 0 1 107.2,167.3L118.3,160.8A30.3,30.3 0 0 0 125.2,168.8ZM48.4,199.5A110.2,110.2 0 0 1 36.2,165.9L39.4,165.3A106.9,106.9 0 0 0 51.3,197.8ZM53.4,196.6A104.5,104.5 0 0 1 41.8,164.8L54.8,162.4A91.3,91.3 0 0 0 64.9,190.2ZM67.2,188.9A88.6,88.6 0 0 1 57.4,161.9L69.7,159.6A76.1,76.1 0 0 0 78.1,182.7ZM80.2,181.6A73.7,73.7 0 0 1 72.1,159.1L85.2,156.6A60.3,60.3 0 0 0 91.9,175ZM94.2,173.7A57.7,57.7 0 0 1 87.8,156.2L99.6,154A45.7,45.7 0 0 0 104.6,167.9ZM106.8,166.7A43.2,43.2 0 0 1 102,153.5L114.7,151.1A30.3,30.3 0 0 0 118.1,160.3ZM35.8,164A110.2,110.2 0 0 1 35.2,131.1L38.5,131.5A106.9,106.9 0 0 0 39.1,163.4ZM41.5,163A104.5,104.5 0 0 1 40.9,131.8L54,133.5A91.3,91.3 0 0 0 54.5,160.8ZM57.1,160.3A88.6,88.6 0 0 1 56.7,133.9L69.1,135.5A76.1,76.1 0 0 0 69.5,158.2ZM71.8,157.8A73.7,73.7 0 0 1 71.4,135.9L84.7,137.6A60.3,60.3 0 0 0 85.1,155.6ZM87.6,155.2A57.7,57.7 0 0 1 87.3,137.9L99.2,139.5A45.7,45.7 0 0 0 99.4,153.1ZM101.9,152.7A43.2,43.2 0 0 1 101.6,139.8L114.5,141.5A30.3,30.3 0 0 0 114.6,150.6ZM35.5,129.1A110.2,110.2 0 0 1 44.7,98.7L47.7,100.2A106.9,106.9 0 0 0 38.8,129.6ZM41.2,130A104.5,104.5 0 0 1 49.9,101.2L61.8,106.8A91.3,91.3 0 0 0 54.2,131.9ZM56.9,132.3A88.6,88.6 0 0 1 64.3,107.9L75.6,113.2A76.1,76.1 0 0 0 69.2,134.2ZM71.6,134.6A73.7,73.7 0 0 1 77.8,114.2L89.9,119.9A60.3,60.3 0 0 0 84.9,136.5ZM87.4,136.9A57.7,57.7 0 0 1 92.2,121L103.1,126.1A45.7,45.7 0 0 0 99.3,138.7ZM101.7,139.1A43.2,43.2 0 0 1 105.3,127.2L117.1,132.7A30.3,30.3 0 0 0 114.5,141ZM45.5,97A110.2,110.2 0 0 1 62.6,71.7L65,74A106.9,106.9 0 0 0 48.5,98.5ZM50.7,99.5A104.5,104.5 0 0 1 66.8,75.6L76.6,84.4A91.3,91.3 0 0 0 62.5,105.3ZM64.9,106.5A88.6,88.6 0 0 1 78.6,86.2L87.9,94.6A76.1,76.1 0 0 0 76.2,112ZM78.3,113.1A73.7,73.7 0 0 1 89.7,96.2L99.7,105.2A60.3,60.3 0 0 0 90.4,119ZM92.7,120.1A57.7,57.7 0 0 1 101.6,106.9L110.5,114.9A45.7,45.7 0 0 0 103.5,125.4ZM105.7,126.5A43.2,43.2 0 0 1 112.4,116.6L122,125.2A30.3,30.3 0 0 0 117.3,132.2ZM63.9,70.3A110.2,110.2 0 0 1 87.4,51.2L89.2,54A106.9,106.9 0 0 0 66.3,72.6ZM68.1,74.2A104.5,104.5 0 0 1 90.4,56.1L97.3,67.4A91.3,91.3 0 0 0 77.7,83.2ZM79.7,85.1A88.6,88.6 0 0 1 98.6,69.7L105.1,80.4A76.1,76.1 0 0 0 88.9,93.6ZM90.6,95.2A73.7,73.7 0 0 1 106.4,82.4L113.3,93.9A60.3,60.3 0 0 0 100.4,104.4ZM102.3,106.1A57.7,57.7 0 0 1 114.6,96.1L120.8,106.4A45.7,45.7 0 0 0 111.1,114.3ZM112.9,116A43.2,43.2 0 0 1 122.1,108.5L128.8,119.6A30.3,30.3 0 0 0 122.3,124.8ZM89.1,50.2A110.2,110.2 0 0 1 117,38.7L117.8,42A106.9,106.9 0 0 0 90.8,53.1ZM92,55.1A104.5,104.5 0 0 1 118.4,44.3L121.7,57.1A91.3,91.3 0 0 0 98.6,66.5ZM100,68.9A88.6,88.6 0 0 1 122.4,59.7L125.5,71.8A76.1,76.1 0 0 0 106.3,79.7ZM107.5,81.8A73.7,73.7 0 0 1 126.1,74.1L129.4,87.1A60.3,60.3 0 0 0 114.2,93.4ZM115.5,95.6A57.7,57.7 0 0 1 130.1,89.6L133.1,101.2A45.7,45.7 0 0 0 121.5,106ZM122.8,108.1A43.2,43.2 0 0 1 133.7,103.6L136.9,116.2A30.3,30.3 0 0 0 129.3,119.3ZM118.9,38.3A110.2,110.2 0 0 1 144.6,35.3L144.6,38.6A106.9,106.9 0 0 0 119.7,41.5ZM120.2,43.9A104.5,104.5 0 0 1 144.6,41L144.6,54.2A91.3,91.3 0 0 0 123.3,56.7ZM123.9,59.3A88.6,88.6 0 0 1 144.6,56.9L144.6,69.4A76.1,76.1 0 0 0 126.8,71.5ZM127.4,73.8A73.7,73.7 0 0 1 144.6,71.8L144.6,85.2A60.3,60.3 0 0 0 130.5,86.9ZM131.1,89.4A57.7,57.7 0 0 1 144.6,87.8L144.5,99.8A45.7,45.7 0 0 0 133.9,101.1ZM134.4,103.4A43.2,43.2 0 0 1 144.5,102.3L144.5,115.2A30.3,30.3 0 0 0 137.5,116ZM146.6,35.3A110.2,110.2 0 0 1 170.5,38.4L169.8,41.6A106.9,106.9 0 0 0 146.5,38.6ZM146.5,41A104.5,104.5 0 0 1 169.2,44L166.1,56.8A91.3,91.3 0 0 0 146.2,54.2ZM146.2,56.9A88.6,88.6 0 0 1 165.4,59.4L162.5,71.6A76.1,76.1 0 0 0 145.9,69.4ZM145.9,71.8A73.7,73.7 0 0 1 161.9,73.9L158.7,86.9A60.3,60.3 0 0 0 145.6,85.2ZM145.6,87.8A57.7,57.7 0 0 1 158.1,89.4L155.3,101.1A45.7,45.7 0 0 0 145.4,99.8ZM145.3,102.3A43.2,43.2 0 0 1 154.7,103.5L151.7,116.1A30.3,30.3 0 0 0 145.1,115.2ZM172.4,38.9A110.2,110.2 0 0 1 194,47L192.5,50A106.9,106.9 0 0 0 171.6,42.1ZM171,44.4A104.5,104.5 0 0 1 191.4,52.1L185.5,63.9A91.3,91.3 0 0 0 167.6,57.2ZM167,59.8A88.6,88.6 0 0 1 184.3,66.3L178.7,77.5A76.1,76.1 0 0 0 163.8,71.9ZM163.2,74.2A73.7,73.7 0 0 1 177.6,79.7L171.6,91.6A60.3,60.3 0 0 0 159.8,87.2ZM159.1,89.7A57.7,57.7 0 0 1 170.4,94L165,104.7A45.7,45.7 0 0 0 156.1,101.3ZM155.5,103.7A43.2,43.2 0 0 1 163.9,106.9L158.1,118.4A30.3,30.3 0 0 0 152.2,116.2ZM195.8,47.9A110.2,110.2 0 0 1 212.8,59L210.8,61.6A106.9,106.9 0 0 0 194.2,50.9ZM193.1,53A104.5,104.5 0 0 1 209.3,63.5L201.1,73.9A91.3,91.3 0 0 0 187,64.7ZM185.7,67.1A88.6,88.6 0 0 1 199.4,76L191.7,85.8A76.1,76.1 0 0 0 179.9,78.1ZM178.8,80.3A73.7,73.7 0 0 1 190.2,87.7L181.9,98.2A60.3,60.3 0 0 0 172.5,92.1ZM171.3,94.4A57.7,57.7 0 0 1 180.3,100.2L172.8,109.6A45.7,45.7 0 0 0 165.8,105ZM164.6,107.2A43.2,43.2 0 0 1 171.3,111.6L163.3,121.7A30.3,30.3 0 0 0 158.6,118.7ZM214.4,60.2A110.2,110.2 0 0 1 227.5,72.9L225,75.1A106.9,106.9 0 0 0 212.2,62.8ZM210.7,64.7A104.5,104.5 0 0 1 223.2,76.7L213.2,85.4A91.3,91.3 0 0 0 202.4,74.9ZM200.6,77A88.6,88.6 0 0 1 211.2,87.2L201.8,95.4A76.1,76.1 0 0 0 192.7,86.6ZM191.2,88.5A73.7,73.7 0 0 1 200,97L189.9,105.8A60.3,60.3 0 0 0 182.7,98.9ZM181.1,100.9A57.7,57.7 0 0 1 187.9,107.5L178.9,115.4A45.7,45.7 0 0 0 173.5,110.1ZM171.9,112A43.2,43.2 0 0 1 177.1,117L167.3,125.6A30.3,30.3 0 0 0 163.7,122.1ZM228.8,74.4A110.2,110.2 0 0 1 239,88.7L236.1,90.5A106.9,106.9 0 0 0 226.2,76.6ZM224.4,78.1A104.5,104.5 0 0 1 234.1,91.7L222.8,98.5A91.3,91.3 0 0 0 214.3,86.6ZM212.2,88.4A88.6,88.6 0 0 1 220.5,99.9L209.7,106.3A76.1,76.1 0 0 0 202.7,96.4ZM200.8,98A73.7,73.7 0 0 1 207.7,107.6L196.2,114.5A60.3,60.3 0 0 0 190.6,106.6ZM188.6,108.3A57.7,57.7 0 0 1 194,115.8L183.7,122A45.7,45.7 0 0 0 179.4,116ZM177.6,117.6A43.2,43.2 0 0 1 181.6,123.2L170.5,129.9A30.3,30.3 0 0 0 167.7,126ZM240,90.4A110.2,110.2 0 0 1 246,102.4L242.9,103.7A106.9,106.9 0 0 0 237.1,92.1ZM235,93.3A104.5,104.5 0 0 1 240.7,104.6L228.5,109.8A91.3,91.3 0 0 0 223.6,99.9ZM221.3,101.2A88.6,88.6 0 0 1 226,110.8L214.5,115.7A76.1,76.1 0 0 0 210.4,107.5ZM208.3,108.7A73.7,73.7 0 0 1 212.3,116.7L200,121.9A60.3,60.3 0 0 0 196.7,115.4ZM194.5,116.7A57.7,57.7 0 0 1 197.6,122.9L186.6,127.6A45.7,45.7 0 0 0 184.1,122.7ZM182,123.9A43.2,43.2 0 0 1 184.3,128.6L172.4,133.6A30.3,30.3 0 0 0 170.8,130.4ZM246.7,104.2A110.2,110.2 0 0 1 251.2,117.6L247.9,118.5A106.9,106.9 0 0 0 243.6,105.4ZM241.4,106.3A104.5,104.5 0 0 1 245.6,119.1L232.8,122.4A91.3,91.3 0 0 0 229.1,111.3ZM226.6,112.3A88.6,88.6 0 0 1 230.2,123.1L218.1,126.3A76.1,76.1 0 0 0 215,117ZM212.8,117.9A73.7,73.7 0 0 1 215.8,126.9L202.8,130.3A60.3,60.3 0 0 0 200.4,122.9ZM198,123.9A57.7,57.7 0 0 1 200.3,130.9L188.7,134A45.7,45.7 0 0 0 186.9,128.4ZM184.6,129.3A43.2,43.2 0 0 1 186.3,134.6L173.8,137.8A30.3,30.3 0 0 0 172.6,134.1ZM251.7,119.5A110.2,110.2 0 0 1 253.7,130.2L250.4,130.7A106.9,106.9 0 0 0 248.4,120.3ZM246.1,120.9A104.5,104.5 0 0 1 248,131L234.9,132.8A91.3,91.3 0 0 0 233.2,124ZM230.6,124.6A88.6,88.6 0 0 1 232.2,133.2L219.9,134.9A76.1,76.1 0 0 0 218.5,127.6ZM216.1,128.2A73.7,73.7 0 0 1 217.5,135.3L204.2,137.1A60.3,60.3 0 0 0 203.1,131.3ZM200.6,131.9A57.7,57.7 0 0 1 201.6,137.5L189.8,139.2A45.7,45.7 0 0 0 188.9,134.7ZM186.5,135.3A43.2,43.2 0 0 1 187.3,139.5L174.5,141.3A30.3,30.3 0 0 0 173.9,138.4ZM253.9,132.1A110.2,110.2 0 0 1 254.7,143.7L251.4,143.7A106.9,106.9 0 0 0 250.6,132.6ZM248.2,132.8A104.5,104.5 0 0 1 249,143.8L235.8,144A91.3,91.3 0 0 0 235.1,134.4ZM232.4,134.8A88.6,88.6 0 0 1 233.1,144L220.6,144.2A76.1,76.1 0 0 0 220,136.3ZM217.7,136.6A73.7,73.7 0 0 1 218.2,144.3L204.8,144.5A60.3,60.3 0 0 0 204.4,138.2ZM201.8,138.5A57.7,57.7 0 0 1 202.2,144.5L190.2,144.7A45.7,45.7 0 0 0 189.9,140ZM187.4,140.3A43.2,43.2 0 0 1 187.7,144.8L174.8,145A30.3,30.3 0 0 0 174.6,141.8Z" fill="none" stroke="#0a0a0a" stroke-width="1.05"/><path d="M256.3,145.5A111.8,111.8 0 0 1 242.1,200.1M241.1,201.8A111.8,111.8 0 0 1 202.5,241.1M200.8,242.1A111.8,111.8 0 0 1 158.2,256.5M156.2,256.7A111.8,111.8 0 0 1 113,252.8M111.1,252.2A111.8,111.8 0 0 1 74.7,232.9M73.2,231.6A111.8,111.8 0 0 1 48,201.9M47,200.2A111.8,111.8 0 0 1 34.6,166.2M34.3,164.2A111.8,111.8 0 0 1 33.7,130.9M33.9,128.9A111.8,111.8 0 0 1 43.3,98.1M44.1,96.3A111.8,111.8 0 0 1 61.4,70.7M62.8,69.2A111.8,111.8 0 0 1 86.6,49.8M88.4,48.8A111.8,111.8 0 0 1 116.6,37.2M118.5,36.8A111.8,111.8 0 0 1 144.6,33.7M146.6,33.7A111.8,111.8 0 0 1 170.9,36.9M172.8,37.4A111.8,111.8 0 0 1 194.7,45.6M196.5,46.5A111.8,111.8 0 0 1 213.8,57.8M215.4,59A111.8,111.8 0 0 1 228.7,71.9M230,73.4A111.8,111.8 0 0 1 240.3,87.9M241.4,89.7A111.8,111.8 0 0 1 247.4,101.7M248.1,103.6A111.8,111.8 0 0 1 252.7,117.3M253.2,119.2A111.8,111.8 0 0 1 255.2,130M255.5,132A111.8,111.8 0 0 1 256.3,143.7" fill="none" stroke="#111" stroke-width="0.75"/><path d="M256.3,145.5L258.9,145.5M256.3,147.8L257.6,147.8M256.2,150.1L257.5,150.1M256.1,152.4L257.4,152.4M255.9,154.6L257.2,154.7M255.7,156.9L258.3,157.2M255.5,159.2L256.7,159.3M255.2,161.5L256.4,161.6M254.8,163.7L256.1,163.9M254.4,166L255.7,166.2M254,168.2L256.5,168.7M253.5,170.4L254.7,170.7M252.9,172.7L254.2,173M252.4,174.9L253.6,175.2M251.7,177.1L253,177.4M251.1,179.3L253.6,180.1M250.4,181.4L251.6,181.9M249.6,183.6L250.8,184M248.8,185.7L250,186.2M248,187.9L249.2,188.4M247.1,190L249.5,191M246.1,192.1L247.3,192.6M245.2,194.1L246.3,194.7M244.2,196.2L245.3,196.8M243.1,198.2L244.2,198.8M241.1,201.8L243.3,203.1M239.9,203.8L241,204.4M238.7,205.7L239.8,206.4M237.5,207.6L238.5,208.3M236.2,209.5L237.2,210.2M234.8,211.4L236.9,212.9M233.5,213.2L234.5,214M232.1,215L233.1,215.8M230.6,216.8L231.6,217.6M229.2,218.5L230.1,219.4M227.6,220.2L229.6,222M226.1,221.9L227,222.8M224.5,223.6L225.5,224.5M222.9,225.2L223.8,226.1M221.3,226.8L222.2,227.7M219.6,228.3L221.3,230.3M217.9,229.9L218.7,230.8M216.1,231.3L217,232.3M214.4,232.8L215.2,233.8M212.6,234.2L213.4,235.2M210.7,235.6L212.3,237.7M208.9,236.9L209.6,238M207,238.2L207.7,239.3M205.1,239.5L205.8,240.6M203.1,240.7L203.8,241.8M200.8,242.1L202.1,244.3M198.8,243.2L199.5,244.3M196.8,244.3L197.4,245.5M194.8,245.4L195.4,246.5M192.7,246.4L193.3,247.5M190.7,247.3L191.7,249.7M188.6,248.2L189.1,249.4M186.5,249.1L186.9,250.3M184.3,250L184.8,251.2M182.2,250.8L182.6,252M180,251.5L180.8,254M177.8,252.2L178.2,253.5M175.7,252.9L176,254.1M173.5,253.5L173.8,254.7M171.2,254.1L171.5,255.3M169,254.6L169.6,257.1M166.8,255.1L167,256.3M164.5,255.5L164.8,256.8M162.3,255.9L162.5,257.2M160,256.2L160.2,257.5M156.2,256.7L156.5,259.3M153.9,256.9L154.1,258.2M151.7,257.1L151.7,258.4M149.4,257.2L149.4,258.5M147.1,257.3L147.1,258.6M144.8,257.3L144.8,259.9M142.5,257.3L142.5,258.6M140.2,257.2L140.2,258.5M138,257.1L137.9,258.4M135.7,257L135.6,258.2M133.4,256.7L133.1,259.3M131.1,256.5L131,257.8M128.9,256.2L128.7,257.5M126.6,255.9L126.4,257.1M124.3,255.5L124.1,256.7M122.1,255L121.6,257.6M119.9,254.6L119.6,255.8M117.6,254L117.3,255.3M115.4,253.5L115.1,254.7M113.2,252.8L112.9,254.1M111.1,252.2L110.3,254.7M108.9,251.5L108.5,252.7M106.7,250.7L106.3,251.9M104.6,249.9L104.1,251.1M102.5,249.1L102,250.3M100.3,248.2L99.3,250.6M98.3,247.3L97.7,248.5M96.2,246.3L95.6,247.5M94.1,245.3L93.5,246.5M92.1,244.3L91.5,245.4M90.1,243.2L88.8,245.4M88.1,242L87.4,243.2M86.1,240.9L85.5,242M84.2,239.6L83.5,240.7M82.3,238.4L81.6,239.5M80.4,237.1L78.9,239.2M78.5,235.8L77.8,236.8M76.7,234.4L75.9,235.4M74.9,233L74.1,234M73.2,231.6L71.5,233.6M71.5,230.1L70.6,231.1M69.7,228.6L68.9,229.6M68.1,227.1L67.2,228M66.4,225.5L65.5,226.4M64.8,223.9L62.9,225.7M63.2,222.2L62.2,223.1M61.6,220.6L60.7,221.4M60.1,218.8L59.1,219.7M58.6,217.1L57.6,217.9M57.2,215.3L55.2,217M55.8,213.5L54.8,214.3M54.4,211.7L53.4,212.5M53.1,209.8L52,210.6M51.8,208L50.7,208.7M50.5,206.1L48.3,207.5M49.3,204.1L48.2,204.8M48.1,202.2L47,202.8M47,200.2L44.7,201.5M45.9,198.2L44.8,198.8M44.8,196.2L43.7,196.8M43.8,194.1L42.7,194.7M42.9,192.1L41.7,192.6M41.9,190L39.5,191M41,187.9L39.8,188.4M40.2,185.7L39,186.2M39.4,183.6L38.2,184M38.6,181.4L37.4,181.9M37.9,179.3L35.4,180.1M37.3,177.1L36,177.5M36.6,174.9L35.4,175.2M36.1,172.7L34.8,173M35.5,170.4L34.3,170.7M35,168.2L32.5,168.7M34.3,164.2L31.7,164.6M33.9,162L32.6,162.1M33.6,159.7L32.3,159.9M33.3,157.4L32,157.6M33.1,155.1L31.8,155.3M32.9,152.9L30.3,153M32.8,150.6L31.5,150.6M32.7,148.3L31.4,148.3M32.7,146L31.4,146M32.7,143.7L31.4,143.7M32.8,141.4L30.2,141.3M32.9,139.1L31.6,139.1M33,136.9L31.7,136.8M33.2,134.6L31.9,134.5M33.5,132.3L32.2,132.2M33.9,128.9L31.4,128.5M34.3,126.6L33,126.4M34.7,124.4L33.4,124.1M35.2,122.1L33.9,121.9M35.7,119.9L34.4,119.6M36.2,117.7L33.7,117M36.8,115.5L35.6,115.1M37.4,113.3L36.2,112.9M38.1,111.1L36.9,110.7M38.8,108.9L37.6,108.5M39.6,106.8L37.2,105.9M40.4,104.6L39.2,104.2M41.3,102.5L40.1,102M42.2,100.4L41,99.9M43.1,98.3L42,97.8M44.1,96.3L41.8,95.2M45.1,94.3L44,93.7M46.2,92.2L45.1,91.6M47.3,90.2L46.2,89.6M48.5,88.3L47.4,87.6M49.7,86.3L47.5,84.9M50.9,84.4L49.8,83.7M52.2,82.5L51.1,81.7M53.5,80.6L52.4,79.8M54.8,78.7L53.8,78M56.2,76.9L54.1,75.3M57.6,75.1L56.6,74.3M59.1,73.4L58.1,72.5M60.6,71.6L59.6,70.8M62.8,69.2L60.8,67.5M64.3,67.6L63.4,66.7M65.9,66L65,65M67.6,64.4L66.7,63.4M69.3,62.8L68.4,61.8M71,61.3L69.3,59.3M72.7,59.8L71.9,58.8M74.5,58.4L73.7,57.3M76.3,56.9L75.5,55.9M78.1,55.6L77.3,54.5M79.9,54.2L78.4,52.1M81.8,52.9L81.1,51.8M83.7,51.7L83,50.6M85.7,50.4L85,49.3M88.4,48.8L87,46.6M90.3,47.7L89.7,46.6M92.4,46.6L91.7,45.5M94.4,45.6L93.8,44.4M96.4,44.6L95.9,43.4M98.5,43.6L97.4,41.2M100.6,42.7L100.1,41.5M102.7,41.8L102.2,40.6M104.9,41L104.4,39.8M107,40.2L106.6,39M109.2,39.4L108.3,37M111.3,38.7L111,37.5M113.5,38.1L113.2,36.8M115.7,37.5L115.4,36.2M118.5,36.8L117.9,34.2M120.7,36.3L120.5,35M123,35.8L122.7,34.5M125.2,35.4L125,34.1M127.5,35L127.3,33.7M129.8,34.7L129.4,32.1M132,34.4L131.9,33.1M134.3,34.2L134.2,32.9M136.6,34L136.5,32.7M138.9,33.8L138.8,32.5M141.1,33.8L141.1,31.2M143.4,33.7L143.4,32.4M146.6,33.7L146.7,31.1M148.9,33.8L148.9,32.5M151.2,33.9L151.3,32.6M153.5,34.1L153.6,32.8M155.7,34.3L155.9,33M158,34.5L158.3,31.9M160.3,34.8L160.5,33.5M162.5,35.2L162.8,33.9M164.8,35.6L165,34.3M167,36L167.3,34.7M169.3,36.5L169.8,33.9M172.8,37.4L173.5,34.8M175,38L175.4,36.7M177.2,38.6L177.6,37.4M179.4,39.3L179.8,38.1M181.6,40L182,38.8M183.7,40.8L184.6,38.4M185.9,41.6L186.3,40.4M188,42.5L188.5,41.3M190.1,43.4L190.6,42.2M192.2,44.4L192.7,43.2M194.2,45.4L195.4,43M196.5,46.5L197.7,44.2M198.5,47.6L199.1,46.5M200.5,48.7L201.2,47.6M202.5,49.9L203.1,48.8M204.4,51.1L205.1,50M206.3,52.4L207.8,50.2M208.2,53.6L209,52.6M210.1,55L210.9,53.9M211.9,56.3L212.7,55.3M213.7,57.7L214.5,56.7M215.4,59L217,57M217.1,60.5L217.9,59.5M218.8,62L219.7,61M220.5,63.5L221.4,62.6M222.2,65.1L223.1,64.2M223.8,66.7L225.7,64.9M225.4,68.3L226.3,67.4M227,70L227.9,69.1M228.5,71.7L229.5,70.9M230,73.4L232,71.8M231.4,75.2L232.4,74.4M232.8,77L233.9,76.2M234.2,78.8L235.3,78M235.6,80.7L236.6,79.9M236.9,82.5L239,81.1M238.2,84.4L239.2,83.7M239.4,86.4L240.5,85.7M241.4,89.7L243.6,88.4M242.5,91.7L243.6,91M243.6,93.7L244.7,93.1M244.6,95.7L245.8,95.1M245.6,97.8L246.8,97.2M246.6,99.8L248.9,98.8M248.1,103.6L250.6,102.6M249,105.7L250.2,105.3M249.8,107.9L251,107.4M250.5,110L251.8,109.6M251.2,112.2L252.5,111.8M251.9,114.4L254.4,113.7M252.5,116.6L253.8,116.3M253.2,119.2L255.7,118.6M253.7,121.4L254.9,121.1M254.1,123.7L255.4,123.4M254.6,125.9L255.8,125.7M254.9,128.2L256.2,128M255.5,132L258.1,131.6M255.7,134.2L257,134.1M255.9,136.5L257.2,136.4M256.1,138.8L257.4,138.7M256.2,141.1L257.5,141M256.3,143.4L258.9,143.3" fill="none" stroke="#111" stroke-width="0.75"/><text x="261.7" y="149.6" font-size="3.6" text-anchor="middle" fill="#333" transform="rotate(-88 261.7 149.6)" dominant-baseline="central">0MB</text><text x="259.8" y="167" font-size="3.6" text-anchor="middle" fill="#333" transform="rotate(-79.5 259.8 167)" dominant-baseline="central">90MB</text><text x="253.9" y="187.7" font-size="3.6" text-anchor="middle" fill="#333" transform="rotate(-68.9 253.9 187.7)" dominant-baseline="central">180MB</text><text x="262.1" y="176.1" font-size="5.6" text-anchor="middle" fill="#222" transform="rotate(-75.4 262.1 176.1)" dominant-baseline="central">1</text><text x="243.7" y="208.1" font-size="3.6" text-anchor="middle" fill="#333" transform="rotate(-57.8 243.7 208.1)" dominant-baseline="central">0MB</text><text x="233.3" y="222.1" font-size="3.6" text-anchor="middle" fill="#333" transform="rotate(-49.2 233.3 222.1)" dominant-baseline="central">90MB</text><text x="217.8" y="237.1" font-size="3.6" text-anchor="middle" fill="#333" transform="rotate(-38.7 217.8 237.1)" dominant-baseline="central">180MB</text><text x="231.2" y="230.6" font-size="5.6" text-anchor="middle" fill="#222" transform="rotate(-45.5 231.2 230.6)" dominant-baseline="central">2</text><text x="200" y="248.8" font-size="3.6" text-anchor="middle" fill="#333" transform="rotate(-28.2 200 248.8)" dominant-baseline="central">0MB</text><text x="184" y="255.9" font-size="3.6" text-anchor="middle" fill="#333" transform="rotate(-19.7 184 255.9)" dominant-baseline="central">90MB</text><text x="163.2" y="261.3" font-size="3.6" text-anchor="middle" fill="#333" transform="rotate(-9.1 163.2 261.3)" dominant-baseline="central">180MB</text><text x="183.3" y="260.6" font-size="5.6" text-anchor="middle" fill="#222" transform="rotate(-18.6 183.3 260.6)" dominant-baseline="central">3</text><text x="152.7" y="262.5" font-size="3.6" text-anchor="middle" fill="#333" transform="rotate(-4 152.7 262.5)" dominant-baseline="central">0MB</text><text x="135.2" y="262.4" font-size="3.6" text-anchor="middle" fill="#333" transform="rotate(4.5 135.2 262.4)" dominant-baseline="central">90MB</text><text x="114" y="258.8" font-size="3.6" text-anchor="middle" fill="#333" transform="rotate(15.1 114 258.8)" dominant-baseline="central">180MB</text><text x="133.5" y="266.5" font-size="5.6" text-anchor="middle" fill="#222" transform="rotate(5.2 133.5 266.5)" dominant-baseline="central">4</text><text x="105.5" y="256.1" font-size="3.6" text-anchor="middle" fill="#333" transform="rotate(19.4 105.5 256.1)" dominant-baseline="central">0MB</text><text x="89.5" y="249.1" font-size="3.6" text-anchor="middle" fill="#333" transform="rotate(28 89.5 249.1)" dominant-baseline="central">90MB</text><text x="87.5" y="252.8" font-size="5.6" text-anchor="middle" fill="#222" transform="rotate(28 87.5 252.8)" dominant-baseline="central">5</text><text x="66.6" y="233.2" font-size="3.6" text-anchor="middle" fill="#333" transform="rotate(41.6 66.6 233.2)" dominant-baseline="central">0MB</text><text x="54.4" y="220.6" font-size="3.6" text-anchor="middle" fill="#333" transform="rotate(50.2 54.4 220.6)" dominant-baseline="central">90MB</text><text x="51.9" y="224.2" font-size="5.6" text-anchor="middle" fill="#222" transform="rotate(49.7 51.9 224.2)" dominant-baseline="central">6</text><text x="40.3" y="199.3" font-size="3.6" text-anchor="middle" fill="#333" transform="rotate(62.7 40.3 199.3)" dominant-baseline="central">0MB</text><text x="33.4" y="183.2" font-size="3.6" text-anchor="middle" fill="#333" transform="rotate(71.2 33.4 183.2)" dominant-baseline="central">90MB</text><text x="30.3" y="187" font-size="5.6" text-anchor="middle" fill="#222" transform="rotate(70 30.3 187)" dominant-baseline="central">7</text><text x="28.2" y="161.1" font-size="3.6" text-anchor="middle" fill="#333" transform="rotate(82.4 28.2 161.1)" dominant-baseline="central">0MB</text><text x="27.2" y="143.6" font-size="3.6" text-anchor="middle" fill="#333" transform="rotate(270.9 27.2 143.6)" dominant-baseline="central">90MB</text><text x="23" y="147.7" font-size="5.6" text-anchor="middle" fill="#222" transform="rotate(88.9 23 147.7)" dominant-baseline="central">8</text><text x="29.2" y="124" font-size="3.6" text-anchor="middle" fill="#333" transform="rotate(280.5 29.2 124)" dominant-baseline="central">0MB</text><text x="33.7" y="107.1" font-size="3.6" text-anchor="middle" fill="#333" transform="rotate(289.1 33.7 107.1)" dominant-baseline="central">90MB</text><text x="28.2" y="110.3" font-size="5.6" text-anchor="middle" fill="#222" transform="rotate(286.8 28.2 110.3)" dominant-baseline="central">9</text><text x="41" y="90.2" font-size="3.6" text-anchor="middle" fill="#333" transform="rotate(298.1 41 90.2)" dominant-baseline="central">0MB</text><text x="50.4" y="75.5" font-size="3.6" text-anchor="middle" fill="#333" transform="rotate(306.7 50.4 75.5)" dominant-baseline="central">90MB</text><text x="43.8" y="77.5" font-size="5.6" text-anchor="middle" fill="#222" transform="rotate(304.1 43.8 77.5)" dominant-baseline="central">10</text><text x="61.6" y="62.5" font-size="3.6" text-anchor="middle" fill="#333" transform="rotate(315 61.6 62.5)" dominant-baseline="central">0MB</text><text x="74.8" y="51.1" font-size="3.6" text-anchor="middle" fill="#333" transform="rotate(323.6 74.8 51.1)" dominant-baseline="central">90MB</text><text x="67.9" y="51.2" font-size="5.6" text-anchor="middle" fill="#222" transform="rotate(320.9 67.9 51.2)" dominant-baseline="central">11</text><text x="89.2" y="42.1" font-size="3.6" text-anchor="middle" fill="#333" transform="rotate(331.9 89.2 42.1)" dominant-baseline="central">0MB</text><text x="105.2" y="35" font-size="3.6" text-anchor="middle" fill="#333" transform="rotate(340.4 105.2 35)" dominant-baseline="central">90MB</text><text x="98.4" y="33.1" font-size="5.6" text-anchor="middle" fill="#222" transform="rotate(337.7 98.4 33.1)" dominant-baseline="central">12</text><text x="121.2" y="30.5" font-size="3.6" text-anchor="middle" fill="#333" transform="rotate(348.6 121.2 30.5)" dominant-baseline="central">0MB</text><text x="138.6" y="28.3" font-size="3.6" text-anchor="middle" fill="#333" transform="rotate(357.1 138.6 28.3)" dominant-baseline="central">90MB</text><text x="130.3" y="24.8" font-size="5.6" text-anchor="middle" fill="#222" transform="rotate(353.3 130.3 24.8)" dominant-baseline="central">13</text><text x="150.8" y="28.4" font-size="3.6" text-anchor="middle" fill="#333" transform="rotate(363.1 150.8 28.4)" dominant-baseline="central">0MB</text><text x="168.1" y="30.6" font-size="3.6" text-anchor="middle" fill="#333" transform="rotate(371.6 168.1 30.6)" dominant-baseline="central">90MB</text><text x="160.1" y="25" font-size="5.6" text-anchor="middle" fill="#222" transform="rotate(367.4 160.1 25)" dominant-baseline="central">14</text><text x="178.2" y="33.1" font-size="3.6" text-anchor="middle" fill="#333" transform="rotate(376.7 178.2 33.1)" dominant-baseline="central">0MB</text><text x="194.5" y="39.4" font-size="3.6" text-anchor="middle" fill="#333" transform="rotate(385.2 194.5 39.4)" dominant-baseline="central">90MB</text><text x="187.4" y="31.8" font-size="5.6" text-anchor="middle" fill="#222" transform="rotate(380.7 187.4 31.8)" dominant-baseline="central">15</text><text x="202.6" y="43.6" font-size="3.6" text-anchor="middle" fill="#333" transform="rotate(389.7 202.6 43.6)" dominant-baseline="central">0MB</text><text x="210.7" y="43.6" font-size="5.6" text-anchor="middle" fill="#222" transform="rotate(393 210.7 43.6)" dominant-baseline="central">16</text><text x="222" y="57.4" font-size="3.6" text-anchor="middle" fill="#333" transform="rotate(401.3 222 57.4)" dominant-baseline="central">0MB</text><text x="229" y="58.2" font-size="5.6" text-anchor="middle" fill="#222" transform="rotate(404.1 229 58.2)" dominant-baseline="central">17</text><text x="236.8" y="73.1" font-size="3.6" text-anchor="middle" fill="#333" transform="rotate(411.9 236.8 73.1)" dominant-baseline="central">0MB</text><text x="243.3" y="74.8" font-size="5.6" text-anchor="middle" fill="#222" transform="rotate(414.4 243.3 74.8)" dominant-baseline="central">18</text><text x="248.1" y="90.5" font-size="3.6" text-anchor="middle" fill="#333" transform="rotate(422 248.1 90.5)" dominant-baseline="central">0MB</text><text x="253.2" y="91.3" font-size="5.6" text-anchor="middle" fill="#222" transform="rotate(423.5 253.2 91.3)" dominant-baseline="central">19</text><text x="254.7" y="105.3" font-size="3.6" text-anchor="middle" fill="#333" transform="rotate(430 254.7 105.3)" dominant-baseline="central">0MB</text><text x="259.8" y="107.3" font-size="5.6" text-anchor="middle" fill="#222" transform="rotate(431.7 259.8 107.3)" dominant-baseline="central">20</text><text x="259.4" y="121.9" font-size="3.6" text-anchor="middle" fill="#333" transform="rotate(438.4 259.4 121.9)" dominant-baseline="central">0MB</text><text x="263.8" y="122.7" font-size="5.6" text-anchor="middle" fill="#222" transform="rotate(439.2 263.8 122.7)" dominant-baseline="central">21</text><text x="261.4" y="135.4" font-size="3.6" text-anchor="middle" fill="#333" transform="rotate(445 261.4 135.4)" dominant-baseline="central">0MB</text><text x="265.7" y="137.1" font-size="5.6" text-anchor="middle" fill="#222" transform="rotate(446 265.7 137.1)" dominant-baseline="central">22</text><path d="M81.2,38.1L114,22.5L138.1,121L131.1,122.6Z" fill="none" stroke="#a1192e" stroke-width="1.15" stroke-linejoin="miter"/><path d="M205.8,148.3L234,148.3" stroke="#b5173a" stroke-width="1"/><path d="M114,22.5L285.5,9.1M138.1,121L384.2,147.4M235.5,147.8L291,154.5M234.4,151.4L278.8,255.4" fill="none" stroke="#c0223f" stroke-width="1.15" stroke-dasharray="2.9 2.9"/><path d="M256.6,54.9A222.8,222.8 0 0 1 257.4,53.8L263.1,58A215.7,215.7 0 0 0 262.4,59Z" fill="#000"/><path d="M258.2,52.7A222.8,222.8 0 0 1 258.8,51.8L264.5,56.1A215.7,215.7 0 0 0 263.9,56.9Z" fill="#000"/><path d="M259.5,51A222.8,222.8 0 0 1 260.8,49.2L266.4,53.5A215.7,215.7 0 0 0 265.1,55.2Z" fill="#303030"/><path d="M262.2,47.5A222.8,222.8 0 0 1 262.7,46.8L268.3,51.2A215.7,215.7 0 0 0 267.8,51.8Z" fill="#8c8c8c"/><path d="M263.7,45.5A222.8,222.8 0 0 1 264.5,44.5L270,49A215.7,215.7 0 0 0 269.2,50Z" fill="#d7191c"/><path d="M264.5,44.5A222.8,222.8 0 0 1 265.2,43.7L270.7,48.2A215.7,215.7 0 0 0 270,49Z" fill="#000"/><path d="M267.5,40.9A222.8,222.8 0 0 1 268.3,39.9L273.7,44.6A215.7,215.7 0 0 0 272.9,45.5Z" fill="#000"/><path d="M269.8,38.3A222.8,222.8 0 0 1 270.7,37.3L276,42A215.7,215.7 0 0 0 275.1,42.9Z" fill="#5a5a5a"/><path d="M271.5,36.3A222.8,222.8 0 0 1 272.7,35L278,39.8A215.7,215.7 0 0 0 276.8,41Z" fill="#000"/><path d="M273.9,33.7A222.8,222.8 0 0 1 275.4,32.1L280.6,36.9A215.7,215.7 0 0 0 279.1,38.5Z" fill="#000"/><path d="M276,31.4A222.8,222.8 0 0 1 277,30.5L282.1,35.4A215.7,215.7 0 0 0 281.2,36.3Z" fill="#000"/><path d="M278.2,29.2A222.8,222.8 0 0 1 279.4,27.9L284.5,32.9A215.7,215.7 0 0 0 283.3,34.2Z" fill="#8c8c8c"/><path d="M280.7,26.7A222.8,222.8 0 0 1 281.9,25.4L286.9,30.5A215.7,215.7 0 0 0 285.7,31.7Z" fill="#bbbbbb"/><path d="M283.2,24.2A222.8,222.8 0 0 1 284.2,23.3L289.1,28.4A215.7,215.7 0 0 0 288.1,29.3Z" fill="#9a9a9a"/><path d="M285.8,21.8A222.8,222.8 0 0 1 286.8,20.9L291.6,26.1A215.7,215.7 0 0 0 290.6,27Z" fill="#c8c8c8"/><path d="M288.4,19.4A222.8,222.8 0 0 1 289.7,18.2L294.4,23.5A215.7,215.7 0 0 0 293.1,24.7Z" fill="#bbbbbb"/><path d="M291.4,16.8A222.8,222.8 0 0 1 292.4,15.9L297,21.3A215.7,215.7 0 0 0 296,22.1Z" fill="#d8d8d8"/><path d="M255.6,56.3A222.8,222.8 0 0 1 295.7,13.1L300.2,18.6A215.7,215.7 0 0 0 261.4,60.4ZM265.8,63.6A210.2,210.2 0 0 1 303.7,22.8L319.7,42.2A185.1,185.1 0 0 0 286.3,78.1ZM290.3,80.9A180.2,180.2 0 0 1 322.8,45.9L338.7,65.2A155.2,155.2 0 0 0 310.7,95.3ZM314.6,98.1A150.5,150.5 0 0 1 341.7,68.9L357.4,87.9A125.8,125.8 0 0 0 334.8,112.3ZM339.3,115.6A120.2,120.2 0 0 1 361,92.3L377,111.7A95,95 0 0 0 359.9,130.1ZM364.1,133.1A89.9,89.9 0 0 1 380.3,115.6L396,134.7A65.2,65.2 0 0 0 384.3,147.4Z" fill="none" stroke="#111" stroke-width="0.95"/><path d="M249.9,53.8A228.9,228.9 0 0 1 293.7,6.9M250.6,52.8L248.7,51.5M256,45.5L254.2,44.1M261.7,38.4L259.9,36.9M267.6,31.5L265.9,30M273.8,24.9L272.2,23.3M280.3,18.6L278.7,16.9M287,12.5L285.5,10.7" fill="none" stroke="#111" stroke-width="0.8"/><text x="254.1" y="23.2" font-size="8.9" text-anchor="middle" stroke="#231f20" stroke-width="0.12" transform="rotate(-48.5 254.1 23.2)" dominant-baseline="central">12</text><text x="272.1" y="16.6" font-size="6" text-anchor="middle" transform="rotate(-44.5 272.1 16.6)" dominant-baseline="central">90MB</text><text x="245.7" y="49.7" font-size="5.2" text-anchor="middle" transform="rotate(-68.5 245.7 49.7)">0MB</text><path d="M283.3,74.6L282.4,73.9L282.4,73.5L282.4,73.1L282.5,72.8L282.7,72.6L283,72.5L283.3,72.4L283.7,72.2L283.9,72.1L284.1,71.9L284.3,71.6L284.5,71.4L284.7,71.2L284.9,70.9L285.1,70.7L285.2,70.4L285.4,70.2L285.6,70L285.8,69.7L285.9,69.5L286.1,69.3L286.3,69L286.5,68.8L286.7,68.6L286.9,68.3L287,68.1L287.2,67.9L287.4,67.6L287.6,67.4L287.8,67.2L287.9,66.9L288.1,66.7L288.3,66.4L288.5,66.2L288.7,66L288.9,65.7L289.1,65.5L289.2,65.3L289.4,65L289.6,64.8L289.8,64.6L290,64.3L290.1,64.1L290.3,63.9L290.5,63.6L290.7,63.4L290.8,63.1L291,62.9L291.2,62.6L291.3,62.4L291.5,62.1L291.6,61.8L291.7,61.6L291.9,61.3L291.9,61L292,60.6L292.1,60.3L292.1,59.9L292,59.5L291.9,59L291.8,58.5L291.6,57.9L291.2,57.2L290.8,56.4L290.8,56L291.7,56.4L292.5,56.6L293.1,56.8L293.7,56.9L294.2,56.9L294.6,56.9L295,56.9L295.3,56.8L295.7,56.7L296,56.6L296.2,56.4L296.5,56.2L296.8,56.1L297,55.9L297.2,55.7L297.5,55.5L297.7,55.3L297.9,55.1L298.1,54.9L298.4,54.7L298.6,54.5L298.8,54.3L299,54.1L299.2,53.9L299.4,53.7L299.6,53.5L299.8,53.2L300,53L300.2,52.8L300.5,52.6L300.7,52.4L300.9,52.2L301.1,52L301.3,51.8L301.5,51.5L301.7,51.3L301.9,51.1L302.1,50.9L302.3,50.7L302.5,50.5L302.7,50.3L303,50.1L303.2,49.9L303.4,49.6L303.6,49.4L303.8,49.2L304,49L304.2,48.8L304.4,48.6L304.6,48.4L304.8,48.2L305,48L305.2,47.7L305.5,47.5L305.7,47.3L305.9,47.1L306.1,46.9L306.3,46.6L306.4,46.4L306.6,46.2L306.8,45.9L307,45.7L307.2,45.4L307.3,45.2L307.5,44.9L307.6,44.6L307.8,44.3L307.9,44L307.9,43.6L308,43.3L308,42.9L308,42.4L308,41.9L307.9,41.3L307.7,40.7L307.5,40L307.2,39.2L306.7,38.2L306.2,37.1L305.6,36.1L306.8,36.9L307.7,37.5L308.5,38L309.2,38.3L309.8,38.5L310.2,38.5L310.6,38.5L310.9,38.4L311.2,38.3L311.5,38.2L311.9,38.2L312.4,38.3L312.9,38.4L313.4,38.5L313.8,38.6L315.1,40.1Z" fill="#c07b1c" stroke="#b87316" stroke-width="0.4"/><path d="M310.7,92.7L309.5,91.8L309.3,91.3L309.8,91.4L310.1,91.3L309.7,90.7L309.7,90.4L310.2,90.5L310.3,90.2L309.9,89.6L310.1,89.5L310.6,89.5L310.4,89.1L310.2,88.6L310.6,88.6L311,88.6L310.7,88.1L310.7,87.7L311.3,87.9L311.5,87.7L311.1,87.2L311.4,87L311.9,87.2L311.9,86.8L311.6,86.3L312.1,86.3L312.5,86.4L312.3,85.8L312.2,85.4L312.8,85.6L313,85.5L312.7,84.9L312.8,84.7L313.4,84.9L313.3,84.5L312.9,83.8L313.1,83.7L313.3,83.5L312.6,82.6L311.9,81.7L311.9,81.4L311.7,80.9L310.8,79.8L310.5,79.2L310.8,79.2L310.7,78.8L310.4,78.1L310.7,78.1L311.4,78.3L311.4,78L311.5,77.7L312.3,78.1L313.3,78.6L313.7,78.6L314.3,78.8L315.3,79.3L315.5,79.1L315,78.4L315.1,78.2L315.4,78.1L315.1,77.5L314.7,76.8L315.1,76.8L315.5,76.8L315.2,76.2L315.1,75.8L315.7,76L315.9,75.8L315.6,75.2L315.8,75.1L316.4,75.3L316.5,75L316.5,74.7L317.3,75.1L318.2,75.6L318.3,75.3L318.3,74.9L318.7,75L318.8,74.8L318.3,73.9L318.2,73.5L318.5,73.4L318.3,72.9L317.8,72.1L318,71.9L318.5,72L318.3,71.5L318.1,70.9L318.6,71.1L318.9,71L318.7,70.4L318.8,70.2L319.4,70.4L319.5,70.2L319.3,69.6L319.7,69.6L320.4,69.9L320.4,69.6L320.4,69.2L321,69.5L321.5,69.6L321.4,69.2L321.4,68.9L322,69.1L322.2,68.9L321.8,68.2L322,68L322.4,68L322.3,67.5L321.9,66.8L322.3,66.8L322.6,66.8L322.4,66.2L322.3,65.8L322.9,66L323.2,66L323,65.4L323.3,65.3L323.9,65.6L324,65.3L323.9,64.8L324.3,64.9L324.9,65.1L324.8,64.7L324.7,64.2L325.3,64.4L325.6,64.4L325.4,63.8L325.5,63.5L326,63.7L326.1,63.4L325.8,62.7L326.1,62.7L326.6,62.8L326.4,62.3L326.3,61.7L326.7,61.8L327.1,61.8L326.9,61.2L326.9,60.9L327.4,61.1L327.6,60.9L327.3,60.2L327.6,60.1L328.1,60.3L328.1,59.9L327.9,59.3L328.4,59.5L328.8,59.6L328.7,59L328.8,58.7L329.4,59L329.7,59L329.6,58.5L329.9,58.4L330.5,58.8L330.7,58.6L330.6,58.1L331,58.2L331.6,58.5L331.5,58L337,64.6Z" fill="#5aa532"/><path d="M296.8,85.1A172.5,172.5 0 0 1 327.2,52.3" fill="none" stroke="#c8102e" stroke-width="1.1" stroke-dasharray="4.5 2"/><path d="M332,109.7L331.2,109.2L331.3,109L331.5,108.9L331.6,108.7L331.7,108.5L331.8,108.3L332,108.2L332.1,108L332.2,107.8L332.3,107.7L332.5,107.5L332.6,107.3L332.7,107.2L332.8,107L333,106.8L333.1,106.7L333.2,106.5L333.3,106.3L333.5,106.2L333.6,106L333.7,105.8L333.8,105.6L334,105.5L334.1,105.3L334.2,105.1L334.4,105L334.5,104.8L334.6,104.7L334.7,104.5L334.9,104.3L335,104.2L335.1,104L335.3,103.8L335.4,103.7L335.5,103.5L335.6,103.3L335.8,103.2L335.9,103L336,102.8L336.2,102.7L336.3,102.5L336.4,102.3L336.6,102.2L336.7,102L336.8,101.8L336.9,101.7L337,101.5L337.1,101.3L337.3,101.1L337.3,100.9L337.4,100.7L337.5,100.5L337.5,100.2L337.5,100L337.5,99.6L337.4,99.3L337.2,98.8L336.9,98.3L336.5,97.7L335.9,96.8L335,95.8L335.3,95.8L336.4,96.5L337.3,96.9L338,97.2L338.5,97.4L338.9,97.6L339.3,97.6L339.6,97.6L339.9,97.5L340.1,97.5L340.3,97.4L340.5,97.3L340.7,97.2L340.9,97L341,96.9L341.2,96.8L341.4,96.6L341.5,96.5L341.7,96.3L341.8,96.2L342,96L342.1,95.9L342.2,95.7L342.4,95.6L342.5,95.4L342.7,95.3L342.8,95.1L343,95L343.1,94.8L343.3,94.7L343.4,94.5L343.6,94.4L343.7,94.2L343.9,94.1L344,93.9L344.1,93.8L344.3,93.6L344.4,93.5L344.6,93.3L344.7,93.2L344.9,93L345,92.9L345.2,92.7L345.3,92.6L345.5,92.4L345.6,92.3L345.8,92.1L345.9,92L346.1,91.8L346.2,91.7L346.4,91.5L346.5,91.4L346.7,91.2L346.8,91.1L347,90.9L347.1,90.8L347.3,90.6L347.4,90.5L347.6,90.3L347.7,90.2L347.8,90L348,89.9L348.1,89.7L348.2,89.5L348.3,89.3L348.4,89.1L348.5,88.9L348.6,88.7L348.7,88.5L348.8,88.3L348.9,88L348.9,87.8L349,87.6L349.1,87.3L349.1,87.1L349.2,86.8L349.3,86.6L349.3,86.3L349.4,86L349.4,85.7L349.3,85.3L349.2,84.9L349,84.3L348.7,83.6L348.2,82.8L347.5,81.7L348.2,82.1L349.2,82.9L350,83.5L350.7,84L351.2,84.3L351.7,84.5L352.1,84.6L352.4,84.7L352.7,84.7L353,84.7L353.2,84.7L353.5,84.6L353.7,84.6L354.4,85.5Z" fill="#2a4f9b"/><path d="M320.9,102.2A143,143 0 0 1 346.1,75" fill="none" stroke="#c8102e" stroke-width="1.1" stroke-dasharray="4.5 2"/><path d="M343.2,116.6L343.7,117L343.8,116.8L343.9,116.7L344,116.6L344.1,116.4L344.2,116.3L344.3,116.1L344.5,116L344.6,115.9L344.7,115.7L344.8,115.6L344.9,115.4L345,115.3L345.1,115.2L345.2,115L345.3,114.9L345.4,114.7L345.5,114.6L345.6,114.5L345.8,114.3L345.9,114.2L346,114.1L346.1,113.9L346.2,113.8L346.4,113.7L346.5,113.6L346.7,113.5L346.8,113.4L347,113.3L347.2,113.2L347.4,113.1L347.6,113.1L347.8,113.1L348.1,113.1L348.4,113.1L348.8,113.2L349.3,113.3L349.8,113.5L350.4,113.8L351.2,114.2L351.7,114.4L351.1,113.7L350.6,113.1L350.2,112.5L350,112.1L349.8,111.7L349.7,111.4L349.6,111.1L349.6,110.9L349.6,110.6L349.6,110.4L349.6,110.2L349.7,110L349.8,109.9L349.9,109.7L350,109.6L350.1,109.5L350.2,109.3L350.4,109.2L350.5,109.1L350.7,109.1L350.9,109L351.1,108.9L351.3,108.9L351.6,108.9L351.9,109L352.3,109.1L352.7,109.2L353.3,109.5L353.9,109.8L354.6,110.3L355.5,110.8L355.7,110.8L355.1,109.9L354.5,109.2L354.1,108.6L353.8,108.1L353.6,107.7L353.5,107.4L353.4,107L353.4,106.8L353.4,106.5L353.4,106.3L353.5,106.1L353.5,106L353.6,105.8L353.8,105.7L353.9,105.6L354.1,105.5L354.2,105.4L354.4,105.4L354.7,105.3L354.9,105.3L355.2,105.4L355.6,105.5L356,105.6L356.5,105.9L357,106.2L357.7,106.6L358.6,107.2L359.6,108L359.1,107.2L358.4,106.4L357.9,105.6L357.6,105L357.3,104.5L357.1,104.1L357,103.7L356.9,103.4L356.9,103.1L356.9,102.9L356.9,102.6L357,102.5L357.1,102.3L357.1,102.1L357.3,102L357.4,101.8L357.5,101.7L357.6,101.6L357.8,101.5L358,101.5L358.2,101.4L358.4,101.4L358.6,101.4L358.9,101.4L359.2,101.5L359.6,101.6L360,101.8L360.5,102.1L361,102.4L361.7,102.9L361.7,102.7L361.3,102L361,101.4L360.8,100.9L360.6,100.5L360.6,100.1L360.5,99.8L360.5,99.5L360.5,99.3L360.6,99.1L360.6,98.9L360.7,98.7L360.8,98.6L360.9,98.4L361,98.2L361.1,98.1L361.2,98L361.3,97.8L361.5,97.7L361.6,97.6L361.7,97.5L361.8,97.3L362,97.2L362.1,97.1L362.2,97L362.4,96.9L362.5,96.7L362.6,96.6L362.7,96.5L362.3,96Z" fill="#a9c17e"/><circle cx="343.7" cy="116.7" r="1.1" fill="#3c6e3c"/><path d="M359.1,119.7A102,102 0 0 1 372.3,106.5" fill="none" stroke="#c8102e" stroke-width="1.1" stroke-dasharray="3.5 2.5"/><path d="M371.6,130.5L372.6,131.4L372.8,131.4L373,131.4L373.3,131.4L373.6,131.5L374,131.6L374.4,131.8L374.9,132.1L375.5,132.4L376.2,132.8L377,133.4L378,134.1L379.3,135L380.8,136.2L380.1,135.4L378.9,134.2L377.9,133.2L377.2,132.4L376.6,131.8L376.1,131.2L375.8,130.7L375.5,130.3L375.4,130L375.2,129.7L375.2,129.5L375.1,129.3L375.2,129.1L375.2,129L375.3,128.9L375.4,128.9L375.6,128.8L375.8,128.8L376.1,128.9L376.4,129L376.7,129.2L377.2,129.4L377.2,129.3L376.9,128.9L376.7,128.5L376.5,128.1L376.4,127.9L376.4,127.6L376.3,127.4L376.3,127.2L376.3,127L376.3,126.8L376.3,126.7L376.4,126.6L376.4,126.4L376.5,126.3L376.6,126.2L376.6,126.1L376.7,126L376.8,125.9L376.9,125.8L376.9,125.7L377,125.6L377.1,125.5L377.2,125.4L377.3,125.3L377.4,125.2L377.5,125.1L377.6,125L377.7,124.9L377.7,124.8L377.8,124.7L377.9,124.6L378,124.6L378.1,124.5L378.2,124.4L378.4,124.3L378.5,124.2L378.6,124.2L378.7,124.1L378.8,124L378.9,124L379.1,123.9L379.2,123.9L379.4,123.9L379.6,123.9L379.8,123.9L380,124L380.2,124L380.5,124.2L380.8,124.3L381.2,124.5L381.7,124.8L382.2,125.2L382.8,125.7L383.6,126.4L384.5,127.2L385.6,128.2L386.9,129.5L387.7,130.2L386.6,128.7L385.7,127.6L385,126.6L384.5,125.9L384.2,125.4L384,125L383.9,124.7L384,124.6L384.2,124.6L384.5,124.8L384.8,124.9L384.3,124.2L383.9,123.5L383.5,123L383.3,122.5L383.2,122.1L383,121.8L383,121.5L382.9,121.3L382.9,121L382.9,120.9L382.9,120.7L382.2,119.8Z" fill="#4a98da"/><path d="M381.6,136.5A74,74 0 0 1 390.2,128.1" fill="none" stroke="#c8102e" stroke-width="1.1" stroke-dasharray="3.5 2.5"/><path d="M320,16.5L309.2,38.8M343.8,38.8L326.2,63.5M360.2,63.8L350.8,88.1M373.5,91.5L362.5,102.5M398.5,118.5L384.6,120.8" stroke="#231f20" stroke-width="0.75" fill="none"/><text x="323.4" y="15.1" font-size="6.9" textLength="63.9" lengthAdjust="spacingAndGlyphs">DNA hypermethylated</text><text x="323.4" y="22.5" font-size="6.9" textLength="46.6" lengthAdjust="spacingAndGlyphs">promoters in BC</text><text x="346.5" y="33.9" font-size="6.9" textLength="35.3" lengthAdjust="spacingAndGlyphs">BMI1 bound</text><text x="346.5" y="41.6" font-size="6.9" textLength="29.2" lengthAdjust="spacingAndGlyphs">sites in CP</text><text x="346.5" y="49.3" font-size="6.9" textLength="29.2" lengthAdjust="spacingAndGlyphs">and/or BC</text><text x="361.5" y="63.2" font-size="6.9" textLength="50.5" lengthAdjust="spacingAndGlyphs">EZH2 bound sites</text><text x="361.5" y="70.8" font-size="6.9" textLength="46.5" lengthAdjust="spacingAndGlyphs">at CP and/or BC</text><text x="377.2" y="87" font-size="6.9" textLength="64.9" lengthAdjust="spacingAndGlyphs">changed BMI1 binding</text><text x="377.2" y="94.2" font-size="6.9" textLength="80.5" lengthAdjust="spacingAndGlyphs">in BC compared to CP (dark</text><text x="377.2" y="101.4" font-size="6.9" textLength="99.3" lengthAdjust="spacingAndGlyphs">green for gain, light green for loss)</text><text x="402.5" y="115.4" font-size="6.9" textLength="82.4" lengthAdjust="spacingAndGlyphs">changed EZH2 binding in BC</text><text x="402.5" y="122.6" font-size="6.9" textLength="88.2" lengthAdjust="spacingAndGlyphs">compared to  CP (dark blue for</text><text x="402.5" y="129.8" font-size="6.9" textLength="71.3" lengthAdjust="spacingAndGlyphs">gain, light blue for loss)</text><path d="M322.6,164.4L322.6,163.4L324.6,163.4L326.6,163.4L328.6,163.4L330.6,163.4L332.6,163.3L334.6,163.3L336.6,163.2L338.6,163.2L340.6,163.1L342.6,163L344.6,162.9L346.6,162.9L348.6,162.8L350.6,162.7L352.6,162.5L354.6,162.4L356.6,162.3L358.6,162.2L360.6,162.1L362.6,162L364.6,161.8L366.6,161.7L368.6,161.7L370.6,161.6L372.6,161.5L374.6,161.5L376.6,161.4L378.6,161.4L380.6,161.4L382.6,161.4L384.6,161.5L386.6,161.6L388.6,161.7L390.6,161.8L392.6,161.9L394.6,162.1L396.6,162.2L398.6,162.4L400.6,162.5L402.6,162.6L404.6,162.8L406.6,162.9L408.6,163L410.6,163L412.6,163.1L414.6,163.1L416.6,163.2L418.6,163.2L420.6,163.2L422.6,163.3L424.6,163.3L426.6,163.3L428.6,163.3L430.6,163.3L432.6,163.3L434.6,163.4L436.6,163.4L438.6,163.3L440.6,163.3L442.6,163.3L444.6,163.3L446.6,163.3L448.6,163.2L450.6,163L452.6,162.9L454.6,162.7L456.6,162.6L458.6,162.5L460.6,162.3L462.6,162.2L464.6,162.2L466.6,162.2L468.6,162.2L470.6,162.3L472.6,162.3L474.6,162.4L476.6,162.5L478.6,162.6L480.6,162.7L482.6,162.8L484.6,162.9L486.6,162.9L488.6,163L490.6,163.1L492.3,163.1L492.3,164.4ZM322.6,172.6L322.6,171.9L324.6,171.9L326.6,171.9L328.6,171.9L330.6,171.9L332.6,171.9L334.6,171.9L336.6,171.9L338.6,171.9L340.6,171.9L342.6,171.9L344.6,171.9L346.6,171.9L348.6,171.6L350.6,171.5L352.6,171.5L354.6,171.5L356.6,171.5L358.6,171.5L360.6,171.5L362.6,171.4L364.6,171.4L366.6,171.4L368.6,171.4L370.6,171.4L372.6,171.4L374.6,171.4L376.6,171.4L378.6,171.4L380.6,171.4L382.6,171.4L384.6,171.4L386.6,171.4L388.6,171.4L390.6,171.4L392.6,171.4L394.6,171.4L396.6,171.4L398.6,171.4L400.6,171.4L402.6,171.4L404.6,171.4L406.6,171.4L408.6,171.4L410.6,171.4L412.6,171.4L414.6,171.4L416.6,171.4L418.6,171.4L420.6,171.4L422.6,171.4L424.6,171.4L426.6,171.4L428.6,171.4L430.6,171.4L432.6,171.4L434.6,171.4L436.6,171.4L438.6,171.4L440.6,171.4L442.6,171.4L444.6,171.4L446.6,171.4L448.6,171.4L450.6,171.5L452.6,171.5L454.6,171.5L456.6,171.5L458.6,171.5L460.6,171.5L462.6,171.5L464.6,171.5L466.6,171.5L468.6,171.5L470.6,171.5L472.6,171.5L474.6,171.5L476.6,171.5L478.6,171.5L480.6,171.5L482.6,171.5L484.6,171.5L486.6,171.5L488.6,171.5L490.6,171.5L492.3,171.5L492.3,172.6ZM322.6,180.8L322.6,179.9L324.6,179.9L326.6,179.8L328.6,179.8L330.6,179.8L332.6,179.7L334.6,179.7L336.6,179.6L338.6,179.6L340.6,179.5L342.6,179.5L344.6,179.4L346.6,179.3L348.6,179.3L350.6,179.2L352.6,179.1L354.6,179L356.6,178.9L358.6,178.8L360.6,178.7L362.6,178.5L364.6,178.4L366.6,178.3L368.6,178.2L370.6,178.1L372.6,178L374.6,177.9L376.6,177.8L378.6,177.8L380.6,177.8L382.6,177.8L384.6,177.8L386.6,177.9L388.6,178L390.6,178.1L392.6,178.2L394.6,178.3L396.6,178.4L398.6,178.5L400.6,178.6L402.6,178.7L404.6,178.8L406.6,178.9L408.6,179L410.6,179L412.6,179.1L414.6,179.1L416.6,179.2L418.6,179.2L420.6,179.2L422.6,179.3L424.6,179.3L426.6,179.3L428.6,179.3L430.6,179.4L432.6,179.4L434.6,179.4L436.6,179.4L438.6,179.4L440.6,179.4L442.6,179.4L444.6,179.4L446.6,179.3L448.6,179.3L450.6,179.3L452.6,179.2L454.6,179.2L456.6,179.1L458.6,179.1L460.6,179L462.6,179L464.6,179L466.6,178.9L468.6,178.9L470.6,178.9L472.6,178.9L474.6,178.9L476.6,178.9L478.6,179L480.6,179L482.6,179L484.6,179.1L486.6,179.1L488.6,179.2L490.6,179.2L492.3,179.2L492.3,180.8ZM322.6,189.1L322.6,188.1L324.6,188L326.6,188L328.6,187.8L330.6,187.7L332.6,187.6L334.6,187.5L336.6,187.3L338.6,187.1L340.6,186.9L342.6,186.7L344.6,186.5L346.6,186.3L348.6,186.1L350.6,185.8L352.6,185.5L354.6,185.2L356.6,184.9L358.6,184.6L360.6,184.3L362.6,184L364.6,183.7L366.6,183.4L368.6,183.2L370.6,183L372.6,182.8L374.6,182.7L376.6,182.7L378.6,182.7L380.6,182.7L382.6,182.8L384.6,183L386.6,183.2L388.6,183.4L390.6,183.7L392.6,184L394.6,184.2L396.6,184.5L398.6,184.8L400.6,185.1L402.6,185.4L404.6,185.6L406.6,185.8L408.6,186L410.6,186.2L412.6,186.4L414.6,186.5L416.6,186.7L418.6,186.8L420.6,186.9L422.6,187L424.6,187.1L426.6,187.2L428.6,187.3L430.6,187.4L432.6,187.4L434.6,187.5L436.6,187.5L438.6,187.5L440.6,187.4L442.6,187.3L444.6,187.1L446.6,186.8L448.6,186.4L450.6,186.1L452.6,185.8L454.6,185.5L456.6,185.2L458.6,185.1L460.6,185L462.6,185.1L464.6,185.1L466.6,185.2L468.6,185.3L470.6,185.5L472.6,185.6L474.6,185.8L476.6,185.9L478.6,186.1L480.6,186.3L482.6,186.5L484.6,186.6L486.6,186.8L488.6,186.9L490.6,187L492.3,187.1L492.3,189.1ZM322.6,197.3L322.6,196.6L324.6,196.5L326.6,196.3L328.6,196.2L330.6,196.1L332.6,195.9L334.6,195.7L336.6,195.5L338.6,195.3L340.6,195.1L342.6,194.9L344.6,194.7L346.6,194.5L348.6,194.3L350.6,194L352.6,193.8L354.6,193.5L356.6,193.2L358.6,192.9L360.6,192.6L362.6,192.3L364.6,191.9L366.6,191.6L368.6,191.3L370.6,191L372.6,190.8L374.6,190.5L376.6,190.3L378.6,190.2L380.6,190.1L382.6,190L384.6,190L386.6,190L388.6,190L390.6,190L392.6,190.1L394.6,190.2L396.6,190.3L398.6,190.4L400.6,190.6L402.6,190.7L404.6,190.9L406.6,191L408.6,191.2L410.6,191.4L412.6,191.6L414.6,191.8L416.6,192.1L418.6,192.4L420.6,192.7L422.6,193L424.6,193.3L426.6,193.7L428.6,194L430.6,194.3L432.6,194.5L434.6,194.7L436.6,194.9L438.6,195L440.6,195.1L442.6,195.1L444.6,195.1L446.6,195L448.6,194.8L450.6,194.6L452.6,194.4L454.6,194.2L456.6,194L458.6,193.8L460.6,193.6L462.6,193.4L464.6,193.2L466.6,193.1L468.6,193L470.6,193L472.6,193L474.6,193.1L476.6,193.3L478.6,193.4L480.6,193.6L482.6,193.8L484.6,194L486.6,194.2L488.6,194.4L490.6,194.5L492.3,194.6L492.3,197.3ZM322.6,205.6L322.6,205L324.6,204.9L326.6,204.8L328.6,204.7L330.6,204.5L332.6,204.4L334.6,204.2L336.6,204.1L338.6,203.9L340.6,203.7L342.6,203.4L344.6,203.2L346.6,203L348.6,202.7L350.6,202.5L352.6,202.1L354.6,201.7L356.6,201.2L358.6,200.7L360.6,200.2L362.6,199.7L364.6,199.2L366.6,198.8L368.6,198.4L370.6,198L372.6,197.8L374.6,197.7L376.6,197.6L378.6,197.7L380.6,197.7L382.6,197.9L384.6,198L386.6,198.2L388.6,198.4L390.6,198.7L392.6,198.9L394.6,199.2L396.6,199.5L398.6,199.7L400.6,200L402.6,200.3L404.6,200.5L406.6,200.7L408.6,200.9L410.6,201.1L412.6,201.3L414.6,201.5L416.6,201.7L418.6,201.9L420.6,202L422.6,202.2L424.6,202.4L426.6,202.5L428.6,202.7L430.6,202.8L432.6,202.9L434.6,203L436.6,203L438.6,203.1L440.6,203L442.6,203L444.6,202.8L446.6,202.6L448.6,202.4L450.6,202.1L452.6,201.9L454.6,201.6L456.6,201.3L458.6,201.1L460.6,200.9L462.6,200.7L464.6,200.6L466.6,200.5L468.6,200.5L470.6,200.5L472.6,200.6L474.6,200.6L476.6,200.7L478.6,200.8L480.6,200.9L482.6,201L484.6,201.1L486.6,201.2L488.6,201.3L490.6,201.3L492.3,201.4L492.3,205.6Z" fill="#5b9ad6"/><path d="M322.6,163.4L324.6,163.4L326.6,163.4L328.6,163.4L330.6,163.4L332.6,163.3L334.6,163.3L336.6,163.2L338.6,163.2L340.6,163.1L342.6,163L344.6,162.9L346.6,162.9L348.6,162.8L350.6,162.7L352.6,162.5L354.6,162.4L356.6,162.3L358.6,162.2L360.6,162.1L362.6,162L364.6,161.8L366.6,161.7L368.6,161.7L370.6,161.6L372.6,161.5L374.6,161.5L376.6,161.4L378.6,161.4L380.6,161.4L382.6,161.4L384.6,161.5L386.6,161.6L388.6,161.7L390.6,161.8L392.6,161.9L394.6,162.1L396.6,162.2L398.6,162.4L400.6,162.5L402.6,162.6L404.6,162.8L406.6,162.9L408.6,163L410.6,163L412.6,163.1L414.6,163.1L416.6,163.2L418.6,163.2L420.6,163.2L422.6,163.3L424.6,163.3L426.6,163.3L428.6,163.3L430.6,163.3L432.6,163.3L434.6,163.4L436.6,163.4L438.6,163.3L440.6,163.3L442.6,163.3L444.6,163.3L446.6,163.3L448.6,163.2L450.6,163L452.6,162.9L454.6,162.7L456.6,162.6L458.6,162.5L460.6,162.3L462.6,162.2L464.6,162.2L466.6,162.2L468.6,162.2L470.6,162.3L472.6,162.3L474.6,162.4L476.6,162.5L478.6,162.6L480.6,162.7L482.6,162.8L484.6,162.9L486.6,162.9L488.6,163L490.6,163.1L492.3,163.1M322.6,171.9L324.6,171.9L326.6,171.9L328.6,171.9L330.6,171.9L332.6,171.9L334.6,171.9L336.6,171.9L338.6,171.9L340.6,171.9L342.6,171.9L344.6,171.9L346.6,171.9L348.6,171.6L350.6,171.5L352.6,171.5L354.6,171.5L356.6,171.5L358.6,171.5L360.6,171.5L362.6,171.4L364.6,171.4L366.6,171.4L368.6,171.4L370.6,171.4L372.6,171.4L374.6,171.4L376.6,171.4L378.6,171.4L380.6,171.4L382.6,171.4L384.6,171.4L386.6,171.4L388.6,171.4L390.6,171.4L392.6,171.4L394.6,171.4L396.6,171.4L398.6,171.4L400.6,171.4L402.6,171.4L404.6,171.4L406.6,171.4L408.6,171.4L410.6,171.4L412.6,171.4L414.6,171.4L416.6,171.4L418.6,171.4L420.6,171.4L422.6,171.4L424.6,171.4L426.6,171.4L428.6,171.4L430.6,171.4L432.6,171.4L434.6,171.4L436.6,171.4L438.6,171.4L440.6,171.4L442.6,171.4L444.6,171.4L446.6,171.4L448.6,171.4L450.6,171.5L452.6,171.5L454.6,171.5L456.6,171.5L458.6,171.5L460.6,171.5L462.6,171.5L464.6,171.5L466.6,171.5L468.6,171.5L470.6,171.5L472.6,171.5L474.6,171.5L476.6,171.5L478.6,171.5L480.6,171.5L482.6,171.5L484.6,171.5L486.6,171.5L488.6,171.5L490.6,171.5L492.3,171.5M322.6,179.9L324.6,179.9L326.6,179.8L328.6,179.8L330.6,179.8L332.6,179.7L334.6,179.7L336.6,179.6L338.6,179.6L340.6,179.5L342.6,179.5L344.6,179.4L346.6,179.3L348.6,179.3L350.6,179.2L352.6,179.1L354.6,179L356.6,178.9L358.6,178.8L360.6,178.7L362.6,178.5L364.6,178.4L366.6,178.3L368.6,178.2L370.6,178.1L372.6,178L374.6,177.9L376.6,177.8L378.6,177.8L380.6,177.8L382.6,177.8L384.6,177.8L386.6,177.9L388.6,178L390.6,178.1L392.6,178.2L394.6,178.3L396.6,178.4L398.6,178.5L400.6,178.6L402.6,178.7L404.6,178.8L406.6,178.9L408.6,179L410.6,179L412.6,179.1L414.6,179.1L416.6,179.2L418.6,179.2L420.6,179.2L422.6,179.3L424.6,179.3L426.6,179.3L428.6,179.3L430.6,179.4L432.6,179.4L434.6,179.4L436.6,179.4L438.6,179.4L440.6,179.4L442.6,179.4L444.6,179.4L446.6,179.3L448.6,179.3L450.6,179.3L452.6,179.2L454.6,179.2L456.6,179.1L458.6,179.1L460.6,179L462.6,179L464.6,179L466.6,178.9L468.6,178.9L470.6,178.9L472.6,178.9L474.6,178.9L476.6,178.9L478.6,179L480.6,179L482.6,179L484.6,179.1L486.6,179.1L488.6,179.2L490.6,179.2L492.3,179.2M322.6,188.1L324.6,188L326.6,188L328.6,187.8L330.6,187.7L332.6,187.6L334.6,187.5L336.6,187.3L338.6,187.1L340.6,186.9L342.6,186.7L344.6,186.5L346.6,186.3L348.6,186.1L350.6,185.8L352.6,185.5L354.6,185.2L356.6,184.9L358.6,184.6L360.6,184.3L362.6,184L364.6,183.7L366.6,183.4L368.6,183.2L370.6,183L372.6,182.8L374.6,182.7L376.6,182.7L378.6,182.7L380.6,182.7L382.6,182.8L384.6,183L386.6,183.2L388.6,183.4L390.6,183.7L392.6,184L394.6,184.2L396.6,184.5L398.6,184.8L400.6,185.1L402.6,185.4L404.6,185.6L406.6,185.8L408.6,186L410.6,186.2L412.6,186.4L414.6,186.5L416.6,186.7L418.6,186.8L420.6,186.9L422.6,187L424.6,187.1L426.6,187.2L428.6,187.3L430.6,187.4L432.6,187.4L434.6,187.5L436.6,187.5L438.6,187.5L440.6,187.4L442.6,187.3L444.6,187.1L446.6,186.8L448.6,186.4L450.6,186.1L452.6,185.8L454.6,185.5L456.6,185.2L458.6,185.1L460.6,185L462.6,185.1L464.6,185.1L466.6,185.2L468.6,185.3L470.6,185.5L472.6,185.6L474.6,185.8L476.6,185.9L478.6,186.1L480.6,186.3L482.6,186.5L484.6,186.6L486.6,186.8L488.6,186.9L490.6,187L492.3,187.1M322.6,196.6L324.6,196.5L326.6,196.3L328.6,196.2L330.6,196.1L332.6,195.9L334.6,195.7L336.6,195.5L338.6,195.3L340.6,195.1L342.6,194.9L344.6,194.7L346.6,194.5L348.6,194.3L350.6,194L352.6,193.8L354.6,193.5L356.6,193.2L358.6,192.9L360.6,192.6L362.6,192.3L364.6,191.9L366.6,191.6L368.6,191.3L370.6,191L372.6,190.8L374.6,190.5L376.6,190.3L378.6,190.2L380.6,190.1L382.6,190L384.6,190L386.6,190L388.6,190L390.6,190L392.6,190.1L394.6,190.2L396.6,190.3L398.6,190.4L400.6,190.6L402.6,190.7L404.6,190.9L406.6,191L408.6,191.2L410.6,191.4L412.6,191.6L414.6,191.8L416.6,192.1L418.6,192.4L420.6,192.7L422.6,193L424.6,193.3L426.6,193.7L428.6,194L430.6,194.3L432.6,194.5L434.6,194.7L436.6,194.9L438.6,195L440.6,195.1L442.6,195.1L444.6,195.1L446.6,195L448.6,194.8L450.6,194.6L452.6,194.4L454.6,194.2L456.6,194L458.6,193.8L460.6,193.6L462.6,193.4L464.6,193.2L466.6,193.1L468.6,193L470.6,193L472.6,193L474.6,193.1L476.6,193.3L478.6,193.4L480.6,193.6L482.6,193.8L484.6,194L486.6,194.2L488.6,194.4L490.6,194.5L492.3,194.6M322.6,205L324.6,204.9L326.6,204.8L328.6,204.7L330.6,204.5L332.6,204.4L334.6,204.2L336.6,204.1L338.6,203.9L340.6,203.7L342.6,203.4L344.6,203.2L346.6,203L348.6,202.7L350.6,202.5L352.6,202.1L354.6,201.7L356.6,201.2L358.6,200.7L360.6,200.2L362.6,199.7L364.6,199.2L366.6,198.8L368.6,198.4L370.6,198L372.6,197.8L374.6,197.7L376.6,197.6L378.6,197.7L380.6,197.7L382.6,197.9L384.6,198L386.6,198.2L388.6,198.4L390.6,198.7L392.6,198.9L394.6,199.2L396.6,199.5L398.6,199.7L400.6,200L402.6,200.3L404.6,200.5L406.6,200.7L408.6,200.9L410.6,201.1L412.6,201.3L414.6,201.5L416.6,201.7L418.6,201.9L420.6,202L422.6,202.2L424.6,202.4L426.6,202.5L428.6,202.7L430.6,202.8L432.6,202.9L434.6,203L436.6,203L438.6,203.1L440.6,203L442.6,203L444.6,202.8L446.6,202.6L448.6,202.4L450.6,202.1L452.6,201.9L454.6,201.6L456.6,201.3L458.6,201.1L460.6,200.9L462.6,200.7L464.6,200.6L466.6,200.5L468.6,200.5L470.6,200.5L472.6,200.6L474.6,200.6L476.6,200.7L478.6,200.8L480.6,200.9L482.6,201L484.6,201.1L486.6,201.2L488.6,201.3L490.6,201.3L492.3,201.4" fill="none" stroke="#2d5ea8" stroke-width="0.7"/><path d="M322.6,216.3L492.3,216.3M322.6,224.5L492.3,224.5M322.6,232.8L492.3,232.8M322.6,241L492.3,241M322.6,249.3L492.3,249.3M322.6,257.6L492.3,257.6" stroke="#a5cf8a" stroke-width="1.1" fill="none"/><path d="M366,216L366,215.7L367.5,215.6L369,215.5L370.5,215.4L372,215.3L373.5,215.3L375,215.2L376.5,215.2L378,215.2L379.5,215.2L381,215.1L382.5,215.1L384,215.1L385.5,215.1L387,215.1L388.5,215L390,215L391.5,215L393,214.9L394.5,214.9L396,214.8L397.5,214.8L399,214.8L400.5,214.7L402,214.7L403.5,214.6L405,214.6L406.5,214.4L408,214.3L409.5,214.2L411,214.3L412.5,214.5L414,214.8L415.5,215.1L417,215.4L418.5,215.7L420,215.9L420.6,216L420.6,216ZM380,224.2L380,223.9L381.5,223.9L383,223.7L384.5,223.6L386,223.4L387.5,223.4L389,223.4L390.5,223.4L392,223.3L393.5,223.3L395,223.3L396.5,223.3L398,223.3L399.5,223.3L401,223.2L402.5,223.1L404,223L405.5,222.9L407,222.9L408.5,223L410,223.3L411.5,223.8L413,224.1L413.7,224.2L413.7,224.2ZM398,232.5L398,232.3L399.5,232.1L401,231.9L402.5,231.7L404,231.4L405.5,231.2L407,231L408.5,230.9L410,230.9L411.5,231.1L413,231.4L414.5,231.8L416,232.2L417.5,232.4L418,232.5L418,232.5ZM355.5,240.7L355.5,240.7L357,240.1L358.5,239.4L360,239L361.5,238.8L363,238.6L364.5,238.5L366,238.3L367.5,238.2L369,238L370.5,237.7L372,237.6L373.5,237.7L375,237.9L376.5,238L378,238.2L379.5,238.3L381,238.4L382.5,238.4L384,238.4L385.5,238.4L387,238.3L388.5,238.3L390,238.3L391.5,238.2L393,238.1L394.5,238.1L396,238L397.5,237.8L399,237.6L400.5,237.3L402,237.1L403.5,236.8L405,236.5L406.5,235.9L408,235.4L409.5,235.1L411,235.2L412.5,235.8L414,236.7L415.5,237.6L417,238.6L418.5,239.7L420,240.5L420.6,240.7L420.6,240.7ZM356.3,249L356.3,249L357.8,248.3L359.3,247.4L360.8,246.8L362.3,246.5L363.8,246.2L365.3,245.9L366.8,245.6L368.3,245.3L369.8,245L371.3,244.9L372.8,244.8L374.3,244.6L375.8,244.5L377.3,244.5L378.8,244.4L380.3,244.3L381.8,244.2L383.3,244.1L384.8,244L386.3,243.9L387.8,243.8L389.3,243.6L390.8,243.5L392.3,243.4L393.8,243.2L395.3,243.1L396.8,242.9L398.3,242.8L399.8,242.4L401.3,242.1L402.8,241.7L404.3,241.4L405.8,241.2L407.3,241.2L408.8,241.5L410.3,242L411.8,242.6L413.3,243.4L414.8,244.2L416.3,245.2L417.8,246.3L419.3,247.4L420.8,248.3L422.3,249L422.3,249ZM355.5,257.2L355.5,257.2L357,256.9L358.5,256.5L360,256.1L361.5,255.8L363,255.6L364.5,255.4L366,255.2L367.5,255L369,254.8L370.5,254.6L372,254.6L373.5,254.6L375,254.8L376.5,255L378,255.2L379.5,255.3L381,255.4L382.5,255.4L384,255.4L385.5,255.4L387,255.4L388.5,255.4L390,255.4L391.5,255.4L393,255.3L394.5,255.3L396,255.2L397.5,255L399,254.9L400.5,254.7L402,254.5L403.5,254.3L405,254.1L406.5,253.7L408,253.4L409.5,253.4L411,253.7L412.5,254.3L414,255L415.5,255.8L417,256.6L418.5,257.1L419,257.2L419,257.2Z" fill="#9cad6a"/><path d="M366,215.7L367.5,215.6L369,215.5L370.5,215.4L372,215.3L373.5,215.3L375,215.2L376.5,215.2L378,215.2L379.5,215.2L381,215.1L382.5,215.1L384,215.1L385.5,215.1L387,215.1L388.5,215L390,215L391.5,215L393,214.9L394.5,214.9L396,214.8L397.5,214.8L399,214.8L400.5,214.7L402,214.7L403.5,214.6L405,214.6L406.5,214.4L408,214.3L409.5,214.2L411,214.3L412.5,214.5L414,214.8L415.5,215.1L417,215.4L418.5,215.7L420,215.9L420.6,216M380,223.9L381.5,223.9L383,223.7L384.5,223.6L386,223.4L387.5,223.4L389,223.4L390.5,223.4L392,223.3L393.5,223.3L395,223.3L396.5,223.3L398,223.3L399.5,223.3L401,223.2L402.5,223.1L404,223L405.5,222.9L407,222.9L408.5,223L410,223.3L411.5,223.8L413,224.1L413.7,224.2M398,232.3L399.5,232.1L401,231.9L402.5,231.7L404,231.4L405.5,231.2L407,231L408.5,230.9L410,230.9L411.5,231.1L413,231.4L414.5,231.8L416,232.2L417.5,232.4L418,232.5M355.5,240.7L357,240.1L358.5,239.4L360,239L361.5,238.8L363,238.6L364.5,238.5L366,238.3L367.5,238.2L369,238L370.5,237.7L372,237.6L373.5,237.7L375,237.9L376.5,238L378,238.2L379.5,238.3L381,238.4L382.5,238.4L384,238.4L385.5,238.4L387,238.3L388.5,238.3L390,238.3L391.5,238.2L393,238.1L394.5,238.1L396,238L397.5,237.8L399,237.6L400.5,237.3L402,237.1L403.5,236.8L405,236.5L406.5,235.9L408,235.4L409.5,235.1L411,235.2L412.5,235.8L414,236.7L415.5,237.6L417,238.6L418.5,239.7L420,240.5L420.6,240.7M356.3,249L357.8,248.3L359.3,247.4L360.8,246.8L362.3,246.5L363.8,246.2L365.3,245.9L366.8,245.6L368.3,245.3L369.8,245L371.3,244.9L372.8,244.8L374.3,244.6L375.8,244.5L377.3,244.5L378.8,244.4L380.3,244.3L381.8,244.2L383.3,244.1L384.8,244L386.3,243.9L387.8,243.8L389.3,243.6L390.8,243.5L392.3,243.4L393.8,243.2L395.3,243.1L396.8,242.9L398.3,242.8L399.8,242.4L401.3,242.1L402.8,241.7L404.3,241.4L405.8,241.2L407.3,241.2L408.8,241.5L410.3,242L411.8,242.6L413.3,243.4L414.8,244.2L416.3,245.2L417.8,246.3L419.3,247.4L420.8,248.3L422.3,249M355.5,257.2L357,256.9L358.5,256.5L360,256.1L361.5,255.8L363,255.6L364.5,255.4L366,255.2L367.5,255L369,254.8L370.5,254.6L372,254.6L373.5,254.6L375,254.8L376.5,255L378,255.2L379.5,255.3L381,255.4L382.5,255.4L384,255.4L385.5,255.4L387,255.4L388.5,255.4L390,255.4L391.5,255.4L393,255.3L394.5,255.3L396,255.2L397.5,255L399,254.9L400.5,254.7L402,254.5L403.5,254.3L405,254.1L406.5,253.7L408,253.4L409.5,253.4L411,253.7L412.5,254.3L414,255L415.5,255.8L417,256.6L418.5,257.1L419,257.2" fill="none" stroke="#7a9848" stroke-width="0.6"/><path d="M322.1,156.3L322.1,205.2M322.1,208.4L322.1,257.9M319,156.5L322.1,156.5M319,164.7L322.1,164.7M319,172.9L322.1,172.9M319,181.2L322.1,181.2M319,189.4L322.1,189.4M319,197.7L322.1,197.7M319,208.6L322.1,208.6M319,216.8L322.1,216.8M319,225.1L322.1,225.1M319,233.3L322.1,233.3M319,241.6L322.1,241.6M319,249.8L322.1,249.8" stroke="#231f20" stroke-width="0.9" fill="none"/><path d="M302,154.5L299.8,154.8Q298.8,155 298.8,156L298.8,177.6Q298.8,178.6 299.8,178.8L302,179.1M302,181.1L299.8,181.4Q298.8,181.6 298.8,182.6L298.8,203.6Q298.8,204.6 299.8,204.8L302,205.1M302,208L299.8,208.3Q298.8,208.5 298.8,209.5L298.8,231Q298.8,232 299.8,232.2L302,232.5M302,234.2L299.8,234.5Q298.8,234.7 298.8,235.7L298.8,256.5Q298.8,257.5 299.8,257.7L302,258" stroke="#333" stroke-width="0.95" fill="none"/><text x="315.7" y="158.6" font-size="6.4" text-anchor="end" fill="#222" textLength="10.8" lengthAdjust="spacingAndGlyphs">300</text><text x="315.7" y="166.8" font-size="6.4" text-anchor="end" fill="#222" textLength="10.8" lengthAdjust="spacingAndGlyphs">300</text><text x="315.7" y="175" font-size="6.4" text-anchor="end" fill="#222" textLength="10.8" lengthAdjust="spacingAndGlyphs">300</text><text x="315.7" y="183.2" font-size="6.4" text-anchor="end" fill="#222" textLength="10.8" lengthAdjust="spacingAndGlyphs">300</text><text x="315.7" y="191.5" font-size="6.4" text-anchor="end" fill="#222" textLength="10.8" lengthAdjust="spacingAndGlyphs">300</text><text x="315.7" y="199.8" font-size="6.4" text-anchor="end" fill="#222" textLength="10.8" lengthAdjust="spacingAndGlyphs">300</text><text x="315.7" y="210.7" font-size="6.4" text-anchor="end" fill="#222" textLength="10.8" lengthAdjust="spacingAndGlyphs">100</text><text x="315.7" y="218.9" font-size="6.4" text-anchor="end" fill="#222" textLength="10.8" lengthAdjust="spacingAndGlyphs">100</text><text x="315.7" y="227.2" font-size="6.4" text-anchor="end" fill="#222" textLength="10.8" lengthAdjust="spacingAndGlyphs">100</text><text x="315.7" y="235.4" font-size="6.4" text-anchor="end" fill="#222" textLength="10.8" lengthAdjust="spacingAndGlyphs">100</text><text x="315.7" y="243.7" font-size="6.4" text-anchor="end" fill="#222" textLength="10.8" lengthAdjust="spacingAndGlyphs">100</text><text x="315.7" y="251.9" font-size="6.4" text-anchor="end" fill="#222" textLength="10.8" lengthAdjust="spacingAndGlyphs">100</text><text x="287.7" y="168.5" font-size="7.7" fill="#2a2a2a" stroke="#2a2a2a" stroke-width="0.12" textLength="8.5" lengthAdjust="spacingAndGlyphs">BC</text><text x="287.7" y="194.6" font-size="7.7" fill="#2a2a2a" stroke="#2a2a2a" stroke-width="0.12" textLength="8.5" lengthAdjust="spacingAndGlyphs">CP</text><text x="287.7" y="221.6" font-size="7.7" fill="#2a2a2a" stroke="#2a2a2a" stroke-width="0.12" textLength="8.5" lengthAdjust="spacingAndGlyphs">BC</text><text x="287.7" y="247.6" font-size="7.7" fill="#2a2a2a" stroke="#2a2a2a" stroke-width="0.12" textLength="8.5" lengthAdjust="spacingAndGlyphs">CP</text><text x="464.7" y="159" font-size="6.4" fill="#1e1e1e" textLength="14.7" lengthAdjust="spacingAndGlyphs">EZH2</text><text x="468.7" y="214.7" font-size="6.4" fill="#1e1e1e" textLength="14.2" lengthAdjust="spacingAndGlyphs">BMI1</text><text x="293.1" y="275.2" font-size="6.6" fill="#2a2a2a" textLength="50" lengthAdjust="spacingAndGlyphs">hyper methylated</text><path d="M355.9,264h2.6v2.6h-2.6ZM355.9,268.3h2.6v2.6h-2.6ZM351.1,272.9h2.6v2.6h-2.6ZM354.1,272.9h2.6v2.6h-2.6ZM359.3,272.9h2.6v2.6h-2.6ZM361.6,272.9h2.6v2.6h-2.6ZM366.3,272.9h2.6v2.6h-2.6ZM374,272.9h2.6v2.6h-2.6Z" fill="#a8122e"/><text x="346" y="285.6" font-size="6.6" textLength="14.9" lengthAdjust="spacingAndGlyphs">PAX7</text><rect x="364.3" y="281.6" width="11" height="4.9" fill="#000"/><rect x="374.4" y="279.8" width="1.9" height="9" fill="#000"/><path d="M375,284.3L492.5,284.3" stroke="#000" stroke-width="0.6"/><path d="M378,284.3h0.01M380.4,284.3h0.01M382.8,284.3h0.01M385.3,284.3h0.01M387.7,284.3h0.01M390.1,284.3h0.01M392.5,284.3h0.01M394.9,284.3h0.01M397.4,284.3h0.01M399.8,284.3h0.01M402.2,284.3h0.01M404.6,284.3h0.01M407,284.3h0.01M409.5,284.3h0.01M411.9,284.3h0.01M414.3,284.3h0.01M416.7,284.3h0.01M419.1,284.3h0.01M421.6,284.3h0.01M424,284.3h0.01M426.4,284.3h0.01M428.8,284.3h0.01M431.2,284.3h0.01M433.7,284.3h0.01M436.1,284.3h0.01M438.5,284.3h0.01M440.9,284.3h0.01M443.3,284.3h0.01M445.8,284.3h0.01M448.2,284.3h0.01M450.6,284.3h0.01M453,284.3h0.01M455.4,284.3h0.01M457.9,284.3h0.01M460.3,284.3h0.01M462.7,284.3h0.01M465.1,284.3h0.01M467.5,284.3h0.01M470,284.3h0.01M472.4,284.3h0.01M474.8,284.3h0.01M477.2,284.3h0.01M479.6,284.3h0.01M482.1,284.3h0.01M484.5,284.3h0.01M486.9,284.3h0.01M489.3,284.3h0.01M491.7,284.3h0.01" stroke="#000" stroke-width="1.3" stroke-linecap="round" fill="none"/><path d="M420.75,280h4.25v8.75h-4.25ZM433.75,280.5h3.75v7.8h-3.75ZM453.25,280.3h3.5v8.2h-3.5Z" fill="#000"/><text x="305.8" y="301.5" font-size="6.7" textLength="12.9" lengthAdjust="spacingAndGlyphs">chr1</text><path d="M321.9,295.8L493,295.8M321.9,299.4L493,299.4" stroke="#231f20" stroke-width="0.9"/><path d="M338.8,300L338.8,302.3M373.1,300L373.1,302.3M407.5,300L407.5,302.3M441.8,300L441.8,302.3M475.9,300L475.9,302.3" stroke="#231f20" stroke-width="0.7"/><text x="394.5" y="309.1" font-size="6.6" textLength="25.5" lengthAdjust="spacingAndGlyphs">18.96Mb</text><g shape-rendering="crispEdges"><path d="M27.3,327.9h28.5v2.1h-28.5z" fill="url(#a0)"/><path d="M27.3,329.5h28.5v2.1h-28.5z" fill="url(#a1)"/><path d="M27.3,331.1h28.5v2.1h-28.5z" fill="url(#a2)"/><path d="M27.3,332.7h28.5v2.1h-28.5z" fill="url(#a3)"/><path d="M27.3,334.3h28.5v2.1h-28.5z" fill="url(#a4)"/><path d="M27.3,335.9h28.5v2.1h-28.5z" fill="url(#a5)"/><path d="M27.3,337.5h28.5v2.1h-28.5z" fill="url(#a6)"/><path d="M27.3,339.1h28.5v2.1h-28.5z" fill="url(#a7)"/><path d="M27.3,340.7h28.5v2.1h-28.5z" fill="url(#a8)"/><path d="M27.3,342.3h28.5v2.1h-28.5z" fill="url(#a9)"/><path d="M27.3,343.9h28.5v2.1h-28.5z" fill="url(#a10)"/><path d="M27.3,345.5h28.5v2.1h-28.5z" fill="url(#a11)"/><path d="M27.3,347.1h28.5v2.1h-28.5z" fill="url(#a12)"/><path d="M27.3,348.7h28.5v2.1h-28.5z" fill="url(#a13)"/><path d="M27.3,350.3h28.5v2.1h-28.5z" fill="url(#a14)"/><path d="M27.3,351.9h28.5v2.1h-28.5z" fill="url(#a15)"/><path d="M27.3,353.5h28.5v2.1h-28.5z" fill="url(#a16)"/><path d="M27.3,355.1h28.5v2.1h-28.5z" fill="url(#a17)"/><path d="M27.3,356.7h28.5v2.1h-28.5z" fill="url(#a18)"/><path d="M27.3,358.3h28.5v2.1h-28.5z" fill="url(#a19)"/><path d="M27.3,359.9h28.5v2.1h-28.5z" fill="url(#a20)"/><path d="M27.3,361.5h28.5v2.1h-28.5z" fill="url(#a21)"/><path d="M27.3,363.1h28.5v2.1h-28.5z" fill="url(#a22)"/><path d="M27.3,364.7h28.5v2.1h-28.5z" fill="url(#a23)"/><path d="M27.3,366.3h28.5v2.1h-28.5z" fill="url(#a24)"/><path d="M27.3,367.9h28.5v2.1h-28.5z" fill="url(#a25)"/><path d="M27.3,369.5h28.5v2.1h-28.5z" fill="url(#a26)"/><path d="M27.3,371.1h28.5v2.1h-28.5z" fill="url(#a27)"/><path d="M27.3,372.7h28.5v2.1h-28.5z" fill="url(#a28)"/><path d="M27.3,374.3h28.5v2.1h-28.5z" fill="url(#a29)"/><path d="M27.3,375.9h28.5v2.1h-28.5z" fill="url(#a30)"/><path d="M27.3,377.5h28.5v2.1h-28.5z" fill="url(#a31)"/><path d="M27.3,379.1h28.5v2.1h-28.5z" fill="url(#a32)"/><path d="M27.3,380.7h28.5v2.1h-28.5z" fill="url(#a33)"/><path d="M27.3,382.3h28.5v2.1h-28.5z" fill="url(#a34)"/><path d="M27.3,383.9h28.5v2.1h-28.5z" fill="url(#a35)"/><path d="M27.3,385.5h28.5v2.1h-28.5z" fill="url(#a36)"/><path d="M27.3,387.1h28.5v2.1h-28.5z" fill="url(#a37)"/><path d="M27.3,388.7h28.5v2.1h-28.5z" fill="url(#a38)"/><path d="M27.3,390.3h28.5v2.1h-28.5z" fill="url(#a39)"/><path d="M27.3,391.9h28.5v2.1h-28.5z" fill="url(#a40)"/><path d="M27.3,393.5h28.5v2.9h-28.5z" fill="url(#a41)"/><path d="M27.3,395.9h28.5v2.9h-28.5z" fill="url(#a42)"/><path d="M27.3,398.3h28.5v2.9h-28.5z" fill="url(#a43)"/><path d="M27.3,400.7h28.5v2.9h-28.5z" fill="url(#a44)"/><path d="M27.3,403.1h28.5v2.9h-28.5z" fill="url(#a45)"/><path d="M27.3,405.5h28.5v2.9h-28.5z" fill="url(#a46)"/><path d="M27.3,407.9h28.5v2.9h-28.5z" fill="url(#a47)"/><path d="M27.3,410.3h28.5v2.9h-28.5z" fill="url(#a48)"/><path d="M27.3,412.7h28.5v2.9h-28.5z" fill="url(#a49)"/><path d="M27.3,415.1h28.5v2.9h-28.5z" fill="url(#a50)"/><path d="M27.3,417.5h28.5v2.9h-28.5z" fill="url(#a51)"/><path d="M27.3,419.9h28.5v2.9h-28.5z" fill="url(#a52)"/><path d="M27.3,422.3h28.5v2.9h-28.5z" fill="url(#a53)"/><path d="M27.3,424.7h28.5v2.9h-28.5z" fill="url(#a54)"/><path d="M27.3,427.1h28.5v2.9h-28.5z" fill="url(#a55)"/><path d="M27.3,429.5h28.5v2.9h-28.5z" fill="url(#a56)"/><path d="M27.3,431.9h28.5v2.9h-28.5z" fill="url(#a57)"/><path d="M27.3,434.3h28.5v2.9h-28.5z" fill="url(#a58)"/><path d="M27.3,436.7h28.5v2.9h-28.5z" fill="url(#a59)"/><path d="M27.3,439.1h28.5v2.9h-28.5z" fill="url(#a60)"/><path d="M27.3,441.5h28.5v2.9h-28.5z" fill="url(#a61)"/><path d="M27.3,443.9h28.5v2.9h-28.5z" fill="url(#a62)"/><path d="M27.3,446.3h28.5v2.9h-28.5z" fill="url(#a63)"/><path d="M27.3,448.7h28.5v2.9h-28.5z" fill="url(#a64)"/><path d="M27.3,451.1h28.5v2.9h-28.5z" fill="url(#a65)"/><path d="M27.3,453.5h28.5v2.9h-28.5z" fill="url(#a66)"/><path d="M27.3,455.9h28.5v2.9h-28.5z" fill="url(#a67)"/><path d="M27.3,458.3h28.5v2.9h-28.5z" fill="url(#a68)"/><path d="M27.3,460.7h28.5v2.9h-28.5z" fill="url(#a69)"/><path d="M27.3,463.1h28.5v2.9h-28.5z" fill="url(#a70)"/><path d="M27.3,465.5h28.5v2.9h-28.5z" fill="url(#a71)"/><path d="M27.3,467.9h28.5v2.9h-28.5z" fill="url(#a72)"/><path d="M27.3,470.3h28.5v2.9h-28.5z" fill="url(#a73)"/><path d="M27.3,472.7h28.5v2.9h-28.5z" fill="url(#a74)"/><path d="M27.3,475.1h28.5v2.9h-28.5z" fill="url(#a75)"/><path d="M27.3,477.5h28.5v2.9h-28.5z" fill="url(#a76)"/><path d="M27.3,479.9h28.5v2.9h-28.5z" fill="url(#a77)"/><path d="M27.3,482.3h28.5v2.9h-28.5z" fill="url(#a78)"/><path d="M27.3,484.7h28.5v2.9h-28.5z" fill="url(#a79)"/><path d="M27.3,487.1h28.5v2.9h-28.5z" fill="url(#a80)"/><path d="M27.3,489.5h28.5v1.8h-28.5z" fill="url(#a81)"/></g><rect x="27.3" y="327.9" width="28.5" height="163.4" fill="none" stroke="#3a3a3a" stroke-width="0.7"/><g shape-rendering="crispEdges"><path d="M82.5,327.9h28v1.8h-28z" fill="url(#b0)"/><path d="M82.5,329.2h28v1.8h-28z" fill="url(#b1)"/><path d="M82.5,330.5h28v1.8h-28z" fill="url(#b2)"/><path d="M82.5,331.8h28v1.8h-28z" fill="url(#b3)"/><path d="M82.5,333.1h28v1.8h-28z" fill="url(#b4)"/><path d="M82.5,334.4h28v1.8h-28z" fill="url(#b5)"/><path d="M82.5,335.7h28v1.8h-28z" fill="url(#b6)"/><path d="M82.5,337h28v1.8h-28z" fill="url(#b7)"/><path d="M82.5,338.3h28v1.8h-28z" fill="url(#b8)"/><path d="M82.5,339.6h28v1.8h-28z" fill="url(#b9)"/><path d="M82.5,340.9h28v1.8h-28z" fill="url(#b10)"/><path d="M82.5,342.2h28v1.8h-28z" fill="url(#b11)"/><path d="M82.5,343.5h28v1.8h-28z" fill="url(#b12)"/><path d="M82.5,344.8h28v1.8h-28z" fill="url(#b13)"/><path d="M82.5,346.1h28v1.8h-28z" fill="url(#b14)"/><path d="M82.5,347.4h28v1.8h-28z" fill="url(#b15)"/><path d="M82.5,348.7h28v1.8h-28z" fill="url(#b16)"/><path d="M82.5,350h28v1.8h-28z" fill="url(#b17)"/><path d="M82.5,351.3h28v1.8h-28z" fill="url(#b18)"/><path d="M82.5,352.6h28v1.8h-28z" fill="url(#b19)"/><path d="M82.5,353.9h28v1.8h-28z" fill="url(#b20)"/><path d="M82.5,355.2h28v1.8h-28z" fill="url(#b21)"/><path d="M82.5,356.5h28v1.8h-28z" fill="url(#b22)"/><path d="M82.5,357.8h28v1.8h-28z" fill="url(#b23)"/><path d="M82.5,359.1h28v1.8h-28z" fill="url(#b24)"/><path d="M82.5,360.4h28v1.8h-28z" fill="url(#b25)"/><path d="M82.5,361.7h28v1.8h-28z" fill="url(#b26)"/><path d="M82.5,363h28v1.8h-28z" fill="url(#b27)"/><path d="M82.5,364.3h28v1.8h-28z" fill="url(#b28)"/><path d="M82.5,365.6h28v1.8h-28z" fill="url(#b29)"/><path d="M82.5,366.9h28v1.8h-28z" fill="url(#b30)"/><path d="M82.5,368.2h28v1.8h-28z" fill="url(#b31)"/><path d="M82.5,369.5h28v1.8h-28z" fill="url(#b32)"/><path d="M82.5,370.8h28v1.8h-28z" fill="url(#b33)"/><path d="M82.5,372.1h28v1.8h-28z" fill="url(#b34)"/><path d="M82.5,373.4h28v1.8h-28z" fill="url(#b35)"/><path d="M82.5,374.7h28v1.8h-28z" fill="url(#b36)"/><path d="M82.5,376h28v1.8h-28z" fill="url(#b37)"/><path d="M82.5,377.3h28v1.8h-28z" fill="url(#b38)"/><path d="M82.5,378.6h28v1.8h-28z" fill="url(#b39)"/><path d="M82.5,379.9h28v1.8h-28z" fill="url(#b40)"/><path d="M82.5,381.2h28v1.8h-28z" fill="url(#b41)"/><path d="M82.5,382.5h28v1.8h-28z" fill="url(#b42)"/><path d="M82.5,383.8h28v1.8h-28z" fill="url(#b43)"/><path d="M82.5,385.1h28v1.8h-28z" fill="url(#b44)"/><path d="M82.5,386.4h28v1.8h-28z" fill="url(#b45)"/><path d="M82.5,387.7h28v1.8h-28z" fill="url(#b46)"/><path d="M82.5,389h28v1.8h-28z" fill="url(#b47)"/><path d="M82.5,390.3h28v1.8h-28z" fill="url(#b48)"/><path d="M82.5,391.6h28v1.8h-28z" fill="url(#b49)"/><path d="M82.5,392.9h28v1.8h-28z" fill="url(#b50)"/><path d="M82.5,394.2h28v1.8h-28z" fill="url(#b51)"/><path d="M82.5,395.5h28v1.8h-28z" fill="url(#b52)"/><path d="M82.5,396.8h28v1.8h-28z" fill="url(#b53)"/><path d="M82.5,398.1h28v1.8h-28z" fill="url(#b54)"/><path d="M82.5,399.4h28v1.8h-28z" fill="url(#b55)"/><path d="M82.5,400.7h28v1.8h-28z" fill="url(#b56)"/><path d="M82.5,402h28v1.8h-28z" fill="url(#b57)"/><path d="M82.5,403.3h28v1.8h-28z" fill="url(#b58)"/><path d="M82.5,404.6h28v1.8h-28z" fill="url(#b59)"/><path d="M82.5,405.9h28v1.8h-28z" fill="url(#b60)"/><path d="M82.5,407.2h28v1.8h-28z" fill="url(#b61)"/><path d="M82.5,408.5h28v1.8h-28z" fill="url(#b62)"/><path d="M82.5,409.8h28v1.8h-28z" fill="url(#b63)"/><path d="M82.5,411.1h28v1.8h-28z" fill="url(#b64)"/><path d="M82.5,412.4h28v1.8h-28z" fill="url(#b65)"/><path d="M82.5,413.7h28v1.8h-28z" fill="url(#b66)"/><path d="M82.5,415h28v1.8h-28z" fill="url(#b67)"/><path d="M82.5,416.3h28v1.8h-28z" fill="url(#b68)"/><path d="M82.5,417.6h28v1.8h-28z" fill="url(#b69)"/><path d="M82.5,418.9h28v1.8h-28z" fill="url(#b70)"/><path d="M82.5,420.2h28v1.8h-28z" fill="url(#b71)"/><path d="M82.5,421.5h28v1.8h-28z" fill="url(#b72)"/><path d="M82.5,422.8h28v1.8h-28z" fill="url(#b73)"/><path d="M82.5,424.1h28v1.8h-28z" fill="url(#b74)"/><path d="M82.5,425.4h28v1.8h-28z" fill="url(#b75)"/><path d="M82.5,426.7h28v1.8h-28z" fill="url(#b76)"/><path d="M82.5,428h28v1.8h-28z" fill="url(#b77)"/><path d="M82.5,429.3h28v1.8h-28z" fill="url(#b78)"/><path d="M82.5,430.6h28v1.8h-28z" fill="url(#b79)"/><path d="M82.5,431.9h28v1.8h-28z" fill="url(#b80)"/><path d="M82.5,433.2h28v1.8h-28z" fill="url(#b81)"/><path d="M82.5,434.5h28v1.8h-28z" fill="url(#b82)"/><path d="M82.5,435.8h28v1.8h-28z" fill="url(#b83)"/><path d="M82.5,437.1h28v1.8h-28z" fill="url(#b84)"/><path d="M82.5,438.4h28v1.8h-28z" fill="url(#b85)"/><path d="M82.5,439.7h28v1.8h-28z" fill="url(#b86)"/><path d="M82.5,441h28v1.8h-28z" fill="url(#b87)"/><path d="M82.5,442.3h28v1.8h-28z" fill="url(#b88)"/><path d="M82.5,443.6h28v1.8h-28z" fill="url(#b89)"/><path d="M82.5,444.9h28v1.8h-28z" fill="url(#b90)"/><path d="M82.5,446.2h28v1.8h-28z" fill="url(#b91)"/><path d="M82.5,447.5h28v1.8h-28z" fill="url(#b92)"/><path d="M82.5,448.8h28v1.8h-28z" fill="url(#b93)"/><path d="M82.5,450.1h28v1.8h-28z" fill="url(#b94)"/><path d="M82.5,451.4h28v1.8h-28z" fill="url(#b95)"/><path d="M82.5,452.7h28v1.8h-28z" fill="url(#b96)"/><path d="M82.5,454h28v1.8h-28z" fill="url(#b97)"/><path d="M82.5,455.3h28v1.8h-28z" fill="url(#b98)"/><path d="M82.5,456.6h28v1.8h-28z" fill="url(#b99)"/><path d="M82.5,457.9h28v1.8h-28z" fill="url(#b100)"/><path d="M82.5,459.2h28v1.8h-28z" fill="url(#b101)"/><path d="M82.5,460.5h28v1.8h-28z" fill="url(#b102)"/><path d="M82.5,461.8h28v1.8h-28z" fill="url(#b103)"/><path d="M82.5,463.1h28v1.8h-28z" fill="url(#b104)"/><path d="M82.5,464.4h28v1.8h-28z" fill="url(#b105)"/><path d="M82.5,465.7h28v1.8h-28z" fill="url(#b106)"/><path d="M82.5,467h28v1.8h-28z" fill="url(#b107)"/><path d="M82.5,468.3h28v1.8h-28z" fill="url(#b108)"/><path d="M82.5,469.6h28v1.8h-28z" fill="url(#b109)"/><path d="M82.5,470.9h28v1.8h-28z" fill="url(#b110)"/><path d="M82.5,472.2h28v1.8h-28z" fill="url(#b111)"/><path d="M82.5,473.5h28v1.8h-28z" fill="url(#b112)"/><path d="M82.5,474.8h28v1.8h-28z" fill="url(#b113)"/><path d="M82.5,476.1h28v1.8h-28z" fill="url(#b114)"/><path d="M82.5,477.4h28v1.8h-28z" fill="url(#b115)"/><path d="M82.5,478.7h28v1.8h-28z" fill="url(#b116)"/><path d="M82.5,480h28v1.8h-28z" fill="url(#b117)"/><path d="M82.5,481.3h28v1.8h-28z" fill="url(#b118)"/><path d="M82.5,482.6h28v1.8h-28z" fill="url(#b119)"/><path d="M82.5,483.9h28v1.8h-28z" fill="url(#b120)"/><path d="M82.5,485.2h28v1.8h-28z" fill="url(#b121)"/><path d="M82.5,486.5h28v1.8h-28z" fill="url(#b122)"/><path d="M82.5,487.8h28v1.8h-28z" fill="url(#b123)"/><path d="M82.5,489.1h28v1.8h-28z" fill="url(#b124)"/><path d="M82.5,490.4h28v0.9h-28z" fill="url(#b125)"/></g><rect x="82.5" y="356.5" width="28" height="0.9" fill="#9fb4d0" opacity="0.55"/><rect x="82.5" y="345.2" width="28" height="0.9" fill="#9fb4d0" opacity="0.55"/><rect x="82.5" y="327.9" width="28" height="163.4" fill="none" stroke="#3a3a3a" stroke-width="0.7"/><g shape-rendering="crispEdges"><path d="M154.3,327.9h29v1.8h-29z" fill="url(#c0)"/><path d="M154.3,329.2h29v1.8h-29z" fill="url(#c1)"/><path d="M154.3,330.5h29v1.8h-29z" fill="url(#c2)"/><path d="M154.3,331.8h29v1.8h-29z" fill="url(#c3)"/><path d="M154.3,333.1h29v1.8h-29z" fill="url(#c4)"/><path d="M154.3,334.4h29v1.8h-29z" fill="url(#c5)"/><path d="M154.3,335.7h29v1.8h-29z" fill="url(#c6)"/><path d="M154.3,337h29v1.8h-29z" fill="url(#c7)"/><path d="M154.3,338.3h29v1.8h-29z" fill="url(#c8)"/><path d="M154.3,339.6h29v1.8h-29z" fill="url(#c9)"/><path d="M154.3,340.9h29v1.8h-29z" fill="url(#c10)"/><path d="M154.3,342.2h29v1.8h-29z" fill="url(#c11)"/><path d="M154.3,343.5h29v1.8h-29z" fill="url(#c12)"/><path d="M154.3,344.8h29v1.8h-29z" fill="url(#c13)"/><path d="M154.3,346.1h29v1.8h-29z" fill="url(#c14)"/><path d="M154.3,347.4h29v1.8h-29z" fill="url(#c15)"/><path d="M154.3,348.7h29v1.8h-29z" fill="url(#c16)"/><path d="M154.3,350h29v1.8h-29z" fill="url(#c17)"/><path d="M154.3,351.3h29v1.8h-29z" fill="url(#c18)"/><path d="M154.3,352.6h29v1.8h-29z" fill="url(#c19)"/><path d="M154.3,353.9h29v1.8h-29z" fill="url(#c20)"/><path d="M154.3,355.2h29v1.8h-29z" fill="url(#c21)"/><path d="M154.3,356.5h29v1.8h-29z" fill="url(#c22)"/><path d="M154.3,357.8h29v1.8h-29z" fill="url(#c23)"/><path d="M154.3,359.1h29v1.8h-29z" fill="url(#c24)"/><path d="M154.3,360.4h29v1.8h-29z" fill="url(#c25)"/><path d="M154.3,361.7h29v1.8h-29z" fill="url(#c26)"/><path d="M154.3,363h29v1.8h-29z" fill="url(#c27)"/><path d="M154.3,364.3h29v1.8h-29z" fill="url(#c28)"/><path d="M154.3,365.6h29v1.8h-29z" fill="url(#c29)"/><path d="M154.3,366.9h29v1.8h-29z" fill="url(#c30)"/><path d="M154.3,368.2h29v1.8h-29z" fill="url(#c31)"/><path d="M154.3,369.5h29v1.8h-29z" fill="url(#c32)"/><path d="M154.3,370.8h29v1.8h-29z" fill="url(#c33)"/><path d="M154.3,372.1h29v1.8h-29z" fill="url(#c34)"/><path d="M154.3,373.4h29v1.8h-29z" fill="url(#c35)"/><path d="M154.3,374.7h29v1.8h-29z" fill="url(#c36)"/><path d="M154.3,376h29v1.8h-29z" fill="url(#c37)"/><path d="M154.3,377.3h29v1.8h-29z" fill="url(#c38)"/><path d="M154.3,378.6h29v1.8h-29z" fill="url(#c39)"/><path d="M154.3,379.9h29v1.8h-29z" fill="url(#c40)"/><path d="M154.3,381.2h29v1.8h-29z" fill="url(#c41)"/><path d="M154.3,382.5h29v1.8h-29z" fill="url(#c42)"/><path d="M154.3,383.8h29v1.8h-29z" fill="url(#c43)"/><path d="M154.3,385.1h29v1.8h-29z" fill="url(#c44)"/><path d="M154.3,386.4h29v1.8h-29z" fill="url(#c45)"/><path d="M154.3,387.7h29v1.8h-29z" fill="url(#c46)"/><path d="M154.3,389h29v1.8h-29z" fill="url(#c47)"/><path d="M154.3,390.3h29v1.8h-29z" fill="url(#c48)"/><path d="M154.3,391.6h29v1.8h-29z" fill="url(#c49)"/><path d="M154.3,392.9h29v1.8h-29z" fill="url(#c50)"/><path d="M154.3,394.2h29v1.8h-29z" fill="url(#c51)"/><path d="M154.3,395.5h29v1.8h-29z" fill="url(#c52)"/><path d="M154.3,396.8h29v1.8h-29z" fill="url(#c53)"/><path d="M154.3,398.1h29v1.8h-29z" fill="url(#c54)"/><path d="M154.3,399.4h29v1.8h-29z" fill="url(#c55)"/><path d="M154.3,400.7h29v1.8h-29z" fill="url(#c56)"/><path d="M154.3,402h29v1.8h-29z" fill="url(#c57)"/><path d="M154.3,403.3h29v1.8h-29z" fill="url(#c58)"/><path d="M154.3,404.6h29v1.8h-29z" fill="url(#c59)"/><path d="M154.3,405.9h29v1.8h-29z" fill="url(#c60)"/><path d="M154.3,407.2h29v1.8h-29z" fill="url(#c61)"/><path d="M154.3,408.5h29v1.8h-29z" fill="url(#c62)"/><path d="M154.3,409.8h29v2.3h-29z" fill="url(#c63)"/><path d="M154.3,411.6h29v2.3h-29z" fill="url(#c64)"/><path d="M154.3,413.4h29v2.3h-29z" fill="url(#c65)"/><path d="M154.3,415.2h29v2.3h-29z" fill="url(#c66)"/><path d="M154.3,417h29v2.3h-29z" fill="url(#c67)"/><path d="M154.3,418.8h29v2.3h-29z" fill="url(#c68)"/><path d="M154.3,420.6h29v2.3h-29z" fill="url(#c69)"/><path d="M154.3,422.4h29v2.3h-29z" fill="url(#c70)"/><path d="M154.3,424.2h29v2.3h-29z" fill="url(#c71)"/><path d="M154.3,426h29v2.3h-29z" fill="url(#c72)"/><path d="M154.3,427.8h29v2.3h-29z" fill="url(#c73)"/><path d="M154.3,429.6h29v2.3h-29z" fill="url(#c74)"/><path d="M154.3,431.4h29v2.3h-29z" fill="url(#c75)"/><path d="M154.3,433.2h29v2.3h-29z" fill="url(#c76)"/><path d="M154.3,435h29v2.3h-29z" fill="url(#c77)"/><path d="M154.3,436.8h29v2.3h-29z" fill="url(#c78)"/><path d="M154.3,438.6h29v2.3h-29z" fill="url(#c79)"/><path d="M154.3,440.4h29v2.3h-29z" fill="url(#c80)"/><path d="M154.3,442.2h29v2.3h-29z" fill="url(#c81)"/><path d="M154.3,444h29v2.3h-29z" fill="url(#c82)"/><path d="M154.3,445.8h29v2.3h-29z" fill="url(#c83)"/><path d="M154.3,447.6h29v2.3h-29z" fill="url(#c84)"/><path d="M154.3,449.4h29v2.3h-29z" fill="url(#c85)"/><path d="M154.3,451.2h29v2.3h-29z" fill="url(#c86)"/><path d="M154.3,453h29v2.3h-29z" fill="url(#c87)"/><path d="M154.3,454.8h29v2.3h-29z" fill="url(#c88)"/><path d="M154.3,456.6h29v2.3h-29z" fill="url(#c89)"/><path d="M154.3,458.4h29v2.3h-29z" fill="url(#c90)"/><path d="M154.3,460.2h29v2.3h-29z" fill="url(#c91)"/><path d="M154.3,462h29v2.3h-29z" fill="url(#c92)"/><path d="M154.3,463.8h29v2.3h-29z" fill="url(#c93)"/><path d="M154.3,465.6h29v2.3h-29z" fill="url(#c94)"/><path d="M154.3,467.4h29v2.3h-29z" fill="url(#c95)"/><path d="M154.3,469.2h29v2.3h-29z" fill="url(#c96)"/><path d="M154.3,471h29v2.3h-29z" fill="url(#c97)"/><path d="M154.3,472.8h29v2.3h-29z" fill="url(#c98)"/><path d="M154.3,474.6h29v2.3h-29z" fill="url(#c99)"/><path d="M154.3,476.4h29v2.3h-29z" fill="url(#c100)"/><path d="M154.3,478.2h29v2.3h-29z" fill="url(#c101)"/><path d="M154.3,480h29v2.3h-29z" fill="url(#c102)"/><path d="M154.3,481.8h29v2.3h-29z" fill="url(#c103)"/><path d="M154.3,483.6h29v2.3h-29z" fill="url(#c104)"/><path d="M154.3,485.4h29v2.3h-29z" fill="url(#c105)"/><path d="M154.3,487.2h29v2.3h-29z" fill="url(#c106)"/><path d="M154.3,489h29v2.3h-29z" fill="url(#c107)"/><path d="M154.3,490.8h29v0.5h-29z" fill="url(#c108)"/></g><rect x="154.3" y="327.9" width="29" height="163.4" fill="none" stroke="#3a3a3a" stroke-width="0.7"/><g shape-rendering="crispEdges"><path d="M209.6,327.9h28.4v1.8h-28.4z" fill="url(#d0)"/><path d="M209.6,329.2h28.4v1.8h-28.4z" fill="url(#d1)"/><path d="M209.6,330.5h28.4v1.8h-28.4z" fill="url(#d2)"/><path d="M209.6,331.8h28.4v1.8h-28.4z" fill="url(#d3)"/><path d="M209.6,333.1h28.4v1.8h-28.4z" fill="url(#d4)"/><path d="M209.6,334.4h28.4v1.8h-28.4z" fill="url(#d5)"/><path d="M209.6,335.7h28.4v1.8h-28.4z" fill="url(#d6)"/><path d="M209.6,337h28.4v1.8h-28.4z" fill="url(#d7)"/><path d="M209.6,338.3h28.4v1.8h-28.4z" fill="url(#d8)"/><path d="M209.6,339.6h28.4v1.8h-28.4z" fill="url(#d9)"/><path d="M209.6,340.9h28.4v1.8h-28.4z" fill="url(#d10)"/><path d="M209.6,342.2h28.4v1.8h-28.4z" fill="url(#d11)"/><path d="M209.6,343.5h28.4v1.8h-28.4z" fill="url(#d12)"/><path d="M209.6,344.8h28.4v1.8h-28.4z" fill="url(#d13)"/><path d="M209.6,346.1h28.4v1.8h-28.4z" fill="url(#d14)"/><path d="M209.6,347.4h28.4v1.8h-28.4z" fill="url(#d15)"/><path d="M209.6,348.7h28.4v1.8h-28.4z" fill="url(#d16)"/><path d="M209.6,350h28.4v1.8h-28.4z" fill="url(#d17)"/><path d="M209.6,351.3h28.4v1.8h-28.4z" fill="url(#d18)"/><path d="M209.6,352.6h28.4v1.8h-28.4z" fill="url(#d19)"/><path d="M209.6,353.9h28.4v1.8h-28.4z" fill="url(#d20)"/><path d="M209.6,355.2h28.4v1.8h-28.4z" fill="url(#d21)"/><path d="M209.6,356.5h28.4v1.8h-28.4z" fill="url(#d22)"/><path d="M209.6,357.8h28.4v1.8h-28.4z" fill="url(#d23)"/><path d="M209.6,359.1h28.4v1.8h-28.4z" fill="url(#d24)"/><path d="M209.6,360.4h28.4v1.8h-28.4z" fill="url(#d25)"/><path d="M209.6,361.7h28.4v1.8h-28.4z" fill="url(#d26)"/><path d="M209.6,363h28.4v1.8h-28.4z" fill="url(#d27)"/><path d="M209.6,364.3h28.4v1.8h-28.4z" fill="url(#d28)"/><path d="M209.6,365.6h28.4v1.8h-28.4z" fill="url(#d29)"/><path d="M209.6,366.9h28.4v1.8h-28.4z" fill="url(#d30)"/><path d="M209.6,368.2h28.4v1.8h-28.4z" fill="url(#d31)"/><path d="M209.6,369.5h28.4v1.8h-28.4z" fill="url(#d32)"/><path d="M209.6,370.8h28.4v1.8h-28.4z" fill="url(#d33)"/><path d="M209.6,372.1h28.4v1.8h-28.4z" fill="url(#d34)"/><path d="M209.6,373.4h28.4v1.8h-28.4z" fill="url(#d35)"/><path d="M209.6,374.7h28.4v1.8h-28.4z" fill="url(#d36)"/><path d="M209.6,376h28.4v1.8h-28.4z" fill="url(#d37)"/><path d="M209.6,377.3h28.4v1.8h-28.4z" fill="url(#d38)"/><path d="M209.6,378.6h28.4v1.8h-28.4z" fill="url(#d39)"/><path d="M209.6,379.9h28.4v1.8h-28.4z" fill="url(#d40)"/><path d="M209.6,381.2h28.4v1.8h-28.4z" fill="url(#d41)"/><path d="M209.6,382.5h28.4v1.8h-28.4z" fill="url(#d42)"/><path d="M209.6,383.8h28.4v1.8h-28.4z" fill="url(#d43)"/><path d="M209.6,385.1h28.4v1.8h-28.4z" fill="url(#d44)"/><path d="M209.6,386.4h28.4v1.8h-28.4z" fill="url(#d45)"/><path d="M209.6,387.7h28.4v1.8h-28.4z" fill="url(#d46)"/><path d="M209.6,389h28.4v1.8h-28.4z" fill="url(#d47)"/><path d="M209.6,390.3h28.4v1.8h-28.4z" fill="url(#d48)"/><path d="M209.6,391.6h28.4v1.8h-28.4z" fill="url(#d49)"/><path d="M209.6,392.9h28.4v1.8h-28.4z" fill="url(#d50)"/><path d="M209.6,394.2h28.4v1.8h-28.4z" fill="url(#d51)"/><path d="M209.6,395.5h28.4v1.8h-28.4z" fill="url(#d52)"/><path d="M209.6,396.8h28.4v1.8h-28.4z" fill="url(#d53)"/><path d="M209.6,398.1h28.4v1.8h-28.4z" fill="url(#d54)"/><path d="M209.6,399.4h28.4v1.8h-28.4z" fill="url(#d55)"/><path d="M209.6,400.7h28.4v1.8h-28.4z" fill="url(#d56)"/><path d="M209.6,402h28.4v1.8h-28.4z" fill="url(#d57)"/><path d="M209.6,403.3h28.4v1.8h-28.4z" fill="url(#d58)"/><path d="M209.6,404.6h28.4v1.8h-28.4z" fill="url(#d59)"/><path d="M209.6,405.9h28.4v1.8h-28.4z" fill="url(#d60)"/><path d="M209.6,407.2h28.4v1.8h-28.4z" fill="url(#d61)"/><path d="M209.6,408.5h28.4v1.8h-28.4z" fill="url(#d62)"/><path d="M209.6,409.8h28.4v1.8h-28.4z" fill="url(#d63)"/><path d="M209.6,411.1h28.4v1.8h-28.4z" fill="url(#d64)"/><path d="M209.6,412.4h28.4v1.8h-28.4z" fill="url(#d65)"/><path d="M209.6,413.7h28.4v1.8h-28.4z" fill="url(#d66)"/><path d="M209.6,415h28.4v1.8h-28.4z" fill="url(#d67)"/><path d="M209.6,416.3h28.4v1.8h-28.4z" fill="url(#d68)"/><path d="M209.6,417.6h28.4v1.8h-28.4z" fill="url(#d69)"/><path d="M209.6,418.9h28.4v1.8h-28.4z" fill="url(#d70)"/><path d="M209.6,420.2h28.4v1.8h-28.4z" fill="url(#d71)"/><path d="M209.6,421.5h28.4v1.8h-28.4z" fill="url(#d72)"/><path d="M209.6,422.8h28.4v1.8h-28.4z" fill="url(#d73)"/><path d="M209.6,424.1h28.4v1.8h-28.4z" fill="url(#d74)"/><path d="M209.6,425.4h28.4v1.8h-28.4z" fill="url(#d75)"/><path d="M209.6,426.7h28.4v1.8h-28.4z" fill="url(#d76)"/><path d="M209.6,428h28.4v1.8h-28.4z" fill="url(#d77)"/><path d="M209.6,429.3h28.4v1.8h-28.4z" fill="url(#d78)"/><path d="M209.6,430.6h28.4v1.8h-28.4z" fill="url(#d79)"/><path d="M209.6,431.9h28.4v1.8h-28.4z" fill="url(#d80)"/><path d="M209.6,433.2h28.4v1.8h-28.4z" fill="url(#d81)"/><path d="M209.6,434.5h28.4v1.8h-28.4z" fill="url(#d82)"/><path d="M209.6,435.8h28.4v1.8h-28.4z" fill="url(#d83)"/><path d="M209.6,437.1h28.4v1.8h-28.4z" fill="url(#d84)"/><path d="M209.6,438.4h28.4v1.8h-28.4z" fill="url(#d85)"/><path d="M209.6,439.7h28.4v1.8h-28.4z" fill="url(#d86)"/><path d="M209.6,441h28.4v1.8h-28.4z" fill="url(#d87)"/><path d="M209.6,442.3h28.4v1.8h-28.4z" fill="url(#d88)"/><path d="M209.6,443.6h28.4v1.8h-28.4z" fill="url(#d89)"/><path d="M209.6,444.9h28.4v1.8h-28.4z" fill="url(#d90)"/><path d="M209.6,446.2h28.4v1.8h-28.4z" fill="url(#d91)"/><path d="M209.6,447.5h28.4v1.8h-28.4z" fill="url(#d92)"/><path d="M209.6,448.8h28.4v1.8h-28.4z" fill="url(#d93)"/><path d="M209.6,450.1h28.4v1.8h-28.4z" fill="url(#d94)"/><path d="M209.6,451.4h28.4v1.8h-28.4z" fill="url(#d95)"/><path d="M209.6,452.7h28.4v1.8h-28.4z" fill="url(#d96)"/><path d="M209.6,454h28.4v1.8h-28.4z" fill="url(#d97)"/><path d="M209.6,455.3h28.4v1.8h-28.4z" fill="url(#d98)"/><path d="M209.6,456.6h28.4v1.8h-28.4z" fill="url(#d99)"/><path d="M209.6,457.9h28.4v1.8h-28.4z" fill="url(#d100)"/><path d="M209.6,459.2h28.4v1.8h-28.4z" fill="url(#d101)"/><path d="M209.6,460.5h28.4v1.8h-28.4z" fill="url(#d102)"/><path d="M209.6,461.8h28.4v1.8h-28.4z" fill="url(#d103)"/><path d="M209.6,463.1h28.4v1.8h-28.4z" fill="url(#d104)"/><path d="M209.6,464.4h28.4v1.8h-28.4z" fill="url(#d105)"/><path d="M209.6,465.7h28.4v1.8h-28.4z" fill="url(#d106)"/><path d="M209.6,467h28.4v1.8h-28.4z" fill="url(#d107)"/><path d="M209.6,468.3h28.4v1.8h-28.4z" fill="url(#d108)"/><path d="M209.6,469.6h28.4v1.8h-28.4z" fill="url(#d109)"/><path d="M209.6,470.9h28.4v1.8h-28.4z" fill="url(#d110)"/><path d="M209.6,472.2h28.4v1.8h-28.4z" fill="url(#d111)"/><path d="M209.6,473.5h28.4v1.8h-28.4z" fill="url(#d112)"/><path d="M209.6,474.8h28.4v1.8h-28.4z" fill="url(#d113)"/><path d="M209.6,476.1h28.4v1.8h-28.4z" fill="url(#d114)"/><path d="M209.6,477.4h28.4v1.8h-28.4z" fill="url(#d115)"/><path d="M209.6,478.7h28.4v1.8h-28.4z" fill="url(#d116)"/><path d="M209.6,480h28.4v1.8h-28.4z" fill="url(#d117)"/><path d="M209.6,481.3h28.4v1.8h-28.4z" fill="url(#d118)"/><path d="M209.6,482.6h28.4v1.8h-28.4z" fill="url(#d119)"/><path d="M209.6,483.9h28.4v1.8h-28.4z" fill="url(#d120)"/><path d="M209.6,485.2h28.4v1.8h-28.4z" fill="url(#d121)"/><path d="M209.6,486.5h28.4v1.8h-28.4z" fill="url(#d122)"/><path d="M209.6,487.8h28.4v1.8h-28.4z" fill="url(#d123)"/><path d="M209.6,489.1h28.4v1.8h-28.4z" fill="url(#d124)"/><path d="M209.6,490.4h28.4v0.9h-28.4z" fill="url(#d125)"/></g><rect x="209.6" y="435.2" width="28.4" height="1.3" fill="#f5efe0"/><rect x="218" y="435.2" width="8" height="1.3" fill="#7f9cc8"/><rect x="209.6" y="327.9" width="28.4" height="163.4" fill="none" stroke="#3a3a3a" stroke-width="0.7"/><rect x="57.3" y="327.9" width="2.7" height="163.4" fill="url(#cb1)" stroke="#555" stroke-width="0.5"/><rect x="56.4" y="327.9" width="0.9" height="163.4" fill="#b4b4b4"/><text x="64.6" y="492.9" font-size="6.6" fill="#333">0</text><text x="64.6" y="457.1" font-size="6.6" fill="#333">5</text><text x="64.6" y="421.3" font-size="6.6" fill="#333">10</text><text x="64.6" y="385.6" font-size="6.6" fill="#333">15</text><text x="64.6" y="349.8" font-size="6.6" fill="#333">20</text><path d="M60,490.8L62.5,490.8M60,454.9L62.5,454.9M60,419.1L62.5,419.1M60,383.4L62.5,383.4M60,347.6L62.5,347.6" stroke="#333" stroke-width="0.7"/><rect x="111.8" y="327.9" width="2.8" height="163.4" fill="url(#cb2)" stroke="#555" stroke-width="0.5"/><rect x="110.9" y="327.9" width="0.9" height="163.4" fill="#b4b4b4"/><text x="117.4" y="492.9" font-size="6.6" fill="#333">0</text><text x="117.4" y="472.1" font-size="6.6" fill="#333">20</text><text x="117.4" y="451.3" font-size="6.6" fill="#333">40</text><text x="117.4" y="430.5" font-size="6.6" fill="#333">60</text><text x="117.4" y="409.7" font-size="6.6" fill="#333">80</text><text x="117.4" y="388.8" font-size="6.6" fill="#333">100</text><text x="117.4" y="368" font-size="6.6" fill="#333">120</text><text x="117.4" y="347.2" font-size="6.6" fill="#333">140</text><path d="M114.6,490.8L117.1,490.8M114.6,469.9L117.1,469.9M114.6,449.1L117.1,449.1M114.6,428.3L117.1,428.3M114.6,407.5L117.1,407.5M114.6,386.6L117.1,386.6M114.6,365.8L117.1,365.8M114.6,345L117.1,345" stroke="#333" stroke-width="0.7"/><rect x="185" y="327.9" width="2.6" height="163.4" fill="url(#cb3)" stroke="#555" stroke-width="0.5"/><rect x="184.1" y="327.9" width="0.9" height="163.4" fill="#b4b4b4"/><text x="192" y="492.9" font-size="6.6" fill="#333">0</text><text x="192" y="467" font-size="6.6" fill="#333">10</text><text x="192" y="441" font-size="6.6" fill="#333">20</text><text x="192" y="415.1" font-size="6.6" fill="#333">30</text><text x="192" y="389.1" font-size="6.6" fill="#333">40</text><text x="192" y="363.1" font-size="6.6" fill="#333">50</text><text x="192" y="337.2" font-size="6.6" fill="#333">60</text><path d="M187.6,490.8L190.1,490.8M187.6,464.8L190.1,464.8M187.6,438.8L190.1,438.8M187.6,412.9L190.1,412.9M187.6,386.9L190.1,386.9M187.6,360.9L190.1,360.9M187.6,335L190.1,335" stroke="#333" stroke-width="0.7"/><rect x="239.6" y="327.9" width="2.6" height="163.4" fill="url(#cb4)" stroke="#555" stroke-width="0.5"/><rect x="238.7" y="327.9" width="0.9" height="163.4" fill="#b4b4b4"/><text x="247.5" y="492.9" font-size="6.6" fill="#333">0</text><text x="247.5" y="461.7" font-size="6.6" fill="#333">10</text><text x="247.5" y="430.4" font-size="6.6" fill="#333">20</text><text x="247.5" y="399.2" font-size="6.6" fill="#333">30</text><text x="247.5" y="367.9" font-size="6.6" fill="#333">40</text><text x="247.5" y="336.7" font-size="6.6" fill="#333">50</text><path d="M242.2,490.8L244.7,490.8M242.2,459.5L244.7,459.5M242.2,428.2L244.7,428.2M242.2,397L244.7,397M242.2,365.8L244.7,365.8M242.2,334.5L244.7,334.5" stroke="#333" stroke-width="0.7"/><clipPath id="cs21"><rect x="134" y="327.9" width="8.6" height="163.4"/></clipPath><g clip-path="url(#cs21)"><path d="M134,327.9h8.6v1.1h-8.6ZM134,328.8h8.6v1.5h-8.6ZM134,330.1h8.6v1.7h-8.6ZM134,339.9h8.6v1.3h-8.6ZM134,348.9h8.6v1.5h-8.6ZM134,358.9h8.6v1.3h-8.6ZM134,360h8.6v1.4h-8.6Z" fill="#ee7a20"/><path d="M134,331.6h8.6v1.7h-8.6ZM134,333.2h8.6v1.1h-8.6ZM134,335h8.6v0.9h-8.6ZM134,342.4h8.6v1.9h-8.6ZM134,355h8.6v1.9h-8.6ZM134,357.8h8.6v1.2h-8.6Z" fill="#f3a22c"/><path d="M134,334h8.6v1.1h-8.6ZM134,338.3h8.6v1.8h-8.6ZM134,341.1h8.6v1.5h-8.6ZM134,344h8.6v1.4h-8.6Z" fill="#ef7f22"/><path d="M134,335.7h8.6v1.3h-8.6ZM134,336.8h8.6v1.7h-8.6ZM134,347.4h8.6v1.7h-8.6ZM134,351.1h8.6v1.8h-8.6Z" fill="#f08a26"/><path d="M134,345.2h8.6v1.5h-8.6ZM134,361.2h8.6v1.3h-8.6ZM134,378.9h8.6v1.1h-8.6ZM134,394.4h8.6v1.6h-8.6ZM134,413.6h8.6v1.7h-8.6ZM134,416.1h8.6v1.9h-8.6ZM134,435.9h8.6v1.6h-8.6ZM134,437.3h8.6v1.7h-8.6ZM134,442.8h8.6v1.2h-8.6ZM134,462.2h8.6v1.4h-8.6ZM134,467.1h8.6v1h-8.6ZM134,487.9h8.6v1.7h-8.6Z" fill="#f5b82e"/><path d="M134,346.6h8.6v1.1h-8.6ZM134,365.2h8.6v0.9h-8.6ZM134,375h8.6v1h-8.6ZM134,389.4h8.6v1.1h-8.6ZM134,422.3h8.6v1h-8.6ZM134,425h8.6v1.7h-8.6ZM134,438.8h8.6v1.3h-8.6ZM134,458.5h8.6v1h-8.6Z" fill="#f7c531"/><path d="M134,350.2h8.6v1.1h-8.6ZM134,363.8h8.6v1.6h-8.6ZM134,391.4h8.6v1.7h-8.6ZM134,399.3h8.6v1.9h-8.6ZM134,403.4h8.6v1.8h-8.6ZM134,410.1h8.6v1.4h-8.6ZM134,424.3h8.6v0.9h-8.6ZM134,460.7h8.6v1.7h-8.6ZM134,463.4h8.6v1.6h-8.6ZM134,470.7h8.6v1.6h-8.6ZM134,473.7h8.6v1.3h-8.6ZM134,475.7h8.6v1h-8.6ZM134,484.3h8.6v1.2h-8.6Z" fill="#f4b42c"/><path d="M134,352.6h8.6v1.1h-8.6ZM134,369.1h8.6v1h-8.6ZM134,379.8h8.6v1.6h-8.6ZM134,420.1h8.6v1.3h-8.6ZM134,426.5h8.6v1.8h-8.6ZM134,459.4h8.6v1.6h-8.6ZM134,474.7h8.6v1.1h-8.6ZM134,478.7h8.6v1.7h-8.6ZM134,482.9h8.6v1.6h-8.6Z" fill="#f7c834"/><path d="M134,353.5h8.6v1.7h-8.6ZM134,367.2h8.6v1.1h-8.6ZM134,368.1h8.6v1.2h-8.6ZM134,372.3h8.6v1.2h-8.6ZM134,384.4h8.6v1.9h-8.6ZM134,418.8h8.6v1.5h-8.6ZM134,434.5h8.6v1.7h-8.6ZM134,439.9h8.6v1.3h-8.6ZM134,441.9h8.6v1.2h-8.6ZM134,447.3h8.6v1.4h-8.6ZM134,448.5h8.6v1h-8.6ZM134,449.3h8.6v1h-8.6ZM134,451.5h8.6v1.2h-8.6ZM134,453.7h8.6v1.1h-8.6ZM134,480.2h8.6v1.5h-8.6ZM134,481.6h8.6v1.6h-8.6Z" fill="#f6c030"/><path d="M134,356.7h8.6v1.4h-8.6ZM134,373.4h8.6v1.8h-8.6ZM134,388h8.6v1.6h-8.6ZM134,405h8.6v0.9h-8.6ZM134,430.3h8.6v1.3h-8.6ZM134,441h8.6v1.1h-8.6ZM134,454.6h8.6v1.7h-8.6ZM134,477.3h8.6v1.6h-8.6ZM134,489.4h8.6v1.1h-8.6Z" fill="#f9d43a"/><path d="M134,362.3h8.6v1.7h-8.6ZM134,375.8h8.6v1.8h-8.6ZM134,382.8h8.6v1.8h-8.6ZM134,395.7h8.6v1.3h-8.6ZM134,397.9h8.6v1.5h-8.6ZM134,401h8.6v0.9h-8.6ZM134,412.3h8.6v1.5h-8.6ZM134,415.1h8.6v1.3h-8.6ZM134,421.2h8.6v1.3h-8.6ZM134,423.2h8.6v1.3h-8.6ZM134,431.3h8.6v1.5h-8.6ZM134,443.8h8.6v1.1h-8.6Z" fill="#f3ac2b"/><path d="M134,365.9h8.6v1.5h-8.6ZM134,401.7h8.6v1.9h-8.6ZM134,411.3h8.6v1.2h-8.6ZM134,433.6h8.6v1.1h-8.6ZM134,445.8h8.6v1.7h-8.6ZM134,450.1h8.6v1.6h-8.6ZM134,452.5h8.6v1.4h-8.6ZM134,464.8h8.6v1.4h-8.6Z" fill="#f8cc36"/><path d="M134,369.9h8.6v1.1h-8.6ZM134,370.8h8.6v1.7h-8.6ZM134,377.4h8.6v1.7h-8.6ZM134,386.1h8.6v0.9h-8.6ZM134,396.8h8.6v1.3h-8.6ZM134,405.7h8.6v1.8h-8.6ZM134,407.3h8.6v1.7h-8.6ZM134,417.8h8.6v1.2h-8.6ZM134,429h8.6v1.4h-8.6ZM134,456.1h8.6v1.3h-8.6ZM134,476.5h8.6v1.1h-8.6Z" fill="#f1a028"/><path d="M134,381.2h8.6v1.9h-8.6ZM134,386.8h8.6v1.4h-8.6ZM134,390.2h8.6v1.3h-8.6ZM134,408.8h8.6v1.5h-8.6ZM134,432.7h8.6v1.1h-8.6ZM134,457.2h8.6v1.6h-8.6ZM134,466h8.6v1.3h-8.6ZM134,467.8h8.6v0.9h-8.6ZM134,469.3h8.6v1.6h-8.6ZM134,472.2h8.6v1.7h-8.6ZM134,485.3h8.6v1.8h-8.6ZM134,486.9h8.6v1.2h-8.6ZM134,490.3h8.6v1.2h-8.6Z" fill="#fbe04a"/><path d="M134,392.8h8.6v1h-8.6ZM134,393.6h8.6v1h-8.6ZM134,428h8.6v1.2h-8.6ZM134,444.8h8.6v1.2h-8.6ZM134,468.6h8.6v0.9h-8.6Z" fill="#f5bd30"/></g><rect x="134" y="327.9" width="8.6" height="163.4" fill="none" stroke="#2a2a2a" stroke-width="0.8"/><clipPath id="cs22"><rect x="261.3" y="327.9" width="7.5" height="163.4"/></clipPath><g clip-path="url(#cs22)"><path d="M261.3,327.9h7.5v1.9h-7.5ZM261.3,330.5h7.5v1.9h-7.5ZM261.3,343.3h7.5v1.3h-7.5ZM261.3,354.5h7.5v1.8h-7.5Z" fill="#f08a26"/><path d="M261.3,329.6h7.5v1.1h-7.5ZM261.3,336h7.5v1.2h-7.5ZM261.3,337h7.5v1.1h-7.5ZM261.3,356.1h7.5v1.2h-7.5ZM261.3,357.8h7.5v1.4h-7.5Z" fill="#f3a22c"/><path d="M261.3,332.2h7.5v1.6h-7.5ZM261.3,342h7.5v1.5h-7.5ZM261.3,346h7.5v1h-7.5ZM261.3,349.3h7.5v1.4h-7.5Z" fill="#f29a2a"/><path d="M261.3,333.6h7.5v1.7h-7.5ZM261.3,335.1h7.5v1.1h-7.5ZM261.3,339.3h7.5v1.6h-7.5ZM261.3,340.7h7.5v1.5h-7.5ZM261.3,350.5h7.5v1.6h-7.5Z" fill="#ef7f22"/><path d="M261.3,337.9h7.5v1.6h-7.5ZM261.3,359.1h7.5v1.3h-7.5ZM261.3,360.2h7.5v1.3h-7.5Z" fill="#ee7a20"/><path d="M261.3,344.4h7.5v1.7h-7.5ZM261.3,375.8h7.5v1.7h-7.5ZM261.3,386.4h7.5v1.7h-7.5ZM261.3,391.7h7.5v1.5h-7.5ZM261.3,401.6h7.5v1.5h-7.5ZM261.3,406.1h7.5v1.1h-7.5ZM261.3,414.1h7.5v1.8h-7.5ZM261.3,417.6h7.5v1.4h-7.5ZM261.3,428h7.5v1.6h-7.5ZM261.3,430.8h7.5v1.7h-7.5ZM261.3,448.4h7.5v1.8h-7.5ZM261.3,480h7.5v1.1h-7.5Z" fill="#f6c030"/><path d="M261.3,346.7h7.5v1.2h-7.5ZM261.3,379.7h7.5v1h-7.5ZM261.3,393h7.5v1.3h-7.5ZM261.3,419.7h7.5v1.6h-7.5ZM261.3,434.5h7.5v1.2h-7.5ZM261.3,457.2h7.5v1.2h-7.5ZM261.3,476.2h7.5v1.1h-7.5Z" fill="#f5bd30"/><path d="M261.3,347.7h7.5v1.8h-7.5ZM261.3,367.3h7.5v1.8h-7.5ZM261.3,370.6h7.5v1.7h-7.5ZM261.3,372.1h7.5v1.6h-7.5ZM261.3,407.8h7.5v1.7h-7.5ZM261.3,415.7h7.5v1.1h-7.5ZM261.3,442.2h7.5v1.3h-7.5ZM261.3,453h7.5v1.6h-7.5ZM261.3,462.5h7.5v1.2h-7.5Z" fill="#f7c834"/><path d="M261.3,351.9h7.5v1.2h-7.5ZM261.3,362h7.5v1.4h-7.5ZM261.3,365.5h7.5v0.9h-7.5ZM261.3,409.3h7.5v1.3h-7.5ZM261.3,425.1h7.5v1.3h-7.5ZM261.3,440.2h7.5v1.1h-7.5ZM261.3,444.5h7.5v1h-7.5ZM261.3,458.1h7.5v1.8h-7.5ZM261.3,478.2h7.5v1h-7.5Z" fill="#fbe04a"/><path d="M261.3,352.9h7.5v1.8h-7.5ZM261.3,357.1h7.5v0.9h-7.5ZM261.3,378.5h7.5v1.4h-7.5ZM261.3,388.9h7.5v0.9h-7.5ZM261.3,403.8h7.5v1h-7.5ZM261.3,433.6h7.5v1.2h-7.5ZM261.3,436.5h7.5v1.2h-7.5ZM261.3,438.7h7.5v1.7h-7.5ZM261.3,452.2h7.5v1h-7.5ZM261.3,459.7h7.5v1.5h-7.5ZM261.3,465.1h7.5v1.8h-7.5ZM261.3,479h7.5v1.2h-7.5ZM261.3,484.2h7.5v1.9h-7.5ZM261.3,487.9h7.5v1.7h-7.5Z" fill="#f8cc36"/><path d="M261.3,361.3h7.5v1h-7.5ZM261.3,396.7h7.5v1.6h-7.5ZM261.3,407.1h7.5v0.9h-7.5ZM261.3,410.3h7.5v1.4h-7.5ZM261.3,423.5h7.5v1.7h-7.5ZM261.3,487.1h7.5v1h-7.5ZM261.3,490.2h7.5v1.2h-7.5Z" fill="#f9d43a"/><path d="M261.3,363.2h7.5v0.9h-7.5ZM261.3,380.5h7.5v1.9h-7.5ZM261.3,398.1h7.5v1.4h-7.5ZM261.3,418.8h7.5v1.2h-7.5ZM261.3,422.6h7.5v1.1h-7.5ZM261.3,437.5h7.5v1.4h-7.5ZM261.3,473.9h7.5v1h-7.5ZM261.3,482.6h7.5v1.8h-7.5Z" fill="#f4b42c"/><path d="M261.3,363.9h7.5v1.8h-7.5ZM261.3,369.8h7.5v1h-7.5ZM261.3,390.6h7.5v1.2h-7.5ZM261.3,399.3h7.5v1.8h-7.5ZM261.3,429.4h7.5v1.5h-7.5ZM261.3,435.5h7.5v1.2h-7.5ZM261.3,443.3h7.5v1.4h-7.5ZM261.3,446.3h7.5v1.4h-7.5ZM261.3,455.9h7.5v1.5h-7.5ZM261.3,474.7h7.5v1.7h-7.5Z" fill="#f3ac2b"/><path d="M261.3,366.3h7.5v1.2h-7.5ZM261.3,383.4h7.5v1.5h-7.5ZM261.3,395h7.5v1.9h-7.5ZM261.3,402.9h7.5v1.1h-7.5ZM261.3,426.2h7.5v1h-7.5ZM261.3,432.3h7.5v1.5h-7.5ZM261.3,447.5h7.5v1.1h-7.5ZM261.3,450h7.5v0.9h-7.5ZM261.3,461h7.5v1.6h-7.5ZM261.3,466.7h7.5v1.6h-7.5ZM261.3,470.4h7.5v1h-7.5ZM261.3,477h7.5v1.3h-7.5ZM261.3,480.9h7.5v1.9h-7.5Z" fill="#f1a028"/><path d="M261.3,368.9h7.5v1.1h-7.5ZM261.3,373.5h7.5v1.6h-7.5ZM261.3,404.6h7.5v1.7h-7.5ZM261.3,416.5h7.5v1.2h-7.5ZM261.3,421.1h7.5v1.7h-7.5ZM261.3,427.1h7.5v1.2h-7.5ZM261.3,445.3h7.5v1.2h-7.5ZM261.3,450.7h7.5v1.7h-7.5ZM261.3,463.5h7.5v1.8h-7.5ZM261.3,468.1h7.5v1.6h-7.5ZM261.3,469.5h7.5v1.1h-7.5ZM261.3,471.2h7.5v1.2h-7.5ZM261.3,489.4h7.5v1h-7.5Z" fill="#f5b82e"/><path d="M261.3,374.9h7.5v1.1h-7.5ZM261.3,377.3h7.5v1.4h-7.5ZM261.3,382.2h7.5v1.4h-7.5ZM261.3,384.7h7.5v1.9h-7.5ZM261.3,387.9h7.5v1.2h-7.5ZM261.3,389.6h7.5v1.3h-7.5ZM261.3,394.1h7.5v1.1h-7.5ZM261.3,400.9h7.5v0.9h-7.5ZM261.3,411.5h7.5v1.8h-7.5ZM261.3,413.1h7.5v1.2h-7.5ZM261.3,441.1h7.5v1.2h-7.5ZM261.3,454.4h7.5v1.7h-7.5ZM261.3,472.2h7.5v1.8h-7.5ZM261.3,485.8h7.5v1.4h-7.5ZM261.3,491.2h7.5v1.7h-7.5Z" fill="#f7c531"/></g><rect x="261.3" y="327.9" width="7.5" height="163.4" fill="none" stroke="#2a2a2a" stroke-width="0.8"/><rect x="27.3" y="298.1" width="28.5" height="23.1" fill="#fff" stroke="#111" stroke-width="1.1"/><path d="M27.3,319.6L27.8,319.6L28.2,319.5L28.7,319.5L29.2,319.4L29.7,319.3L30.1,319.2L30.6,319.1L31.1,319L31.6,318.9L32,318.8L32.5,318.6L33,318.5L33.5,318.3L34,318.1L34.4,317.9L34.9,317.6L35.4,317.4L35.9,317L36.3,316.7L36.8,316.3L37.3,315.9L37.8,315.4L38.2,314.9L38.7,314.3L39.2,313.7L39.6,313L40.1,311L40.6,307L41.1,303L41.5,299L42,303L42.5,307L43,311L43.5,313L43.9,313.7L44.4,314.3L44.9,314.9L45.3,315.4L45.8,315.9L46.3,316.3L46.8,316.7L47.2,317L47.7,317.4L48.2,317.6L48.7,317.9L49.1,318.1L49.6,318.3L50.1,318.5L50.6,318.6L51,318.8L51.5,318.9L52,319L52.5,319.1L52.9,319.2L53.4,319.3L53.9,319.4L54.4,319.5L54.8,319.5L55.3,319.6L55.8,319.6" fill="none" stroke="#3b62a8" stroke-width="0.9"/><text x="21.6" y="304" font-size="6.4" text-anchor="end" fill="#333">6</text><text x="21.6" y="310.9" font-size="6.4" text-anchor="end" fill="#333">4</text><text x="21.6" y="318.1" font-size="6.4" text-anchor="end" fill="#333">2</text><path d="M27.3,321.2L27.3,324M41.5,321.2L41.5,324M55.8,321.2L55.8,324M24.2,301.9L27.3,301.9M24.2,308.8L27.3,308.8M24.2,316L27.3,316" stroke="#1a1a1a" stroke-width="0.8"/><rect x="82.5" y="298.1" width="28.3" height="23.1" fill="#fff" stroke="#111" stroke-width="1.1"/><path d="M82.5,320.3L83,320.2L83.4,320.2L83.9,320.1L84.4,320L84.9,319.8L85.3,319.7L85.8,319.5L86.3,319.3L86.7,319L87.2,318.6L87.7,318.3L88.2,317.8L88.6,317.3L89.1,316.6L89.6,315.9L90,315.1L90.5,314.2L91,313.3L91.5,312.2L91.9,311L92.4,309.7L92.9,308.4L93.3,307L93.8,305.6L94.3,304.2L94.8,302.8L95.2,301.6L95.7,300.5L96.2,299.6L96.7,299.2L97.1,299.6L97.6,300.5L98.1,301.6L98.5,302.8L99,304.2L99.5,305.6L100,307L100.4,308.4L100.9,309.7L101.4,311L101.8,312.2L102.3,313.3L102.8,314.2L103.3,315.1L103.7,315.9L104.2,316.6L104.7,317.3L105.1,317.8L105.6,318.3L106.1,318.6L106.6,319L107,319.3L107.5,319.5L108,319.7L108.4,319.8L108.9,320L109.4,320.1L109.9,320.2L110.3,320.2L110.8,320.3" fill="none" stroke="#3b62a8" stroke-width="0.9"/><text x="75.8" y="303.3" font-size="6.4" text-anchor="end" fill="#333">60</text><text x="75.8" y="311.1" font-size="6.4" text-anchor="end" fill="#333">40</text><text x="75.8" y="319.4" font-size="6.4" text-anchor="end" fill="#333">20</text><path d="M82.5,321.2L82.5,324M96.7,321.2L96.7,324M110.8,321.2L110.8,324M78.6,301.2L82.5,301.2M78.6,309L82.5,309M78.6,317.3L82.5,317.3" stroke="#1a1a1a" stroke-width="0.8"/><rect x="154.2" y="298.1" width="29.5" height="23.1" fill="#fff" stroke="#111" stroke-width="1.1"/><path d="M154.2,318.7L154.7,318.6L155.2,318.4L155.7,318.2L156.2,317.9L156.7,317.7L157.1,317.4L157.6,317L158.1,316.6L158.6,316.2L159.1,315.6L159.6,315.1L160.1,314.4L160.6,313.6L161.1,312.8L161.6,311.8L162.1,310.7L162.6,309.5L163,308.3L163.5,306.9L164,305.6L164.5,304.3L165,303L165.5,301.9L166,301L166.5,300.3L167,299.8L167.5,299.4L168,299.3L168.5,299.2L168.9,299.2L169.4,299.2L169.9,299.3L170.4,299.4L170.9,299.8L171.4,300.3L171.9,301L172.4,301.9L172.9,303L173.4,304.3L173.9,305.6L174.4,306.9L174.8,308.3L175.3,309.5L175.8,310.7L176.3,311.8L176.8,312.8L177.3,313.6L177.8,314.4L178.3,315.1L178.8,315.6L179.3,316.2L179.8,316.6L180.3,317L180.8,317.4L181.2,317.7L181.7,317.9L182.2,318.2L182.7,318.4L183.2,318.6L183.7,318.7" fill="none" stroke="#3b62a8" stroke-width="0.9"/><text x="149" y="307.9" font-size="6.4" text-anchor="end" fill="#333">10</text><text x="149" y="316.6" font-size="6.4" text-anchor="end" fill="#333">5</text><path d="M154.2,321.2L154.2,324M168.9,321.2L168.9,324M183.7,321.2L183.7,324M151.5,305.8L154.2,305.8M151.5,314.5L154.2,314.5" stroke="#1a1a1a" stroke-width="0.8"/><rect x="209.6" y="298.1" width="28.6" height="23.1" fill="#fff" stroke="#111" stroke-width="1.1"/><path d="M209.6,320.3L210.1,320.3L210.6,320.2L211,320.2L211.5,320.2L212,320.1L212.5,320.1L212.9,320L213.4,319.9L213.9,319.8L214.4,319.6L214.8,319.4L215.3,319.1L215.8,318.8L216.3,318.4L216.8,317.9L217.2,317.3L217.7,316.5L218.2,315.6L218.7,314.6L219.1,313.5L219.6,312.1L220.1,310.7L220.6,309.1L221,307.4L221.5,305.7L222,303.9L222.5,302.3L222.9,300.8L223.4,299.6L223.9,299L224.4,299.6L224.9,300.8L225.3,302.3L225.8,303.9L226.3,305.7L226.8,307.4L227.2,309.1L227.7,310.7L228.2,312.1L228.7,313.5L229.1,314.6L229.6,315.6L230.1,316.5L230.6,317.3L231,317.9L231.5,318.4L232,318.8L232.5,319.1L233,319.4L233.4,319.6L233.9,319.8L234.4,319.9L234.9,320L235.3,320.1L235.8,320.1L236.3,320.2L236.8,320.2L237.2,320.2L237.7,320.3L238.2,320.3" fill="none" stroke="#3b62a8" stroke-width="0.9"/><path d="M209.6,321.2L209.6,324M223.9,321.2L223.9,324M238.2,321.2L238.2,324" stroke="#1a1a1a" stroke-width="0.8"/><text x="202.8" y="298.7" font-size="7.3" text-anchor="middle" fill="#333" textLength="5.8" lengthAdjust="spacingAndGlyphs" transform="rotate(-90 202.8 298.7)">25</text><text x="202.8" y="303.8" font-size="7.3" text-anchor="middle" fill="#333" textLength="5.8" lengthAdjust="spacingAndGlyphs" transform="rotate(-90 202.8 303.8)">20</text><text x="202.8" y="308.6" font-size="7.3" text-anchor="middle" fill="#333" textLength="5.8" lengthAdjust="spacingAndGlyphs" transform="rotate(-90 202.8 308.6)">15</text><text x="202.8" y="313.6" font-size="7.3" text-anchor="middle" fill="#333" textLength="5.8" lengthAdjust="spacingAndGlyphs" transform="rotate(-90 202.8 313.6)">10</text><text x="202.8" y="318.6" font-size="7.3" text-anchor="middle" fill="#333" textLength="2.9" lengthAdjust="spacingAndGlyphs" transform="rotate(-90 202.8 318.6)">5</text><path d="M206.9,298.7L209.6,298.7M206.9,303.8L209.6,303.8M206.9,308.6L209.6,308.6M206.9,313.6L209.6,313.6M206.9,318.6L209.6,318.6" stroke="#1a1a1a" stroke-width="0.8"/><text x="8.6" y="283.1" font-size="11.6" fill="#000" font-weight="bold">B</text><text x="74.5" y="283.8" font-size="9.4" text-anchor="middle" fill="#333" textLength="11" lengthAdjust="spacingAndGlyphs">CP</text><text x="204.3" y="283.8" font-size="9.4" text-anchor="middle" fill="#333" textLength="11" lengthAdjust="spacingAndGlyphs">BC</text><path d="M27.5,286.7L121.8,286.7M154.8,286.7L251.8,286.7" stroke="#3a3a3a" stroke-width="0.9"/><text x="41.5" y="294.6" font-size="6.6" text-anchor="middle" fill="#444" textLength="14" lengthAdjust="spacingAndGlyphs">BMI1</text><text x="96.5" y="294.6" font-size="6.6" text-anchor="middle" fill="#444" textLength="15.4" lengthAdjust="spacingAndGlyphs">EZH2</text><text x="168.9" y="294.6" font-size="6.6" text-anchor="middle" fill="#444" textLength="14" lengthAdjust="spacingAndGlyphs">BMI1</text><text x="224" y="294.6" font-size="6.6" text-anchor="middle" fill="#444" textLength="15.4" lengthAdjust="spacingAndGlyphs">EZH2</text><text x="24.3" y="409.7" font-size="9.8" text-anchor="middle" stroke="#231f20" stroke-width="0.12" textLength="24.7" lengthAdjust="spacingAndGlyphs" transform="rotate(-90 24.3 409.7)">Genes</text><path d="M27.3,491.3L27.3,494.1M41.5,491.3L41.5,494.1M55.8,491.3L55.8,494.1" stroke="#1a1a1a" stroke-width="0.8"/><text x="27.3" y="501.4" font-size="7.3" text-anchor="middle" fill="#222" textLength="12.5" lengthAdjust="spacingAndGlyphs">-5kb</text><text x="41.5" y="501.4" font-size="7.3" text-anchor="middle" fill="#222" textLength="10.5" lengthAdjust="spacingAndGlyphs">TSS</text><text x="58.3" y="501.4" font-size="7.3" text-anchor="middle" fill="#222" textLength="14.2" lengthAdjust="spacingAndGlyphs">+5kb</text><path d="M82.5,491.3L82.5,494.1M96.5,491.3L96.5,494.1M110.5,491.3L110.5,494.1" stroke="#1a1a1a" stroke-width="0.8"/><text x="82.5" y="501.4" font-size="7.3" text-anchor="middle" fill="#222" textLength="12.5" lengthAdjust="spacingAndGlyphs">-5kb</text><text x="96.5" y="501.4" font-size="7.3" text-anchor="middle" fill="#222" textLength="10.5" lengthAdjust="spacingAndGlyphs">TSS</text><text x="113" y="501.4" font-size="7.3" text-anchor="middle" fill="#222" textLength="14.2" lengthAdjust="spacingAndGlyphs">+5kb</text><path d="M154.3,491.3L154.3,494.1M168.8,491.3L168.8,494.1M183.3,491.3L183.3,494.1" stroke="#1a1a1a" stroke-width="0.8"/><text x="154.3" y="501.4" font-size="7.3" text-anchor="middle" fill="#222" textLength="12.5" lengthAdjust="spacingAndGlyphs">-5kb</text><text x="168.8" y="501.4" font-size="7.3" text-anchor="middle" fill="#222" textLength="10.5" lengthAdjust="spacingAndGlyphs">TSS</text><text x="185.8" y="501.4" font-size="7.3" text-anchor="middle" fill="#222" textLength="14.2" lengthAdjust="spacingAndGlyphs">+5kb</text><path d="M209.6,491.3L209.6,494.1M223.8,491.3L223.8,494.1M238,491.3L238,494.1" stroke="#1a1a1a" stroke-width="0.8"/><text x="209.6" y="501.4" font-size="7.3" text-anchor="middle" fill="#222" textLength="12.5" lengthAdjust="spacingAndGlyphs">-5kb</text><text x="223.8" y="501.4" font-size="7.3" text-anchor="middle" fill="#222" textLength="10.5" lengthAdjust="spacingAndGlyphs">TSS</text><text x="240.5" y="501.4" font-size="7.3" text-anchor="middle" fill="#222" textLength="14.2" lengthAdjust="spacingAndGlyphs">+5kb</text><rect x="289.6" y="435.0" width="11.1" height="32.5" fill="url(#exl)" stroke="#111" stroke-width="0.9"/><text x="284.3" y="439.2" font-size="6.4" text-anchor="end" fill="#333">14</text><text x="284.3" y="446.7" font-size="6.4" text-anchor="end" fill="#333">12</text><text x="284.3" y="454.1" font-size="6.4" text-anchor="end" fill="#333">10</text><text x="284.3" y="461.6" font-size="6.4" text-anchor="end" fill="#333">8</text><text x="284.3" y="469.2" font-size="6.4" text-anchor="end" fill="#333">6</text><path d="M286.5,437L289.6,437M286.5,444.5L289.6,444.5M286.5,451.9L289.6,451.9M286.5,459.4L289.6,459.4M286.5,467L289.6,467" stroke="#222" stroke-width="0.8"/><text x="289.8" y="423.8" font-size="6.7" fill="#222" textLength="14.2" lengthAdjust="spacingAndGlyphs">Expr.</text><text x="289.8" y="431.2" font-size="6.7" fill="#222" textLength="11.8" lengthAdjust="spacingAndGlyphs">high</text><text x="289.8" y="475.2" font-size="6.7" fill="#222" textLength="14.2" lengthAdjust="spacingAndGlyphs">Expr.</text><text x="289.8" y="482.2" font-size="6.7" fill="#222" textLength="9.8" lengthAdjust="spacingAndGlyphs">low</text><text x="315.6" y="336.6" font-size="11" fill="#000" font-weight="bold">C</text><text x="389.4" y="347.4" font-size="9.8" stroke="#231f20" stroke-width="0.12" textLength="53.9" lengthAdjust="spacingAndGlyphs">Top GO terms</text><ellipse cx="426.5" cy="366.2" rx="21" ry="16" fill="#a3b3d0"/><ellipse cx="408.7" cy="366.5" rx="26.5" ry="15.6" fill="#62a83c"/><ellipse cx="426.5" cy="366.2" rx="21" ry="16" fill="#4d7b5e" clip-path="url(#cg)"/><ellipse cx="408.7" cy="366.5" rx="26.5" ry="15.6" fill="none" stroke="#1e1e1e" stroke-width="0.8"/><ellipse cx="426.5" cy="366.2" rx="21" ry="16" fill="none" stroke="#1e1e1e" stroke-width="0.8"/><text x="396.7" y="368.8" font-size="6" text-anchor="middle" fill="#111" textLength="12" lengthAdjust="spacingAndGlyphs">6347</text><text x="419" y="368.8" font-size="6" text-anchor="middle" fill="#fff" textLength="12" lengthAdjust="spacingAndGlyphs">3329</text><text x="439" y="368.8" font-size="6" text-anchor="middle" fill="#111" textLength="8.5" lengthAdjust="spacingAndGlyphs">812</text><text x="363.5" y="354.8" font-size="6" fill="#6aaa46" textLength="25" lengthAdjust="spacingAndGlyphs">BMI1 ChIP</text><text x="449.5" y="355.4" font-size="6" fill="#3d5a9e" textLength="25.5" lengthAdjust="spacingAndGlyphs">EZH2 ChIP</text><path d="M391.5,370.2L382.8,376.2" stroke="#000" stroke-width="2.2"/><path d="M379.3,378.6L381.6,374.3L384.1,378Z" fill="#000"/><path d="M421,375.5L421,382.3" stroke="#000" stroke-width="2.2"/><path d="M421,386.6L418.8,382.3L423.2,382.3Z" fill="#000"/><path d="M440.5,370L448,373.8" stroke="#000" stroke-width="2.2"/><path d="M451.8,375.8L447,375.8L449,371.9Z" fill="#000"/><text x="455.9" y="364.8" font-size="6.2" fill="#3d5a9e" textLength="56" lengthAdjust="spacingAndGlyphs">Developmental process</text><text x="455.9" y="371.2" font-size="6.2" fill="#3d5a9e" textLength="32.5" lengthAdjust="spacingAndGlyphs">Cell adhesion</text><text x="455.9" y="377.7" font-size="6.2" fill="#3d5a9e" textLength="43.5" lengthAdjust="spacingAndGlyphs">Synaptic signaling</text><text x="455.9" y="384.2" font-size="6.2" fill="#3d5a9e" textLength="31" lengthAdjust="spacingAndGlyphs">Ion transport</text><text x="315.4" y="386.1" font-size="6.2" fill="#6aaa46" textLength="59.1" lengthAdjust="spacingAndGlyphs">Leukocyte differentiation</text><text x="315.4" y="392.5" font-size="6.2" fill="#6aaa46" textLength="28.5" lengthAdjust="spacingAndGlyphs">Hemopoiesis</text><text x="315.4" y="398.8" font-size="6.2" fill="#6aaa46" textLength="54" lengthAdjust="spacingAndGlyphs">Inflammatory response</text><text x="315.4" y="405.2" font-size="6.2" fill="#6aaa46" textLength="42.5" lengthAdjust="spacingAndGlyphs">Apoptotic process</text><text x="391.3" y="395.7" font-size="6.2" fill="#111" textLength="56.3" lengthAdjust="spacingAndGlyphs">Developmental process</text><text x="391.3" y="401.9" font-size="6.2" fill="#111" textLength="43.5" lengthAdjust="spacingAndGlyphs">Synaptic signaling</text><text x="391.3" y="408.2" font-size="6.2" fill="#111" textLength="99.6" lengthAdjust="spacingAndGlyphs">Regulation of cell population proliferation</text><text x="391.3" y="414.4" font-size="6.2" fill="#111" textLength="58" lengthAdjust="spacingAndGlyphs">Regulation of cell death</text><text x="316" y="432.7" font-size="11" fill="#000" font-weight="bold">D</text><text x="389.4" y="437.3" font-size="9.8" stroke="#231f20" stroke-width="0.12" textLength="53.9" lengthAdjust="spacingAndGlyphs">Top GO terms</text><ellipse cx="425.0" cy="451.7" rx="25.5" ry="11.1" fill="#62a83c" stroke="#1e1e1e" stroke-width="0.8"/><ellipse cx="402.0" cy="450.3" rx="21.8" ry="10.1" fill="none" stroke="#c0223f" stroke-width="1.1"/><text x="391.5" y="453.9" font-size="6" text-anchor="middle" fill="#111" textLength="8.8" lengthAdjust="spacingAndGlyphs">962</text><text x="411.5" y="453.9" font-size="6" text-anchor="middle" fill="#111" textLength="8.8" lengthAdjust="spacingAndGlyphs">626</text><text x="436" y="453.9" font-size="6" text-anchor="middle" fill="#111" textLength="12" lengthAdjust="spacingAndGlyphs">9050</text><text x="361.9" y="452.7" font-size="6" fill="#c0223f" textLength="12.5" lengthAdjust="spacingAndGlyphs">BMI1i</text><text x="361.9" y="459.5" font-size="6" fill="#c0223f" textLength="20" lengthAdjust="spacingAndGlyphs">up/down</text><text x="452.7" y="454.1" font-size="6" fill="#6aaa46" textLength="25" lengthAdjust="spacingAndGlyphs">BMI1 ChIP</text><path d="M407.5,457.6L402.7,463.6" stroke="#000" stroke-width="2.2"/><path d="M400,467L401,462.3L404.4,465Z" fill="#000"/><path d="M414,457.6L417.3,463.3" stroke="#000" stroke-width="2.2"/><path d="M419.5,467L415.4,464.4L419.2,462.2Z" fill="#000"/><text x="352.2" y="477" font-size="6.2" fill="#000" font-weight="bold" textLength="48.2" lengthAdjust="spacingAndGlyphs">Upregulated genes</text><text x="421.2" y="477" font-size="6.2" fill="#000" font-weight="bold" textLength="55.2" lengthAdjust="spacingAndGlyphs">Downregulated genes</text><text x="352.2" y="483.4" font-size="6.2" fill="#111" textLength="28.5" lengthAdjust="spacingAndGlyphs">Hemopoiesis</text><text x="352.2" y="489.7" font-size="6.2" fill="#111" textLength="42.5" lengthAdjust="spacingAndGlyphs">Apoptotic process</text><text x="352.2" y="496" font-size="6.2" fill="#111" textLength="45" lengthAdjust="spacingAndGlyphs">Response to stress</text><text x="352.2" y="502.3" font-size="6.2" fill="#111" textLength="59.3" lengthAdjust="spacingAndGlyphs">Leukocyte differentiation</text><text x="421.3" y="483" font-size="6.2" fill="#111" textLength="24" lengthAdjust="spacingAndGlyphs">Cell cycle</text><text x="421.3" y="489.4" font-size="6.2" fill="#111" textLength="30.5" lengthAdjust="spacingAndGlyphs">Cell division</text><text x="421.3" y="495.7" font-size="6.2" fill="#111" textLength="54.5" lengthAdjust="spacingAndGlyphs">Response to wounding</text><text x="421.3" y="502.1" font-size="6.2" fill="#111" textLength="56" lengthAdjust="spacingAndGlyphs">Developmental process</text><text x="8.7" y="523" font-size="11" fill="#000" font-weight="bold">E</text><text x="30.5" y="524.9" font-size="9.2" fill="#231f20" stroke="#231f20" stroke-width="0.12" textLength="201.2" lengthAdjust="spacingAndGlyphs">BMI1/EZH2 binding in CML at <tspan fill="#c0223f" stroke="#c0223f">hyper</tspan>methylated sites</text><text x="131" y="534.3" font-size="9.3" text-anchor="middle" stroke="#231f20" stroke-width="0.12" textLength="83" lengthAdjust="spacingAndGlyphs">(≥ 2 out of 6 samples)</text><rect x="39.5" y="538.5" width="184" height="132" fill="none" stroke="#000" stroke-width="1.05"/><path d="M61.4,538.5L61.4,670.5M39.5,643.2L223.5,643.2" stroke="#c0223f" stroke-width="0.9" stroke-dasharray="3 2.2" fill="none"/><text x="31.7" y="672.3" font-size="6.9" text-anchor="middle" fill="#222" textLength="3.3" lengthAdjust="spacingAndGlyphs">0</text><text x="31.7" y="645.5" font-size="6.9" text-anchor="middle" fill="#222" textLength="3.3" lengthAdjust="spacingAndGlyphs">1</text><text x="31.7" y="618.7" font-size="6.9" text-anchor="middle" fill="#222" textLength="3.3" lengthAdjust="spacingAndGlyphs">2</text><text x="31.7" y="591.9" font-size="6.9" text-anchor="middle" fill="#222" textLength="3.3" lengthAdjust="spacingAndGlyphs">3</text><text x="31.7" y="565.1" font-size="6.9" text-anchor="middle" fill="#222" textLength="3.3" lengthAdjust="spacingAndGlyphs">4</text><text x="47.5" y="683.3" font-size="6.9" text-anchor="middle" fill="#222" textLength="3.3" lengthAdjust="spacingAndGlyphs">0</text><text x="100.8" y="683.3" font-size="6.9" text-anchor="middle" fill="#222" textLength="3.3" lengthAdjust="spacingAndGlyphs">5</text><text x="154.1" y="683.3" font-size="6.9" text-anchor="middle" fill="#222" textLength="6.6" lengthAdjust="spacingAndGlyphs">10</text><text x="207.4" y="683.3" font-size="6.9" text-anchor="middle" fill="#222" textLength="6.6" lengthAdjust="spacingAndGlyphs">15</text><path d="M36.7,670L39.5,670M36.7,643.2L39.5,643.2M36.7,616.4L39.5,616.4M36.7,589.6L39.5,589.6M36.7,562.8L39.5,562.8M47.5,670.5L47.5,673.3M100.8,670.5L100.8,673.3M154.1,670.5L154.1,673.3M207.4,670.5L207.4,673.3" stroke="#111" stroke-width="0.8"/><text x="22.8" y="604.3" font-size="7.9" text-anchor="middle" fill="#222" stroke="#222" stroke-width="0.12" textLength="34.6" lengthAdjust="spacingAndGlyphs" transform="rotate(-90 22.8 604.3)">Enrichment</text><text x="131.3" y="694" font-size="8.9" text-anchor="middle" fill="#222" stroke="#222" stroke-width="0.12" textLength="55" lengthAdjust="spacingAndGlyphs">−1*log10(pvalue)</text><text x="65.6" y="546.6" font-size="6.2" fill="#c0223f" textLength="41.5" lengthAdjust="spacingAndGlyphs">p value = 0.05</text><text x="209.5" y="653.1" font-size="6.2" text-anchor="end" fill="#c0223f" textLength="43.7" lengthAdjust="spacingAndGlyphs">enrichment = 1</text><circle cx="214.5" cy="544.5" r="2.7" fill="#a0102c"/><circle cx="214.5" cy="577" r="2.7" fill="#a0102c"/><circle cx="47.5" cy="658.2" r="2.7" fill="#a0102c"/><circle cx="47.5" cy="661" r="2.7" fill="#a0102c"/><text x="209.5" y="546.7" font-size="6.2" text-anchor="end" textLength="30" lengthAdjust="spacingAndGlyphs">EZH2 only</text><text x="209.5" y="579.2" font-size="6.2" text-anchor="end" textLength="44.5" lengthAdjust="spacingAndGlyphs">BMI1 and EZH2</text><path d="M48.5,656.2L54.2,648.2M49.5,660.5L55.6,657.0" stroke="#111" stroke-width="0.8"/><text x="55.5" y="650.3" font-size="6.2" textLength="28.7" lengthAdjust="spacingAndGlyphs">BMI1 only</text><text x="57" y="658.7" font-size="6.2" textLength="66" lengthAdjust="spacingAndGlyphs">neither BMI1 nor EZH2</text><text x="254.2" y="523" font-size="11" fill="#000" font-weight="bold">F</text><text x="277.1" y="524.0" font-size="9.2" fill="#231f20" stroke="#231f20" stroke-width="0.12" textLength="198.2" lengthAdjust="spacingAndGlyphs">BMI1/EZH2 binding in CML at <tspan fill="#3d5a9e" stroke="#3d5a9e">hypo</tspan>methylated sites</text><text x="375.9" y="533.9" font-size="9.3" text-anchor="middle" stroke="#231f20" stroke-width="0.12" textLength="83.3" lengthAdjust="spacingAndGlyphs">(≥ 2 out of 6 samples)</text><rect x="284.5" y="538.5" width="184" height="132" fill="none" stroke="#000" stroke-width="1.05"/><path d="M306.3,538.5L306.3,670.5M284.5,643.2L468.5,643.2" stroke="#c0223f" stroke-width="0.9" stroke-dasharray="3 2.2" fill="none"/><text x="276.7" y="672.3" font-size="6.9" text-anchor="middle" fill="#222" textLength="3.3" lengthAdjust="spacingAndGlyphs">0</text><text x="276.7" y="645.5" font-size="6.9" text-anchor="middle" fill="#222" textLength="3.3" lengthAdjust="spacingAndGlyphs">1</text><text x="276.7" y="618.7" font-size="6.9" text-anchor="middle" fill="#222" textLength="3.3" lengthAdjust="spacingAndGlyphs">2</text><text x="276.7" y="591.9" font-size="6.9" text-anchor="middle" fill="#222" textLength="3.3" lengthAdjust="spacingAndGlyphs">3</text><text x="276.7" y="565.1" font-size="6.9" text-anchor="middle" fill="#222" textLength="3.3" lengthAdjust="spacingAndGlyphs">4</text><text x="292.4" y="683.3" font-size="6.9" text-anchor="middle" fill="#222" textLength="3.3" lengthAdjust="spacingAndGlyphs">0</text><text x="345.7" y="683.3" font-size="6.9" text-anchor="middle" fill="#222" textLength="3.3" lengthAdjust="spacingAndGlyphs">5</text><text x="399" y="683.3" font-size="6.9" text-anchor="middle" fill="#222" textLength="6.6" lengthAdjust="spacingAndGlyphs">10</text><text x="452.3" y="683.3" font-size="6.9" text-anchor="middle" fill="#222" textLength="6.6" lengthAdjust="spacingAndGlyphs">15</text><path d="M281.7,670L284.5,670M281.7,643.2L284.5,643.2M281.7,616.4L284.5,616.4M281.7,589.6L284.5,589.6M281.7,562.8L284.5,562.8M292.4,670.5L292.4,673.3M345.7,670.5L345.7,673.3M399,670.5L399,673.3M452.3,670.5L452.3,673.3" stroke="#111" stroke-width="0.8"/><text x="267.7" y="604.3" font-size="7.9" text-anchor="middle" fill="#222" stroke="#222" stroke-width="0.12" textLength="34.6" lengthAdjust="spacingAndGlyphs" transform="rotate(-90 267.7 604.3)">Enrichment</text><text x="375.2" y="694" font-size="8.9" text-anchor="middle" fill="#222" stroke="#222" stroke-width="0.12" textLength="55" lengthAdjust="spacingAndGlyphs">−1*log10(pvalue)</text><text x="310.5" y="546.6" font-size="6.2" fill="#c0223f" textLength="41.5" lengthAdjust="spacingAndGlyphs">p value = 0.05</text><text x="459" y="651" font-size="6.2" text-anchor="end" fill="#c0223f" textLength="43.5" lengthAdjust="spacingAndGlyphs">enrichment = 1</text><circle cx="419" cy="635" r="2.6" fill="#24478a"/><circle cx="292.6" cy="659.2" r="2.6" fill="#24478a"/><circle cx="292.6" cy="661.8" r="2.6" fill="#24478a"/><circle cx="292.6" cy="663.8" r="2.6" fill="#24478a"/><text x="411" y="636.6" font-size="6.2" text-anchor="end" textLength="65.7" lengthAdjust="spacingAndGlyphs">neither BMI1 nor EZH2</text><path d="M293.6,657.2L298.2,650.6M294.2,660.6L299.2,658.6M294.4,663.6L299.4,665.4" stroke="#111" stroke-width="0.8"/><text x="298.6" y="653.5" font-size="6.2" textLength="29" lengthAdjust="spacingAndGlyphs">BMI1 only</text><text x="299.7" y="661.8" font-size="6.2" textLength="29.3" lengthAdjust="spacingAndGlyphs">EZH2 only</text><text x="299.7" y="669.1" font-size="6.2" textLength="45" lengthAdjust="spacingAndGlyphs">BMI1 and EZH2</text></svg></body></html>
